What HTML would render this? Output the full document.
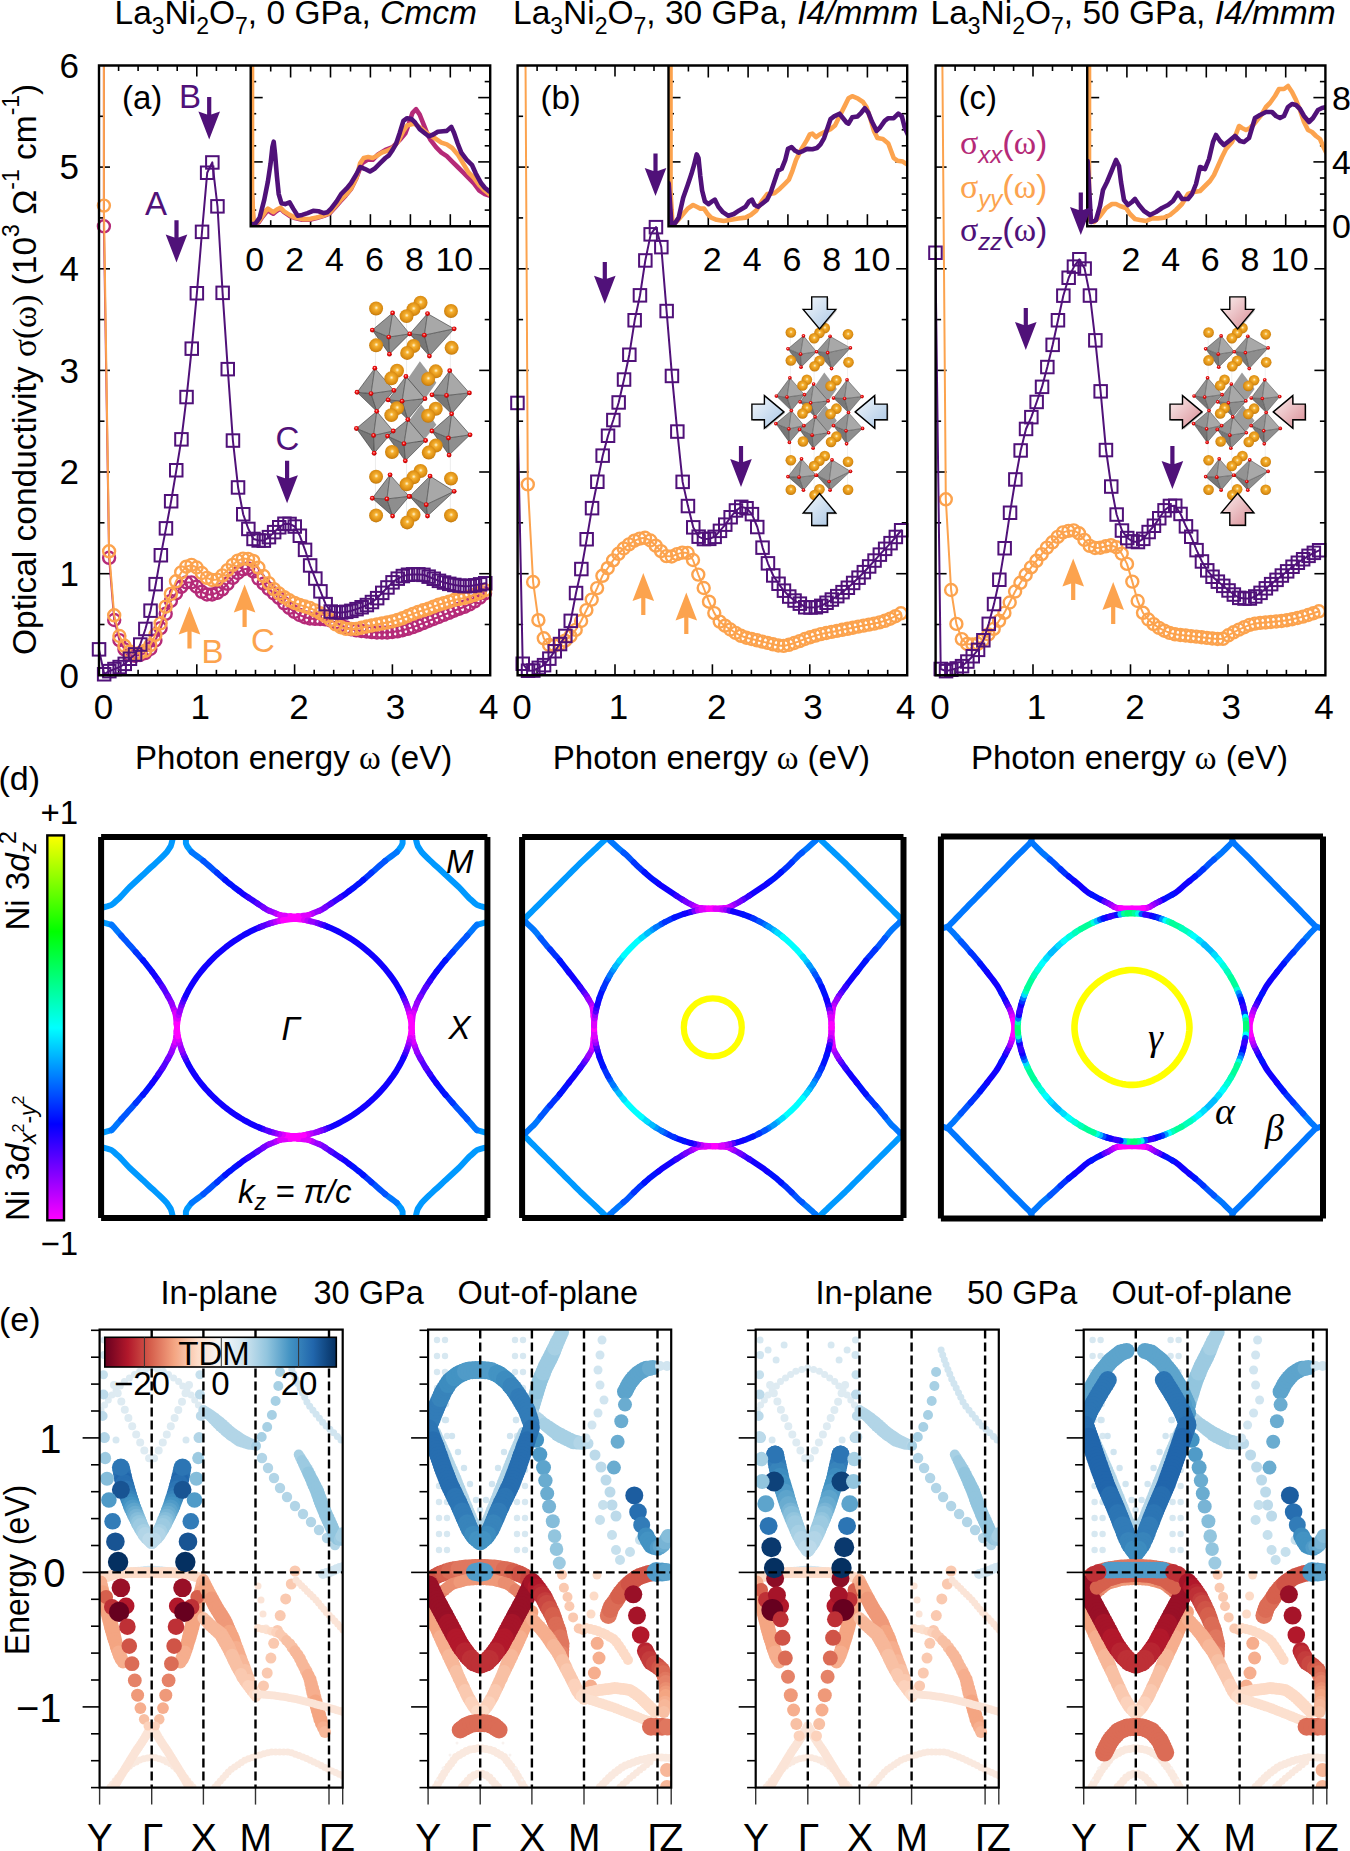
<!DOCTYPE html><html><head><meta charset="utf-8"><style>html,body{margin:0;padding:0;background:#fff;overflow:hidden}svg{display:block}</style></head><body><svg width="1350" height="1851" viewBox="0 0 1350 1851" font-family="Liberation Sans">
<rect width="100%" height="100%" fill="#fff"/>
<defs>
<clipPath id="clipa"><rect x="99.0" y="65.5" width="391.2" height="609.8"/></clipPath>
<clipPath id="iclipa"><rect x="250.7" y="65.5" width="239.5" height="160.7"/></clipPath>
<clipPath id="clipb"><rect x="517.6" y="65.5" width="389.6" height="609.8"/></clipPath>
<clipPath id="iclipb"><rect x="668.5" y="65.5" width="238.70000000000005" height="160.7"/></clipPath>
<clipPath id="clipc"><rect x="935.6" y="65.5" width="389.80000000000007" height="609.8"/></clipPath>
<clipPath id="iclipc"><rect x="1087.2" y="65.5" width="238.20000000000005" height="160.7"/></clipPath>
<radialGradient id="gSph" cx="0.5" cy="0.45" r="0.6" fx="0.52" fy="0.45"><stop offset="0" stop-color="#fff8d8"/><stop offset="0.25" stop-color="#f5b030"/><stop offset="0.75" stop-color="#d98a10"/><stop offset="1" stop-color="#a86a10"/></radialGradient>
<radialGradient id="gO" cx="0.45" cy="0.4" r="0.6"><stop offset="0" stop-color="#ffd0d0"/><stop offset="0.4" stop-color="#f01010"/><stop offset="1" stop-color="#b00000"/></radialGradient>
<linearGradient id="gFaceL" x1="0" y1="0" x2="1" y2="1"><stop offset="0" stop-color="#8c8c8c"/><stop offset="1" stop-color="#6a6a6a"/></linearGradient>
<linearGradient id="gFaceR" x1="0" y1="0" x2="1" y2="1"><stop offset="0" stop-color="#b4b4b4"/><stop offset="1" stop-color="#8a8a8a"/></linearGradient>
<linearGradient id="gArrB" x1="0" y1="0" x2="1" y2="1"><stop offset="0" stop-color="#f4f8fc"/><stop offset="1" stop-color="#a9c6e4"/></linearGradient>
<linearGradient id="gArrR" x1="0" y1="0" x2="1" y2="1"><stop offset="0" stop-color="#fbf0f0"/><stop offset="1" stop-color="#d98c94"/></linearGradient>
</defs>
<line x1="118.6" y1="675.3" x2="118.6" y2="669.8" stroke="#000" stroke-width="1.6" />
<line x1="118.6" y1="65.5" x2="118.6" y2="71.0" stroke="#000" stroke-width="1.6" />
<line x1="138.1" y1="675.3" x2="138.1" y2="669.8" stroke="#000" stroke-width="1.6" />
<line x1="138.1" y1="65.5" x2="138.1" y2="71.0" stroke="#000" stroke-width="1.6" />
<line x1="157.7" y1="675.3" x2="157.7" y2="669.8" stroke="#000" stroke-width="1.6" />
<line x1="157.7" y1="65.5" x2="157.7" y2="71.0" stroke="#000" stroke-width="1.6" />
<line x1="177.2" y1="675.3" x2="177.2" y2="669.8" stroke="#000" stroke-width="1.6" />
<line x1="177.2" y1="65.5" x2="177.2" y2="71.0" stroke="#000" stroke-width="1.6" />
<line x1="196.8" y1="675.3" x2="196.8" y2="664.3" stroke="#000" stroke-width="1.6" />
<line x1="196.8" y1="65.5" x2="196.8" y2="76.5" stroke="#000" stroke-width="1.6" />
<line x1="216.4" y1="675.3" x2="216.4" y2="669.8" stroke="#000" stroke-width="1.6" />
<line x1="216.4" y1="65.5" x2="216.4" y2="71.0" stroke="#000" stroke-width="1.6" />
<line x1="235.9" y1="675.3" x2="235.9" y2="669.8" stroke="#000" stroke-width="1.6" />
<line x1="235.9" y1="65.5" x2="235.9" y2="71.0" stroke="#000" stroke-width="1.6" />
<line x1="255.5" y1="675.3" x2="255.5" y2="669.8" stroke="#000" stroke-width="1.6" />
<line x1="275.0" y1="675.3" x2="275.0" y2="669.8" stroke="#000" stroke-width="1.6" />
<line x1="294.6" y1="675.3" x2="294.6" y2="664.3" stroke="#000" stroke-width="1.6" />
<line x1="314.2" y1="675.3" x2="314.2" y2="669.8" stroke="#000" stroke-width="1.6" />
<line x1="333.7" y1="675.3" x2="333.7" y2="669.8" stroke="#000" stroke-width="1.6" />
<line x1="353.3" y1="675.3" x2="353.3" y2="669.8" stroke="#000" stroke-width="1.6" />
<line x1="372.8" y1="675.3" x2="372.8" y2="669.8" stroke="#000" stroke-width="1.6" />
<line x1="392.4" y1="675.3" x2="392.4" y2="664.3" stroke="#000" stroke-width="1.6" />
<line x1="412.0" y1="675.3" x2="412.0" y2="669.8" stroke="#000" stroke-width="1.6" />
<line x1="431.5" y1="675.3" x2="431.5" y2="669.8" stroke="#000" stroke-width="1.6" />
<line x1="451.1" y1="675.3" x2="451.1" y2="669.8" stroke="#000" stroke-width="1.6" />
<line x1="470.6" y1="675.3" x2="470.6" y2="669.8" stroke="#000" stroke-width="1.6" />
<line x1="99.0" y1="624.5" x2="104.5" y2="624.5" stroke="#000" stroke-width="1.6" />
<line x1="490.2" y1="624.5" x2="484.7" y2="624.5" stroke="#000" stroke-width="1.6" />
<line x1="99.0" y1="573.7" x2="110.0" y2="573.7" stroke="#000" stroke-width="1.6" />
<line x1="490.2" y1="573.7" x2="479.2" y2="573.7" stroke="#000" stroke-width="1.6" />
<line x1="99.0" y1="522.8" x2="104.5" y2="522.8" stroke="#000" stroke-width="1.6" />
<line x1="490.2" y1="522.8" x2="484.7" y2="522.8" stroke="#000" stroke-width="1.6" />
<line x1="99.0" y1="472.0" x2="110.0" y2="472.0" stroke="#000" stroke-width="1.6" />
<line x1="490.2" y1="472.0" x2="479.2" y2="472.0" stroke="#000" stroke-width="1.6" />
<line x1="99.0" y1="421.2" x2="104.5" y2="421.2" stroke="#000" stroke-width="1.6" />
<line x1="490.2" y1="421.2" x2="484.7" y2="421.2" stroke="#000" stroke-width="1.6" />
<line x1="99.0" y1="370.4" x2="110.0" y2="370.4" stroke="#000" stroke-width="1.6" />
<line x1="490.2" y1="370.4" x2="479.2" y2="370.4" stroke="#000" stroke-width="1.6" />
<line x1="99.0" y1="319.6" x2="104.5" y2="319.6" stroke="#000" stroke-width="1.6" />
<line x1="490.2" y1="319.6" x2="484.7" y2="319.6" stroke="#000" stroke-width="1.6" />
<line x1="99.0" y1="268.8" x2="110.0" y2="268.8" stroke="#000" stroke-width="1.6" />
<line x1="490.2" y1="268.8" x2="479.2" y2="268.8" stroke="#000" stroke-width="1.6" />
<line x1="99.0" y1="217.9" x2="104.5" y2="217.9" stroke="#000" stroke-width="1.6" />
<line x1="99.0" y1="167.1" x2="110.0" y2="167.1" stroke="#000" stroke-width="1.6" />
<line x1="99.0" y1="116.3" x2="104.5" y2="116.3" stroke="#000" stroke-width="1.6" />
<text x="103.5" y="719.4" font-size="35" text-anchor="middle" fill="#000" >0</text>
<text x="200.3" y="719.4" font-size="35" text-anchor="middle" fill="#000" >1</text>
<text x="299.0" y="719.4" font-size="35" text-anchor="middle" fill="#000" >2</text>
<text x="395.6" y="719.4" font-size="35" text-anchor="middle" fill="#000" >3</text>
<text x="488.7" y="719.4" font-size="35" text-anchor="middle" fill="#000" >4</text>
<polyline points="103.9,40.0 103.9,226.3 109.1,557.8 114.2,620.0 119.4,640.1 124.5,649.4 129.7,655.0 134.8,655.8 140.0,655.0 145.1,653.1 150.3,649.0 155.4,640.5 160.6,628.1 165.7,613.8 170.9,600.9 176.0,593.4 181.2,586.8 186.3,582.4 191.5,582.4 196.6,586.7 201.8,591.8 206.9,594.5 212.1,594.5 217.2,592.8 222.4,589.3 227.5,583.8 232.7,577.9 237.8,573.0 243.0,569.4 248.1,568.4 253.3,571.3 258.4,578.6 263.6,583.7 268.7,588.8 273.9,593.5 279.0,597.9 284.2,603.3 289.3,607.9 294.5,611.9 299.6,615.0 304.8,617.2 309.9,618.5 315.1,618.9 320.2,619.0 325.4,619.3 330.5,620.5 335.7,622.5 340.8,625.2 346.0,627.5 351.1,629.2 356.3,630.3 361.4,631.0 366.6,631.5 371.7,632.1 376.9,632.5 382.0,632.5 387.2,632.5 392.3,632.0 397.5,631.3 402.6,630.2 407.8,628.8 412.9,627.1 418.1,625.2 423.2,623.1 428.4,621.0 433.5,619.0 438.7,617.0 443.8,614.9 449.0,612.8 454.1,610.7 459.3,608.7 464.4,606.8 469.6,604.4 474.7,601.3 479.9,597.6 485.0,593.4" fill="none" stroke="#b52a78" stroke-width="2.0" stroke-linejoin="round" stroke-linecap="round" clip-path="url(#clipa)"/>
<circle cx="103.9" cy="226.3" r="6.0" fill="none" stroke="#b52a78" stroke-width="2.4"/>
<circle cx="109.1" cy="557.8" r="6.0" fill="none" stroke="#b52a78" stroke-width="2.4"/>
<circle cx="114.2" cy="620.0" r="6.0" fill="none" stroke="#b52a78" stroke-width="2.4"/>
<circle cx="119.4" cy="640.1" r="6.0" fill="none" stroke="#b52a78" stroke-width="2.4"/>
<circle cx="124.5" cy="649.4" r="6.0" fill="none" stroke="#b52a78" stroke-width="2.4"/>
<circle cx="129.7" cy="655.0" r="6.0" fill="none" stroke="#b52a78" stroke-width="2.4"/>
<circle cx="134.8" cy="655.8" r="6.0" fill="none" stroke="#b52a78" stroke-width="2.4"/>
<circle cx="140.0" cy="655.0" r="6.0" fill="none" stroke="#b52a78" stroke-width="2.4"/>
<circle cx="145.1" cy="653.1" r="6.0" fill="none" stroke="#b52a78" stroke-width="2.4"/>
<circle cx="150.3" cy="649.0" r="6.0" fill="none" stroke="#b52a78" stroke-width="2.4"/>
<circle cx="155.4" cy="640.5" r="6.0" fill="none" stroke="#b52a78" stroke-width="2.4"/>
<circle cx="160.6" cy="628.1" r="6.0" fill="none" stroke="#b52a78" stroke-width="2.4"/>
<circle cx="165.7" cy="613.8" r="6.0" fill="none" stroke="#b52a78" stroke-width="2.4"/>
<circle cx="170.9" cy="600.9" r="6.0" fill="none" stroke="#b52a78" stroke-width="2.4"/>
<circle cx="176.0" cy="593.4" r="6.0" fill="none" stroke="#b52a78" stroke-width="2.4"/>
<circle cx="181.2" cy="586.8" r="6.0" fill="none" stroke="#b52a78" stroke-width="2.4"/>
<circle cx="186.3" cy="582.4" r="6.0" fill="none" stroke="#b52a78" stroke-width="2.4"/>
<circle cx="191.5" cy="582.4" r="6.0" fill="none" stroke="#b52a78" stroke-width="2.4"/>
<circle cx="196.6" cy="586.7" r="6.0" fill="none" stroke="#b52a78" stroke-width="2.4"/>
<circle cx="201.8" cy="591.8" r="6.0" fill="none" stroke="#b52a78" stroke-width="2.4"/>
<circle cx="206.9" cy="594.5" r="6.0" fill="none" stroke="#b52a78" stroke-width="2.4"/>
<circle cx="212.1" cy="594.5" r="6.0" fill="none" stroke="#b52a78" stroke-width="2.4"/>
<circle cx="217.2" cy="592.8" r="6.0" fill="none" stroke="#b52a78" stroke-width="2.4"/>
<circle cx="222.4" cy="589.3" r="6.0" fill="none" stroke="#b52a78" stroke-width="2.4"/>
<circle cx="227.5" cy="583.8" r="6.0" fill="none" stroke="#b52a78" stroke-width="2.4"/>
<circle cx="232.7" cy="577.9" r="6.0" fill="none" stroke="#b52a78" stroke-width="2.4"/>
<circle cx="237.8" cy="573.0" r="6.0" fill="none" stroke="#b52a78" stroke-width="2.4"/>
<circle cx="243.0" cy="569.4" r="6.0" fill="none" stroke="#b52a78" stroke-width="2.4"/>
<circle cx="248.1" cy="568.4" r="6.0" fill="none" stroke="#b52a78" stroke-width="2.4"/>
<circle cx="253.3" cy="571.3" r="6.0" fill="none" stroke="#b52a78" stroke-width="2.4"/>
<circle cx="258.4" cy="578.6" r="6.0" fill="none" stroke="#b52a78" stroke-width="2.4"/>
<circle cx="263.6" cy="583.7" r="6.0" fill="none" stroke="#b52a78" stroke-width="2.4"/>
<circle cx="268.7" cy="588.8" r="6.0" fill="none" stroke="#b52a78" stroke-width="2.4"/>
<circle cx="273.9" cy="593.5" r="6.0" fill="none" stroke="#b52a78" stroke-width="2.4"/>
<circle cx="279.0" cy="597.9" r="6.0" fill="none" stroke="#b52a78" stroke-width="2.4"/>
<circle cx="284.2" cy="603.3" r="6.0" fill="none" stroke="#b52a78" stroke-width="2.4"/>
<circle cx="289.3" cy="607.9" r="6.0" fill="none" stroke="#b52a78" stroke-width="2.4"/>
<circle cx="294.5" cy="611.9" r="6.0" fill="none" stroke="#b52a78" stroke-width="2.4"/>
<circle cx="299.6" cy="615.0" r="6.0" fill="none" stroke="#b52a78" stroke-width="2.4"/>
<circle cx="304.8" cy="617.2" r="6.0" fill="none" stroke="#b52a78" stroke-width="2.4"/>
<circle cx="309.9" cy="618.5" r="6.0" fill="none" stroke="#b52a78" stroke-width="2.4"/>
<circle cx="315.1" cy="618.9" r="6.0" fill="none" stroke="#b52a78" stroke-width="2.4"/>
<circle cx="320.2" cy="619.0" r="6.0" fill="none" stroke="#b52a78" stroke-width="2.4"/>
<circle cx="325.4" cy="619.3" r="6.0" fill="none" stroke="#b52a78" stroke-width="2.4"/>
<circle cx="330.5" cy="620.5" r="6.0" fill="none" stroke="#b52a78" stroke-width="2.4"/>
<circle cx="335.7" cy="622.5" r="6.0" fill="none" stroke="#b52a78" stroke-width="2.4"/>
<circle cx="340.8" cy="625.2" r="6.0" fill="none" stroke="#b52a78" stroke-width="2.4"/>
<circle cx="346.0" cy="627.5" r="6.0" fill="none" stroke="#b52a78" stroke-width="2.4"/>
<circle cx="351.1" cy="629.2" r="6.0" fill="none" stroke="#b52a78" stroke-width="2.4"/>
<circle cx="356.3" cy="630.3" r="6.0" fill="none" stroke="#b52a78" stroke-width="2.4"/>
<circle cx="361.4" cy="631.0" r="6.0" fill="none" stroke="#b52a78" stroke-width="2.4"/>
<circle cx="366.6" cy="631.5" r="6.0" fill="none" stroke="#b52a78" stroke-width="2.4"/>
<circle cx="371.7" cy="632.1" r="6.0" fill="none" stroke="#b52a78" stroke-width="2.4"/>
<circle cx="376.9" cy="632.5" r="6.0" fill="none" stroke="#b52a78" stroke-width="2.4"/>
<circle cx="382.0" cy="632.5" r="6.0" fill="none" stroke="#b52a78" stroke-width="2.4"/>
<circle cx="387.2" cy="632.5" r="6.0" fill="none" stroke="#b52a78" stroke-width="2.4"/>
<circle cx="392.3" cy="632.0" r="6.0" fill="none" stroke="#b52a78" stroke-width="2.4"/>
<circle cx="397.5" cy="631.3" r="6.0" fill="none" stroke="#b52a78" stroke-width="2.4"/>
<circle cx="402.6" cy="630.2" r="6.0" fill="none" stroke="#b52a78" stroke-width="2.4"/>
<circle cx="407.8" cy="628.8" r="6.0" fill="none" stroke="#b52a78" stroke-width="2.4"/>
<circle cx="412.9" cy="627.1" r="6.0" fill="none" stroke="#b52a78" stroke-width="2.4"/>
<circle cx="418.1" cy="625.2" r="6.0" fill="none" stroke="#b52a78" stroke-width="2.4"/>
<circle cx="423.2" cy="623.1" r="6.0" fill="none" stroke="#b52a78" stroke-width="2.4"/>
<circle cx="428.4" cy="621.0" r="6.0" fill="none" stroke="#b52a78" stroke-width="2.4"/>
<circle cx="433.5" cy="619.0" r="6.0" fill="none" stroke="#b52a78" stroke-width="2.4"/>
<circle cx="438.7" cy="617.0" r="6.0" fill="none" stroke="#b52a78" stroke-width="2.4"/>
<circle cx="443.8" cy="614.9" r="6.0" fill="none" stroke="#b52a78" stroke-width="2.4"/>
<circle cx="449.0" cy="612.8" r="6.0" fill="none" stroke="#b52a78" stroke-width="2.4"/>
<circle cx="454.1" cy="610.7" r="6.0" fill="none" stroke="#b52a78" stroke-width="2.4"/>
<circle cx="459.3" cy="608.7" r="6.0" fill="none" stroke="#b52a78" stroke-width="2.4"/>
<circle cx="464.4" cy="606.8" r="6.0" fill="none" stroke="#b52a78" stroke-width="2.4"/>
<circle cx="469.6" cy="604.4" r="6.0" fill="none" stroke="#b52a78" stroke-width="2.4"/>
<circle cx="474.7" cy="601.3" r="6.0" fill="none" stroke="#b52a78" stroke-width="2.4"/>
<circle cx="479.9" cy="597.6" r="6.0" fill="none" stroke="#b52a78" stroke-width="2.4"/>
<circle cx="485.0" cy="593.4" r="6.0" fill="none" stroke="#b52a78" stroke-width="2.4"/>
<polyline points="103.9,40.0 103.9,205.6 109.1,551.3 114.2,615.3 119.4,636.0 124.5,645.8 129.7,651.5 134.8,653.8 140.0,653.0 145.1,650.8 150.3,645.2 155.4,634.8 160.6,623.3 165.7,606.7 170.9,593.9 176.0,581.3 181.2,572.4 186.3,566.7 191.5,564.9 196.6,567.5 201.8,573.0 206.9,577.9 212.1,580.0 217.2,579.6 222.4,575.4 227.5,570.1 232.7,564.9 237.8,560.6 243.0,558.6 248.1,558.9 253.3,560.9 258.4,567.6 263.6,576.0 268.7,583.1 273.9,589.1 279.0,593.5 284.2,597.2 289.3,600.3 294.5,602.9 299.6,604.9 304.8,606.5 309.9,608.0 315.1,610.4 320.2,613.2 325.4,616.2 330.5,620.0 335.7,624.3 340.8,627.2 346.0,628.9 351.1,628.9 356.3,628.9 361.4,627.7 366.6,626.5 371.7,625.5 376.9,624.5 382.0,623.5 387.2,622.5 392.3,621.4 397.5,619.9 402.6,618.2 407.8,616.0 412.9,613.9 418.1,611.9 423.2,610.3 428.4,608.7 433.5,606.6 438.7,604.7 443.8,603.2 449.0,601.6 454.1,600.0 459.3,599.0 464.4,598.0 469.6,596.5 474.7,594.8 479.9,592.8 485.0,590.2" fill="none" stroke="#fca34e" stroke-width="2.0" stroke-linejoin="round" stroke-linecap="round" clip-path="url(#clipa)"/>
<circle cx="103.9" cy="205.6" r="6.0" fill="none" stroke="#fca34e" stroke-width="2.4"/>
<circle cx="109.1" cy="551.3" r="6.0" fill="none" stroke="#fca34e" stroke-width="2.4"/>
<circle cx="114.2" cy="615.3" r="6.0" fill="none" stroke="#fca34e" stroke-width="2.4"/>
<circle cx="119.4" cy="636.0" r="6.0" fill="none" stroke="#fca34e" stroke-width="2.4"/>
<circle cx="124.5" cy="645.8" r="6.0" fill="none" stroke="#fca34e" stroke-width="2.4"/>
<circle cx="129.7" cy="651.5" r="6.0" fill="none" stroke="#fca34e" stroke-width="2.4"/>
<circle cx="134.8" cy="653.8" r="6.0" fill="none" stroke="#fca34e" stroke-width="2.4"/>
<circle cx="140.0" cy="653.0" r="6.0" fill="none" stroke="#fca34e" stroke-width="2.4"/>
<circle cx="145.1" cy="650.8" r="6.0" fill="none" stroke="#fca34e" stroke-width="2.4"/>
<circle cx="150.3" cy="645.2" r="6.0" fill="none" stroke="#fca34e" stroke-width="2.4"/>
<circle cx="155.4" cy="634.8" r="6.0" fill="none" stroke="#fca34e" stroke-width="2.4"/>
<circle cx="160.6" cy="623.3" r="6.0" fill="none" stroke="#fca34e" stroke-width="2.4"/>
<circle cx="165.7" cy="606.7" r="6.0" fill="none" stroke="#fca34e" stroke-width="2.4"/>
<circle cx="170.9" cy="593.9" r="6.0" fill="none" stroke="#fca34e" stroke-width="2.4"/>
<circle cx="176.0" cy="581.3" r="6.0" fill="none" stroke="#fca34e" stroke-width="2.4"/>
<circle cx="181.2" cy="572.4" r="6.0" fill="none" stroke="#fca34e" stroke-width="2.4"/>
<circle cx="186.3" cy="566.7" r="6.0" fill="none" stroke="#fca34e" stroke-width="2.4"/>
<circle cx="191.5" cy="564.9" r="6.0" fill="none" stroke="#fca34e" stroke-width="2.4"/>
<circle cx="196.6" cy="567.5" r="6.0" fill="none" stroke="#fca34e" stroke-width="2.4"/>
<circle cx="201.8" cy="573.0" r="6.0" fill="none" stroke="#fca34e" stroke-width="2.4"/>
<circle cx="206.9" cy="577.9" r="6.0" fill="none" stroke="#fca34e" stroke-width="2.4"/>
<circle cx="212.1" cy="580.0" r="6.0" fill="none" stroke="#fca34e" stroke-width="2.4"/>
<circle cx="217.2" cy="579.6" r="6.0" fill="none" stroke="#fca34e" stroke-width="2.4"/>
<circle cx="222.4" cy="575.4" r="6.0" fill="none" stroke="#fca34e" stroke-width="2.4"/>
<circle cx="227.5" cy="570.1" r="6.0" fill="none" stroke="#fca34e" stroke-width="2.4"/>
<circle cx="232.7" cy="564.9" r="6.0" fill="none" stroke="#fca34e" stroke-width="2.4"/>
<circle cx="237.8" cy="560.6" r="6.0" fill="none" stroke="#fca34e" stroke-width="2.4"/>
<circle cx="243.0" cy="558.6" r="6.0" fill="none" stroke="#fca34e" stroke-width="2.4"/>
<circle cx="248.1" cy="558.9" r="6.0" fill="none" stroke="#fca34e" stroke-width="2.4"/>
<circle cx="253.3" cy="560.9" r="6.0" fill="none" stroke="#fca34e" stroke-width="2.4"/>
<circle cx="258.4" cy="567.6" r="6.0" fill="none" stroke="#fca34e" stroke-width="2.4"/>
<circle cx="263.6" cy="576.0" r="6.0" fill="none" stroke="#fca34e" stroke-width="2.4"/>
<circle cx="268.7" cy="583.1" r="6.0" fill="none" stroke="#fca34e" stroke-width="2.4"/>
<circle cx="273.9" cy="589.1" r="6.0" fill="none" stroke="#fca34e" stroke-width="2.4"/>
<circle cx="279.0" cy="593.5" r="6.0" fill="none" stroke="#fca34e" stroke-width="2.4"/>
<circle cx="284.2" cy="597.2" r="6.0" fill="none" stroke="#fca34e" stroke-width="2.4"/>
<circle cx="289.3" cy="600.3" r="6.0" fill="none" stroke="#fca34e" stroke-width="2.4"/>
<circle cx="294.5" cy="602.9" r="6.0" fill="none" stroke="#fca34e" stroke-width="2.4"/>
<circle cx="299.6" cy="604.9" r="6.0" fill="none" stroke="#fca34e" stroke-width="2.4"/>
<circle cx="304.8" cy="606.5" r="6.0" fill="none" stroke="#fca34e" stroke-width="2.4"/>
<circle cx="309.9" cy="608.0" r="6.0" fill="none" stroke="#fca34e" stroke-width="2.4"/>
<circle cx="315.1" cy="610.4" r="6.0" fill="none" stroke="#fca34e" stroke-width="2.4"/>
<circle cx="320.2" cy="613.2" r="6.0" fill="none" stroke="#fca34e" stroke-width="2.4"/>
<circle cx="325.4" cy="616.2" r="6.0" fill="none" stroke="#fca34e" stroke-width="2.4"/>
<circle cx="330.5" cy="620.0" r="6.0" fill="none" stroke="#fca34e" stroke-width="2.4"/>
<circle cx="335.7" cy="624.3" r="6.0" fill="none" stroke="#fca34e" stroke-width="2.4"/>
<circle cx="340.8" cy="627.2" r="6.0" fill="none" stroke="#fca34e" stroke-width="2.4"/>
<circle cx="346.0" cy="628.9" r="6.0" fill="none" stroke="#fca34e" stroke-width="2.4"/>
<circle cx="351.1" cy="628.9" r="6.0" fill="none" stroke="#fca34e" stroke-width="2.4"/>
<circle cx="356.3" cy="628.9" r="6.0" fill="none" stroke="#fca34e" stroke-width="2.4"/>
<circle cx="361.4" cy="627.7" r="6.0" fill="none" stroke="#fca34e" stroke-width="2.4"/>
<circle cx="366.6" cy="626.5" r="6.0" fill="none" stroke="#fca34e" stroke-width="2.4"/>
<circle cx="371.7" cy="625.5" r="6.0" fill="none" stroke="#fca34e" stroke-width="2.4"/>
<circle cx="376.9" cy="624.5" r="6.0" fill="none" stroke="#fca34e" stroke-width="2.4"/>
<circle cx="382.0" cy="623.5" r="6.0" fill="none" stroke="#fca34e" stroke-width="2.4"/>
<circle cx="387.2" cy="622.5" r="6.0" fill="none" stroke="#fca34e" stroke-width="2.4"/>
<circle cx="392.3" cy="621.4" r="6.0" fill="none" stroke="#fca34e" stroke-width="2.4"/>
<circle cx="397.5" cy="619.9" r="6.0" fill="none" stroke="#fca34e" stroke-width="2.4"/>
<circle cx="402.6" cy="618.2" r="6.0" fill="none" stroke="#fca34e" stroke-width="2.4"/>
<circle cx="407.8" cy="616.0" r="6.0" fill="none" stroke="#fca34e" stroke-width="2.4"/>
<circle cx="412.9" cy="613.9" r="6.0" fill="none" stroke="#fca34e" stroke-width="2.4"/>
<circle cx="418.1" cy="611.9" r="6.0" fill="none" stroke="#fca34e" stroke-width="2.4"/>
<circle cx="423.2" cy="610.3" r="6.0" fill="none" stroke="#fca34e" stroke-width="2.4"/>
<circle cx="428.4" cy="608.7" r="6.0" fill="none" stroke="#fca34e" stroke-width="2.4"/>
<circle cx="433.5" cy="606.6" r="6.0" fill="none" stroke="#fca34e" stroke-width="2.4"/>
<circle cx="438.7" cy="604.7" r="6.0" fill="none" stroke="#fca34e" stroke-width="2.4"/>
<circle cx="443.8" cy="603.2" r="6.0" fill="none" stroke="#fca34e" stroke-width="2.4"/>
<circle cx="449.0" cy="601.6" r="6.0" fill="none" stroke="#fca34e" stroke-width="2.4"/>
<circle cx="454.1" cy="600.0" r="6.0" fill="none" stroke="#fca34e" stroke-width="2.4"/>
<circle cx="459.3" cy="599.0" r="6.0" fill="none" stroke="#fca34e" stroke-width="2.4"/>
<circle cx="464.4" cy="598.0" r="6.0" fill="none" stroke="#fca34e" stroke-width="2.4"/>
<circle cx="469.6" cy="596.5" r="6.0" fill="none" stroke="#fca34e" stroke-width="2.4"/>
<circle cx="474.7" cy="594.8" r="6.0" fill="none" stroke="#fca34e" stroke-width="2.4"/>
<circle cx="479.9" cy="592.8" r="6.0" fill="none" stroke="#fca34e" stroke-width="2.4"/>
<circle cx="485.0" cy="590.2" r="6.0" fill="none" stroke="#fca34e" stroke-width="2.4"/>
<polyline points="99.0,649.4 104.2,674.2 109.3,671.1 114.5,669.1 119.6,667.0 124.8,663.9 129.9,658.8 135.1,654.4 140.2,644.5 145.4,629.0 150.5,610.7 155.7,584.2 160.8,555.3 166.0,528.4 171.1,501.3 176.3,470.3 181.4,439.4 186.6,397.1 191.7,348.6 196.9,293.2 202.0,231.9 207.2,172.8 212.3,162.4 217.5,206.4 222.6,292.9 227.8,369.2 232.9,440.5 238.1,487.5 243.2,514.3 248.4,529.0 253.5,539.0 258.7,540.4 263.8,540.6 269.0,537.1 274.1,532.1 279.3,527.2 284.4,523.7 289.6,523.9 294.7,526.5 299.9,535.8 305.0,549.8 310.2,565.5 315.3,578.6 320.5,591.3 325.6,604.2 330.8,611.6 335.9,612.4 341.1,612.4 346.2,611.9 351.4,610.8 356.5,609.1 361.7,607.3 366.8,605.0 372.0,602.1 377.1,598.2 382.3,592.8 387.4,587.5 392.6,582.4 397.7,578.6 402.9,576.1 408.0,574.8 413.2,574.4 418.3,574.4 423.5,574.8 428.6,576.7 433.8,578.8 438.9,580.9 444.1,582.5 449.2,583.8 454.4,584.9 459.5,585.7 464.7,586.2 469.8,586.0 475.0,585.3 480.1,584.3 485.3,583.3" fill="none" stroke="#501179" stroke-width="2.0" stroke-linejoin="round" stroke-linecap="round" clip-path="url(#clipa)"/>
<rect x="92.8" y="643.1" width="12.5" height="12.5" fill="none" stroke="#501179" stroke-width="2.0"/>
<rect x="97.9" y="668.0" width="12.5" height="12.5" fill="none" stroke="#501179" stroke-width="2.0"/>
<rect x="103.1" y="664.9" width="12.5" height="12.5" fill="none" stroke="#501179" stroke-width="2.0"/>
<rect x="108.2" y="662.8" width="12.5" height="12.5" fill="none" stroke="#501179" stroke-width="2.0"/>
<rect x="113.4" y="660.8" width="12.5" height="12.5" fill="none" stroke="#501179" stroke-width="2.0"/>
<rect x="118.5" y="657.6" width="12.5" height="12.5" fill="none" stroke="#501179" stroke-width="2.0"/>
<rect x="123.7" y="652.5" width="12.5" height="12.5" fill="none" stroke="#501179" stroke-width="2.0"/>
<rect x="128.8" y="648.2" width="12.5" height="12.5" fill="none" stroke="#501179" stroke-width="2.0"/>
<rect x="134.0" y="638.3" width="12.5" height="12.5" fill="none" stroke="#501179" stroke-width="2.0"/>
<rect x="139.1" y="622.7" width="12.5" height="12.5" fill="none" stroke="#501179" stroke-width="2.0"/>
<rect x="144.3" y="604.4" width="12.5" height="12.5" fill="none" stroke="#501179" stroke-width="2.0"/>
<rect x="149.4" y="577.9" width="12.5" height="12.5" fill="none" stroke="#501179" stroke-width="2.0"/>
<rect x="154.6" y="549.0" width="12.5" height="12.5" fill="none" stroke="#501179" stroke-width="2.0"/>
<rect x="159.7" y="522.1" width="12.5" height="12.5" fill="none" stroke="#501179" stroke-width="2.0"/>
<rect x="164.9" y="495.0" width="12.5" height="12.5" fill="none" stroke="#501179" stroke-width="2.0"/>
<rect x="170.0" y="464.0" width="12.5" height="12.5" fill="none" stroke="#501179" stroke-width="2.0"/>
<rect x="175.2" y="433.1" width="12.5" height="12.5" fill="none" stroke="#501179" stroke-width="2.0"/>
<rect x="180.3" y="390.8" width="12.5" height="12.5" fill="none" stroke="#501179" stroke-width="2.0"/>
<rect x="185.5" y="342.4" width="12.5" height="12.5" fill="none" stroke="#501179" stroke-width="2.0"/>
<rect x="190.6" y="287.0" width="12.5" height="12.5" fill="none" stroke="#501179" stroke-width="2.0"/>
<rect x="195.8" y="225.6" width="12.5" height="12.5" fill="none" stroke="#501179" stroke-width="2.0"/>
<rect x="200.9" y="166.5" width="12.5" height="12.5" fill="none" stroke="#501179" stroke-width="2.0"/>
<rect x="206.1" y="156.2" width="12.5" height="12.5" fill="none" stroke="#501179" stroke-width="2.0"/>
<rect x="211.2" y="200.1" width="12.5" height="12.5" fill="none" stroke="#501179" stroke-width="2.0"/>
<rect x="216.4" y="286.6" width="12.5" height="12.5" fill="none" stroke="#501179" stroke-width="2.0"/>
<rect x="221.5" y="362.9" width="12.5" height="12.5" fill="none" stroke="#501179" stroke-width="2.0"/>
<rect x="226.7" y="434.3" width="12.5" height="12.5" fill="none" stroke="#501179" stroke-width="2.0"/>
<rect x="231.8" y="481.2" width="12.5" height="12.5" fill="none" stroke="#501179" stroke-width="2.0"/>
<rect x="237.0" y="508.0" width="12.5" height="12.5" fill="none" stroke="#501179" stroke-width="2.0"/>
<rect x="242.1" y="522.7" width="12.5" height="12.5" fill="none" stroke="#501179" stroke-width="2.0"/>
<rect x="247.3" y="532.7" width="12.5" height="12.5" fill="none" stroke="#501179" stroke-width="2.0"/>
<rect x="252.4" y="534.2" width="12.5" height="12.5" fill="none" stroke="#501179" stroke-width="2.0"/>
<rect x="257.6" y="534.4" width="12.5" height="12.5" fill="none" stroke="#501179" stroke-width="2.0"/>
<rect x="262.7" y="530.9" width="12.5" height="12.5" fill="none" stroke="#501179" stroke-width="2.0"/>
<rect x="267.9" y="525.9" width="12.5" height="12.5" fill="none" stroke="#501179" stroke-width="2.0"/>
<rect x="273.0" y="521.0" width="12.5" height="12.5" fill="none" stroke="#501179" stroke-width="2.0"/>
<rect x="278.2" y="517.5" width="12.5" height="12.5" fill="none" stroke="#501179" stroke-width="2.0"/>
<rect x="283.3" y="517.7" width="12.5" height="12.5" fill="none" stroke="#501179" stroke-width="2.0"/>
<rect x="288.5" y="520.3" width="12.5" height="12.5" fill="none" stroke="#501179" stroke-width="2.0"/>
<rect x="293.6" y="529.5" width="12.5" height="12.5" fill="none" stroke="#501179" stroke-width="2.0"/>
<rect x="298.8" y="543.6" width="12.5" height="12.5" fill="none" stroke="#501179" stroke-width="2.0"/>
<rect x="303.9" y="559.2" width="12.5" height="12.5" fill="none" stroke="#501179" stroke-width="2.0"/>
<rect x="309.1" y="572.3" width="12.5" height="12.5" fill="none" stroke="#501179" stroke-width="2.0"/>
<rect x="314.2" y="585.1" width="12.5" height="12.5" fill="none" stroke="#501179" stroke-width="2.0"/>
<rect x="319.4" y="597.9" width="12.5" height="12.5" fill="none" stroke="#501179" stroke-width="2.0"/>
<rect x="324.5" y="605.3" width="12.5" height="12.5" fill="none" stroke="#501179" stroke-width="2.0"/>
<rect x="329.7" y="606.1" width="12.5" height="12.5" fill="none" stroke="#501179" stroke-width="2.0"/>
<rect x="334.8" y="606.2" width="12.5" height="12.5" fill="none" stroke="#501179" stroke-width="2.0"/>
<rect x="340.0" y="605.6" width="12.5" height="12.5" fill="none" stroke="#501179" stroke-width="2.0"/>
<rect x="345.1" y="604.6" width="12.5" height="12.5" fill="none" stroke="#501179" stroke-width="2.0"/>
<rect x="350.3" y="602.9" width="12.5" height="12.5" fill="none" stroke="#501179" stroke-width="2.0"/>
<rect x="355.4" y="601.0" width="12.5" height="12.5" fill="none" stroke="#501179" stroke-width="2.0"/>
<rect x="360.6" y="598.8" width="12.5" height="12.5" fill="none" stroke="#501179" stroke-width="2.0"/>
<rect x="365.7" y="595.8" width="12.5" height="12.5" fill="none" stroke="#501179" stroke-width="2.0"/>
<rect x="370.9" y="591.9" width="12.5" height="12.5" fill="none" stroke="#501179" stroke-width="2.0"/>
<rect x="376.0" y="586.6" width="12.5" height="12.5" fill="none" stroke="#501179" stroke-width="2.0"/>
<rect x="381.2" y="581.2" width="12.5" height="12.5" fill="none" stroke="#501179" stroke-width="2.0"/>
<rect x="386.3" y="576.1" width="12.5" height="12.5" fill="none" stroke="#501179" stroke-width="2.0"/>
<rect x="391.5" y="572.4" width="12.5" height="12.5" fill="none" stroke="#501179" stroke-width="2.0"/>
<rect x="396.6" y="569.8" width="12.5" height="12.5" fill="none" stroke="#501179" stroke-width="2.0"/>
<rect x="401.8" y="568.5" width="12.5" height="12.5" fill="none" stroke="#501179" stroke-width="2.0"/>
<rect x="406.9" y="568.1" width="12.5" height="12.5" fill="none" stroke="#501179" stroke-width="2.0"/>
<rect x="412.1" y="568.1" width="12.5" height="12.5" fill="none" stroke="#501179" stroke-width="2.0"/>
<rect x="417.2" y="568.6" width="12.5" height="12.5" fill="none" stroke="#501179" stroke-width="2.0"/>
<rect x="422.4" y="570.4" width="12.5" height="12.5" fill="none" stroke="#501179" stroke-width="2.0"/>
<rect x="427.5" y="572.5" width="12.5" height="12.5" fill="none" stroke="#501179" stroke-width="2.0"/>
<rect x="432.7" y="574.6" width="12.5" height="12.5" fill="none" stroke="#501179" stroke-width="2.0"/>
<rect x="437.8" y="576.3" width="12.5" height="12.5" fill="none" stroke="#501179" stroke-width="2.0"/>
<rect x="443.0" y="577.6" width="12.5" height="12.5" fill="none" stroke="#501179" stroke-width="2.0"/>
<rect x="448.1" y="578.7" width="12.5" height="12.5" fill="none" stroke="#501179" stroke-width="2.0"/>
<rect x="453.3" y="579.4" width="12.5" height="12.5" fill="none" stroke="#501179" stroke-width="2.0"/>
<rect x="458.4" y="579.9" width="12.5" height="12.5" fill="none" stroke="#501179" stroke-width="2.0"/>
<rect x="463.6" y="579.7" width="12.5" height="12.5" fill="none" stroke="#501179" stroke-width="2.0"/>
<rect x="468.7" y="579.1" width="12.5" height="12.5" fill="none" stroke="#501179" stroke-width="2.0"/>
<rect x="473.9" y="578.1" width="12.5" height="12.5" fill="none" stroke="#501179" stroke-width="2.0"/>
<rect x="479.0" y="577.0" width="12.5" height="12.5" fill="none" stroke="#501179" stroke-width="2.0"/>
<line x1="537.1" y1="675.3" x2="537.1" y2="669.8" stroke="#000" stroke-width="1.6" />
<line x1="537.1" y1="65.5" x2="537.1" y2="71.0" stroke="#000" stroke-width="1.6" />
<line x1="556.6" y1="675.3" x2="556.6" y2="669.8" stroke="#000" stroke-width="1.6" />
<line x1="556.6" y1="65.5" x2="556.6" y2="71.0" stroke="#000" stroke-width="1.6" />
<line x1="576.0" y1="675.3" x2="576.0" y2="669.8" stroke="#000" stroke-width="1.6" />
<line x1="576.0" y1="65.5" x2="576.0" y2="71.0" stroke="#000" stroke-width="1.6" />
<line x1="595.5" y1="675.3" x2="595.5" y2="669.8" stroke="#000" stroke-width="1.6" />
<line x1="595.5" y1="65.5" x2="595.5" y2="71.0" stroke="#000" stroke-width="1.6" />
<line x1="615.0" y1="675.3" x2="615.0" y2="664.3" stroke="#000" stroke-width="1.6" />
<line x1="615.0" y1="65.5" x2="615.0" y2="76.5" stroke="#000" stroke-width="1.6" />
<line x1="634.5" y1="675.3" x2="634.5" y2="669.8" stroke="#000" stroke-width="1.6" />
<line x1="634.5" y1="65.5" x2="634.5" y2="71.0" stroke="#000" stroke-width="1.6" />
<line x1="654.0" y1="675.3" x2="654.0" y2="669.8" stroke="#000" stroke-width="1.6" />
<line x1="654.0" y1="65.5" x2="654.0" y2="71.0" stroke="#000" stroke-width="1.6" />
<line x1="673.4" y1="675.3" x2="673.4" y2="669.8" stroke="#000" stroke-width="1.6" />
<line x1="692.9" y1="675.3" x2="692.9" y2="669.8" stroke="#000" stroke-width="1.6" />
<line x1="712.4" y1="675.3" x2="712.4" y2="664.3" stroke="#000" stroke-width="1.6" />
<line x1="731.9" y1="675.3" x2="731.9" y2="669.8" stroke="#000" stroke-width="1.6" />
<line x1="751.4" y1="675.3" x2="751.4" y2="669.8" stroke="#000" stroke-width="1.6" />
<line x1="770.8" y1="675.3" x2="770.8" y2="669.8" stroke="#000" stroke-width="1.6" />
<line x1="790.3" y1="675.3" x2="790.3" y2="669.8" stroke="#000" stroke-width="1.6" />
<line x1="809.8" y1="675.3" x2="809.8" y2="664.3" stroke="#000" stroke-width="1.6" />
<line x1="829.3" y1="675.3" x2="829.3" y2="669.8" stroke="#000" stroke-width="1.6" />
<line x1="848.8" y1="675.3" x2="848.8" y2="669.8" stroke="#000" stroke-width="1.6" />
<line x1="868.2" y1="675.3" x2="868.2" y2="669.8" stroke="#000" stroke-width="1.6" />
<line x1="887.7" y1="675.3" x2="887.7" y2="669.8" stroke="#000" stroke-width="1.6" />
<line x1="517.6" y1="624.5" x2="523.1" y2="624.5" stroke="#000" stroke-width="1.6" />
<line x1="907.2" y1="624.5" x2="901.7" y2="624.5" stroke="#000" stroke-width="1.6" />
<line x1="517.6" y1="573.7" x2="528.6" y2="573.7" stroke="#000" stroke-width="1.6" />
<line x1="907.2" y1="573.7" x2="896.2" y2="573.7" stroke="#000" stroke-width="1.6" />
<line x1="517.6" y1="522.8" x2="523.1" y2="522.8" stroke="#000" stroke-width="1.6" />
<line x1="907.2" y1="522.8" x2="901.7" y2="522.8" stroke="#000" stroke-width="1.6" />
<line x1="517.6" y1="472.0" x2="528.6" y2="472.0" stroke="#000" stroke-width="1.6" />
<line x1="907.2" y1="472.0" x2="896.2" y2="472.0" stroke="#000" stroke-width="1.6" />
<line x1="517.6" y1="421.2" x2="523.1" y2="421.2" stroke="#000" stroke-width="1.6" />
<line x1="907.2" y1="421.2" x2="901.7" y2="421.2" stroke="#000" stroke-width="1.6" />
<line x1="517.6" y1="370.4" x2="528.6" y2="370.4" stroke="#000" stroke-width="1.6" />
<line x1="907.2" y1="370.4" x2="896.2" y2="370.4" stroke="#000" stroke-width="1.6" />
<line x1="517.6" y1="319.6" x2="523.1" y2="319.6" stroke="#000" stroke-width="1.6" />
<line x1="907.2" y1="319.6" x2="901.7" y2="319.6" stroke="#000" stroke-width="1.6" />
<line x1="517.6" y1="268.8" x2="528.6" y2="268.8" stroke="#000" stroke-width="1.6" />
<line x1="907.2" y1="268.8" x2="896.2" y2="268.8" stroke="#000" stroke-width="1.6" />
<line x1="517.6" y1="217.9" x2="523.1" y2="217.9" stroke="#000" stroke-width="1.6" />
<line x1="517.6" y1="167.1" x2="528.6" y2="167.1" stroke="#000" stroke-width="1.6" />
<line x1="517.6" y1="116.3" x2="523.1" y2="116.3" stroke="#000" stroke-width="1.6" />
<text x="522.1" y="719.4" font-size="35" text-anchor="middle" fill="#000" >0</text>
<text x="618.5" y="719.4" font-size="35" text-anchor="middle" fill="#000" >1</text>
<text x="716.8" y="719.4" font-size="35" text-anchor="middle" fill="#000" >2</text>
<text x="813.0" y="719.4" font-size="35" text-anchor="middle" fill="#000" >3</text>
<text x="905.7" y="719.4" font-size="35" text-anchor="middle" fill="#000" >4</text>
<polyline points="525.4,40.0 527.8,484.4 533.1,582.0 538.4,620.2 543.8,638.3 549.1,645.0 554.4,645.6 559.8,644.1 565.1,640.7 570.4,636.2 575.7,629.9 581.1,621.0 586.4,610.1 591.7,599.6 597.1,588.1 602.4,575.8 607.7,568.2 613.1,560.4 618.4,553.8 623.7,548.5 629.0,544.4 634.4,540.7 639.7,538.6 645.0,537.8 650.4,540.5 655.7,545.7 661.0,551.1 666.4,556.1 671.7,556.5 677.0,554.1 682.3,552.6 687.7,553.0 693.0,560.0 698.3,574.6 703.7,588.0 709.0,601.7 714.3,613.1 719.7,621.6 725.0,625.7 730.3,629.5 735.6,632.9 741.0,635.8 746.3,637.7 751.6,639.0 757.0,640.3 762.3,641.6 767.6,642.9 773.0,644.3 778.3,645.5 783.6,645.9 788.9,644.8 794.3,643.0 799.6,641.1 804.9,639.0 810.3,637.2 815.6,635.6 820.9,634.1 826.3,633.0 831.6,631.9 836.9,630.9 842.2,629.8 847.6,628.8 852.9,627.7 858.2,626.6 863.6,625.6 868.9,624.6 874.2,623.6 879.6,622.4 884.9,620.8 890.2,618.7 895.5,616.2 900.9,613.3" fill="none" stroke="#fca34e" stroke-width="2.0" stroke-linejoin="round" stroke-linecap="round" clip-path="url(#clipb)"/>
<circle cx="527.8" cy="484.4" r="6.0" fill="none" stroke="#fca34e" stroke-width="2.4"/>
<circle cx="533.1" cy="582.0" r="6.0" fill="none" stroke="#fca34e" stroke-width="2.4"/>
<circle cx="538.4" cy="620.2" r="6.0" fill="none" stroke="#fca34e" stroke-width="2.4"/>
<circle cx="543.8" cy="638.3" r="6.0" fill="none" stroke="#fca34e" stroke-width="2.4"/>
<circle cx="549.1" cy="645.0" r="6.0" fill="none" stroke="#fca34e" stroke-width="2.4"/>
<circle cx="554.4" cy="645.6" r="6.0" fill="none" stroke="#fca34e" stroke-width="2.4"/>
<circle cx="559.8" cy="644.1" r="6.0" fill="none" stroke="#fca34e" stroke-width="2.4"/>
<circle cx="565.1" cy="640.7" r="6.0" fill="none" stroke="#fca34e" stroke-width="2.4"/>
<circle cx="570.4" cy="636.2" r="6.0" fill="none" stroke="#fca34e" stroke-width="2.4"/>
<circle cx="575.7" cy="629.9" r="6.0" fill="none" stroke="#fca34e" stroke-width="2.4"/>
<circle cx="581.1" cy="621.0" r="6.0" fill="none" stroke="#fca34e" stroke-width="2.4"/>
<circle cx="586.4" cy="610.1" r="6.0" fill="none" stroke="#fca34e" stroke-width="2.4"/>
<circle cx="591.7" cy="599.6" r="6.0" fill="none" stroke="#fca34e" stroke-width="2.4"/>
<circle cx="597.1" cy="588.1" r="6.0" fill="none" stroke="#fca34e" stroke-width="2.4"/>
<circle cx="602.4" cy="575.8" r="6.0" fill="none" stroke="#fca34e" stroke-width="2.4"/>
<circle cx="607.7" cy="568.2" r="6.0" fill="none" stroke="#fca34e" stroke-width="2.4"/>
<circle cx="613.1" cy="560.4" r="6.0" fill="none" stroke="#fca34e" stroke-width="2.4"/>
<circle cx="618.4" cy="553.8" r="6.0" fill="none" stroke="#fca34e" stroke-width="2.4"/>
<circle cx="623.7" cy="548.5" r="6.0" fill="none" stroke="#fca34e" stroke-width="2.4"/>
<circle cx="629.0" cy="544.4" r="6.0" fill="none" stroke="#fca34e" stroke-width="2.4"/>
<circle cx="634.4" cy="540.7" r="6.0" fill="none" stroke="#fca34e" stroke-width="2.4"/>
<circle cx="639.7" cy="538.6" r="6.0" fill="none" stroke="#fca34e" stroke-width="2.4"/>
<circle cx="645.0" cy="537.8" r="6.0" fill="none" stroke="#fca34e" stroke-width="2.4"/>
<circle cx="650.4" cy="540.5" r="6.0" fill="none" stroke="#fca34e" stroke-width="2.4"/>
<circle cx="655.7" cy="545.7" r="6.0" fill="none" stroke="#fca34e" stroke-width="2.4"/>
<circle cx="661.0" cy="551.1" r="6.0" fill="none" stroke="#fca34e" stroke-width="2.4"/>
<circle cx="666.4" cy="556.1" r="6.0" fill="none" stroke="#fca34e" stroke-width="2.4"/>
<circle cx="671.7" cy="556.5" r="6.0" fill="none" stroke="#fca34e" stroke-width="2.4"/>
<circle cx="677.0" cy="554.1" r="6.0" fill="none" stroke="#fca34e" stroke-width="2.4"/>
<circle cx="682.3" cy="552.6" r="6.0" fill="none" stroke="#fca34e" stroke-width="2.4"/>
<circle cx="687.7" cy="553.0" r="6.0" fill="none" stroke="#fca34e" stroke-width="2.4"/>
<circle cx="693.0" cy="560.0" r="6.0" fill="none" stroke="#fca34e" stroke-width="2.4"/>
<circle cx="698.3" cy="574.6" r="6.0" fill="none" stroke="#fca34e" stroke-width="2.4"/>
<circle cx="703.7" cy="588.0" r="6.0" fill="none" stroke="#fca34e" stroke-width="2.4"/>
<circle cx="709.0" cy="601.7" r="6.0" fill="none" stroke="#fca34e" stroke-width="2.4"/>
<circle cx="714.3" cy="613.1" r="6.0" fill="none" stroke="#fca34e" stroke-width="2.4"/>
<circle cx="719.7" cy="621.6" r="6.0" fill="none" stroke="#fca34e" stroke-width="2.4"/>
<circle cx="725.0" cy="625.7" r="6.0" fill="none" stroke="#fca34e" stroke-width="2.4"/>
<circle cx="730.3" cy="629.5" r="6.0" fill="none" stroke="#fca34e" stroke-width="2.4"/>
<circle cx="735.6" cy="632.9" r="6.0" fill="none" stroke="#fca34e" stroke-width="2.4"/>
<circle cx="741.0" cy="635.8" r="6.0" fill="none" stroke="#fca34e" stroke-width="2.4"/>
<circle cx="746.3" cy="637.7" r="6.0" fill="none" stroke="#fca34e" stroke-width="2.4"/>
<circle cx="751.6" cy="639.0" r="6.0" fill="none" stroke="#fca34e" stroke-width="2.4"/>
<circle cx="757.0" cy="640.3" r="6.0" fill="none" stroke="#fca34e" stroke-width="2.4"/>
<circle cx="762.3" cy="641.6" r="6.0" fill="none" stroke="#fca34e" stroke-width="2.4"/>
<circle cx="767.6" cy="642.9" r="6.0" fill="none" stroke="#fca34e" stroke-width="2.4"/>
<circle cx="773.0" cy="644.3" r="6.0" fill="none" stroke="#fca34e" stroke-width="2.4"/>
<circle cx="778.3" cy="645.5" r="6.0" fill="none" stroke="#fca34e" stroke-width="2.4"/>
<circle cx="783.6" cy="645.9" r="6.0" fill="none" stroke="#fca34e" stroke-width="2.4"/>
<circle cx="788.9" cy="644.8" r="6.0" fill="none" stroke="#fca34e" stroke-width="2.4"/>
<circle cx="794.3" cy="643.0" r="6.0" fill="none" stroke="#fca34e" stroke-width="2.4"/>
<circle cx="799.6" cy="641.1" r="6.0" fill="none" stroke="#fca34e" stroke-width="2.4"/>
<circle cx="804.9" cy="639.0" r="6.0" fill="none" stroke="#fca34e" stroke-width="2.4"/>
<circle cx="810.3" cy="637.2" r="6.0" fill="none" stroke="#fca34e" stroke-width="2.4"/>
<circle cx="815.6" cy="635.6" r="6.0" fill="none" stroke="#fca34e" stroke-width="2.4"/>
<circle cx="820.9" cy="634.1" r="6.0" fill="none" stroke="#fca34e" stroke-width="2.4"/>
<circle cx="826.3" cy="633.0" r="6.0" fill="none" stroke="#fca34e" stroke-width="2.4"/>
<circle cx="831.6" cy="631.9" r="6.0" fill="none" stroke="#fca34e" stroke-width="2.4"/>
<circle cx="836.9" cy="630.9" r="6.0" fill="none" stroke="#fca34e" stroke-width="2.4"/>
<circle cx="842.2" cy="629.8" r="6.0" fill="none" stroke="#fca34e" stroke-width="2.4"/>
<circle cx="847.6" cy="628.8" r="6.0" fill="none" stroke="#fca34e" stroke-width="2.4"/>
<circle cx="852.9" cy="627.7" r="6.0" fill="none" stroke="#fca34e" stroke-width="2.4"/>
<circle cx="858.2" cy="626.6" r="6.0" fill="none" stroke="#fca34e" stroke-width="2.4"/>
<circle cx="863.6" cy="625.6" r="6.0" fill="none" stroke="#fca34e" stroke-width="2.4"/>
<circle cx="868.9" cy="624.6" r="6.0" fill="none" stroke="#fca34e" stroke-width="2.4"/>
<circle cx="874.2" cy="623.6" r="6.0" fill="none" stroke="#fca34e" stroke-width="2.4"/>
<circle cx="879.6" cy="622.4" r="6.0" fill="none" stroke="#fca34e" stroke-width="2.4"/>
<circle cx="884.9" cy="620.8" r="6.0" fill="none" stroke="#fca34e" stroke-width="2.4"/>
<circle cx="890.2" cy="618.7" r="6.0" fill="none" stroke="#fca34e" stroke-width="2.4"/>
<circle cx="895.5" cy="616.2" r="6.0" fill="none" stroke="#fca34e" stroke-width="2.4"/>
<circle cx="900.9" cy="613.3" r="6.0" fill="none" stroke="#fca34e" stroke-width="2.4"/>
<polyline points="517.4,403.0 522.7,663.7 528.1,670.7 533.4,670.5 538.7,667.9 544.1,665.2 549.4,658.6 554.7,651.2 560.0,644.0 565.4,635.9 570.7,620.9 576.0,593.0 581.4,569.1 586.7,539.3 592.0,508.2 597.4,481.7 602.7,455.7 608.0,435.8 613.3,420.0 618.7,402.5 624.0,379.6 629.3,354.7 634.7,320.3 640.0,295.4 645.3,260.5 650.7,234.4 656.0,227.1 661.3,247.1 666.6,311.1 672.0,375.9 677.3,431.6 682.6,481.9 688.0,506.1 693.3,527.4 698.6,536.6 704.0,539.1 709.3,538.8 714.6,536.8 719.9,530.8 725.3,524.6 730.6,517.3 735.9,510.5 741.3,506.9 746.6,508.2 751.9,514.2 757.3,527.0 762.6,547.6 767.9,563.3 773.2,575.5 778.6,583.8 783.9,590.7 789.2,596.5 794.6,600.5 799.9,603.6 805.2,607.2 810.6,607.4 815.9,607.2 821.2,605.9 826.5,602.8 831.9,599.5 837.2,596.2 842.5,592.1 847.9,587.7 853.2,582.9 858.5,577.7 863.9,572.2 869.2,566.5 874.5,560.6 879.8,554.7 885.2,548.9 890.5,543.1 895.8,537.0 901.2,530.3" fill="none" stroke="#501179" stroke-width="2.0" stroke-linejoin="round" stroke-linecap="round" clip-path="url(#clipb)"/>
<rect x="511.2" y="396.7" width="12.5" height="12.5" fill="none" stroke="#501179" stroke-width="2.0"/>
<rect x="516.5" y="657.5" width="12.5" height="12.5" fill="none" stroke="#501179" stroke-width="2.0"/>
<rect x="521.8" y="664.5" width="12.5" height="12.5" fill="none" stroke="#501179" stroke-width="2.0"/>
<rect x="527.1" y="664.3" width="12.5" height="12.5" fill="none" stroke="#501179" stroke-width="2.0"/>
<rect x="532.5" y="661.6" width="12.5" height="12.5" fill="none" stroke="#501179" stroke-width="2.0"/>
<rect x="537.8" y="658.9" width="12.5" height="12.5" fill="none" stroke="#501179" stroke-width="2.0"/>
<rect x="543.1" y="652.4" width="12.5" height="12.5" fill="none" stroke="#501179" stroke-width="2.0"/>
<rect x="548.5" y="645.0" width="12.5" height="12.5" fill="none" stroke="#501179" stroke-width="2.0"/>
<rect x="553.8" y="637.8" width="12.5" height="12.5" fill="none" stroke="#501179" stroke-width="2.0"/>
<rect x="559.1" y="629.7" width="12.5" height="12.5" fill="none" stroke="#501179" stroke-width="2.0"/>
<rect x="564.5" y="614.6" width="12.5" height="12.5" fill="none" stroke="#501179" stroke-width="2.0"/>
<rect x="569.8" y="586.8" width="12.5" height="12.5" fill="none" stroke="#501179" stroke-width="2.0"/>
<rect x="575.1" y="562.8" width="12.5" height="12.5" fill="none" stroke="#501179" stroke-width="2.0"/>
<rect x="580.4" y="533.0" width="12.5" height="12.5" fill="none" stroke="#501179" stroke-width="2.0"/>
<rect x="585.8" y="501.9" width="12.5" height="12.5" fill="none" stroke="#501179" stroke-width="2.0"/>
<rect x="591.1" y="475.5" width="12.5" height="12.5" fill="none" stroke="#501179" stroke-width="2.0"/>
<rect x="596.4" y="449.4" width="12.5" height="12.5" fill="none" stroke="#501179" stroke-width="2.0"/>
<rect x="601.8" y="429.5" width="12.5" height="12.5" fill="none" stroke="#501179" stroke-width="2.0"/>
<rect x="607.1" y="413.8" width="12.5" height="12.5" fill="none" stroke="#501179" stroke-width="2.0"/>
<rect x="612.4" y="396.2" width="12.5" height="12.5" fill="none" stroke="#501179" stroke-width="2.0"/>
<rect x="617.8" y="373.3" width="12.5" height="12.5" fill="none" stroke="#501179" stroke-width="2.0"/>
<rect x="623.1" y="348.5" width="12.5" height="12.5" fill="none" stroke="#501179" stroke-width="2.0"/>
<rect x="628.4" y="314.0" width="12.5" height="12.5" fill="none" stroke="#501179" stroke-width="2.0"/>
<rect x="633.7" y="289.1" width="12.5" height="12.5" fill="none" stroke="#501179" stroke-width="2.0"/>
<rect x="639.1" y="254.2" width="12.5" height="12.5" fill="none" stroke="#501179" stroke-width="2.0"/>
<rect x="644.4" y="228.1" width="12.5" height="12.5" fill="none" stroke="#501179" stroke-width="2.0"/>
<rect x="649.7" y="220.9" width="12.5" height="12.5" fill="none" stroke="#501179" stroke-width="2.0"/>
<rect x="655.1" y="240.9" width="12.5" height="12.5" fill="none" stroke="#501179" stroke-width="2.0"/>
<rect x="660.4" y="304.8" width="12.5" height="12.5" fill="none" stroke="#501179" stroke-width="2.0"/>
<rect x="665.7" y="369.7" width="12.5" height="12.5" fill="none" stroke="#501179" stroke-width="2.0"/>
<rect x="671.1" y="425.3" width="12.5" height="12.5" fill="none" stroke="#501179" stroke-width="2.0"/>
<rect x="676.4" y="475.6" width="12.5" height="12.5" fill="none" stroke="#501179" stroke-width="2.0"/>
<rect x="681.7" y="499.8" width="12.5" height="12.5" fill="none" stroke="#501179" stroke-width="2.0"/>
<rect x="687.0" y="521.1" width="12.5" height="12.5" fill="none" stroke="#501179" stroke-width="2.0"/>
<rect x="692.4" y="530.4" width="12.5" height="12.5" fill="none" stroke="#501179" stroke-width="2.0"/>
<rect x="697.7" y="532.8" width="12.5" height="12.5" fill="none" stroke="#501179" stroke-width="2.0"/>
<rect x="703.0" y="532.6" width="12.5" height="12.5" fill="none" stroke="#501179" stroke-width="2.0"/>
<rect x="708.4" y="530.6" width="12.5" height="12.5" fill="none" stroke="#501179" stroke-width="2.0"/>
<rect x="713.7" y="524.6" width="12.5" height="12.5" fill="none" stroke="#501179" stroke-width="2.0"/>
<rect x="719.0" y="518.4" width="12.5" height="12.5" fill="none" stroke="#501179" stroke-width="2.0"/>
<rect x="724.4" y="511.0" width="12.5" height="12.5" fill="none" stroke="#501179" stroke-width="2.0"/>
<rect x="729.7" y="504.2" width="12.5" height="12.5" fill="none" stroke="#501179" stroke-width="2.0"/>
<rect x="735.0" y="500.6" width="12.5" height="12.5" fill="none" stroke="#501179" stroke-width="2.0"/>
<rect x="740.3" y="502.0" width="12.5" height="12.5" fill="none" stroke="#501179" stroke-width="2.0"/>
<rect x="745.7" y="507.9" width="12.5" height="12.5" fill="none" stroke="#501179" stroke-width="2.0"/>
<rect x="751.0" y="520.8" width="12.5" height="12.5" fill="none" stroke="#501179" stroke-width="2.0"/>
<rect x="756.3" y="541.4" width="12.5" height="12.5" fill="none" stroke="#501179" stroke-width="2.0"/>
<rect x="761.7" y="557.1" width="12.5" height="12.5" fill="none" stroke="#501179" stroke-width="2.0"/>
<rect x="767.0" y="569.2" width="12.5" height="12.5" fill="none" stroke="#501179" stroke-width="2.0"/>
<rect x="772.3" y="577.5" width="12.5" height="12.5" fill="none" stroke="#501179" stroke-width="2.0"/>
<rect x="777.7" y="584.4" width="12.5" height="12.5" fill="none" stroke="#501179" stroke-width="2.0"/>
<rect x="783.0" y="590.3" width="12.5" height="12.5" fill="none" stroke="#501179" stroke-width="2.0"/>
<rect x="788.3" y="594.3" width="12.5" height="12.5" fill="none" stroke="#501179" stroke-width="2.0"/>
<rect x="793.6" y="597.4" width="12.5" height="12.5" fill="none" stroke="#501179" stroke-width="2.0"/>
<rect x="799.0" y="601.0" width="12.5" height="12.5" fill="none" stroke="#501179" stroke-width="2.0"/>
<rect x="804.3" y="601.2" width="12.5" height="12.5" fill="none" stroke="#501179" stroke-width="2.0"/>
<rect x="809.6" y="601.0" width="12.5" height="12.5" fill="none" stroke="#501179" stroke-width="2.0"/>
<rect x="815.0" y="599.6" width="12.5" height="12.5" fill="none" stroke="#501179" stroke-width="2.0"/>
<rect x="820.3" y="596.5" width="12.5" height="12.5" fill="none" stroke="#501179" stroke-width="2.0"/>
<rect x="825.6" y="593.3" width="12.5" height="12.5" fill="none" stroke="#501179" stroke-width="2.0"/>
<rect x="831.0" y="589.9" width="12.5" height="12.5" fill="none" stroke="#501179" stroke-width="2.0"/>
<rect x="836.3" y="585.9" width="12.5" height="12.5" fill="none" stroke="#501179" stroke-width="2.0"/>
<rect x="841.6" y="581.5" width="12.5" height="12.5" fill="none" stroke="#501179" stroke-width="2.0"/>
<rect x="846.9" y="576.7" width="12.5" height="12.5" fill="none" stroke="#501179" stroke-width="2.0"/>
<rect x="852.3" y="571.4" width="12.5" height="12.5" fill="none" stroke="#501179" stroke-width="2.0"/>
<rect x="857.6" y="565.9" width="12.5" height="12.5" fill="none" stroke="#501179" stroke-width="2.0"/>
<rect x="862.9" y="560.2" width="12.5" height="12.5" fill="none" stroke="#501179" stroke-width="2.0"/>
<rect x="868.3" y="554.3" width="12.5" height="12.5" fill="none" stroke="#501179" stroke-width="2.0"/>
<rect x="873.6" y="548.4" width="12.5" height="12.5" fill="none" stroke="#501179" stroke-width="2.0"/>
<rect x="878.9" y="542.6" width="12.5" height="12.5" fill="none" stroke="#501179" stroke-width="2.0"/>
<rect x="884.3" y="536.9" width="12.5" height="12.5" fill="none" stroke="#501179" stroke-width="2.0"/>
<rect x="889.6" y="530.7" width="12.5" height="12.5" fill="none" stroke="#501179" stroke-width="2.0"/>
<rect x="894.9" y="524.0" width="12.5" height="12.5" fill="none" stroke="#501179" stroke-width="2.0"/>
<line x1="955.1" y1="675.3" x2="955.1" y2="669.8" stroke="#000" stroke-width="1.6" />
<line x1="955.1" y1="65.5" x2="955.1" y2="71.0" stroke="#000" stroke-width="1.6" />
<line x1="974.6" y1="675.3" x2="974.6" y2="669.8" stroke="#000" stroke-width="1.6" />
<line x1="974.6" y1="65.5" x2="974.6" y2="71.0" stroke="#000" stroke-width="1.6" />
<line x1="994.1" y1="675.3" x2="994.1" y2="669.8" stroke="#000" stroke-width="1.6" />
<line x1="994.1" y1="65.5" x2="994.1" y2="71.0" stroke="#000" stroke-width="1.6" />
<line x1="1013.6" y1="675.3" x2="1013.6" y2="669.8" stroke="#000" stroke-width="1.6" />
<line x1="1013.6" y1="65.5" x2="1013.6" y2="71.0" stroke="#000" stroke-width="1.6" />
<line x1="1033.0" y1="675.3" x2="1033.0" y2="664.3" stroke="#000" stroke-width="1.6" />
<line x1="1033.0" y1="65.5" x2="1033.0" y2="76.5" stroke="#000" stroke-width="1.6" />
<line x1="1052.5" y1="675.3" x2="1052.5" y2="669.8" stroke="#000" stroke-width="1.6" />
<line x1="1052.5" y1="65.5" x2="1052.5" y2="71.0" stroke="#000" stroke-width="1.6" />
<line x1="1072.0" y1="675.3" x2="1072.0" y2="669.8" stroke="#000" stroke-width="1.6" />
<line x1="1072.0" y1="65.5" x2="1072.0" y2="71.0" stroke="#000" stroke-width="1.6" />
<line x1="1091.5" y1="675.3" x2="1091.5" y2="669.8" stroke="#000" stroke-width="1.6" />
<line x1="1111.0" y1="675.3" x2="1111.0" y2="669.8" stroke="#000" stroke-width="1.6" />
<line x1="1130.5" y1="675.3" x2="1130.5" y2="664.3" stroke="#000" stroke-width="1.6" />
<line x1="1150.0" y1="675.3" x2="1150.0" y2="669.8" stroke="#000" stroke-width="1.6" />
<line x1="1169.5" y1="675.3" x2="1169.5" y2="669.8" stroke="#000" stroke-width="1.6" />
<line x1="1189.0" y1="675.3" x2="1189.0" y2="669.8" stroke="#000" stroke-width="1.6" />
<line x1="1208.5" y1="675.3" x2="1208.5" y2="669.8" stroke="#000" stroke-width="1.6" />
<line x1="1228.0" y1="675.3" x2="1228.0" y2="664.3" stroke="#000" stroke-width="1.6" />
<line x1="1247.4" y1="675.3" x2="1247.4" y2="669.8" stroke="#000" stroke-width="1.6" />
<line x1="1266.9" y1="675.3" x2="1266.9" y2="669.8" stroke="#000" stroke-width="1.6" />
<line x1="1286.4" y1="675.3" x2="1286.4" y2="669.8" stroke="#000" stroke-width="1.6" />
<line x1="1305.9" y1="675.3" x2="1305.9" y2="669.8" stroke="#000" stroke-width="1.6" />
<line x1="935.6" y1="624.5" x2="941.1" y2="624.5" stroke="#000" stroke-width="1.6" />
<line x1="1325.4" y1="624.5" x2="1319.9" y2="624.5" stroke="#000" stroke-width="1.6" />
<line x1="935.6" y1="573.7" x2="946.6" y2="573.7" stroke="#000" stroke-width="1.6" />
<line x1="1325.4" y1="573.7" x2="1314.4" y2="573.7" stroke="#000" stroke-width="1.6" />
<line x1="935.6" y1="522.8" x2="941.1" y2="522.8" stroke="#000" stroke-width="1.6" />
<line x1="1325.4" y1="522.8" x2="1319.9" y2="522.8" stroke="#000" stroke-width="1.6" />
<line x1="935.6" y1="472.0" x2="946.6" y2="472.0" stroke="#000" stroke-width="1.6" />
<line x1="1325.4" y1="472.0" x2="1314.4" y2="472.0" stroke="#000" stroke-width="1.6" />
<line x1="935.6" y1="421.2" x2="941.1" y2="421.2" stroke="#000" stroke-width="1.6" />
<line x1="1325.4" y1="421.2" x2="1319.9" y2="421.2" stroke="#000" stroke-width="1.6" />
<line x1="935.6" y1="370.4" x2="946.6" y2="370.4" stroke="#000" stroke-width="1.6" />
<line x1="1325.4" y1="370.4" x2="1314.4" y2="370.4" stroke="#000" stroke-width="1.6" />
<line x1="935.6" y1="319.6" x2="941.1" y2="319.6" stroke="#000" stroke-width="1.6" />
<line x1="1325.4" y1="319.6" x2="1319.9" y2="319.6" stroke="#000" stroke-width="1.6" />
<line x1="935.6" y1="268.8" x2="946.6" y2="268.8" stroke="#000" stroke-width="1.6" />
<line x1="1325.4" y1="268.8" x2="1314.4" y2="268.8" stroke="#000" stroke-width="1.6" />
<line x1="935.6" y1="217.9" x2="941.1" y2="217.9" stroke="#000" stroke-width="1.6" />
<line x1="935.6" y1="167.1" x2="946.6" y2="167.1" stroke="#000" stroke-width="1.6" />
<line x1="935.6" y1="116.3" x2="941.1" y2="116.3" stroke="#000" stroke-width="1.6" />
<text x="940.1" y="719.4" font-size="35" text-anchor="middle" fill="#000" >0</text>
<text x="1036.5" y="719.4" font-size="35" text-anchor="middle" fill="#000" >1</text>
<text x="1134.9" y="719.4" font-size="35" text-anchor="middle" fill="#000" >2</text>
<text x="1231.2" y="719.4" font-size="35" text-anchor="middle" fill="#000" >3</text>
<text x="1323.9" y="719.4" font-size="35" text-anchor="middle" fill="#000" >4</text>
<polyline points="942.2,40.0 945.8,499.3 951.1,590.0 956.4,623.9 961.8,639.1 967.1,643.9 972.4,644.4 977.8,643.8 983.1,640.0 988.4,634.4 993.7,628.9 999.1,620.8 1004.4,612.9 1009.7,602.5 1015.1,591.5 1020.4,582.8 1025.7,574.8 1031.1,567.4 1036.4,560.8 1041.7,554.1 1047.0,547.6 1052.4,542.3 1057.7,536.9 1063.0,532.4 1068.4,530.9 1073.7,530.4 1079.0,533.3 1084.4,539.9 1089.7,545.9 1095.0,548.0 1100.3,547.7 1105.7,546.3 1111.0,545.2 1116.3,547.2 1121.7,553.6 1127.0,563.9 1132.3,581.6 1137.7,601.0 1143.0,612.8 1148.3,619.5 1153.6,624.1 1159.0,627.9 1164.3,630.7 1169.6,632.9 1175.0,634.3 1180.3,635.0 1185.6,635.5 1191.0,636.1 1196.3,636.6 1201.6,637.2 1206.9,637.9 1212.3,638.5 1217.6,639.0 1222.9,638.8 1228.3,635.3 1233.6,632.3 1238.9,629.6 1244.3,627.2 1249.6,624.9 1254.9,623.6 1260.2,622.9 1265.6,622.5 1270.9,622.0 1276.2,621.5 1281.6,621.0 1286.9,620.2 1292.2,619.2 1297.6,618.0 1302.9,616.6 1308.2,615.0 1313.5,613.2 1318.9,611.3" fill="none" stroke="#fca34e" stroke-width="2.0" stroke-linejoin="round" stroke-linecap="round" clip-path="url(#clipc)"/>
<circle cx="945.8" cy="499.3" r="6.0" fill="none" stroke="#fca34e" stroke-width="2.4"/>
<circle cx="951.1" cy="590.0" r="6.0" fill="none" stroke="#fca34e" stroke-width="2.4"/>
<circle cx="956.4" cy="623.9" r="6.0" fill="none" stroke="#fca34e" stroke-width="2.4"/>
<circle cx="961.8" cy="639.1" r="6.0" fill="none" stroke="#fca34e" stroke-width="2.4"/>
<circle cx="967.1" cy="643.9" r="6.0" fill="none" stroke="#fca34e" stroke-width="2.4"/>
<circle cx="972.4" cy="644.4" r="6.0" fill="none" stroke="#fca34e" stroke-width="2.4"/>
<circle cx="977.8" cy="643.8" r="6.0" fill="none" stroke="#fca34e" stroke-width="2.4"/>
<circle cx="983.1" cy="640.0" r="6.0" fill="none" stroke="#fca34e" stroke-width="2.4"/>
<circle cx="988.4" cy="634.4" r="6.0" fill="none" stroke="#fca34e" stroke-width="2.4"/>
<circle cx="993.7" cy="628.9" r="6.0" fill="none" stroke="#fca34e" stroke-width="2.4"/>
<circle cx="999.1" cy="620.8" r="6.0" fill="none" stroke="#fca34e" stroke-width="2.4"/>
<circle cx="1004.4" cy="612.9" r="6.0" fill="none" stroke="#fca34e" stroke-width="2.4"/>
<circle cx="1009.7" cy="602.5" r="6.0" fill="none" stroke="#fca34e" stroke-width="2.4"/>
<circle cx="1015.1" cy="591.5" r="6.0" fill="none" stroke="#fca34e" stroke-width="2.4"/>
<circle cx="1020.4" cy="582.8" r="6.0" fill="none" stroke="#fca34e" stroke-width="2.4"/>
<circle cx="1025.7" cy="574.8" r="6.0" fill="none" stroke="#fca34e" stroke-width="2.4"/>
<circle cx="1031.1" cy="567.4" r="6.0" fill="none" stroke="#fca34e" stroke-width="2.4"/>
<circle cx="1036.4" cy="560.8" r="6.0" fill="none" stroke="#fca34e" stroke-width="2.4"/>
<circle cx="1041.7" cy="554.1" r="6.0" fill="none" stroke="#fca34e" stroke-width="2.4"/>
<circle cx="1047.0" cy="547.6" r="6.0" fill="none" stroke="#fca34e" stroke-width="2.4"/>
<circle cx="1052.4" cy="542.3" r="6.0" fill="none" stroke="#fca34e" stroke-width="2.4"/>
<circle cx="1057.7" cy="536.9" r="6.0" fill="none" stroke="#fca34e" stroke-width="2.4"/>
<circle cx="1063.0" cy="532.4" r="6.0" fill="none" stroke="#fca34e" stroke-width="2.4"/>
<circle cx="1068.4" cy="530.9" r="6.0" fill="none" stroke="#fca34e" stroke-width="2.4"/>
<circle cx="1073.7" cy="530.4" r="6.0" fill="none" stroke="#fca34e" stroke-width="2.4"/>
<circle cx="1079.0" cy="533.3" r="6.0" fill="none" stroke="#fca34e" stroke-width="2.4"/>
<circle cx="1084.4" cy="539.9" r="6.0" fill="none" stroke="#fca34e" stroke-width="2.4"/>
<circle cx="1089.7" cy="545.9" r="6.0" fill="none" stroke="#fca34e" stroke-width="2.4"/>
<circle cx="1095.0" cy="548.0" r="6.0" fill="none" stroke="#fca34e" stroke-width="2.4"/>
<circle cx="1100.3" cy="547.7" r="6.0" fill="none" stroke="#fca34e" stroke-width="2.4"/>
<circle cx="1105.7" cy="546.3" r="6.0" fill="none" stroke="#fca34e" stroke-width="2.4"/>
<circle cx="1111.0" cy="545.2" r="6.0" fill="none" stroke="#fca34e" stroke-width="2.4"/>
<circle cx="1116.3" cy="547.2" r="6.0" fill="none" stroke="#fca34e" stroke-width="2.4"/>
<circle cx="1121.7" cy="553.6" r="6.0" fill="none" stroke="#fca34e" stroke-width="2.4"/>
<circle cx="1127.0" cy="563.9" r="6.0" fill="none" stroke="#fca34e" stroke-width="2.4"/>
<circle cx="1132.3" cy="581.6" r="6.0" fill="none" stroke="#fca34e" stroke-width="2.4"/>
<circle cx="1137.7" cy="601.0" r="6.0" fill="none" stroke="#fca34e" stroke-width="2.4"/>
<circle cx="1143.0" cy="612.8" r="6.0" fill="none" stroke="#fca34e" stroke-width="2.4"/>
<circle cx="1148.3" cy="619.5" r="6.0" fill="none" stroke="#fca34e" stroke-width="2.4"/>
<circle cx="1153.6" cy="624.1" r="6.0" fill="none" stroke="#fca34e" stroke-width="2.4"/>
<circle cx="1159.0" cy="627.9" r="6.0" fill="none" stroke="#fca34e" stroke-width="2.4"/>
<circle cx="1164.3" cy="630.7" r="6.0" fill="none" stroke="#fca34e" stroke-width="2.4"/>
<circle cx="1169.6" cy="632.9" r="6.0" fill="none" stroke="#fca34e" stroke-width="2.4"/>
<circle cx="1175.0" cy="634.3" r="6.0" fill="none" stroke="#fca34e" stroke-width="2.4"/>
<circle cx="1180.3" cy="635.0" r="6.0" fill="none" stroke="#fca34e" stroke-width="2.4"/>
<circle cx="1185.6" cy="635.5" r="6.0" fill="none" stroke="#fca34e" stroke-width="2.4"/>
<circle cx="1191.0" cy="636.1" r="6.0" fill="none" stroke="#fca34e" stroke-width="2.4"/>
<circle cx="1196.3" cy="636.6" r="6.0" fill="none" stroke="#fca34e" stroke-width="2.4"/>
<circle cx="1201.6" cy="637.2" r="6.0" fill="none" stroke="#fca34e" stroke-width="2.4"/>
<circle cx="1206.9" cy="637.9" r="6.0" fill="none" stroke="#fca34e" stroke-width="2.4"/>
<circle cx="1212.3" cy="638.5" r="6.0" fill="none" stroke="#fca34e" stroke-width="2.4"/>
<circle cx="1217.6" cy="639.0" r="6.0" fill="none" stroke="#fca34e" stroke-width="2.4"/>
<circle cx="1222.9" cy="638.8" r="6.0" fill="none" stroke="#fca34e" stroke-width="2.4"/>
<circle cx="1228.3" cy="635.3" r="6.0" fill="none" stroke="#fca34e" stroke-width="2.4"/>
<circle cx="1233.6" cy="632.3" r="6.0" fill="none" stroke="#fca34e" stroke-width="2.4"/>
<circle cx="1238.9" cy="629.6" r="6.0" fill="none" stroke="#fca34e" stroke-width="2.4"/>
<circle cx="1244.3" cy="627.2" r="6.0" fill="none" stroke="#fca34e" stroke-width="2.4"/>
<circle cx="1249.6" cy="624.9" r="6.0" fill="none" stroke="#fca34e" stroke-width="2.4"/>
<circle cx="1254.9" cy="623.6" r="6.0" fill="none" stroke="#fca34e" stroke-width="2.4"/>
<circle cx="1260.2" cy="622.9" r="6.0" fill="none" stroke="#fca34e" stroke-width="2.4"/>
<circle cx="1265.6" cy="622.5" r="6.0" fill="none" stroke="#fca34e" stroke-width="2.4"/>
<circle cx="1270.9" cy="622.0" r="6.0" fill="none" stroke="#fca34e" stroke-width="2.4"/>
<circle cx="1276.2" cy="621.5" r="6.0" fill="none" stroke="#fca34e" stroke-width="2.4"/>
<circle cx="1281.6" cy="621.0" r="6.0" fill="none" stroke="#fca34e" stroke-width="2.4"/>
<circle cx="1286.9" cy="620.2" r="6.0" fill="none" stroke="#fca34e" stroke-width="2.4"/>
<circle cx="1292.2" cy="619.2" r="6.0" fill="none" stroke="#fca34e" stroke-width="2.4"/>
<circle cx="1297.6" cy="618.0" r="6.0" fill="none" stroke="#fca34e" stroke-width="2.4"/>
<circle cx="1302.9" cy="616.6" r="6.0" fill="none" stroke="#fca34e" stroke-width="2.4"/>
<circle cx="1308.2" cy="615.0" r="6.0" fill="none" stroke="#fca34e" stroke-width="2.4"/>
<circle cx="1313.5" cy="613.2" r="6.0" fill="none" stroke="#fca34e" stroke-width="2.4"/>
<circle cx="1318.9" cy="611.3" r="6.0" fill="none" stroke="#fca34e" stroke-width="2.4"/>
<polyline points="935.4,252.7 940.7,669.0 946.1,671.1 951.4,669.7 956.7,668.4 962.1,666.1 967.4,661.5 972.7,656.2 978.0,649.8 983.4,640.2 988.7,623.8 994.0,604.1 999.4,579.8 1004.7,548.2 1010.0,512.8 1015.4,479.5 1020.7,450.4 1026.0,429.0 1031.3,417.2 1036.7,402.0 1042.0,386.9 1047.3,367.1 1052.7,344.8 1058.0,320.3 1063.3,295.7 1068.7,277.8 1074.0,266.6 1079.3,259.3 1084.6,268.6 1090.0,295.5 1095.3,340.3 1100.6,391.4 1106.0,450.0 1111.3,486.6 1116.6,514.5 1122.0,530.5 1127.3,538.0 1132.6,541.4 1137.9,542.1 1143.3,538.9 1148.6,532.0 1153.9,525.8 1159.3,518.3 1164.6,510.3 1169.9,505.9 1175.3,505.8 1180.6,514.0 1185.9,526.3 1191.2,536.8 1196.6,550.1 1201.9,561.5 1207.2,570.3 1212.6,576.7 1217.9,581.6 1223.2,585.8 1228.6,590.4 1233.9,594.5 1239.2,597.8 1244.5,598.5 1249.9,598.5 1255.2,596.5 1260.5,592.9 1265.9,588.4 1271.2,584.1 1276.5,579.8 1281.9,575.6 1287.2,571.3 1292.5,566.7 1297.8,562.7 1303.2,559.2 1308.5,555.9 1313.8,552.8 1319.2,550.3" fill="none" stroke="#501179" stroke-width="2.0" stroke-linejoin="round" stroke-linecap="round" clip-path="url(#clipc)"/>
<rect x="929.2" y="246.5" width="12.5" height="12.5" fill="none" stroke="#501179" stroke-width="2.0"/>
<rect x="934.5" y="662.7" width="12.5" height="12.5" fill="none" stroke="#501179" stroke-width="2.0"/>
<rect x="939.8" y="664.9" width="12.5" height="12.5" fill="none" stroke="#501179" stroke-width="2.0"/>
<rect x="945.1" y="663.5" width="12.5" height="12.5" fill="none" stroke="#501179" stroke-width="2.0"/>
<rect x="950.5" y="662.2" width="12.5" height="12.5" fill="none" stroke="#501179" stroke-width="2.0"/>
<rect x="955.8" y="659.9" width="12.5" height="12.5" fill="none" stroke="#501179" stroke-width="2.0"/>
<rect x="961.1" y="655.3" width="12.5" height="12.5" fill="none" stroke="#501179" stroke-width="2.0"/>
<rect x="966.5" y="650.0" width="12.5" height="12.5" fill="none" stroke="#501179" stroke-width="2.0"/>
<rect x="971.8" y="643.6" width="12.5" height="12.5" fill="none" stroke="#501179" stroke-width="2.0"/>
<rect x="977.1" y="634.0" width="12.5" height="12.5" fill="none" stroke="#501179" stroke-width="2.0"/>
<rect x="982.5" y="617.6" width="12.5" height="12.5" fill="none" stroke="#501179" stroke-width="2.0"/>
<rect x="987.8" y="597.8" width="12.5" height="12.5" fill="none" stroke="#501179" stroke-width="2.0"/>
<rect x="993.1" y="573.5" width="12.5" height="12.5" fill="none" stroke="#501179" stroke-width="2.0"/>
<rect x="998.4" y="542.0" width="12.5" height="12.5" fill="none" stroke="#501179" stroke-width="2.0"/>
<rect x="1003.8" y="506.5" width="12.5" height="12.5" fill="none" stroke="#501179" stroke-width="2.0"/>
<rect x="1009.1" y="473.2" width="12.5" height="12.5" fill="none" stroke="#501179" stroke-width="2.0"/>
<rect x="1014.4" y="444.2" width="12.5" height="12.5" fill="none" stroke="#501179" stroke-width="2.0"/>
<rect x="1019.8" y="422.7" width="12.5" height="12.5" fill="none" stroke="#501179" stroke-width="2.0"/>
<rect x="1025.1" y="410.9" width="12.5" height="12.5" fill="none" stroke="#501179" stroke-width="2.0"/>
<rect x="1030.4" y="395.7" width="12.5" height="12.5" fill="none" stroke="#501179" stroke-width="2.0"/>
<rect x="1035.8" y="380.6" width="12.5" height="12.5" fill="none" stroke="#501179" stroke-width="2.0"/>
<rect x="1041.1" y="360.8" width="12.5" height="12.5" fill="none" stroke="#501179" stroke-width="2.0"/>
<rect x="1046.4" y="338.6" width="12.5" height="12.5" fill="none" stroke="#501179" stroke-width="2.0"/>
<rect x="1051.7" y="314.0" width="12.5" height="12.5" fill="none" stroke="#501179" stroke-width="2.0"/>
<rect x="1057.1" y="289.4" width="12.5" height="12.5" fill="none" stroke="#501179" stroke-width="2.0"/>
<rect x="1062.4" y="271.5" width="12.5" height="12.5" fill="none" stroke="#501179" stroke-width="2.0"/>
<rect x="1067.7" y="260.4" width="12.5" height="12.5" fill="none" stroke="#501179" stroke-width="2.0"/>
<rect x="1073.1" y="253.0" width="12.5" height="12.5" fill="none" stroke="#501179" stroke-width="2.0"/>
<rect x="1078.4" y="262.3" width="12.5" height="12.5" fill="none" stroke="#501179" stroke-width="2.0"/>
<rect x="1083.7" y="289.3" width="12.5" height="12.5" fill="none" stroke="#501179" stroke-width="2.0"/>
<rect x="1089.1" y="334.1" width="12.5" height="12.5" fill="none" stroke="#501179" stroke-width="2.0"/>
<rect x="1094.4" y="385.1" width="12.5" height="12.5" fill="none" stroke="#501179" stroke-width="2.0"/>
<rect x="1099.7" y="443.8" width="12.5" height="12.5" fill="none" stroke="#501179" stroke-width="2.0"/>
<rect x="1105.0" y="480.3" width="12.5" height="12.5" fill="none" stroke="#501179" stroke-width="2.0"/>
<rect x="1110.4" y="508.3" width="12.5" height="12.5" fill="none" stroke="#501179" stroke-width="2.0"/>
<rect x="1115.7" y="524.3" width="12.5" height="12.5" fill="none" stroke="#501179" stroke-width="2.0"/>
<rect x="1121.0" y="531.8" width="12.5" height="12.5" fill="none" stroke="#501179" stroke-width="2.0"/>
<rect x="1126.4" y="535.1" width="12.5" height="12.5" fill="none" stroke="#501179" stroke-width="2.0"/>
<rect x="1131.7" y="535.8" width="12.5" height="12.5" fill="none" stroke="#501179" stroke-width="2.0"/>
<rect x="1137.0" y="532.6" width="12.5" height="12.5" fill="none" stroke="#501179" stroke-width="2.0"/>
<rect x="1142.4" y="525.8" width="12.5" height="12.5" fill="none" stroke="#501179" stroke-width="2.0"/>
<rect x="1147.7" y="519.5" width="12.5" height="12.5" fill="none" stroke="#501179" stroke-width="2.0"/>
<rect x="1153.0" y="512.0" width="12.5" height="12.5" fill="none" stroke="#501179" stroke-width="2.0"/>
<rect x="1158.3" y="504.1" width="12.5" height="12.5" fill="none" stroke="#501179" stroke-width="2.0"/>
<rect x="1163.7" y="499.7" width="12.5" height="12.5" fill="none" stroke="#501179" stroke-width="2.0"/>
<rect x="1169.0" y="499.5" width="12.5" height="12.5" fill="none" stroke="#501179" stroke-width="2.0"/>
<rect x="1174.3" y="507.7" width="12.5" height="12.5" fill="none" stroke="#501179" stroke-width="2.0"/>
<rect x="1179.7" y="520.1" width="12.5" height="12.5" fill="none" stroke="#501179" stroke-width="2.0"/>
<rect x="1185.0" y="530.5" width="12.5" height="12.5" fill="none" stroke="#501179" stroke-width="2.0"/>
<rect x="1190.3" y="543.9" width="12.5" height="12.5" fill="none" stroke="#501179" stroke-width="2.0"/>
<rect x="1195.7" y="555.2" width="12.5" height="12.5" fill="none" stroke="#501179" stroke-width="2.0"/>
<rect x="1201.0" y="564.1" width="12.5" height="12.5" fill="none" stroke="#501179" stroke-width="2.0"/>
<rect x="1206.3" y="570.5" width="12.5" height="12.5" fill="none" stroke="#501179" stroke-width="2.0"/>
<rect x="1211.6" y="575.4" width="12.5" height="12.5" fill="none" stroke="#501179" stroke-width="2.0"/>
<rect x="1217.0" y="579.6" width="12.5" height="12.5" fill="none" stroke="#501179" stroke-width="2.0"/>
<rect x="1222.3" y="584.2" width="12.5" height="12.5" fill="none" stroke="#501179" stroke-width="2.0"/>
<rect x="1227.6" y="588.3" width="12.5" height="12.5" fill="none" stroke="#501179" stroke-width="2.0"/>
<rect x="1233.0" y="591.6" width="12.5" height="12.5" fill="none" stroke="#501179" stroke-width="2.0"/>
<rect x="1238.3" y="592.3" width="12.5" height="12.5" fill="none" stroke="#501179" stroke-width="2.0"/>
<rect x="1243.6" y="592.3" width="12.5" height="12.5" fill="none" stroke="#501179" stroke-width="2.0"/>
<rect x="1249.0" y="590.2" width="12.5" height="12.5" fill="none" stroke="#501179" stroke-width="2.0"/>
<rect x="1254.3" y="586.6" width="12.5" height="12.5" fill="none" stroke="#501179" stroke-width="2.0"/>
<rect x="1259.6" y="582.1" width="12.5" height="12.5" fill="none" stroke="#501179" stroke-width="2.0"/>
<rect x="1264.9" y="577.9" width="12.5" height="12.5" fill="none" stroke="#501179" stroke-width="2.0"/>
<rect x="1270.3" y="573.6" width="12.5" height="12.5" fill="none" stroke="#501179" stroke-width="2.0"/>
<rect x="1275.6" y="569.3" width="12.5" height="12.5" fill="none" stroke="#501179" stroke-width="2.0"/>
<rect x="1280.9" y="565.1" width="12.5" height="12.5" fill="none" stroke="#501179" stroke-width="2.0"/>
<rect x="1286.3" y="560.5" width="12.5" height="12.5" fill="none" stroke="#501179" stroke-width="2.0"/>
<rect x="1291.6" y="556.5" width="12.5" height="12.5" fill="none" stroke="#501179" stroke-width="2.0"/>
<rect x="1296.9" y="553.0" width="12.5" height="12.5" fill="none" stroke="#501179" stroke-width="2.0"/>
<rect x="1302.3" y="549.6" width="12.5" height="12.5" fill="none" stroke="#501179" stroke-width="2.0"/>
<rect x="1307.6" y="546.6" width="12.5" height="12.5" fill="none" stroke="#501179" stroke-width="2.0"/>
<rect x="1312.9" y="544.0" width="12.5" height="12.5" fill="none" stroke="#501179" stroke-width="2.0"/>
<rect x="250.7" y="65.5" width="239.5" height="160.7" fill="#fff"/>
<line x1="270.7" y1="226.2" x2="270.7" y2="220.2" stroke="#000" stroke-width="1.6" />
<line x1="270.7" y1="65.5" x2="270.7" y2="71.5" stroke="#000" stroke-width="1.6" />
<line x1="290.6" y1="226.2" x2="290.6" y2="214.2" stroke="#000" stroke-width="1.6" />
<line x1="290.6" y1="65.5" x2="290.6" y2="77.5" stroke="#000" stroke-width="1.6" />
<line x1="310.6" y1="226.2" x2="310.6" y2="220.2" stroke="#000" stroke-width="1.6" />
<line x1="310.6" y1="65.5" x2="310.6" y2="71.5" stroke="#000" stroke-width="1.6" />
<line x1="330.5" y1="226.2" x2="330.5" y2="214.2" stroke="#000" stroke-width="1.6" />
<line x1="330.5" y1="65.5" x2="330.5" y2="77.5" stroke="#000" stroke-width="1.6" />
<line x1="350.5" y1="226.2" x2="350.5" y2="220.2" stroke="#000" stroke-width="1.6" />
<line x1="350.5" y1="65.5" x2="350.5" y2="71.5" stroke="#000" stroke-width="1.6" />
<line x1="370.4" y1="226.2" x2="370.4" y2="214.2" stroke="#000" stroke-width="1.6" />
<line x1="370.4" y1="65.5" x2="370.4" y2="77.5" stroke="#000" stroke-width="1.6" />
<line x1="390.4" y1="226.2" x2="390.4" y2="220.2" stroke="#000" stroke-width="1.6" />
<line x1="390.4" y1="65.5" x2="390.4" y2="71.5" stroke="#000" stroke-width="1.6" />
<line x1="410.4" y1="226.2" x2="410.4" y2="214.2" stroke="#000" stroke-width="1.6" />
<line x1="410.4" y1="65.5" x2="410.4" y2="77.5" stroke="#000" stroke-width="1.6" />
<line x1="430.3" y1="226.2" x2="430.3" y2="220.2" stroke="#000" stroke-width="1.6" />
<line x1="430.3" y1="65.5" x2="430.3" y2="71.5" stroke="#000" stroke-width="1.6" />
<line x1="450.3" y1="226.2" x2="450.3" y2="214.2" stroke="#000" stroke-width="1.6" />
<line x1="450.3" y1="65.5" x2="450.3" y2="77.5" stroke="#000" stroke-width="1.6" />
<line x1="470.2" y1="226.2" x2="470.2" y2="220.2" stroke="#000" stroke-width="1.6" />
<line x1="470.2" y1="65.5" x2="470.2" y2="71.5" stroke="#000" stroke-width="1.6" />
<line x1="490.2" y1="210.1" x2="484.7" y2="210.1" stroke="#000" stroke-width="1.6" />
<line x1="250.7" y1="210.1" x2="256.2" y2="210.1" stroke="#000" stroke-width="1.6" />
<line x1="490.2" y1="194.1" x2="484.7" y2="194.1" stroke="#000" stroke-width="1.6" />
<line x1="250.7" y1="194.1" x2="256.2" y2="194.1" stroke="#000" stroke-width="1.6" />
<line x1="490.2" y1="178.0" x2="484.7" y2="178.0" stroke="#000" stroke-width="1.6" />
<line x1="250.7" y1="178.0" x2="256.2" y2="178.0" stroke="#000" stroke-width="1.6" />
<line x1="490.2" y1="161.9" x2="478.2" y2="161.9" stroke="#000" stroke-width="1.6" />
<line x1="250.7" y1="161.9" x2="262.7" y2="161.9" stroke="#000" stroke-width="1.6" />
<line x1="490.2" y1="145.8" x2="484.7" y2="145.8" stroke="#000" stroke-width="1.6" />
<line x1="250.7" y1="145.8" x2="256.2" y2="145.8" stroke="#000" stroke-width="1.6" />
<line x1="490.2" y1="129.8" x2="484.7" y2="129.8" stroke="#000" stroke-width="1.6" />
<line x1="250.7" y1="129.8" x2="256.2" y2="129.8" stroke="#000" stroke-width="1.6" />
<line x1="490.2" y1="113.7" x2="484.7" y2="113.7" stroke="#000" stroke-width="1.6" />
<line x1="250.7" y1="113.7" x2="256.2" y2="113.7" stroke="#000" stroke-width="1.6" />
<line x1="490.2" y1="97.6" x2="478.2" y2="97.6" stroke="#000" stroke-width="1.6" />
<line x1="250.7" y1="97.6" x2="262.7" y2="97.6" stroke="#000" stroke-width="1.6" />
<line x1="490.2" y1="81.6" x2="484.7" y2="81.6" stroke="#000" stroke-width="1.6" />
<line x1="250.7" y1="81.6" x2="256.2" y2="81.6" stroke="#000" stroke-width="1.6" />
<text x="254.7" y="271.0" font-size="34" text-anchor="middle" fill="#000" >0</text>
<text x="294.6" y="271.0" font-size="34" text-anchor="middle" fill="#000" >2</text>
<text x="334.5" y="271.0" font-size="34" text-anchor="middle" fill="#000" >4</text>
<text x="374.4" y="271.0" font-size="34" text-anchor="middle" fill="#000" >6</text>
<text x="414.4" y="271.0" font-size="34" text-anchor="middle" fill="#000" >8</text>
<text x="454.3" y="271.0" font-size="34" text-anchor="middle" fill="#000" >10</text>
<rect x="668.5" y="65.5" width="238.7" height="160.7" fill="#fff"/>
<line x1="688.4" y1="226.2" x2="688.4" y2="220.2" stroke="#000" stroke-width="1.6" />
<line x1="688.4" y1="65.5" x2="688.4" y2="71.5" stroke="#000" stroke-width="1.6" />
<line x1="708.3" y1="226.2" x2="708.3" y2="214.2" stroke="#000" stroke-width="1.6" />
<line x1="708.3" y1="65.5" x2="708.3" y2="77.5" stroke="#000" stroke-width="1.6" />
<line x1="728.2" y1="226.2" x2="728.2" y2="220.2" stroke="#000" stroke-width="1.6" />
<line x1="728.2" y1="65.5" x2="728.2" y2="71.5" stroke="#000" stroke-width="1.6" />
<line x1="748.1" y1="226.2" x2="748.1" y2="214.2" stroke="#000" stroke-width="1.6" />
<line x1="748.1" y1="65.5" x2="748.1" y2="77.5" stroke="#000" stroke-width="1.6" />
<line x1="768.0" y1="226.2" x2="768.0" y2="220.2" stroke="#000" stroke-width="1.6" />
<line x1="768.0" y1="65.5" x2="768.0" y2="71.5" stroke="#000" stroke-width="1.6" />
<line x1="787.9" y1="226.2" x2="787.9" y2="214.2" stroke="#000" stroke-width="1.6" />
<line x1="787.9" y1="65.5" x2="787.9" y2="77.5" stroke="#000" stroke-width="1.6" />
<line x1="807.7" y1="226.2" x2="807.7" y2="220.2" stroke="#000" stroke-width="1.6" />
<line x1="807.7" y1="65.5" x2="807.7" y2="71.5" stroke="#000" stroke-width="1.6" />
<line x1="827.6" y1="226.2" x2="827.6" y2="214.2" stroke="#000" stroke-width="1.6" />
<line x1="827.6" y1="65.5" x2="827.6" y2="77.5" stroke="#000" stroke-width="1.6" />
<line x1="847.5" y1="226.2" x2="847.5" y2="220.2" stroke="#000" stroke-width="1.6" />
<line x1="847.5" y1="65.5" x2="847.5" y2="71.5" stroke="#000" stroke-width="1.6" />
<line x1="867.4" y1="226.2" x2="867.4" y2="214.2" stroke="#000" stroke-width="1.6" />
<line x1="867.4" y1="65.5" x2="867.4" y2="77.5" stroke="#000" stroke-width="1.6" />
<line x1="887.3" y1="226.2" x2="887.3" y2="220.2" stroke="#000" stroke-width="1.6" />
<line x1="887.3" y1="65.5" x2="887.3" y2="71.5" stroke="#000" stroke-width="1.6" />
<line x1="907.2" y1="210.1" x2="901.7" y2="210.1" stroke="#000" stroke-width="1.6" />
<line x1="668.5" y1="210.1" x2="674.0" y2="210.1" stroke="#000" stroke-width="1.6" />
<line x1="907.2" y1="194.1" x2="901.7" y2="194.1" stroke="#000" stroke-width="1.6" />
<line x1="668.5" y1="194.1" x2="674.0" y2="194.1" stroke="#000" stroke-width="1.6" />
<line x1="907.2" y1="178.0" x2="901.7" y2="178.0" stroke="#000" stroke-width="1.6" />
<line x1="668.5" y1="178.0" x2="674.0" y2="178.0" stroke="#000" stroke-width="1.6" />
<line x1="907.2" y1="161.9" x2="895.2" y2="161.9" stroke="#000" stroke-width="1.6" />
<line x1="668.5" y1="161.9" x2="680.5" y2="161.9" stroke="#000" stroke-width="1.6" />
<line x1="907.2" y1="145.8" x2="901.7" y2="145.8" stroke="#000" stroke-width="1.6" />
<line x1="668.5" y1="145.8" x2="674.0" y2="145.8" stroke="#000" stroke-width="1.6" />
<line x1="907.2" y1="129.8" x2="901.7" y2="129.8" stroke="#000" stroke-width="1.6" />
<line x1="668.5" y1="129.8" x2="674.0" y2="129.8" stroke="#000" stroke-width="1.6" />
<line x1="907.2" y1="113.7" x2="901.7" y2="113.7" stroke="#000" stroke-width="1.6" />
<line x1="668.5" y1="113.7" x2="674.0" y2="113.7" stroke="#000" stroke-width="1.6" />
<line x1="907.2" y1="97.6" x2="895.2" y2="97.6" stroke="#000" stroke-width="1.6" />
<line x1="668.5" y1="97.6" x2="680.5" y2="97.6" stroke="#000" stroke-width="1.6" />
<line x1="907.2" y1="81.6" x2="901.7" y2="81.6" stroke="#000" stroke-width="1.6" />
<line x1="668.5" y1="81.6" x2="674.0" y2="81.6" stroke="#000" stroke-width="1.6" />
<text x="712.3" y="271.0" font-size="34" text-anchor="middle" fill="#000" >2</text>
<text x="752.1" y="271.0" font-size="34" text-anchor="middle" fill="#000" >4</text>
<text x="791.9" y="271.0" font-size="34" text-anchor="middle" fill="#000" >6</text>
<text x="831.6" y="271.0" font-size="34" text-anchor="middle" fill="#000" >8</text>
<text x="871.4" y="271.0" font-size="34" text-anchor="middle" fill="#000" >10</text>
<rect x="1087.2" y="65.5" width="238.2" height="160.7" fill="#fff"/>
<line x1="1107.0" y1="226.2" x2="1107.0" y2="220.2" stroke="#000" stroke-width="1.6" />
<line x1="1107.0" y1="65.5" x2="1107.0" y2="71.5" stroke="#000" stroke-width="1.6" />
<line x1="1126.9" y1="226.2" x2="1126.9" y2="214.2" stroke="#000" stroke-width="1.6" />
<line x1="1126.9" y1="65.5" x2="1126.9" y2="77.5" stroke="#000" stroke-width="1.6" />
<line x1="1146.8" y1="226.2" x2="1146.8" y2="220.2" stroke="#000" stroke-width="1.6" />
<line x1="1146.8" y1="65.5" x2="1146.8" y2="71.5" stroke="#000" stroke-width="1.6" />
<line x1="1166.6" y1="226.2" x2="1166.6" y2="214.2" stroke="#000" stroke-width="1.6" />
<line x1="1166.6" y1="65.5" x2="1166.6" y2="77.5" stroke="#000" stroke-width="1.6" />
<line x1="1186.5" y1="226.2" x2="1186.5" y2="220.2" stroke="#000" stroke-width="1.6" />
<line x1="1186.5" y1="65.5" x2="1186.5" y2="71.5" stroke="#000" stroke-width="1.6" />
<line x1="1206.3" y1="226.2" x2="1206.3" y2="214.2" stroke="#000" stroke-width="1.6" />
<line x1="1206.3" y1="65.5" x2="1206.3" y2="77.5" stroke="#000" stroke-width="1.6" />
<line x1="1226.2" y1="226.2" x2="1226.2" y2="220.2" stroke="#000" stroke-width="1.6" />
<line x1="1226.2" y1="65.5" x2="1226.2" y2="71.5" stroke="#000" stroke-width="1.6" />
<line x1="1246.0" y1="226.2" x2="1246.0" y2="214.2" stroke="#000" stroke-width="1.6" />
<line x1="1246.0" y1="65.5" x2="1246.0" y2="77.5" stroke="#000" stroke-width="1.6" />
<line x1="1265.9" y1="226.2" x2="1265.9" y2="220.2" stroke="#000" stroke-width="1.6" />
<line x1="1265.9" y1="65.5" x2="1265.9" y2="71.5" stroke="#000" stroke-width="1.6" />
<line x1="1285.7" y1="226.2" x2="1285.7" y2="214.2" stroke="#000" stroke-width="1.6" />
<line x1="1285.7" y1="65.5" x2="1285.7" y2="77.5" stroke="#000" stroke-width="1.6" />
<line x1="1305.6" y1="226.2" x2="1305.6" y2="220.2" stroke="#000" stroke-width="1.6" />
<line x1="1305.6" y1="65.5" x2="1305.6" y2="71.5" stroke="#000" stroke-width="1.6" />
<line x1="1325.4" y1="210.1" x2="1319.9" y2="210.1" stroke="#000" stroke-width="1.6" />
<line x1="1087.2" y1="210.1" x2="1092.7" y2="210.1" stroke="#000" stroke-width="1.6" />
<line x1="1325.4" y1="194.1" x2="1319.9" y2="194.1" stroke="#000" stroke-width="1.6" />
<line x1="1087.2" y1="194.1" x2="1092.7" y2="194.1" stroke="#000" stroke-width="1.6" />
<line x1="1325.4" y1="178.0" x2="1319.9" y2="178.0" stroke="#000" stroke-width="1.6" />
<line x1="1087.2" y1="178.0" x2="1092.7" y2="178.0" stroke="#000" stroke-width="1.6" />
<line x1="1325.4" y1="161.9" x2="1313.4" y2="161.9" stroke="#000" stroke-width="1.6" />
<line x1="1087.2" y1="161.9" x2="1099.2" y2="161.9" stroke="#000" stroke-width="1.6" />
<line x1="1325.4" y1="145.8" x2="1319.9" y2="145.8" stroke="#000" stroke-width="1.6" />
<line x1="1087.2" y1="145.8" x2="1092.7" y2="145.8" stroke="#000" stroke-width="1.6" />
<line x1="1325.4" y1="129.8" x2="1319.9" y2="129.8" stroke="#000" stroke-width="1.6" />
<line x1="1087.2" y1="129.8" x2="1092.7" y2="129.8" stroke="#000" stroke-width="1.6" />
<line x1="1325.4" y1="113.7" x2="1319.9" y2="113.7" stroke="#000" stroke-width="1.6" />
<line x1="1087.2" y1="113.7" x2="1092.7" y2="113.7" stroke="#000" stroke-width="1.6" />
<line x1="1325.4" y1="97.6" x2="1313.4" y2="97.6" stroke="#000" stroke-width="1.6" />
<line x1="1087.2" y1="97.6" x2="1099.2" y2="97.6" stroke="#000" stroke-width="1.6" />
<line x1="1325.4" y1="81.6" x2="1319.9" y2="81.6" stroke="#000" stroke-width="1.6" />
<line x1="1087.2" y1="81.6" x2="1092.7" y2="81.6" stroke="#000" stroke-width="1.6" />
<text x="1130.9" y="271.0" font-size="34" text-anchor="middle" fill="#000" >2</text>
<text x="1170.6" y="271.0" font-size="34" text-anchor="middle" fill="#000" >4</text>
<text x="1210.3" y="271.0" font-size="34" text-anchor="middle" fill="#000" >6</text>
<text x="1250.0" y="271.0" font-size="34" text-anchor="middle" fill="#000" >8</text>
<text x="1289.7" y="271.0" font-size="34" text-anchor="middle" fill="#000" >10</text>
<polyline points="251.6,55.0 251.6,190.5 253.1,219.4 255.2,224.0 258.8,222.1 262.5,216.7 266.1,212.2 267.9,210.4 270.6,212.2 273.3,213.7 276.9,210.8 280.5,208.6 284.1,212.2 289.6,215.8 295.0,218.0 302.2,219.8 309.5,219.8 316.7,218.0 323.9,215.8 329.3,213.7 334.8,207.7 340.2,201.4 345.6,195.6 351.0,189.1 356.4,177.9 361.9,163.4 367.3,159.8 372.7,159.8 378.1,154.4 385.4,149.9 392.6,147.1 399.8,139.9 405.2,133.6 408.9,123.6 412.5,112.8 416.1,109.2 419.7,114.6 423.3,123.6 426.9,132.7 430.5,139.9 436.0,147.1 441.4,152.6 446.8,156.2 452.2,161.6 457.7,167.0 463.1,172.4 468.5,177.9 473.9,183.3 479.3,190.5 484.8,194.1 489.3,195.6" fill="none" stroke="#b52a78" stroke-width="4.6" stroke-linejoin="round" stroke-linecap="round" clip-path="url(#iclipa)"/>
<polyline points="252.0,55.0 252.0,190.5 253.4,219.4 255.2,224.0 258.8,221.2 262.5,215.8 266.1,210.4 267.9,208.6 270.6,210.4 273.3,212.2 276.9,209.5 280.5,207.7 284.1,211.3 289.6,214.9 295.0,217.6 302.2,219.1 309.5,219.1 316.7,217.6 323.9,215.5 329.3,213.1 334.8,206.8 340.2,200.5 345.6,195.0 351.0,188.7 356.4,177.9 360.1,163.4 363.7,158.0 368.2,157.1 372.7,158.0 376.3,156.2 381.7,152.6 387.2,150.8 392.6,148.0 398.0,141.7 403.4,130.9 407.1,125.5 410.7,124.5 414.3,123.6 419.7,127.3 425.1,131.8 430.5,135.4 436.0,139.0 441.4,142.6 446.8,144.4 452.2,148.0 457.7,154.4 463.1,163.4 468.5,172.4 473.9,177.9 479.3,185.1 484.8,190.5 489.3,194.1" fill="none" stroke="#fca34e" stroke-width="4.6" stroke-linejoin="round" stroke-linecap="round" clip-path="url(#iclipa)"/>
<polyline points="250.7,224.0 255.2,224.0 259.7,217.6 264.3,199.6 267.9,181.5 270.6,163.4 272.4,147.1 273.7,141.7 275.1,154.4 276.9,176.1 278.7,194.1 281.4,203.2 285.1,204.1 289.6,202.3 293.2,208.6 297.7,215.8 302.2,214.9 307.6,213.1 313.1,210.8 318.5,211.3 323.9,213.1 327.5,212.2 331.1,208.6 336.6,201.4 341.1,194.1 346.5,188.7 351.0,183.3 356.4,174.3 360.1,167.0 364.6,168.8 370.0,171.5 374.5,168.8 379.9,163.4 385.4,158.0 389.0,155.3 392.6,149.9 396.2,143.5 399.8,132.7 403.4,120.9 407.1,118.2 411.6,119.1 415.2,122.7 419.7,129.1 424.2,132.7 428.7,136.3 433.3,134.5 437.8,131.8 443.2,131.2 446.8,130.9 451.3,126.9 454.0,132.7 457.7,143.5 461.3,152.6 466.7,159.8 472.1,165.2 475.7,173.3 481.2,183.3 484.8,187.8 489.3,191.4" fill="none" stroke="#501179" stroke-width="4.6" stroke-linejoin="round" stroke-linecap="round" clip-path="url(#iclipa)"/>
<polyline points="670.5,55.0 670.5,190.5 672.3,221.2 675.0,223.1 678.7,219.4 683.2,214.0 687.7,208.6 693.1,205.0 696.7,206.8 700.3,208.6 704.0,208.6 707.6,214.0 711.2,217.6 716.6,219.8 723.8,220.9 731.1,219.8 738.3,218.5 745.5,217.6 750.9,214.9 756.4,210.4 761.8,201.4 767.2,194.1 774.4,193.2 779.9,188.7 785.3,183.3 788.9,179.7 792.5,170.6 796.1,159.8 801.6,148.9 807.0,139.9 809.7,134.5 812.4,133.6 816.0,137.2 819.6,134.5 825.1,131.8 830.5,129.1 835.0,125.5 837.7,120.0 841.3,112.8 844.9,105.6 848.5,98.3 852.2,96.2 857.6,98.3 863.0,102.0 866.6,107.4 870.2,118.2 873.9,130.9 877.5,138.1 882.9,139.0 888.3,143.5 893.7,158.0 897.3,160.7 902.8,161.6 908.2,165.2" fill="none" stroke="#fca34e" stroke-width="4.6" stroke-linejoin="round" stroke-linecap="round" clip-path="url(#iclipb)"/>
<polyline points="668.7,183.3 671.4,224.0 675.0,223.1 678.7,217.6 683.2,197.7 687.7,185.1 691.3,174.3 694.0,165.2 696.7,154.4 698.5,158.0 700.3,176.1 702.1,190.5 704.9,201.4 708.5,204.1 712.1,201.4 714.8,199.6 718.4,206.8 722.9,212.2 728.4,215.8 733.8,214.0 739.2,210.4 745.5,206.8 749.1,201.4 751.9,199.6 754.6,205.0 758.2,206.8 762.7,203.2 767.2,199.6 770.8,192.3 774.4,181.5 778.1,170.6 781.7,168.8 785.3,159.8 788.0,148.9 791.6,147.1 795.2,150.8 798.8,152.6 803.4,150.8 807.0,148.9 812.4,149.3 816.9,148.0 820.5,144.4 824.1,138.1 827.8,127.3 830.5,119.1 834.1,116.4 839.5,113.7 843.1,118.2 846.7,122.7 848.5,123.6 852.2,117.3 857.6,116.4 861.2,112.8 864.8,108.3 868.4,112.8 872.0,121.8 876.6,130.9 880.2,127.3 884.7,120.9 888.3,118.2 893.7,118.2 898.3,113.7 901.9,116.4 904.6,127.3 908.2,135.4" fill="none" stroke="#501179" stroke-width="4.6" stroke-linejoin="round" stroke-linecap="round" clip-path="url(#iclipb)"/>
<polyline points="1089.0,40.0 1089.0,190.0 1090.0,220.0 1094.0,222.0 1100.0,216.0 1106.0,208.0 1112.0,204.0 1116.0,204.0 1120.0,206.0 1126.0,208.0 1130.0,214.0 1135.0,219.0 1140.0,220.0 1146.0,221.0 1152.0,218.4 1158.0,218.4 1164.0,217.6 1170.0,215.0 1176.0,210.0 1182.0,204.0 1188.0,194.0 1194.0,192.0 1200.0,191.0 1205.0,186.0 1210.0,181.0 1214.0,175.0 1218.0,166.0 1222.0,157.0 1226.0,149.0 1232.0,142.0 1236.0,134.0 1239.0,126.0 1242.0,128.0 1246.0,130.0 1250.0,128.0 1254.0,124.0 1258.0,119.0 1262.0,114.0 1266.0,107.0 1270.0,103.0 1275.0,96.0 1279.0,89.0 1284.0,89.0 1288.0,86.0 1292.0,92.0 1296.0,100.0 1300.0,110.0 1304.0,122.0 1308.0,130.0 1312.0,132.0 1316.0,136.0 1320.0,139.0 1323.0,146.0 1326.4,153.0" fill="none" stroke="#fca34e" stroke-width="4.6" stroke-linejoin="round" stroke-linecap="round" clip-path="url(#iclipc)"/>
<polyline points="1087.6,161.0 1091.0,222.0 1096.0,220.0 1100.0,206.0 1103.0,190.0 1107.0,182.0 1112.0,170.0 1116.0,160.0 1119.0,166.0 1121.0,182.0 1124.0,200.0 1128.0,205.0 1132.0,202.0 1135.0,199.0 1139.0,205.0 1144.0,211.0 1150.0,215.0 1156.0,212.0 1162.0,208.0 1168.0,205.0 1173.0,201.0 1178.0,193.0 1182.0,199.0 1188.0,199.0 1192.0,194.0 1196.0,184.0 1200.0,167.0 1205.0,169.0 1209.0,159.0 1213.0,142.0 1216.0,135.0 1220.0,141.0 1224.0,145.0 1229.0,141.0 1235.0,136.0 1240.0,141.0 1244.0,142.0 1249.0,138.0 1252.0,128.0 1255.0,118.0 1260.0,115.0 1266.0,112.0 1272.0,112.0 1276.0,116.0 1280.0,118.0 1284.0,116.0 1288.0,107.0 1292.0,104.0 1296.0,105.0 1300.0,109.0 1304.0,116.0 1309.0,122.0 1313.0,118.0 1318.0,110.0 1322.0,108.0 1326.4,107.0" fill="none" stroke="#501179" stroke-width="4.6" stroke-linejoin="round" stroke-linecap="round" clip-path="url(#iclipc)"/>
<path d="M99.0,65.5 H490.2 V675.3 H99.0 Z" fill="none" stroke="#000" stroke-width="2.4"/>
<path d="M250.7,65.5 V226.2 H490.2" fill="none" stroke="#000" stroke-width="2.4"/>
<path d="M517.6,65.5 H907.2 V675.3 H517.6 Z" fill="none" stroke="#000" stroke-width="2.4"/>
<path d="M668.5,65.5 V226.2 H907.2" fill="none" stroke="#000" stroke-width="2.4"/>
<path d="M935.6,65.5 H1325.4 V675.3 H935.6 Z" fill="none" stroke="#000" stroke-width="2.4"/>
<path d="M1087.2,65.5 V226.2 H1325.4" fill="none" stroke="#000" stroke-width="2.4"/>
<g transform="translate(411,414.5) scale(0.12695,0.12695) translate(-520,-980)">
<line x1="240" y1="150" x2="240" y2="1800" stroke="#ccc" stroke-width="3"/>
<line x1="485" y1="150" x2="485" y2="1800" stroke="#ccc" stroke-width="3"/>
<line x1="830" y1="150" x2="830" y2="1800" stroke="#ccc" stroke-width="3"/>
<polygon points="590,560 720,730 600,900 480,720" fill="#9c9c9c" stroke="none" stroke-width="0" opacity="1"/>
<polygon points="600,900 720,1060 590,1220 480,1060" fill="#9c9c9c" stroke="none" stroke-width="0" opacity="1"/>
<polygon points="375,180 510,345 345,370" fill="#a8a8a8" stroke="none" stroke-width="0" opacity="1"/>
<polygon points="510,345 350,505 345,370" fill="#8e8e8e" stroke="none" stroke-width="0" opacity="1"/>
<polygon points="350,505 215,315 345,370" fill="#777" stroke="none" stroke-width="0" opacity="1"/>
<polygon points="215,315 375,180 345,370" fill="#939393" stroke="none" stroke-width="0" opacity="1"/>
<path d="M345,370L375,180M345,370L510,345M345,370L350,505M345,370L215,315M375,180L510,345L350,505L215,315Z" fill="none" stroke="#111" stroke-width="5" opacity="0.75" stroke-linejoin="round"/>
<polygon points="650,185 860,305 625,355" fill="#a8a8a8" stroke="none" stroke-width="0" opacity="1"/>
<polygon points="860,305 665,520 625,355" fill="#8e8e8e" stroke="none" stroke-width="0" opacity="1"/>
<polygon points="665,520 510,345 625,355" fill="#777" stroke="none" stroke-width="0" opacity="1"/>
<polygon points="510,345 650,185 625,355" fill="#939393" stroke="none" stroke-width="0" opacity="1"/>
<path d="M625,355L650,185M625,355L860,305M625,355L665,520M625,355L510,345M650,185L860,305L665,520L510,345Z" fill="none" stroke="#111" stroke-width="5" opacity="0.75" stroke-linejoin="round"/>
<polygon points="235,615 385,790 205,815" fill="#a8a8a8" stroke="none" stroke-width="0" opacity="1"/>
<polygon points="385,790 250,955 205,815" fill="#8e8e8e" stroke="none" stroke-width="0" opacity="1"/>
<polygon points="250,955 95,805 205,815" fill="#777" stroke="none" stroke-width="0" opacity="1"/>
<polygon points="95,805 235,615 205,815" fill="#939393" stroke="none" stroke-width="0" opacity="1"/>
<path d="M205,815L235,615M205,815L385,790M205,815L250,955M205,815L95,805M235,615L385,790L250,955L95,805Z" fill="none" stroke="#111" stroke-width="5" opacity="0.75" stroke-linejoin="round"/>
<polygon points="480,680 630,855 450,875" fill="#a8a8a8" stroke="none" stroke-width="0" opacity="1"/>
<polygon points="630,855 495,1020 450,875" fill="#8e8e8e" stroke="none" stroke-width="0" opacity="1"/>
<polygon points="495,1020 340,865 450,875" fill="#777" stroke="none" stroke-width="0" opacity="1"/>
<polygon points="340,865 480,680 450,875" fill="#939393" stroke="none" stroke-width="0" opacity="1"/>
<path d="M450,875L480,680M450,875L630,855M450,875L495,1020M450,875L340,865M480,680L630,855L495,1020L340,865Z" fill="none" stroke="#111" stroke-width="5" opacity="0.75" stroke-linejoin="round"/>
<polygon points="825,635 980,810 800,830" fill="#a8a8a8" stroke="none" stroke-width="0" opacity="1"/>
<polygon points="980,810 840,975 800,830" fill="#8e8e8e" stroke="none" stroke-width="0" opacity="1"/>
<polygon points="840,975 685,825 800,830" fill="#777" stroke="none" stroke-width="0" opacity="1"/>
<polygon points="685,825 825,635 800,830" fill="#939393" stroke="none" stroke-width="0" opacity="1"/>
<path d="M800,830L825,635M800,830L980,810M800,830L840,975M800,830L685,825M825,635L980,810L840,975L685,825Z" fill="none" stroke="#111" stroke-width="5" opacity="0.75" stroke-linejoin="round"/>
<polygon points="250,955 380,1110 225,1145" fill="#a8a8a8" stroke="none" stroke-width="0" opacity="1"/>
<polygon points="380,1110 230,1285 225,1145" fill="#8e8e8e" stroke="none" stroke-width="0" opacity="1"/>
<polygon points="230,1285 90,1090 225,1145" fill="#777" stroke="none" stroke-width="0" opacity="1"/>
<polygon points="90,1090 250,955 225,1145" fill="#939393" stroke="none" stroke-width="0" opacity="1"/>
<path d="M225,1145L250,955M225,1145L380,1110M225,1145L230,1285M225,1145L90,1090M250,955L380,1110L230,1285L90,1090Z" fill="none" stroke="#111" stroke-width="5" opacity="0.75" stroke-linejoin="round"/>
<polygon points="495,1020 635,1185 465,1210" fill="#a8a8a8" stroke="none" stroke-width="0" opacity="1"/>
<polygon points="635,1185 475,1345 465,1210" fill="#8e8e8e" stroke="none" stroke-width="0" opacity="1"/>
<polygon points="475,1345 335,1150 465,1210" fill="#777" stroke="none" stroke-width="0" opacity="1"/>
<polygon points="335,1150 495,1020 465,1210" fill="#939393" stroke="none" stroke-width="0" opacity="1"/>
<path d="M465,1210L495,1020M465,1210L635,1185M465,1210L475,1345M465,1210L335,1150M495,1020L635,1185L475,1345L335,1150Z" fill="none" stroke="#111" stroke-width="5" opacity="0.75" stroke-linejoin="round"/>
<polygon points="840,975 985,1140 815,1165" fill="#a8a8a8" stroke="none" stroke-width="0" opacity="1"/>
<polygon points="985,1140 820,1300 815,1165" fill="#8e8e8e" stroke="none" stroke-width="0" opacity="1"/>
<polygon points="820,1300 685,1110 815,1165" fill="#777" stroke="none" stroke-width="0" opacity="1"/>
<polygon points="685,1110 840,975 815,1165" fill="#939393" stroke="none" stroke-width="0" opacity="1"/>
<path d="M815,1165L840,975M815,1165L985,1140M815,1165L820,1300M815,1165L685,1110M840,975L985,1140L820,1300L685,1110Z" fill="none" stroke="#111" stroke-width="5" opacity="0.75" stroke-linejoin="round"/>
<polygon points="355,1455 505,1625 330,1645" fill="#a8a8a8" stroke="none" stroke-width="0" opacity="1"/>
<polygon points="505,1625 375,1780 330,1645" fill="#8e8e8e" stroke="none" stroke-width="0" opacity="1"/>
<polygon points="375,1780 215,1640 330,1645" fill="#777" stroke="none" stroke-width="0" opacity="1"/>
<polygon points="215,1640 355,1455 330,1645" fill="#939393" stroke="none" stroke-width="0" opacity="1"/>
<path d="M330,1645L355,1455M330,1645L505,1625M330,1645L375,1780M330,1645L215,1640M355,1455L505,1625L375,1780L215,1640Z" fill="none" stroke="#111" stroke-width="5" opacity="0.75" stroke-linejoin="round"/>
<polygon points="670,1465 860,1585 640,1690" fill="#a8a8a8" stroke="none" stroke-width="0" opacity="1"/>
<polygon points="860,1585 650,1780 640,1690" fill="#8e8e8e" stroke="none" stroke-width="0" opacity="1"/>
<polygon points="650,1780 510,1625 640,1690" fill="#777" stroke="none" stroke-width="0" opacity="1"/>
<polygon points="510,1625 670,1465 640,1690" fill="#939393" stroke="none" stroke-width="0" opacity="1"/>
<path d="M640,1690L670,1465M640,1690L860,1585M640,1690L650,1780M640,1690L510,1625M670,1465L860,1585L650,1780L510,1625Z" fill="none" stroke="#111" stroke-width="5" opacity="0.75" stroke-linejoin="round"/>
<circle cx="245" cy="145" r="55" fill="url(#gSph)"/>
<circle cx="835" cy="165" r="55" fill="url(#gSph)"/>
<circle cx="245" cy="435" r="55" fill="url(#gSph)"/>
<circle cx="840" cy="455" r="55" fill="url(#gSph)"/>
<circle cx="595" cy="100" r="55" fill="url(#gSph)"/>
<circle cx="540" cy="150" r="55" fill="url(#gSph)"/>
<circle cx="485" cy="205" r="55" fill="url(#gSph)"/>
<circle cx="540" cy="440" r="55" fill="url(#gSph)"/>
<circle cx="490" cy="495" r="55" fill="url(#gSph)"/>
<circle cx="410" cy="635" r="55" fill="url(#gSph)"/>
<circle cx="365" cy="695" r="55" fill="url(#gSph)"/>
<circle cx="715" cy="640" r="55" fill="url(#gSph)"/>
<circle cx="655" cy="700" r="55" fill="url(#gSph)"/>
<circle cx="410" cy="930" r="55" fill="url(#gSph)"/>
<circle cx="365" cy="985" r="55" fill="url(#gSph)"/>
<circle cx="715" cy="935" r="55" fill="url(#gSph)"/>
<circle cx="655" cy="990" r="55" fill="url(#gSph)"/>
<circle cx="715" cy="1225" r="55" fill="url(#gSph)"/>
<circle cx="370" cy="1275" r="55" fill="url(#gSph)"/>
<circle cx="660" cy="1280" r="55" fill="url(#gSph)"/>
<circle cx="245" cy="1470" r="55" fill="url(#gSph)"/>
<circle cx="835" cy="1485" r="55" fill="url(#gSph)"/>
<circle cx="245" cy="1775" r="55" fill="url(#gSph)"/>
<circle cx="835" cy="1775" r="55" fill="url(#gSph)"/>
<circle cx="595" cy="1425" r="55" fill="url(#gSph)"/>
<circle cx="540" cy="1475" r="55" fill="url(#gSph)"/>
<circle cx="485" cy="1530" r="55" fill="url(#gSph)"/>
<circle cx="540" cy="1770" r="55" fill="url(#gSph)"/>
<circle cx="490" cy="1830" r="55" fill="url(#gSph)"/>
<circle cx="510" cy="345" r="19" fill="url(#gO)"/>
<circle cx="980" cy="810" r="19" fill="url(#gO)"/>
<circle cx="860" cy="305" r="19" fill="url(#gO)"/>
<circle cx="685" cy="825" r="19" fill="url(#gO)"/>
<circle cx="230" cy="1285" r="19" fill="url(#gO)"/>
<circle cx="665" cy="520" r="19" fill="url(#gO)"/>
<circle cx="670" cy="1465" r="19" fill="url(#gO)"/>
<circle cx="475" cy="1345" r="19" fill="url(#gO)"/>
<circle cx="250" cy="955" r="19" fill="url(#gO)"/>
<circle cx="800" cy="830" r="19" fill="url(#gO)"/>
<circle cx="380" cy="1110" r="19" fill="url(#gO)"/>
<circle cx="225" cy="1145" r="19" fill="url(#gO)"/>
<circle cx="350" cy="505" r="19" fill="url(#gO)"/>
<circle cx="235" cy="615" r="19" fill="url(#gO)"/>
<circle cx="630" cy="855" r="19" fill="url(#gO)"/>
<circle cx="375" cy="180" r="19" fill="url(#gO)"/>
<circle cx="510" cy="1625" r="19" fill="url(#gO)"/>
<circle cx="625" cy="355" r="19" fill="url(#gO)"/>
<circle cx="335" cy="1150" r="19" fill="url(#gO)"/>
<circle cx="815" cy="1165" r="19" fill="url(#gO)"/>
<circle cx="450" cy="875" r="19" fill="url(#gO)"/>
<circle cx="495" cy="1020" r="19" fill="url(#gO)"/>
<circle cx="215" cy="1640" r="19" fill="url(#gO)"/>
<circle cx="860" cy="1585" r="19" fill="url(#gO)"/>
<circle cx="985" cy="1140" r="19" fill="url(#gO)"/>
<circle cx="90" cy="1090" r="19" fill="url(#gO)"/>
<circle cx="330" cy="1645" r="19" fill="url(#gO)"/>
<circle cx="205" cy="815" r="19" fill="url(#gO)"/>
<circle cx="355" cy="1455" r="19" fill="url(#gO)"/>
<circle cx="840" cy="975" r="19" fill="url(#gO)"/>
<circle cx="505" cy="1625" r="19" fill="url(#gO)"/>
<circle cx="825" cy="635" r="19" fill="url(#gO)"/>
<circle cx="685" cy="1110" r="19" fill="url(#gO)"/>
<circle cx="95" cy="805" r="19" fill="url(#gO)"/>
<circle cx="650" cy="185" r="19" fill="url(#gO)"/>
<circle cx="465" cy="1210" r="19" fill="url(#gO)"/>
<circle cx="345" cy="370" r="19" fill="url(#gO)"/>
<circle cx="340" cy="865" r="19" fill="url(#gO)"/>
<circle cx="215" cy="315" r="19" fill="url(#gO)"/>
<circle cx="480" cy="680" r="19" fill="url(#gO)"/>
<circle cx="385" cy="790" r="19" fill="url(#gO)"/>
<circle cx="635" cy="1185" r="19" fill="url(#gO)"/>
<circle cx="375" cy="1780" r="19" fill="url(#gO)"/>
<circle cx="650" cy="1780" r="19" fill="url(#gO)"/>
<circle cx="640" cy="1690" r="19" fill="url(#gO)"/>
<circle cx="820" cy="1300" r="19" fill="url(#gO)"/>
</g>
<g transform="translate(817.5,413) scale(0.09686,0.09648) translate(-520,-980)">
<line x1="240" y1="150" x2="240" y2="1800" stroke="#ccc" stroke-width="3"/>
<line x1="485" y1="150" x2="485" y2="1800" stroke="#ccc" stroke-width="3"/>
<line x1="830" y1="150" x2="830" y2="1800" stroke="#ccc" stroke-width="3"/>
<polygon points="590,560 720,730 600,900 480,720" fill="#9c9c9c" stroke="none" stroke-width="0" opacity="1"/>
<polygon points="600,900 720,1060 590,1220 480,1060" fill="#9c9c9c" stroke="none" stroke-width="0" opacity="1"/>
<polygon points="375,180 510,345 345,370" fill="#a8a8a8" stroke="none" stroke-width="0" opacity="1"/>
<polygon points="510,345 350,505 345,370" fill="#8e8e8e" stroke="none" stroke-width="0" opacity="1"/>
<polygon points="350,505 215,315 345,370" fill="#777" stroke="none" stroke-width="0" opacity="1"/>
<polygon points="215,315 375,180 345,370" fill="#939393" stroke="none" stroke-width="0" opacity="1"/>
<path d="M345,370L375,180M345,370L510,345M345,370L350,505M345,370L215,315M375,180L510,345L350,505L215,315Z" fill="none" stroke="#111" stroke-width="5" opacity="0.75" stroke-linejoin="round"/>
<polygon points="650,185 860,305 625,355" fill="#a8a8a8" stroke="none" stroke-width="0" opacity="1"/>
<polygon points="860,305 665,520 625,355" fill="#8e8e8e" stroke="none" stroke-width="0" opacity="1"/>
<polygon points="665,520 510,345 625,355" fill="#777" stroke="none" stroke-width="0" opacity="1"/>
<polygon points="510,345 650,185 625,355" fill="#939393" stroke="none" stroke-width="0" opacity="1"/>
<path d="M625,355L650,185M625,355L860,305M625,355L665,520M625,355L510,345M650,185L860,305L665,520L510,345Z" fill="none" stroke="#111" stroke-width="5" opacity="0.75" stroke-linejoin="round"/>
<polygon points="235,615 385,790 205,815" fill="#a8a8a8" stroke="none" stroke-width="0" opacity="1"/>
<polygon points="385,790 250,955 205,815" fill="#8e8e8e" stroke="none" stroke-width="0" opacity="1"/>
<polygon points="250,955 95,805 205,815" fill="#777" stroke="none" stroke-width="0" opacity="1"/>
<polygon points="95,805 235,615 205,815" fill="#939393" stroke="none" stroke-width="0" opacity="1"/>
<path d="M205,815L235,615M205,815L385,790M205,815L250,955M205,815L95,805M235,615L385,790L250,955L95,805Z" fill="none" stroke="#111" stroke-width="5" opacity="0.75" stroke-linejoin="round"/>
<polygon points="480,680 630,855 450,875" fill="#a8a8a8" stroke="none" stroke-width="0" opacity="1"/>
<polygon points="630,855 495,1020 450,875" fill="#8e8e8e" stroke="none" stroke-width="0" opacity="1"/>
<polygon points="495,1020 340,865 450,875" fill="#777" stroke="none" stroke-width="0" opacity="1"/>
<polygon points="340,865 480,680 450,875" fill="#939393" stroke="none" stroke-width="0" opacity="1"/>
<path d="M450,875L480,680M450,875L630,855M450,875L495,1020M450,875L340,865M480,680L630,855L495,1020L340,865Z" fill="none" stroke="#111" stroke-width="5" opacity="0.75" stroke-linejoin="round"/>
<polygon points="825,635 980,810 800,830" fill="#a8a8a8" stroke="none" stroke-width="0" opacity="1"/>
<polygon points="980,810 840,975 800,830" fill="#8e8e8e" stroke="none" stroke-width="0" opacity="1"/>
<polygon points="840,975 685,825 800,830" fill="#777" stroke="none" stroke-width="0" opacity="1"/>
<polygon points="685,825 825,635 800,830" fill="#939393" stroke="none" stroke-width="0" opacity="1"/>
<path d="M800,830L825,635M800,830L980,810M800,830L840,975M800,830L685,825M825,635L980,810L840,975L685,825Z" fill="none" stroke="#111" stroke-width="5" opacity="0.75" stroke-linejoin="round"/>
<polygon points="250,955 380,1110 225,1145" fill="#a8a8a8" stroke="none" stroke-width="0" opacity="1"/>
<polygon points="380,1110 230,1285 225,1145" fill="#8e8e8e" stroke="none" stroke-width="0" opacity="1"/>
<polygon points="230,1285 90,1090 225,1145" fill="#777" stroke="none" stroke-width="0" opacity="1"/>
<polygon points="90,1090 250,955 225,1145" fill="#939393" stroke="none" stroke-width="0" opacity="1"/>
<path d="M225,1145L250,955M225,1145L380,1110M225,1145L230,1285M225,1145L90,1090M250,955L380,1110L230,1285L90,1090Z" fill="none" stroke="#111" stroke-width="5" opacity="0.75" stroke-linejoin="round"/>
<polygon points="495,1020 635,1185 465,1210" fill="#a8a8a8" stroke="none" stroke-width="0" opacity="1"/>
<polygon points="635,1185 475,1345 465,1210" fill="#8e8e8e" stroke="none" stroke-width="0" opacity="1"/>
<polygon points="475,1345 335,1150 465,1210" fill="#777" stroke="none" stroke-width="0" opacity="1"/>
<polygon points="335,1150 495,1020 465,1210" fill="#939393" stroke="none" stroke-width="0" opacity="1"/>
<path d="M465,1210L495,1020M465,1210L635,1185M465,1210L475,1345M465,1210L335,1150M495,1020L635,1185L475,1345L335,1150Z" fill="none" stroke="#111" stroke-width="5" opacity="0.75" stroke-linejoin="round"/>
<polygon points="840,975 985,1140 815,1165" fill="#a8a8a8" stroke="none" stroke-width="0" opacity="1"/>
<polygon points="985,1140 820,1300 815,1165" fill="#8e8e8e" stroke="none" stroke-width="0" opacity="1"/>
<polygon points="820,1300 685,1110 815,1165" fill="#777" stroke="none" stroke-width="0" opacity="1"/>
<polygon points="685,1110 840,975 815,1165" fill="#939393" stroke="none" stroke-width="0" opacity="1"/>
<path d="M815,1165L840,975M815,1165L985,1140M815,1165L820,1300M815,1165L685,1110M840,975L985,1140L820,1300L685,1110Z" fill="none" stroke="#111" stroke-width="5" opacity="0.75" stroke-linejoin="round"/>
<polygon points="355,1455 505,1625 330,1645" fill="#a8a8a8" stroke="none" stroke-width="0" opacity="1"/>
<polygon points="505,1625 375,1780 330,1645" fill="#8e8e8e" stroke="none" stroke-width="0" opacity="1"/>
<polygon points="375,1780 215,1640 330,1645" fill="#777" stroke="none" stroke-width="0" opacity="1"/>
<polygon points="215,1640 355,1455 330,1645" fill="#939393" stroke="none" stroke-width="0" opacity="1"/>
<path d="M330,1645L355,1455M330,1645L505,1625M330,1645L375,1780M330,1645L215,1640M355,1455L505,1625L375,1780L215,1640Z" fill="none" stroke="#111" stroke-width="5" opacity="0.75" stroke-linejoin="round"/>
<polygon points="670,1465 860,1585 640,1690" fill="#a8a8a8" stroke="none" stroke-width="0" opacity="1"/>
<polygon points="860,1585 650,1780 640,1690" fill="#8e8e8e" stroke="none" stroke-width="0" opacity="1"/>
<polygon points="650,1780 510,1625 640,1690" fill="#777" stroke="none" stroke-width="0" opacity="1"/>
<polygon points="510,1625 670,1465 640,1690" fill="#939393" stroke="none" stroke-width="0" opacity="1"/>
<path d="M640,1690L670,1465M640,1690L860,1585M640,1690L650,1780M640,1690L510,1625M670,1465L860,1585L650,1780L510,1625Z" fill="none" stroke="#111" stroke-width="5" opacity="0.75" stroke-linejoin="round"/>
<circle cx="245" cy="145" r="55" fill="url(#gSph)"/>
<circle cx="835" cy="165" r="55" fill="url(#gSph)"/>
<circle cx="245" cy="435" r="55" fill="url(#gSph)"/>
<circle cx="840" cy="455" r="55" fill="url(#gSph)"/>
<circle cx="595" cy="100" r="55" fill="url(#gSph)"/>
<circle cx="540" cy="150" r="55" fill="url(#gSph)"/>
<circle cx="485" cy="205" r="55" fill="url(#gSph)"/>
<circle cx="540" cy="440" r="55" fill="url(#gSph)"/>
<circle cx="490" cy="495" r="55" fill="url(#gSph)"/>
<circle cx="410" cy="635" r="55" fill="url(#gSph)"/>
<circle cx="365" cy="695" r="55" fill="url(#gSph)"/>
<circle cx="715" cy="640" r="55" fill="url(#gSph)"/>
<circle cx="655" cy="700" r="55" fill="url(#gSph)"/>
<circle cx="410" cy="930" r="55" fill="url(#gSph)"/>
<circle cx="365" cy="985" r="55" fill="url(#gSph)"/>
<circle cx="715" cy="935" r="55" fill="url(#gSph)"/>
<circle cx="655" cy="990" r="55" fill="url(#gSph)"/>
<circle cx="715" cy="1225" r="55" fill="url(#gSph)"/>
<circle cx="370" cy="1275" r="55" fill="url(#gSph)"/>
<circle cx="660" cy="1280" r="55" fill="url(#gSph)"/>
<circle cx="245" cy="1470" r="55" fill="url(#gSph)"/>
<circle cx="835" cy="1485" r="55" fill="url(#gSph)"/>
<circle cx="245" cy="1775" r="55" fill="url(#gSph)"/>
<circle cx="835" cy="1775" r="55" fill="url(#gSph)"/>
<circle cx="595" cy="1425" r="55" fill="url(#gSph)"/>
<circle cx="540" cy="1475" r="55" fill="url(#gSph)"/>
<circle cx="485" cy="1530" r="55" fill="url(#gSph)"/>
<circle cx="540" cy="1770" r="55" fill="url(#gSph)"/>
<circle cx="490" cy="1830" r="55" fill="url(#gSph)"/>
<circle cx="510" cy="345" r="19" fill="url(#gO)"/>
<circle cx="980" cy="810" r="19" fill="url(#gO)"/>
<circle cx="860" cy="305" r="19" fill="url(#gO)"/>
<circle cx="685" cy="825" r="19" fill="url(#gO)"/>
<circle cx="230" cy="1285" r="19" fill="url(#gO)"/>
<circle cx="665" cy="520" r="19" fill="url(#gO)"/>
<circle cx="670" cy="1465" r="19" fill="url(#gO)"/>
<circle cx="475" cy="1345" r="19" fill="url(#gO)"/>
<circle cx="250" cy="955" r="19" fill="url(#gO)"/>
<circle cx="800" cy="830" r="19" fill="url(#gO)"/>
<circle cx="380" cy="1110" r="19" fill="url(#gO)"/>
<circle cx="225" cy="1145" r="19" fill="url(#gO)"/>
<circle cx="350" cy="505" r="19" fill="url(#gO)"/>
<circle cx="235" cy="615" r="19" fill="url(#gO)"/>
<circle cx="630" cy="855" r="19" fill="url(#gO)"/>
<circle cx="375" cy="180" r="19" fill="url(#gO)"/>
<circle cx="510" cy="1625" r="19" fill="url(#gO)"/>
<circle cx="625" cy="355" r="19" fill="url(#gO)"/>
<circle cx="335" cy="1150" r="19" fill="url(#gO)"/>
<circle cx="815" cy="1165" r="19" fill="url(#gO)"/>
<circle cx="450" cy="875" r="19" fill="url(#gO)"/>
<circle cx="495" cy="1020" r="19" fill="url(#gO)"/>
<circle cx="215" cy="1640" r="19" fill="url(#gO)"/>
<circle cx="860" cy="1585" r="19" fill="url(#gO)"/>
<circle cx="985" cy="1140" r="19" fill="url(#gO)"/>
<circle cx="90" cy="1090" r="19" fill="url(#gO)"/>
<circle cx="330" cy="1645" r="19" fill="url(#gO)"/>
<circle cx="205" cy="815" r="19" fill="url(#gO)"/>
<circle cx="355" cy="1455" r="19" fill="url(#gO)"/>
<circle cx="840" cy="975" r="19" fill="url(#gO)"/>
<circle cx="505" cy="1625" r="19" fill="url(#gO)"/>
<circle cx="825" cy="635" r="19" fill="url(#gO)"/>
<circle cx="685" cy="1110" r="19" fill="url(#gO)"/>
<circle cx="95" cy="805" r="19" fill="url(#gO)"/>
<circle cx="650" cy="185" r="19" fill="url(#gO)"/>
<circle cx="465" cy="1210" r="19" fill="url(#gO)"/>
<circle cx="345" cy="370" r="19" fill="url(#gO)"/>
<circle cx="340" cy="865" r="19" fill="url(#gO)"/>
<circle cx="215" cy="315" r="19" fill="url(#gO)"/>
<circle cx="480" cy="680" r="19" fill="url(#gO)"/>
<circle cx="385" cy="790" r="19" fill="url(#gO)"/>
<circle cx="635" cy="1185" r="19" fill="url(#gO)"/>
<circle cx="375" cy="1780" r="19" fill="url(#gO)"/>
<circle cx="650" cy="1780" r="19" fill="url(#gO)"/>
<circle cx="640" cy="1690" r="19" fill="url(#gO)"/>
<circle cx="820" cy="1300" r="19" fill="url(#gO)"/>
</g>
<g transform="translate(1235.2,413) scale(0.09686,0.09648) translate(-520,-980)">
<line x1="240" y1="150" x2="240" y2="1800" stroke="#ccc" stroke-width="3"/>
<line x1="485" y1="150" x2="485" y2="1800" stroke="#ccc" stroke-width="3"/>
<line x1="830" y1="150" x2="830" y2="1800" stroke="#ccc" stroke-width="3"/>
<polygon points="590,560 720,730 600,900 480,720" fill="#9c9c9c" stroke="none" stroke-width="0" opacity="1"/>
<polygon points="600,900 720,1060 590,1220 480,1060" fill="#9c9c9c" stroke="none" stroke-width="0" opacity="1"/>
<polygon points="375,180 510,345 345,370" fill="#a8a8a8" stroke="none" stroke-width="0" opacity="1"/>
<polygon points="510,345 350,505 345,370" fill="#8e8e8e" stroke="none" stroke-width="0" opacity="1"/>
<polygon points="350,505 215,315 345,370" fill="#777" stroke="none" stroke-width="0" opacity="1"/>
<polygon points="215,315 375,180 345,370" fill="#939393" stroke="none" stroke-width="0" opacity="1"/>
<path d="M345,370L375,180M345,370L510,345M345,370L350,505M345,370L215,315M375,180L510,345L350,505L215,315Z" fill="none" stroke="#111" stroke-width="5" opacity="0.75" stroke-linejoin="round"/>
<polygon points="650,185 860,305 625,355" fill="#a8a8a8" stroke="none" stroke-width="0" opacity="1"/>
<polygon points="860,305 665,520 625,355" fill="#8e8e8e" stroke="none" stroke-width="0" opacity="1"/>
<polygon points="665,520 510,345 625,355" fill="#777" stroke="none" stroke-width="0" opacity="1"/>
<polygon points="510,345 650,185 625,355" fill="#939393" stroke="none" stroke-width="0" opacity="1"/>
<path d="M625,355L650,185M625,355L860,305M625,355L665,520M625,355L510,345M650,185L860,305L665,520L510,345Z" fill="none" stroke="#111" stroke-width="5" opacity="0.75" stroke-linejoin="round"/>
<polygon points="235,615 385,790 205,815" fill="#a8a8a8" stroke="none" stroke-width="0" opacity="1"/>
<polygon points="385,790 250,955 205,815" fill="#8e8e8e" stroke="none" stroke-width="0" opacity="1"/>
<polygon points="250,955 95,805 205,815" fill="#777" stroke="none" stroke-width="0" opacity="1"/>
<polygon points="95,805 235,615 205,815" fill="#939393" stroke="none" stroke-width="0" opacity="1"/>
<path d="M205,815L235,615M205,815L385,790M205,815L250,955M205,815L95,805M235,615L385,790L250,955L95,805Z" fill="none" stroke="#111" stroke-width="5" opacity="0.75" stroke-linejoin="round"/>
<polygon points="480,680 630,855 450,875" fill="#a8a8a8" stroke="none" stroke-width="0" opacity="1"/>
<polygon points="630,855 495,1020 450,875" fill="#8e8e8e" stroke="none" stroke-width="0" opacity="1"/>
<polygon points="495,1020 340,865 450,875" fill="#777" stroke="none" stroke-width="0" opacity="1"/>
<polygon points="340,865 480,680 450,875" fill="#939393" stroke="none" stroke-width="0" opacity="1"/>
<path d="M450,875L480,680M450,875L630,855M450,875L495,1020M450,875L340,865M480,680L630,855L495,1020L340,865Z" fill="none" stroke="#111" stroke-width="5" opacity="0.75" stroke-linejoin="round"/>
<polygon points="825,635 980,810 800,830" fill="#a8a8a8" stroke="none" stroke-width="0" opacity="1"/>
<polygon points="980,810 840,975 800,830" fill="#8e8e8e" stroke="none" stroke-width="0" opacity="1"/>
<polygon points="840,975 685,825 800,830" fill="#777" stroke="none" stroke-width="0" opacity="1"/>
<polygon points="685,825 825,635 800,830" fill="#939393" stroke="none" stroke-width="0" opacity="1"/>
<path d="M800,830L825,635M800,830L980,810M800,830L840,975M800,830L685,825M825,635L980,810L840,975L685,825Z" fill="none" stroke="#111" stroke-width="5" opacity="0.75" stroke-linejoin="round"/>
<polygon points="250,955 380,1110 225,1145" fill="#a8a8a8" stroke="none" stroke-width="0" opacity="1"/>
<polygon points="380,1110 230,1285 225,1145" fill="#8e8e8e" stroke="none" stroke-width="0" opacity="1"/>
<polygon points="230,1285 90,1090 225,1145" fill="#777" stroke="none" stroke-width="0" opacity="1"/>
<polygon points="90,1090 250,955 225,1145" fill="#939393" stroke="none" stroke-width="0" opacity="1"/>
<path d="M225,1145L250,955M225,1145L380,1110M225,1145L230,1285M225,1145L90,1090M250,955L380,1110L230,1285L90,1090Z" fill="none" stroke="#111" stroke-width="5" opacity="0.75" stroke-linejoin="round"/>
<polygon points="495,1020 635,1185 465,1210" fill="#a8a8a8" stroke="none" stroke-width="0" opacity="1"/>
<polygon points="635,1185 475,1345 465,1210" fill="#8e8e8e" stroke="none" stroke-width="0" opacity="1"/>
<polygon points="475,1345 335,1150 465,1210" fill="#777" stroke="none" stroke-width="0" opacity="1"/>
<polygon points="335,1150 495,1020 465,1210" fill="#939393" stroke="none" stroke-width="0" opacity="1"/>
<path d="M465,1210L495,1020M465,1210L635,1185M465,1210L475,1345M465,1210L335,1150M495,1020L635,1185L475,1345L335,1150Z" fill="none" stroke="#111" stroke-width="5" opacity="0.75" stroke-linejoin="round"/>
<polygon points="840,975 985,1140 815,1165" fill="#a8a8a8" stroke="none" stroke-width="0" opacity="1"/>
<polygon points="985,1140 820,1300 815,1165" fill="#8e8e8e" stroke="none" stroke-width="0" opacity="1"/>
<polygon points="820,1300 685,1110 815,1165" fill="#777" stroke="none" stroke-width="0" opacity="1"/>
<polygon points="685,1110 840,975 815,1165" fill="#939393" stroke="none" stroke-width="0" opacity="1"/>
<path d="M815,1165L840,975M815,1165L985,1140M815,1165L820,1300M815,1165L685,1110M840,975L985,1140L820,1300L685,1110Z" fill="none" stroke="#111" stroke-width="5" opacity="0.75" stroke-linejoin="round"/>
<polygon points="355,1455 505,1625 330,1645" fill="#a8a8a8" stroke="none" stroke-width="0" opacity="1"/>
<polygon points="505,1625 375,1780 330,1645" fill="#8e8e8e" stroke="none" stroke-width="0" opacity="1"/>
<polygon points="375,1780 215,1640 330,1645" fill="#777" stroke="none" stroke-width="0" opacity="1"/>
<polygon points="215,1640 355,1455 330,1645" fill="#939393" stroke="none" stroke-width="0" opacity="1"/>
<path d="M330,1645L355,1455M330,1645L505,1625M330,1645L375,1780M330,1645L215,1640M355,1455L505,1625L375,1780L215,1640Z" fill="none" stroke="#111" stroke-width="5" opacity="0.75" stroke-linejoin="round"/>
<polygon points="670,1465 860,1585 640,1690" fill="#a8a8a8" stroke="none" stroke-width="0" opacity="1"/>
<polygon points="860,1585 650,1780 640,1690" fill="#8e8e8e" stroke="none" stroke-width="0" opacity="1"/>
<polygon points="650,1780 510,1625 640,1690" fill="#777" stroke="none" stroke-width="0" opacity="1"/>
<polygon points="510,1625 670,1465 640,1690" fill="#939393" stroke="none" stroke-width="0" opacity="1"/>
<path d="M640,1690L670,1465M640,1690L860,1585M640,1690L650,1780M640,1690L510,1625M670,1465L860,1585L650,1780L510,1625Z" fill="none" stroke="#111" stroke-width="5" opacity="0.75" stroke-linejoin="round"/>
<circle cx="245" cy="145" r="55" fill="url(#gSph)"/>
<circle cx="835" cy="165" r="55" fill="url(#gSph)"/>
<circle cx="245" cy="435" r="55" fill="url(#gSph)"/>
<circle cx="840" cy="455" r="55" fill="url(#gSph)"/>
<circle cx="595" cy="100" r="55" fill="url(#gSph)"/>
<circle cx="540" cy="150" r="55" fill="url(#gSph)"/>
<circle cx="485" cy="205" r="55" fill="url(#gSph)"/>
<circle cx="540" cy="440" r="55" fill="url(#gSph)"/>
<circle cx="490" cy="495" r="55" fill="url(#gSph)"/>
<circle cx="410" cy="635" r="55" fill="url(#gSph)"/>
<circle cx="365" cy="695" r="55" fill="url(#gSph)"/>
<circle cx="715" cy="640" r="55" fill="url(#gSph)"/>
<circle cx="655" cy="700" r="55" fill="url(#gSph)"/>
<circle cx="410" cy="930" r="55" fill="url(#gSph)"/>
<circle cx="365" cy="985" r="55" fill="url(#gSph)"/>
<circle cx="715" cy="935" r="55" fill="url(#gSph)"/>
<circle cx="655" cy="990" r="55" fill="url(#gSph)"/>
<circle cx="715" cy="1225" r="55" fill="url(#gSph)"/>
<circle cx="370" cy="1275" r="55" fill="url(#gSph)"/>
<circle cx="660" cy="1280" r="55" fill="url(#gSph)"/>
<circle cx="245" cy="1470" r="55" fill="url(#gSph)"/>
<circle cx="835" cy="1485" r="55" fill="url(#gSph)"/>
<circle cx="245" cy="1775" r="55" fill="url(#gSph)"/>
<circle cx="835" cy="1775" r="55" fill="url(#gSph)"/>
<circle cx="595" cy="1425" r="55" fill="url(#gSph)"/>
<circle cx="540" cy="1475" r="55" fill="url(#gSph)"/>
<circle cx="485" cy="1530" r="55" fill="url(#gSph)"/>
<circle cx="540" cy="1770" r="55" fill="url(#gSph)"/>
<circle cx="490" cy="1830" r="55" fill="url(#gSph)"/>
<circle cx="510" cy="345" r="19" fill="url(#gO)"/>
<circle cx="980" cy="810" r="19" fill="url(#gO)"/>
<circle cx="860" cy="305" r="19" fill="url(#gO)"/>
<circle cx="685" cy="825" r="19" fill="url(#gO)"/>
<circle cx="230" cy="1285" r="19" fill="url(#gO)"/>
<circle cx="665" cy="520" r="19" fill="url(#gO)"/>
<circle cx="670" cy="1465" r="19" fill="url(#gO)"/>
<circle cx="475" cy="1345" r="19" fill="url(#gO)"/>
<circle cx="250" cy="955" r="19" fill="url(#gO)"/>
<circle cx="800" cy="830" r="19" fill="url(#gO)"/>
<circle cx="380" cy="1110" r="19" fill="url(#gO)"/>
<circle cx="225" cy="1145" r="19" fill="url(#gO)"/>
<circle cx="350" cy="505" r="19" fill="url(#gO)"/>
<circle cx="235" cy="615" r="19" fill="url(#gO)"/>
<circle cx="630" cy="855" r="19" fill="url(#gO)"/>
<circle cx="375" cy="180" r="19" fill="url(#gO)"/>
<circle cx="510" cy="1625" r="19" fill="url(#gO)"/>
<circle cx="625" cy="355" r="19" fill="url(#gO)"/>
<circle cx="335" cy="1150" r="19" fill="url(#gO)"/>
<circle cx="815" cy="1165" r="19" fill="url(#gO)"/>
<circle cx="450" cy="875" r="19" fill="url(#gO)"/>
<circle cx="495" cy="1020" r="19" fill="url(#gO)"/>
<circle cx="215" cy="1640" r="19" fill="url(#gO)"/>
<circle cx="860" cy="1585" r="19" fill="url(#gO)"/>
<circle cx="985" cy="1140" r="19" fill="url(#gO)"/>
<circle cx="90" cy="1090" r="19" fill="url(#gO)"/>
<circle cx="330" cy="1645" r="19" fill="url(#gO)"/>
<circle cx="205" cy="815" r="19" fill="url(#gO)"/>
<circle cx="355" cy="1455" r="19" fill="url(#gO)"/>
<circle cx="840" cy="975" r="19" fill="url(#gO)"/>
<circle cx="505" cy="1625" r="19" fill="url(#gO)"/>
<circle cx="825" cy="635" r="19" fill="url(#gO)"/>
<circle cx="685" cy="1110" r="19" fill="url(#gO)"/>
<circle cx="95" cy="805" r="19" fill="url(#gO)"/>
<circle cx="650" cy="185" r="19" fill="url(#gO)"/>
<circle cx="465" cy="1210" r="19" fill="url(#gO)"/>
<circle cx="345" cy="370" r="19" fill="url(#gO)"/>
<circle cx="340" cy="865" r="19" fill="url(#gO)"/>
<circle cx="215" cy="315" r="19" fill="url(#gO)"/>
<circle cx="480" cy="680" r="19" fill="url(#gO)"/>
<circle cx="385" cy="790" r="19" fill="url(#gO)"/>
<circle cx="635" cy="1185" r="19" fill="url(#gO)"/>
<circle cx="375" cy="1780" r="19" fill="url(#gO)"/>
<circle cx="650" cy="1780" r="19" fill="url(#gO)"/>
<circle cx="640" cy="1690" r="19" fill="url(#gO)"/>
<circle cx="820" cy="1300" r="19" fill="url(#gO)"/>
</g>
<polygon points="820.7,330.1 837.0,310.6 828.5,310.6 828.5,298.1 812.9,298.1 812.9,310.6 804.4,310.6" fill="#000" opacity="0.25"/>
<polygon points="819.5,328.9 835.8,309.4 827.3,309.4 827.3,296.9 811.7,296.9 811.7,309.4 803.2,309.4" fill="url(#gArrB)" stroke="#000" stroke-width="1.4" stroke-linejoin="miter"/>
<polygon points="820.7,494.7 837.0,514.2 828.5,514.2 828.5,526.7 812.9,526.7 812.9,514.2 804.4,514.2" fill="#000" opacity="0.25"/>
<polygon points="819.5,493.5 835.8,513.0 827.3,513.0 827.3,525.5 811.7,525.5 811.7,513.0 803.2,513.0" fill="url(#gArrB)" stroke="#000" stroke-width="1.4" stroke-linejoin="miter"/>
<polygon points="785.1,413.1 765.6,396.8 765.6,405.3 753.1,405.3 753.1,420.9 765.6,420.9 765.6,429.4" fill="#000" opacity="0.25"/>
<polygon points="783.9,411.9 764.4,395.6 764.4,404.1 751.9,404.1 751.9,419.7 764.4,419.7 764.4,428.2" fill="url(#gArrB)" stroke="#000" stroke-width="1.4" stroke-linejoin="miter"/>
<polygon points="856.4,413.1 875.9,396.8 875.9,405.3 888.4,405.3 888.4,420.9 875.9,420.9 875.9,429.4" fill="#000" opacity="0.25"/>
<polygon points="855.2,411.9 874.7,395.6 874.7,404.1 887.2,404.1 887.2,419.7 874.7,419.7 874.7,428.2" fill="url(#gArrB)" stroke="#000" stroke-width="1.4" stroke-linejoin="miter"/>
<polygon points="1238.8,330.1 1255.1,310.6 1246.6,310.6 1246.6,298.1 1231.0,298.1 1231.0,310.6 1222.5,310.6" fill="#000" opacity="0.25"/>
<polygon points="1237.6,328.9 1253.9,309.4 1245.4,309.4 1245.4,296.9 1229.8,296.9 1229.8,309.4 1221.3,309.4" fill="url(#gArrR)" stroke="#000" stroke-width="1.4" stroke-linejoin="miter"/>
<polygon points="1238.8,494.5 1255.1,514.0 1246.6,514.0 1246.6,526.5 1231.0,526.5 1231.0,514.0 1222.5,514.0" fill="#000" opacity="0.25"/>
<polygon points="1237.6,493.3 1253.9,512.8 1245.4,512.8 1245.4,525.3 1229.8,525.3 1229.8,512.8 1221.3,512.8" fill="url(#gArrR)" stroke="#000" stroke-width="1.4" stroke-linejoin="miter"/>
<polygon points="1203.2,413.1 1183.7,396.8 1183.7,405.3 1171.2,405.3 1171.2,420.9 1183.7,420.9 1183.7,429.4" fill="#000" opacity="0.25"/>
<polygon points="1202.0,411.9 1182.5,395.6 1182.5,404.1 1170.0,404.1 1170.0,419.7 1182.5,419.7 1182.5,428.2" fill="url(#gArrR)" stroke="#000" stroke-width="1.4" stroke-linejoin="miter"/>
<polygon points="1274.5,413.1 1294.0,396.8 1294.0,405.3 1306.5,405.3 1306.5,420.9 1294.0,420.9 1294.0,429.4" fill="#000" opacity="0.25"/>
<polygon points="1273.3,411.9 1292.8,395.6 1292.8,404.1 1305.3,404.1 1305.3,419.7 1292.8,419.7 1292.8,428.2" fill="url(#gArrR)" stroke="#000" stroke-width="1.4" stroke-linejoin="miter"/>
<text x="114.5" y="24.2" font-size="33.5">La<tspan font-size="23" dy="9.6">3</tspan><tspan dy="-9.6">Ni</tspan><tspan font-size="23" dy="9.6">2</tspan><tspan dy="-9.6">O</tspan><tspan font-size="23" dy="9.6">7</tspan><tspan dy="-9.6">, 0 GPa, </tspan><tspan font-style="italic">Cmcm</tspan></text>
<text x="513" y="24.2" font-size="33.5">La<tspan font-size="23" dy="9.6">3</tspan><tspan dy="-9.6">Ni</tspan><tspan font-size="23" dy="9.6">2</tspan><tspan dy="-9.6">O</tspan><tspan font-size="23" dy="9.6">7</tspan><tspan dy="-9.6">, 30 GPa, </tspan><tspan font-style="italic">I4/mmm</tspan></text>
<text x="930.5" y="24.2" font-size="33.5">La<tspan font-size="23" dy="9.6">3</tspan><tspan dy="-9.6">Ni</tspan><tspan font-size="23" dy="9.6">2</tspan><tspan dy="-9.6">O</tspan><tspan font-size="23" dy="9.6">7</tspan><tspan dy="-9.6">, 50 GPa, </tspan><tspan font-style="italic">I4/mmm</tspan></text>
<text x="293.6" y="768.7" font-size="33" text-anchor="middle">Photon energy <tspan font-family="Liberation Serif">ω</tspan> (eV)</text>
<text x="711.4" y="768.7" font-size="33" text-anchor="middle">Photon energy <tspan font-family="Liberation Serif">ω</tspan> (eV)</text>
<text x="1129.5" y="768.7" font-size="33" text-anchor="middle">Photon energy <tspan font-family="Liberation Serif">ω</tspan> (eV)</text>
<text x="79.0" y="687.6" font-size="35" text-anchor="end" fill="#000" >0</text>
<text x="79.0" y="586.0" font-size="35" text-anchor="end" fill="#000" >1</text>
<text x="79.0" y="484.3" font-size="35" text-anchor="end" fill="#000" >2</text>
<text x="79.0" y="382.7" font-size="35" text-anchor="end" fill="#000" >3</text>
<text x="79.0" y="281.1" font-size="35" text-anchor="end" fill="#000" >4</text>
<text x="79.0" y="179.4" font-size="35" text-anchor="end" fill="#000" >5</text>
<text x="79.0" y="77.8" font-size="35" text-anchor="end" fill="#000" >6</text>
<text transform="translate(35.6,655) rotate(-90)" font-size="33.5">Optical conductivity <tspan font-family="Liberation Serif">σ(ω)</tspan> (10<tspan font-size="23" dy="-17">3</tspan><tspan dy="17"> Ω</tspan><tspan font-size="23" dy="-17">-1</tspan><tspan dy="17"> cm</tspan><tspan font-size="23" dy="-17">-1</tspan><tspan dy="17">)</tspan></text>
<text x="122.0" y="108.6" font-size="33" text-anchor="start" fill="#000" >(a)</text>
<text x="540.5" y="108.6" font-size="33" text-anchor="start" fill="#000" >(b)</text>
<text x="958.5" y="108.6" font-size="33" text-anchor="start" fill="#000" >(c)</text>
<path d="M207.1,97.0 V114.6 L198.4,111.6 L209.2,139.6 L220.0,111.6 L211.3,114.6 V97.0 Z" fill="#501179"/>
<path d="M174.4,220.2 V237.4 L165.7,234.4 L176.5,262.4 L187.3,234.4 L178.6,237.4 V220.2 Z" fill="#501179"/>
<path d="M285.0,460.7 V478.3 L276.3,475.3 L287.1,503.3 L297.9,475.3 L289.2,478.3 V460.7 Z" fill="#501179"/>
<path d="M187.4,648.4 V631.4 L178.7,634.4 L189.5,606.4 L200.3,634.4 L191.6,631.4 V648.4 Z" fill="#fca34e"/>
<path d="M242.5,627.1 V609.4 L233.8,612.4 L244.6,584.4 L255.4,612.4 L246.7,609.4 V627.1 Z" fill="#fca34e"/>
<text x="179.0" y="107.8" font-size="33" text-anchor="start" fill="#501179" >B</text>
<text x="145.0" y="215.0" font-size="33" text-anchor="start" fill="#501179" >A</text>
<text x="275.5" y="450.0" font-size="33" text-anchor="start" fill="#501179" >C</text>
<text x="201.5" y="662.7" font-size="33" text-anchor="start" fill="#fca34e" >B</text>
<text x="251.0" y="652.0" font-size="33" text-anchor="start" fill="#fca34e" >C</text>
<path d="M653.4,153.5 V170.9 L644.7,167.9 L655.5,195.9 L666.3,167.9 L657.6,170.9 V153.5 Z" fill="#501179"/>
<path d="M602.7,262.0 V278.7 L594.0,275.7 L604.8,303.7 L615.6,275.7 L606.9,278.7 V262.0 Z" fill="#501179"/>
<path d="M738.9,446.0 V462.0 L730.2,459.0 L741.0,487.0 L751.8,459.0 L743.1,462.0 V446.0 Z" fill="#501179"/>
<path d="M641.2,615.0 V598.0 L632.5,601.0 L643.3,573.0 L654.1,601.0 L645.4,598.0 V615.0 Z" fill="#fca34e"/>
<path d="M684.2,634.0 V617.6 L675.5,620.6 L686.3,592.6 L697.1,620.6 L688.4,617.6 V634.0 Z" fill="#fca34e"/>
<path d="M1078.7,192.6 V210.0 L1070.0,207.0 L1080.8,235.0 L1091.6,207.0 L1082.9,210.0 V192.6 Z" fill="#501179"/>
<path d="M1023.7,308.0 V325.0 L1015.0,322.0 L1025.8,350.0 L1036.6,322.0 L1027.9,325.0 V308.0 Z" fill="#501179"/>
<path d="M1170.3,446.0 V464.0 L1161.6,461.0 L1172.4,489.0 L1183.2,461.0 L1174.5,464.0 V446.0 Z" fill="#501179"/>
<path d="M1071.1,600.0 V583.5 L1062.4,586.5 L1073.2,558.5 L1084.0,586.5 L1075.3,583.5 V600.0 Z" fill="#fca34e"/>
<path d="M1111.1,624.0 V607.0 L1102.4,610.0 L1113.2,582.0 L1124.0,610.0 L1115.3,607.0 V624.0 Z" fill="#fca34e"/>
<text x="960" y="154.3" font-size="34" fill="#b52a78"><tspan font-family="Liberation Serif">σ</tspan><tspan font-size="24" dy="9" font-style="italic">xx</tspan><tspan dy="-9">(</tspan><tspan font-family="Liberation Serif">ω</tspan>)</text>
<text x="960" y="197.5" font-size="34" fill="#fca34e"><tspan font-family="Liberation Serif">σ</tspan><tspan font-size="24" dy="9" font-style="italic">yy</tspan><tspan dy="-9">(</tspan><tspan font-family="Liberation Serif">ω</tspan>)</text>
<text x="960" y="240.70000000000002" font-size="34" fill="#501179"><tspan font-family="Liberation Serif">σ</tspan><tspan font-size="24" dy="9" font-style="italic">zz</tspan><tspan dy="-9">(</tspan><tspan font-family="Liberation Serif">ω</tspan>)</text>
<text x="1332.0" y="238.4" font-size="34" text-anchor="start" fill="#000" >0</text>
<text x="1332.0" y="174.1" font-size="34" text-anchor="start" fill="#000" >4</text>
<text x="1332.0" y="109.8" font-size="34" text-anchor="start" fill="#000" >8</text>
<defs><clipPath id="dclip1"><rect x="101.1" y="837.1" width="386.3" height="380.8"/></clipPath><clipPath id="dclip2"><rect x="522.1" y="837" width="381.4" height="380.9"/></clipPath><clipPath id="dclip3"><rect x="940.9" y="836.5" width="382.1" height="381.9"/></clipPath></defs>
<g clip-path="url(#dclip1)">
<g fill="none" stroke-width="6.0" stroke-linecap="round" stroke-linejoin="round">
<polyline points="104.4,907.1 107.9,906.1 111.4,905.0 114.2,902.8 116.9,900.3 119.6,897.9 122.1,895.2 124.6,892.5 127.1,889.8 129.5,887.2 132.2,884.7 134.9,882.2 137.6,879.7 140.3,877.2 143.0,874.8 145.6,872.3 148.3,869.8 151.0,867.3 153.7,864.9 156.4,862.4 159.1,859.9 161.7,857.3 164.2,854.8 166.8,852.2 168.8,849.1 170.8,846.0 171.8,842.6 172.6,839.0" stroke="#0099ff"/>
<polyline points="104.4,1147.9 107.9,1148.9 111.4,1150.0 114.2,1152.2 116.9,1154.7 119.6,1157.1 122.1,1159.8 124.6,1162.5 127.1,1165.2 129.5,1167.8 132.2,1170.3 134.9,1172.8 137.6,1175.3 140.3,1177.8 143.0,1180.2 145.6,1182.7 148.3,1185.2 151.0,1187.7 153.7,1190.1 156.4,1192.6 159.1,1195.1 161.7,1197.7 164.2,1200.2 166.8,1202.8 168.8,1205.9 170.8,1209.0 171.8,1212.4 172.6,1216.0" stroke="#0099ff"/>
<polyline points="484.1,907.1 480.6,906.1 477.1,905.0 474.3,902.8 471.6,900.3 468.9,897.9 466.4,895.2 463.9,892.5 461.4,889.8 459.0,887.2 456.3,884.7 453.6,882.2 450.9,879.7 448.2,877.2 445.5,874.8 442.9,872.3 440.2,869.8 437.5,867.3 434.8,864.9 432.1,862.4 429.4,859.9 426.8,857.3 424.3,854.8 421.7,852.2 419.7,849.1 417.7,846.0 416.7,842.6 415.9,839.0" stroke="#0099ff"/>
<polyline points="484.1,1147.9 480.6,1148.9 477.1,1150.0 474.3,1152.2 471.6,1154.7 468.9,1157.1 466.4,1159.8 463.9,1162.5 461.4,1165.2 459.0,1167.8 456.3,1170.3 453.6,1172.8 450.9,1175.3 448.2,1177.8 445.5,1180.2 442.9,1182.7 440.2,1185.2 437.5,1187.7 434.8,1190.1 432.1,1192.6 429.4,1195.1 426.8,1197.7 424.3,1200.2 421.7,1202.8 419.7,1205.9 417.7,1209.0 416.7,1212.4 415.9,1216.0" stroke="#0099ff"/>
</g>
<g fill="none" stroke-width="6.0" stroke-linecap="round" stroke-linejoin="round">
<polyline points="185.9,836.0 185.9,839.6 185.9,843.3 187.2,846.4 189.4,849.3 191.7,852.1" stroke="#0099ff"/>
<polyline points="191.7,852.1 194.6,854.3 197.5,856.5 200.4,858.7 203.3,860.9" stroke="#0077ff"/>
<polyline points="203.3,860.9 206.0,863.2 208.8,865.6 211.5,868.0 214.2,870.4 217.0,872.8" stroke="#0055ff"/>
<polyline points="217.0,872.8 219.7,875.2 222.4,877.6 225.2,879.9" stroke="#0033ff"/>
<polyline points="225.2,879.9 227.9,882.3 230.8,884.5 233.6,886.8 236.5,889.0 239.4,891.2" stroke="#0011ff"/>
<polyline points="239.4,891.2 242.3,893.4 245.3,895.4 248.3,897.4" stroke="#1100ff"/>
<polyline points="248.3,897.4 251.4,899.4 254.4,901.4 257.4,903.4" stroke="#3300ff"/>
<polyline points="257.4,903.4 260.4,905.4 263.4,907.5" stroke="#5500ff"/>
<polyline points="263.4,907.5 266.5,909.5 269.7,911.0" stroke="#7700ff"/>
<polyline points="269.7,911.0 273.1,912.3 276.5,913.7" stroke="#9900ff"/>
<polyline points="276.5,913.7 279.9,915.0" stroke="#bb00ff"/>
<polyline points="279.9,915.0 283.4,915.6 287.0,916.0 290.6,916.3" stroke="#dd00ff"/>
<polyline points="290.6,916.3 294.2,916.7" stroke="#ff00ff"/>
<polyline points="185.9,1219.0 185.9,1215.4 185.9,1211.7 187.2,1208.6 189.4,1205.7 191.7,1202.9" stroke="#0099ff"/>
<polyline points="191.7,1202.9 194.6,1200.7 197.5,1198.5 200.4,1196.3 203.3,1194.1" stroke="#0077ff"/>
<polyline points="203.3,1194.1 206.0,1191.8 208.8,1189.4 211.5,1187.0 214.2,1184.6 217.0,1182.2" stroke="#0055ff"/>
<polyline points="217.0,1182.2 219.7,1179.8 222.4,1177.4 225.2,1175.1" stroke="#0033ff"/>
<polyline points="225.2,1175.1 227.9,1172.7 230.8,1170.5 233.6,1168.2 236.5,1166.0 239.4,1163.8" stroke="#0011ff"/>
<polyline points="239.4,1163.8 242.3,1161.6 245.3,1159.6 248.3,1157.6" stroke="#1100ff"/>
<polyline points="248.3,1157.6 251.4,1155.6 254.4,1153.6 257.4,1151.6" stroke="#3300ff"/>
<polyline points="257.4,1151.6 260.4,1149.6 263.4,1147.5" stroke="#5500ff"/>
<polyline points="263.4,1147.5 266.5,1145.5 269.7,1144.0" stroke="#7700ff"/>
<polyline points="269.7,1144.0 273.1,1142.7 276.5,1141.3" stroke="#9900ff"/>
<polyline points="276.5,1141.3 279.9,1140.0" stroke="#bb00ff"/>
<polyline points="279.9,1140.0 283.4,1139.4 287.0,1139.0 290.6,1138.7" stroke="#dd00ff"/>
<polyline points="290.6,1138.7 294.2,1138.3" stroke="#ff00ff"/>
<polyline points="402.6,836.0 402.6,839.6 402.6,843.3 401.3,846.4 399.1,849.3 396.8,852.1" stroke="#0099ff"/>
<polyline points="396.8,852.1 393.9,854.3 391.0,856.5 388.1,858.7 385.2,860.9" stroke="#0077ff"/>
<polyline points="385.2,860.9 382.5,863.2 379.7,865.6 377.0,868.0 374.3,870.4 371.5,872.8" stroke="#0055ff"/>
<polyline points="371.5,872.8 368.8,875.2 366.1,877.6 363.3,879.9" stroke="#0033ff"/>
<polyline points="363.3,879.9 360.6,882.3 357.7,884.5 354.9,886.8 352.0,889.0 349.1,891.2" stroke="#0011ff"/>
<polyline points="349.1,891.2 346.2,893.4 343.2,895.4 340.2,897.4" stroke="#1100ff"/>
<polyline points="340.2,897.4 337.1,899.4 334.1,901.4 331.1,903.4" stroke="#3300ff"/>
<polyline points="331.1,903.4 328.1,905.4 325.1,907.5" stroke="#5500ff"/>
<polyline points="325.1,907.5 322.0,909.5 318.8,911.0" stroke="#7700ff"/>
<polyline points="318.8,911.0 315.4,912.3 312.0,913.7" stroke="#9900ff"/>
<polyline points="312.0,913.7 308.6,915.0" stroke="#bb00ff"/>
<polyline points="308.6,915.0 305.1,915.6 301.5,916.0 297.9,916.3" stroke="#dd00ff"/>
<polyline points="297.9,916.3 294.2,916.7" stroke="#ff00ff"/>
<polyline points="402.6,1219.0 402.6,1215.4 402.6,1211.7 401.3,1208.6 399.1,1205.7 396.8,1202.9" stroke="#0099ff"/>
<polyline points="396.8,1202.9 393.9,1200.7 391.0,1198.5 388.1,1196.3 385.2,1194.1" stroke="#0077ff"/>
<polyline points="385.2,1194.1 382.5,1191.8 379.7,1189.4 377.0,1187.0 374.3,1184.6 371.5,1182.2" stroke="#0055ff"/>
<polyline points="371.5,1182.2 368.8,1179.8 366.1,1177.4 363.3,1175.1" stroke="#0033ff"/>
<polyline points="363.3,1175.1 360.6,1172.7 357.7,1170.5 354.9,1168.2 352.0,1166.0 349.1,1163.8" stroke="#0011ff"/>
<polyline points="349.1,1163.8 346.2,1161.6 343.2,1159.6 340.2,1157.6" stroke="#1100ff"/>
<polyline points="340.2,1157.6 337.1,1155.6 334.1,1153.6 331.1,1151.6" stroke="#3300ff"/>
<polyline points="331.1,1151.6 328.1,1149.6 325.1,1147.5" stroke="#5500ff"/>
<polyline points="325.1,1147.5 322.0,1145.5 318.8,1144.0" stroke="#7700ff"/>
<polyline points="318.8,1144.0 315.4,1142.7 312.0,1141.3" stroke="#9900ff"/>
<polyline points="312.0,1141.3 308.6,1140.0" stroke="#bb00ff"/>
<polyline points="308.6,1140.0 305.1,1139.4 301.5,1139.0 297.9,1138.7" stroke="#dd00ff"/>
<polyline points="297.9,1138.7 294.2,1138.3" stroke="#ff00ff"/>
</g>
<g fill="none" stroke-width="6.0" stroke-linecap="round" stroke-linejoin="round">
<polyline points="101.0,921.9 104.5,922.9 108.0,923.8 111.6,924.8" stroke="#0099ff"/>
<polyline points="111.6,924.8 114.1,927.4 116.5,930.2 118.9,932.9 121.3,935.7" stroke="#0077ff"/>
<polyline points="121.3,935.7 123.7,938.4 126.1,941.1 128.6,943.9 131.0,946.6 133.4,949.3 135.8,952.1" stroke="#0055ff"/>
<polyline points="135.8,952.1 138.2,954.8 140.6,957.6 143.0,960.3" stroke="#0033ff"/>
<polyline points="143.0,960.3 145.4,963.1 147.6,966.0 149.9,968.9 152.1,971.8" stroke="#0011ff"/>
<polyline points="152.1,971.8 154.3,974.7 156.4,977.7 158.4,980.7" stroke="#1100ff"/>
<polyline points="158.4,980.7 160.5,983.8 162.5,986.8" stroke="#3300ff"/>
<polyline points="162.5,986.8 164.4,989.9 166.2,993.1 168.0,996.3" stroke="#5500ff"/>
<polyline points="168.0,996.3 169.8,999.5 171.4,1002.8" stroke="#7700ff"/>
<polyline points="171.4,1002.8 172.7,1006.2 174.0,1009.6" stroke="#9900ff"/>
<polyline points="174.0,1009.6 175.3,1013.0" stroke="#bb00ff"/>
<polyline points="175.3,1013.0 175.9,1016.6 176.3,1020.2 176.6,1023.9" stroke="#dd00ff"/>
<polyline points="176.6,1023.9 177.0,1027.5" stroke="#ff00ff"/>
<polyline points="101.0,1133.1 104.5,1132.1 108.0,1131.2 111.6,1130.2" stroke="#0099ff"/>
<polyline points="111.6,1130.2 114.1,1127.6 116.5,1124.8 118.9,1122.1 121.3,1119.3" stroke="#0077ff"/>
<polyline points="121.3,1119.3 123.7,1116.6 126.1,1113.9 128.6,1111.1 131.0,1108.4 133.4,1105.7 135.8,1102.9" stroke="#0055ff"/>
<polyline points="135.8,1102.9 138.2,1100.2 140.6,1097.4 143.0,1094.7" stroke="#0033ff"/>
<polyline points="143.0,1094.7 145.4,1091.9 147.6,1089.0 149.9,1086.1 152.1,1083.2" stroke="#0011ff"/>
<polyline points="152.1,1083.2 154.3,1080.3 156.4,1077.3 158.4,1074.3" stroke="#1100ff"/>
<polyline points="158.4,1074.3 160.5,1071.2 162.5,1068.2" stroke="#3300ff"/>
<polyline points="162.5,1068.2 164.4,1065.1 166.2,1061.9 168.0,1058.7" stroke="#5500ff"/>
<polyline points="168.0,1058.7 169.8,1055.5 171.4,1052.2" stroke="#7700ff"/>
<polyline points="171.4,1052.2 172.7,1048.8 174.0,1045.4" stroke="#9900ff"/>
<polyline points="174.0,1045.4 175.3,1042.0" stroke="#bb00ff"/>
<polyline points="175.3,1042.0 175.9,1038.4 176.3,1034.8 176.6,1031.1" stroke="#dd00ff"/>
<polyline points="176.6,1031.1 177.0,1027.5" stroke="#ff00ff"/>
<polyline points="487.5,921.9 484.0,922.9 480.5,923.8 476.9,924.8" stroke="#0099ff"/>
<polyline points="476.9,924.8 474.4,927.4 472.0,930.2 469.6,932.9 467.2,935.7" stroke="#0077ff"/>
<polyline points="467.2,935.7 464.8,938.4 462.4,941.1 459.9,943.9 457.5,946.6 455.1,949.3 452.7,952.1" stroke="#0055ff"/>
<polyline points="452.7,952.1 450.3,954.8 447.9,957.6 445.5,960.3" stroke="#0033ff"/>
<polyline points="445.5,960.3 443.1,963.1 440.9,966.0 438.6,968.9 436.4,971.8" stroke="#0011ff"/>
<polyline points="436.4,971.8 434.2,974.7 432.1,977.7 430.1,980.7" stroke="#1100ff"/>
<polyline points="430.1,980.7 428.0,983.8 426.0,986.8" stroke="#3300ff"/>
<polyline points="426.0,986.8 424.1,989.9 422.3,993.1 420.5,996.3" stroke="#5500ff"/>
<polyline points="420.5,996.3 418.7,999.5 417.1,1002.8" stroke="#7700ff"/>
<polyline points="417.1,1002.8 415.8,1006.2 414.5,1009.6" stroke="#9900ff"/>
<polyline points="414.5,1009.6 413.2,1013.0" stroke="#bb00ff"/>
<polyline points="413.2,1013.0 412.6,1016.6 412.2,1020.2 411.9,1023.9" stroke="#dd00ff"/>
<polyline points="411.9,1023.9 411.5,1027.5" stroke="#ff00ff"/>
<polyline points="487.5,1133.1 484.0,1132.1 480.5,1131.2 476.9,1130.2" stroke="#0099ff"/>
<polyline points="476.9,1130.2 474.4,1127.6 472.0,1124.8 469.6,1122.1 467.2,1119.3" stroke="#0077ff"/>
<polyline points="467.2,1119.3 464.8,1116.6 462.4,1113.9 459.9,1111.1 457.5,1108.4 455.1,1105.7 452.7,1102.9" stroke="#0055ff"/>
<polyline points="452.7,1102.9 450.3,1100.2 447.9,1097.4 445.5,1094.7" stroke="#0033ff"/>
<polyline points="445.5,1094.7 443.1,1091.9 440.9,1089.0 438.6,1086.1 436.4,1083.2" stroke="#0011ff"/>
<polyline points="436.4,1083.2 434.2,1080.3 432.1,1077.3 430.1,1074.3" stroke="#1100ff"/>
<polyline points="430.1,1074.3 428.0,1071.2 426.0,1068.2" stroke="#3300ff"/>
<polyline points="426.0,1068.2 424.1,1065.1 422.3,1061.9 420.5,1058.7" stroke="#5500ff"/>
<polyline points="420.5,1058.7 418.7,1055.5 417.1,1052.2" stroke="#7700ff"/>
<polyline points="417.1,1052.2 415.8,1048.8 414.5,1045.4" stroke="#9900ff"/>
<polyline points="414.5,1045.4 413.2,1042.0" stroke="#bb00ff"/>
<polyline points="413.2,1042.0 412.6,1038.4 412.2,1034.8 411.9,1031.1" stroke="#dd00ff"/>
<polyline points="411.9,1031.1 411.5,1027.5" stroke="#ff00ff"/>
</g>
<g fill="none" stroke-width="6.0" stroke-linecap="round" stroke-linejoin="round">
<polyline points="411.6,1027.5 411.3,1031.0 410.9,1034.5 410.2,1038.0" stroke="#ff00ff"/>
<polyline points="410.2,1038.0 409.4,1041.4" stroke="#dd00ff"/>
<polyline points="409.4,1041.4 408.5,1044.8" stroke="#bb00ff"/>
<polyline points="408.5,1044.8 407.4,1048.2" stroke="#9900ff"/>
<polyline points="407.4,1048.2 406.2,1051.5" stroke="#7700ff"/>
<polyline points="406.2,1051.5 404.8,1054.7" stroke="#5500ff"/>
<polyline points="404.8,1054.7 403.4,1057.9" stroke="#3300ff"/>
<polyline points="403.4,1057.9 401.9,1061.1 400.2,1064.2 398.5,1067.3 396.7,1070.3 394.8,1073.3 392.8,1076.2 390.7,1079.1 388.6,1081.9 386.4,1084.6 384.2,1087.3 381.8,1090.0 379.4,1092.6 377.0,1095.1 374.5,1097.6 371.9,1100.0 369.3,1102.4 366.6,1104.7 363.9,1106.9 361.1,1109.1 358.3,1111.2 355.4,1113.2 352.5,1115.2 349.5,1117.1 346.5,1118.9 343.4,1120.7 340.3,1122.3 337.2,1124.0 334.0,1125.5 330.8,1126.9 327.6,1128.3" stroke="#1100ff"/>
<polyline points="327.6,1128.3 324.3,1129.6" stroke="#3300ff"/>
<polyline points="324.3,1129.6 321.0,1130.7" stroke="#5500ff"/>
<polyline points="321.0,1130.7 317.6,1131.8" stroke="#7700ff"/>
<polyline points="317.6,1131.8 314.2,1132.8 310.8,1133.7" stroke="#9900ff"/>
<polyline points="310.8,1133.7 307.4,1134.5" stroke="#bb00ff"/>
<polyline points="307.4,1134.5 303.9,1135.1" stroke="#dd00ff"/>
<polyline points="303.9,1135.1 300.4,1135.6 296.9,1135.9 293.4,1136.0 289.9,1135.8 286.4,1135.3 282.9,1134.8" stroke="#ff00ff"/>
<polyline points="282.9,1134.8 279.4,1134.1" stroke="#dd00ff"/>
<polyline points="279.4,1134.1 276.0,1133.3" stroke="#bb00ff"/>
<polyline points="276.0,1133.3 272.6,1132.3" stroke="#9900ff"/>
<polyline points="272.6,1132.3 269.2,1131.3" stroke="#7700ff"/>
<polyline points="269.2,1131.3 265.9,1130.2 262.6,1128.9" stroke="#5500ff"/>
<polyline points="262.6,1128.9 259.3,1127.6" stroke="#3300ff"/>
<polyline points="259.3,1127.6 256.1,1126.2 252.9,1124.7 249.7,1123.2 246.6,1121.5 243.5,1119.8 240.5,1118.0 237.5,1116.1 234.6,1114.2 231.7,1112.2 228.8,1110.1 226.0,1108.0 223.3,1105.8 220.6,1103.5 217.9,1101.2 215.3,1098.8 212.8,1096.4 210.3,1093.9 207.9,1091.3 205.5,1088.7 203.2,1086.0 201.0,1083.3 198.8,1080.5 196.7,1077.7 194.7,1074.8 192.8,1071.8 190.9,1068.8 189.1,1065.8 187.5,1062.7 185.9,1059.5" stroke="#1100ff"/>
<polyline points="185.9,1059.5 184.4,1056.3" stroke="#3300ff"/>
<polyline points="184.4,1056.3 183.0,1053.1" stroke="#5500ff"/>
<polyline points="183.0,1053.1 181.7,1049.8" stroke="#7700ff"/>
<polyline points="181.7,1049.8 180.6,1046.5 179.5,1043.1" stroke="#9900ff"/>
<polyline points="179.5,1043.1 178.6,1039.7" stroke="#bb00ff"/>
<polyline points="178.6,1039.7 177.9,1036.2" stroke="#dd00ff"/>
<polyline points="177.9,1036.2 177.4,1032.8 177.0,1029.3 177.0,1025.7 177.4,1022.2 177.9,1018.8" stroke="#ff00ff"/>
<polyline points="177.9,1018.8 178.6,1015.3" stroke="#dd00ff"/>
<polyline points="178.6,1015.3 179.5,1011.9" stroke="#bb00ff"/>
<polyline points="179.5,1011.9 180.6,1008.5 181.7,1005.2" stroke="#9900ff"/>
<polyline points="181.7,1005.2 183.0,1001.9" stroke="#7700ff"/>
<polyline points="183.0,1001.9 184.4,998.7" stroke="#5500ff"/>
<polyline points="184.4,998.7 185.9,995.5" stroke="#3300ff"/>
<polyline points="185.9,995.5 187.5,992.3 189.1,989.2 190.9,986.2 192.8,983.2 194.7,980.2 196.7,977.3 198.8,974.5 201.0,971.7 203.2,969.0 205.5,966.3 207.9,963.7 210.3,961.1 212.8,958.6 215.3,956.2 217.9,953.8 220.6,951.5 223.3,949.2 226.0,947.0 228.8,944.9 231.7,942.8 234.6,940.8 237.5,938.9 240.5,937.0 243.5,935.2 246.6,933.5 249.7,931.8 252.9,930.3 256.1,928.8 259.3,927.4" stroke="#1100ff"/>
<polyline points="259.3,927.4 262.6,926.1" stroke="#3300ff"/>
<polyline points="262.6,926.1 265.9,924.8 269.2,923.7" stroke="#5500ff"/>
<polyline points="269.2,923.7 272.6,922.7" stroke="#7700ff"/>
<polyline points="272.6,922.7 276.0,921.7" stroke="#9900ff"/>
<polyline points="276.0,921.7 279.4,920.9" stroke="#bb00ff"/>
<polyline points="279.4,920.9 282.9,920.2" stroke="#dd00ff"/>
<polyline points="282.9,920.2 286.4,919.7 289.9,919.2 293.4,919.0 296.9,919.1 300.4,919.4 303.9,919.9" stroke="#ff00ff"/>
<polyline points="303.9,919.9 307.4,920.5" stroke="#dd00ff"/>
<polyline points="307.4,920.5 310.8,921.3" stroke="#bb00ff"/>
<polyline points="310.8,921.3 314.2,922.2 317.6,923.2" stroke="#9900ff"/>
<polyline points="317.6,923.2 321.0,924.3" stroke="#7700ff"/>
<polyline points="321.0,924.3 324.3,925.4" stroke="#5500ff"/>
<polyline points="324.3,925.4 327.6,926.7" stroke="#3300ff"/>
<polyline points="327.6,926.7 330.8,928.1 334.0,929.5 337.2,931.0 340.3,932.7 343.4,934.3 346.5,936.1 349.5,937.9 352.5,939.8 355.4,941.8 358.3,943.8 361.1,945.9 363.9,948.1 366.6,950.3 369.3,952.6 371.9,955.0 374.5,957.4 377.0,959.9 379.4,962.4 381.8,965.0 384.2,967.7 386.4,970.4 388.6,973.1 390.7,975.9 392.8,978.8 394.8,981.7 396.7,984.7 398.5,987.7 400.2,990.8 401.9,993.9 403.4,997.1" stroke="#1100ff"/>
<polyline points="403.4,997.1 404.8,1000.3" stroke="#3300ff"/>
<polyline points="404.8,1000.3 406.2,1003.5" stroke="#5500ff"/>
<polyline points="406.2,1003.5 407.4,1006.8" stroke="#7700ff"/>
<polyline points="407.4,1006.8 408.5,1010.2" stroke="#9900ff"/>
<polyline points="408.5,1010.2 409.4,1013.6" stroke="#bb00ff"/>
<polyline points="409.4,1013.6 410.2,1017.0" stroke="#dd00ff"/>
<polyline points="410.2,1017.0 410.9,1020.5 411.3,1024.0 411.6,1027.5" stroke="#ff00ff"/>
</g>
</g>
<g clip-path="url(#dclip2)">
<g fill="none" stroke-width="6.0" stroke-linecap="round" stroke-linejoin="round">
<polyline points="523.0,920.5 525.6,917.9 528.2,915.2 530.8,912.6 533.4,910.0 536.0,907.4 538.6,904.8 541.3,902.1 543.9,899.5 546.5,896.9 549.1,894.3 551.7,891.7 554.3,889.1 557.0,886.4 559.6,883.8 562.2,881.2 564.8,878.6 567.4,876.0 570.0,873.4 572.7,870.7 575.3,868.1 577.9,865.5 580.5,862.9 583.2,860.4 585.9,857.8 588.6,855.3 591.3,852.8 594.0,850.2 596.7,847.7 599.3,845.1 602.0,842.6 604.7,840.0 607.4,837.5" stroke="#0099ff"/>
<polyline points="523.0,1134.4 525.6,1137.0 528.2,1139.7 530.8,1142.3 533.4,1144.9 536.0,1147.5 538.6,1150.1 541.3,1152.8 543.9,1155.4 546.5,1158.0 549.1,1160.6 551.7,1163.2 554.3,1165.8 557.0,1168.5 559.6,1171.1 562.2,1173.7 564.8,1176.3 567.4,1178.9 570.0,1181.5 572.7,1184.2 575.3,1186.8 577.9,1189.4 580.5,1192.0 583.2,1194.5 585.9,1197.1 588.6,1199.6 591.3,1202.1 594.0,1204.7 596.7,1207.2 599.3,1209.8 602.0,1212.3 604.7,1214.9 607.4,1217.4" stroke="#0099ff"/>
<polyline points="902.6,920.5 900.0,917.9 897.4,915.2 894.8,912.6 892.2,910.0 889.6,907.4 887.0,904.8 884.3,902.1 881.7,899.5 879.1,896.9 876.5,894.3 873.9,891.7 871.3,889.1 868.6,886.4 866.0,883.8 863.4,881.2 860.8,878.6 858.2,876.0 855.6,873.4 852.9,870.7 850.3,868.1 847.7,865.5 845.1,862.9 842.4,860.4 839.7,857.8 837.0,855.3 834.3,852.8 831.6,850.2 828.9,847.7 826.3,845.1 823.6,842.6 820.9,840.0 818.2,837.5" stroke="#0099ff"/>
<polyline points="902.6,1134.4 900.0,1137.0 897.4,1139.7 894.8,1142.3 892.2,1144.9 889.6,1147.5 887.0,1150.1 884.3,1152.8 881.7,1155.4 879.1,1158.0 876.5,1160.6 873.9,1163.2 871.3,1165.8 868.6,1168.5 866.0,1171.1 863.4,1173.7 860.8,1176.3 858.2,1178.9 855.6,1181.5 852.9,1184.2 850.3,1186.8 847.7,1189.4 845.1,1192.0 842.4,1194.5 839.7,1197.1 837.0,1199.6 834.3,1202.1 831.6,1204.7 828.9,1207.2 826.3,1209.8 823.6,1212.3 820.9,1214.9 818.2,1217.4" stroke="#0099ff"/>
</g>
<g fill="none" stroke-width="6.0" stroke-linecap="round" stroke-linejoin="round">
<polyline points="607.4,838.2 610.1,840.6" stroke="#0099ff"/>
<polyline points="610.1,840.6 612.7,843.1 615.4,845.5 618.1,847.9 620.8,850.2 623.5,852.6" stroke="#0077ff"/>
<polyline points="623.5,852.6 626.3,854.9 628.8,857.4 631.4,860.0 633.9,862.5" stroke="#0055ff"/>
<polyline points="633.9,862.5 636.5,865.1 639.1,867.6 641.8,870.0 644.5,872.3" stroke="#0033ff"/>
<polyline points="644.5,872.3 647.2,874.7 649.9,877.1 652.8,879.3 655.7,881.5 658.5,883.6" stroke="#0011ff"/>
<polyline points="658.5,883.6 661.4,885.8 664.4,887.8 667.4,889.8 670.4,891.8 673.4,893.8 676.4,895.8" stroke="#1100ff"/>
<polyline points="676.4,895.8 679.4,897.7 682.5,899.6" stroke="#3300ff"/>
<polyline points="682.5,899.6 685.6,901.5" stroke="#5500ff"/>
<polyline points="685.6,901.5 688.7,903.3 691.9,904.9" stroke="#7700ff"/>
<polyline points="691.9,904.9 695.1,906.6" stroke="#9900ff"/>
<polyline points="695.1,906.6 698.4,907.9" stroke="#bb00ff"/>
<polyline points="698.4,907.9 702.0,908.1 705.6,908.4" stroke="#dd00ff"/>
<polyline points="705.6,908.4 709.2,908.6 712.8,908.6" stroke="#ff00ff"/>
<polyline points="607.4,1216.7 610.1,1214.3" stroke="#0099ff"/>
<polyline points="610.1,1214.3 612.7,1211.8 615.4,1209.4 618.1,1207.0 620.8,1204.7 623.5,1202.3" stroke="#0077ff"/>
<polyline points="623.5,1202.3 626.3,1200.0 628.8,1197.5 631.4,1194.9 633.9,1192.4" stroke="#0055ff"/>
<polyline points="633.9,1192.4 636.5,1189.8 639.1,1187.3 641.8,1184.9 644.5,1182.6" stroke="#0033ff"/>
<polyline points="644.5,1182.6 647.2,1180.2 649.9,1177.8 652.8,1175.6 655.7,1173.4 658.5,1171.3" stroke="#0011ff"/>
<polyline points="658.5,1171.3 661.4,1169.1 664.4,1167.1 667.4,1165.1 670.4,1163.1 673.4,1161.1 676.4,1159.1" stroke="#1100ff"/>
<polyline points="676.4,1159.1 679.4,1157.2 682.5,1155.3" stroke="#3300ff"/>
<polyline points="682.5,1155.3 685.6,1153.4" stroke="#5500ff"/>
<polyline points="685.6,1153.4 688.7,1151.6 691.9,1150.0" stroke="#7700ff"/>
<polyline points="691.9,1150.0 695.1,1148.3" stroke="#9900ff"/>
<polyline points="695.1,1148.3 698.4,1147.0" stroke="#bb00ff"/>
<polyline points="698.4,1147.0 702.0,1146.8 705.6,1146.5" stroke="#dd00ff"/>
<polyline points="705.6,1146.5 709.2,1146.3 712.8,1146.3" stroke="#ff00ff"/>
<polyline points="818.2,838.2 815.5,840.6" stroke="#0099ff"/>
<polyline points="815.5,840.6 812.9,843.1 810.2,845.5 807.5,847.9 804.8,850.2 802.1,852.6" stroke="#0077ff"/>
<polyline points="802.1,852.6 799.3,854.9 796.8,857.4 794.2,860.0 791.7,862.5" stroke="#0055ff"/>
<polyline points="791.7,862.5 789.1,865.1 786.5,867.6 783.8,870.0 781.1,872.3" stroke="#0033ff"/>
<polyline points="781.1,872.3 778.4,874.7 775.7,877.1 772.8,879.3 769.9,881.5 767.1,883.6" stroke="#0011ff"/>
<polyline points="767.1,883.6 764.2,885.8 761.2,887.8 758.2,889.8 755.2,891.8 752.2,893.8 749.2,895.8" stroke="#1100ff"/>
<polyline points="749.2,895.8 746.2,897.7 743.1,899.6" stroke="#3300ff"/>
<polyline points="743.1,899.6 740.0,901.5" stroke="#5500ff"/>
<polyline points="740.0,901.5 736.9,903.3 733.7,904.9" stroke="#7700ff"/>
<polyline points="733.7,904.9 730.5,906.6" stroke="#9900ff"/>
<polyline points="730.5,906.6 727.2,907.9" stroke="#bb00ff"/>
<polyline points="727.2,907.9 723.6,908.1 720.0,908.4" stroke="#dd00ff"/>
<polyline points="720.0,908.4 716.4,908.6 712.8,908.6" stroke="#ff00ff"/>
<polyline points="818.2,1216.7 815.5,1214.3" stroke="#0099ff"/>
<polyline points="815.5,1214.3 812.9,1211.8 810.2,1209.4 807.5,1207.0 804.8,1204.7 802.1,1202.3" stroke="#0077ff"/>
<polyline points="802.1,1202.3 799.3,1200.0 796.8,1197.5 794.2,1194.9 791.7,1192.4" stroke="#0055ff"/>
<polyline points="791.7,1192.4 789.1,1189.8 786.5,1187.3 783.8,1184.9 781.1,1182.6" stroke="#0033ff"/>
<polyline points="781.1,1182.6 778.4,1180.2 775.7,1177.8 772.8,1175.6 769.9,1173.4 767.1,1171.3" stroke="#0011ff"/>
<polyline points="767.1,1171.3 764.2,1169.1 761.2,1167.1 758.2,1165.1 755.2,1163.1 752.2,1161.1 749.2,1159.1" stroke="#1100ff"/>
<polyline points="749.2,1159.1 746.2,1157.2 743.1,1155.3" stroke="#3300ff"/>
<polyline points="743.1,1155.3 740.0,1153.4" stroke="#5500ff"/>
<polyline points="740.0,1153.4 736.9,1151.6 733.7,1150.0" stroke="#7700ff"/>
<polyline points="733.7,1150.0 730.5,1148.3" stroke="#9900ff"/>
<polyline points="730.5,1148.3 727.2,1147.0" stroke="#bb00ff"/>
<polyline points="727.2,1147.0 723.6,1146.8 720.0,1146.5" stroke="#dd00ff"/>
<polyline points="720.0,1146.5 716.4,1146.3 712.8,1146.3" stroke="#ff00ff"/>
</g>
<g fill="none" stroke-width="6.0" stroke-linecap="round" stroke-linejoin="round">
<polyline points="523.0,919.5 525.7,922.1" stroke="#0099ff"/>
<polyline points="525.7,922.1 528.3,924.6 531.0,927.2 533.7,929.7 536.1,932.4 538.4,935.3 540.7,938.2" stroke="#0077ff"/>
<polyline points="540.7,938.2 543.1,941.1 545.4,943.9 547.7,946.8 550.2,949.5" stroke="#0055ff"/>
<polyline points="550.2,949.5 552.6,952.3 555.0,955.1 557.5,957.8 559.8,960.7" stroke="#0033ff"/>
<polyline points="559.8,960.7 562.1,963.6 564.4,966.5 566.6,969.4 568.9,972.3" stroke="#0011ff"/>
<polyline points="568.9,972.3 571.2,975.2 573.5,978.1 575.7,981.0 578.0,983.9 580.2,986.9" stroke="#1100ff"/>
<polyline points="580.2,986.9 582.4,989.9 584.5,992.9" stroke="#3300ff"/>
<polyline points="584.5,992.9 586.6,995.9" stroke="#5500ff"/>
<polyline points="586.6,995.9 588.5,999.1" stroke="#7700ff"/>
<polyline points="588.5,999.1 590.3,1002.3 592.1,1005.5" stroke="#9900ff"/>
<polyline points="592.1,1005.5 592.9,1009.1" stroke="#bb00ff"/>
<polyline points="592.9,1009.1 593.2,1012.7 593.6,1016.4" stroke="#dd00ff"/>
<polyline points="593.6,1016.4 594.0,1020.1 594.1,1023.8 594.1,1027.5" stroke="#ff00ff"/>
<polyline points="523.0,1135.4 525.7,1132.8" stroke="#0099ff"/>
<polyline points="525.7,1132.8 528.3,1130.3 531.0,1127.7 533.7,1125.2 536.1,1122.5 538.4,1119.6 540.7,1116.7" stroke="#0077ff"/>
<polyline points="540.7,1116.7 543.1,1113.8 545.4,1111.0 547.7,1108.1 550.2,1105.4" stroke="#0055ff"/>
<polyline points="550.2,1105.4 552.6,1102.6 555.0,1099.8 557.5,1097.1 559.8,1094.2" stroke="#0033ff"/>
<polyline points="559.8,1094.2 562.1,1091.3 564.4,1088.4 566.6,1085.5 568.9,1082.6" stroke="#0011ff"/>
<polyline points="568.9,1082.6 571.2,1079.7 573.5,1076.8 575.7,1073.9 578.0,1071.0 580.2,1068.0" stroke="#1100ff"/>
<polyline points="580.2,1068.0 582.4,1065.0 584.5,1062.0" stroke="#3300ff"/>
<polyline points="584.5,1062.0 586.6,1059.0" stroke="#5500ff"/>
<polyline points="586.6,1059.0 588.5,1055.8" stroke="#7700ff"/>
<polyline points="588.5,1055.8 590.3,1052.6 592.1,1049.4" stroke="#9900ff"/>
<polyline points="592.1,1049.4 592.9,1045.8" stroke="#bb00ff"/>
<polyline points="592.9,1045.8 593.2,1042.2 593.6,1038.5" stroke="#dd00ff"/>
<polyline points="593.6,1038.5 594.0,1034.8 594.1,1031.1 594.1,1027.5" stroke="#ff00ff"/>
<polyline points="902.6,919.5 899.9,922.1" stroke="#0099ff"/>
<polyline points="899.9,922.1 897.3,924.6 894.6,927.2 891.9,929.7 889.5,932.4 887.2,935.3 884.9,938.2" stroke="#0077ff"/>
<polyline points="884.9,938.2 882.5,941.1 880.2,943.9 877.9,946.8 875.4,949.5" stroke="#0055ff"/>
<polyline points="875.4,949.5 873.0,952.3 870.6,955.1 868.1,957.8 865.8,960.7" stroke="#0033ff"/>
<polyline points="865.8,960.7 863.5,963.6 861.2,966.5 859.0,969.4 856.7,972.3" stroke="#0011ff"/>
<polyline points="856.7,972.3 854.4,975.2 852.1,978.1 849.9,981.0 847.6,983.9 845.4,986.9" stroke="#1100ff"/>
<polyline points="845.4,986.9 843.2,989.9 841.1,992.9" stroke="#3300ff"/>
<polyline points="841.1,992.9 839.0,995.9" stroke="#5500ff"/>
<polyline points="839.0,995.9 837.1,999.1" stroke="#7700ff"/>
<polyline points="837.1,999.1 835.3,1002.3 833.5,1005.5" stroke="#9900ff"/>
<polyline points="833.5,1005.5 832.7,1009.1" stroke="#bb00ff"/>
<polyline points="832.7,1009.1 832.4,1012.7 832.0,1016.4" stroke="#dd00ff"/>
<polyline points="832.0,1016.4 831.6,1020.1 831.5,1023.8 831.5,1027.5" stroke="#ff00ff"/>
<polyline points="902.6,1135.4 899.9,1132.8" stroke="#0099ff"/>
<polyline points="899.9,1132.8 897.3,1130.3 894.6,1127.7 891.9,1125.2 889.5,1122.5 887.2,1119.6 884.9,1116.7" stroke="#0077ff"/>
<polyline points="884.9,1116.7 882.5,1113.8 880.2,1111.0 877.9,1108.1 875.4,1105.4" stroke="#0055ff"/>
<polyline points="875.4,1105.4 873.0,1102.6 870.6,1099.8 868.1,1097.1 865.8,1094.2" stroke="#0033ff"/>
<polyline points="865.8,1094.2 863.5,1091.3 861.2,1088.4 859.0,1085.5 856.7,1082.6" stroke="#0011ff"/>
<polyline points="856.7,1082.6 854.4,1079.7 852.1,1076.8 849.9,1073.9 847.6,1071.0 845.4,1068.0" stroke="#1100ff"/>
<polyline points="845.4,1068.0 843.2,1065.0 841.1,1062.0" stroke="#3300ff"/>
<polyline points="841.1,1062.0 839.0,1059.0" stroke="#5500ff"/>
<polyline points="839.0,1059.0 837.1,1055.8" stroke="#7700ff"/>
<polyline points="837.1,1055.8 835.3,1052.6 833.5,1049.4" stroke="#9900ff"/>
<polyline points="833.5,1049.4 832.7,1045.8" stroke="#bb00ff"/>
<polyline points="832.7,1045.8 832.4,1042.2 832.0,1038.5" stroke="#dd00ff"/>
<polyline points="832.0,1038.5 831.6,1034.8 831.5,1031.1 831.5,1027.5" stroke="#ff00ff"/>
</g>
<g fill="none" stroke-width="6.0" stroke-linecap="round" stroke-linejoin="round">
<polyline points="831.6,1027.5 831.5,1031.0" stroke="#ff00ff"/>
<polyline points="831.5,1031.0 831.2,1034.5 830.7,1038.0" stroke="#dd00ff"/>
<polyline points="830.7,1038.0 830.2,1041.5" stroke="#bb00ff"/>
<polyline points="830.2,1041.5 829.5,1045.0" stroke="#7700ff"/>
<polyline points="829.5,1045.0 828.7,1048.4" stroke="#3300ff"/>
<polyline points="828.7,1048.4 827.7,1051.8 826.7,1055.2" stroke="#1100ff"/>
<polyline points="826.7,1055.2 825.6,1058.5 824.3,1061.8 823.0,1065.1 821.6,1068.3" stroke="#0011ff"/>
<polyline points="821.6,1068.3 820.1,1071.5 818.5,1074.7" stroke="#0033ff"/>
<polyline points="818.5,1074.7 816.8,1077.8 815.0,1080.8" stroke="#0055ff"/>
<polyline points="815.0,1080.8 813.2,1083.9" stroke="#0077ff"/>
<polyline points="813.2,1083.9 811.3,1086.8 809.3,1089.7" stroke="#0099ff"/>
<polyline points="809.3,1089.7 807.2,1092.6" stroke="#00bbff"/>
<polyline points="807.2,1092.6 805.0,1095.4 802.8,1098.2" stroke="#00ddff"/>
<polyline points="802.8,1098.2 800.5,1100.8 798.2,1103.5 795.8,1106.1 793.3,1108.6 790.8,1111.0 788.2,1113.4 785.5,1115.8 782.8,1118.0" stroke="#00ffff"/>
<polyline points="782.8,1118.0 780.1,1120.2 777.2,1122.4" stroke="#00ddff"/>
<polyline points="777.2,1122.4 774.4,1124.4" stroke="#00bbff"/>
<polyline points="774.4,1124.4 771.4,1126.4 768.5,1128.3" stroke="#0099ff"/>
<polyline points="768.5,1128.3 765.4,1130.1" stroke="#0077ff"/>
<polyline points="765.4,1130.1 762.4,1131.9 759.2,1133.5" stroke="#0055ff"/>
<polyline points="759.2,1133.5 756.1,1135.1 752.9,1136.6" stroke="#0033ff"/>
<polyline points="752.9,1136.6 749.6,1138.0 746.4,1139.3 743.0,1140.5" stroke="#0011ff"/>
<polyline points="743.0,1140.5 739.7,1141.6 736.3,1142.6 732.9,1143.5" stroke="#1100ff"/>
<polyline points="732.9,1143.5 729.4,1144.3" stroke="#5500ff"/>
<polyline points="729.4,1144.3 726.0,1145.0" stroke="#9900ff"/>
<polyline points="726.0,1145.0 722.5,1145.5" stroke="#bb00ff"/>
<polyline points="722.5,1145.5 719.0,1145.9 715.4,1146.2" stroke="#dd00ff"/>
<polyline points="715.4,1146.2 711.9,1146.2 708.4,1146.1" stroke="#ff00ff"/>
<polyline points="708.4,1146.1 704.9,1145.7 701.4,1145.3" stroke="#dd00ff"/>
<polyline points="701.4,1145.3 697.9,1144.7" stroke="#bb00ff"/>
<polyline points="697.9,1144.7 694.4,1143.9" stroke="#7700ff"/>
<polyline points="694.4,1143.9 691.0,1143.1" stroke="#3300ff"/>
<polyline points="691.0,1143.1 687.6,1142.1 684.2,1141.1" stroke="#1100ff"/>
<polyline points="684.2,1141.1 680.9,1139.9 677.6,1138.7 674.3,1137.3" stroke="#0011ff"/>
<polyline points="674.3,1137.3 671.1,1135.9 667.9,1134.3 664.8,1132.7" stroke="#0033ff"/>
<polyline points="664.8,1132.7 661.7,1131.0" stroke="#0055ff"/>
<polyline points="661.7,1131.0 658.7,1129.2 655.7,1127.4" stroke="#0077ff"/>
<polyline points="655.7,1127.4 652.7,1125.4" stroke="#0099ff"/>
<polyline points="652.7,1125.4 649.8,1123.4 647.0,1121.3" stroke="#00bbff"/>
<polyline points="647.0,1121.3 644.2,1119.1 641.4,1116.9" stroke="#00ddff"/>
<polyline points="641.4,1116.9 638.7,1114.6 636.1,1112.3 633.5,1109.8 631.0,1107.3 628.6,1104.8 626.2,1102.2 623.9,1099.5" stroke="#00ffff"/>
<polyline points="623.9,1099.5 621.7,1096.8 619.5,1094.0" stroke="#00ddff"/>
<polyline points="619.5,1094.0 617.4,1091.2 615.3,1088.3" stroke="#00bbff"/>
<polyline points="615.3,1088.3 613.4,1085.3" stroke="#0099ff"/>
<polyline points="613.4,1085.3 611.5,1082.4 609.7,1079.3" stroke="#0077ff"/>
<polyline points="609.7,1079.3 608.0,1076.2" stroke="#0055ff"/>
<polyline points="608.0,1076.2 606.3,1073.1 604.8,1069.9 603.3,1066.7" stroke="#0033ff"/>
<polyline points="603.3,1066.7 601.9,1063.5 600.6,1060.2 599.4,1056.9" stroke="#0011ff"/>
<polyline points="599.4,1056.9 598.4,1053.5 597.4,1050.1" stroke="#1100ff"/>
<polyline points="597.4,1050.1 596.5,1046.7" stroke="#3300ff"/>
<polyline points="596.5,1046.7 595.8,1043.2" stroke="#5500ff"/>
<polyline points="595.8,1043.2 595.1,1039.7" stroke="#9900ff"/>
<polyline points="595.1,1039.7 594.6,1036.3" stroke="#bb00ff"/>
<polyline points="594.6,1036.3 594.2,1032.7 594.0,1029.2" stroke="#dd00ff"/>
<polyline points="594.0,1029.2 594.0,1025.7" stroke="#ff00ff"/>
<polyline points="594.0,1025.7 594.2,1022.2 594.6,1018.6" stroke="#dd00ff"/>
<polyline points="594.6,1018.6 595.1,1015.2" stroke="#bb00ff"/>
<polyline points="595.1,1015.2 595.8,1011.7" stroke="#9900ff"/>
<polyline points="595.8,1011.7 596.5,1008.2" stroke="#5500ff"/>
<polyline points="596.5,1008.2 597.4,1004.8" stroke="#3300ff"/>
<polyline points="597.4,1004.8 598.4,1001.4 599.4,998.0" stroke="#1100ff"/>
<polyline points="599.4,998.0 600.6,994.7 601.9,991.4 603.3,988.2" stroke="#0011ff"/>
<polyline points="603.3,988.2 604.8,985.0 606.3,981.8 608.0,978.7" stroke="#0033ff"/>
<polyline points="608.0,978.7 609.7,975.6" stroke="#0055ff"/>
<polyline points="609.7,975.6 611.5,972.5 613.4,969.6" stroke="#0077ff"/>
<polyline points="613.4,969.6 615.3,966.6" stroke="#0099ff"/>
<polyline points="615.3,966.6 617.4,963.7 619.5,960.9" stroke="#00bbff"/>
<polyline points="619.5,960.9 621.7,958.1 623.9,955.4" stroke="#00ddff"/>
<polyline points="623.9,955.4 626.2,952.7 628.6,950.1 631.0,947.6 633.5,945.1 636.1,942.6 638.7,940.3 641.4,938.0" stroke="#00ffff"/>
<polyline points="641.4,938.0 644.2,935.8 647.0,933.6" stroke="#00ddff"/>
<polyline points="647.0,933.6 649.8,931.5 652.7,929.5" stroke="#00bbff"/>
<polyline points="652.7,929.5 655.7,927.5" stroke="#0099ff"/>
<polyline points="655.7,927.5 658.7,925.7 661.7,923.9" stroke="#0077ff"/>
<polyline points="661.7,923.9 664.8,922.2" stroke="#0055ff"/>
<polyline points="664.8,922.2 667.9,920.6 671.1,919.0 674.3,917.6" stroke="#0033ff"/>
<polyline points="674.3,917.6 677.6,916.2 680.9,915.0 684.2,913.8" stroke="#0011ff"/>
<polyline points="684.2,913.8 687.6,912.8 691.0,911.8" stroke="#1100ff"/>
<polyline points="691.0,911.8 694.4,911.0" stroke="#3300ff"/>
<polyline points="694.4,911.0 697.9,910.2" stroke="#7700ff"/>
<polyline points="697.9,910.2 701.4,909.6" stroke="#bb00ff"/>
<polyline points="701.4,909.6 704.9,909.2 708.4,908.8" stroke="#dd00ff"/>
<polyline points="708.4,908.8 711.9,908.7 715.4,908.7" stroke="#ff00ff"/>
<polyline points="715.4,908.7 719.0,909.0 722.5,909.4" stroke="#dd00ff"/>
<polyline points="722.5,909.4 726.0,909.9" stroke="#bb00ff"/>
<polyline points="726.0,909.9 729.4,910.6" stroke="#9900ff"/>
<polyline points="729.4,910.6 732.9,911.4" stroke="#5500ff"/>
<polyline points="732.9,911.4 736.3,912.3 739.7,913.3 743.0,914.4" stroke="#1100ff"/>
<polyline points="743.0,914.4 746.4,915.6 749.6,916.9 752.9,918.3" stroke="#0011ff"/>
<polyline points="752.9,918.3 756.1,919.8 759.2,921.4" stroke="#0033ff"/>
<polyline points="759.2,921.4 762.4,923.0 765.4,924.8" stroke="#0055ff"/>
<polyline points="765.4,924.8 768.5,926.6" stroke="#0077ff"/>
<polyline points="768.5,926.6 771.4,928.5 774.4,930.5" stroke="#0099ff"/>
<polyline points="774.4,930.5 777.2,932.5" stroke="#00bbff"/>
<polyline points="777.2,932.5 780.1,934.7 782.8,936.9" stroke="#00ddff"/>
<polyline points="782.8,936.9 785.5,939.1 788.2,941.5 790.8,943.9 793.3,946.3 795.8,948.8 798.2,951.4 800.5,954.1 802.8,956.7" stroke="#00ffff"/>
<polyline points="802.8,956.7 805.0,959.5 807.2,962.3" stroke="#00ddff"/>
<polyline points="807.2,962.3 809.3,965.2" stroke="#00bbff"/>
<polyline points="809.3,965.2 811.3,968.1 813.2,971.0" stroke="#0099ff"/>
<polyline points="813.2,971.0 815.0,974.1" stroke="#0077ff"/>
<polyline points="815.0,974.1 816.8,977.1 818.5,980.2" stroke="#0055ff"/>
<polyline points="818.5,980.2 820.1,983.4 821.6,986.6" stroke="#0033ff"/>
<polyline points="821.6,986.6 823.0,989.8 824.3,993.1 825.6,996.4 826.7,999.7" stroke="#0011ff"/>
<polyline points="826.7,999.7 827.7,1003.1 828.7,1006.5" stroke="#1100ff"/>
<polyline points="828.7,1006.5 829.5,1009.9" stroke="#3300ff"/>
<polyline points="829.5,1009.9 830.2,1013.4" stroke="#7700ff"/>
<polyline points="830.2,1013.4 830.7,1016.9" stroke="#bb00ff"/>
<polyline points="830.7,1016.9 831.2,1020.4 831.5,1023.9" stroke="#dd00ff"/>
<polyline points="831.5,1023.9 831.6,1027.5" stroke="#ff00ff"/>
</g>
<circle cx="712.8" cy="1027.45" r="29" fill="none" stroke="#ffff00" stroke-width="6.2"/>
</g>
<g clip-path="url(#dclip3)">
<g fill="none" stroke-width="6.0" stroke-linecap="round" stroke-linejoin="round">
<polyline points="942.0,928.5 945.4,927.4 948.7,926.0 951.2,923.4 953.8,920.8 956.3,918.2 958.8,915.6 961.3,913.0 963.8,910.4 966.3,907.8 968.8,905.2 971.3,902.7 973.9,900.1 976.4,897.5 978.9,894.9 981.4,892.3 984.0,889.8 986.5,887.2 989.0,884.6 991.6,882.0 994.1,879.4 996.6,876.8 999.1,874.3 1001.7,871.7 1004.2,869.1 1006.7,866.5 1009.2,863.9 1011.7,861.3 1014.3,858.7 1016.8,856.2 1019.4,853.7 1022.0,851.1 1024.5,848.6 1027.1,846.0 1029.7,843.5 1031.5,840.6 1032.0,837.0" stroke="#0077ff"/>
<polyline points="942.0,1126.4 945.4,1127.5 948.7,1128.9 951.2,1131.5 953.8,1134.1 956.3,1136.7 958.8,1139.3 961.3,1141.9 963.8,1144.5 966.3,1147.1 968.8,1149.7 971.3,1152.2 973.9,1154.8 976.4,1157.4 978.9,1160.0 981.4,1162.6 984.0,1165.1 986.5,1167.7 989.0,1170.3 991.6,1172.9 994.1,1175.5 996.6,1178.1 999.1,1180.6 1001.7,1183.2 1004.2,1185.8 1006.7,1188.4 1009.2,1191.0 1011.7,1193.6 1014.3,1196.2 1016.8,1198.7 1019.4,1201.2 1022.0,1203.8 1024.5,1206.3 1027.1,1208.9 1029.7,1211.4 1031.5,1214.3 1032.0,1217.9" stroke="#0077ff"/>
<polyline points="1321.9,928.5 1318.5,927.4 1315.2,926.0 1312.7,923.4 1310.1,920.8 1307.6,918.2 1305.1,915.6 1302.6,913.0 1300.1,910.4 1297.6,907.8 1295.1,905.2 1292.6,902.7 1290.0,900.1 1287.5,897.5 1285.0,894.9 1282.5,892.3 1279.9,889.8 1277.4,887.2 1274.9,884.6 1272.3,882.0 1269.8,879.4 1267.3,876.8 1264.8,874.3 1262.2,871.7 1259.7,869.1 1257.2,866.5 1254.7,863.9 1252.2,861.3 1249.6,858.7 1247.1,856.2 1244.5,853.7 1241.9,851.1 1239.4,848.6 1236.8,846.0 1234.2,843.5 1232.4,840.6 1231.9,837.0" stroke="#0077ff"/>
<polyline points="1321.9,1126.4 1318.5,1127.5 1315.2,1128.9 1312.7,1131.5 1310.1,1134.1 1307.6,1136.7 1305.1,1139.3 1302.6,1141.9 1300.1,1144.5 1297.6,1147.1 1295.1,1149.7 1292.6,1152.2 1290.0,1154.8 1287.5,1157.4 1285.0,1160.0 1282.5,1162.6 1279.9,1165.1 1277.4,1167.7 1274.9,1170.3 1272.3,1172.9 1269.8,1175.5 1267.3,1178.1 1264.8,1180.6 1262.2,1183.2 1259.7,1185.8 1257.2,1188.4 1254.7,1191.0 1252.2,1193.6 1249.6,1196.2 1247.1,1198.7 1244.5,1201.2 1241.9,1203.8 1239.4,1206.3 1236.8,1208.9 1234.2,1211.4 1232.4,1214.3 1231.9,1217.9" stroke="#0077ff"/>
</g>
<g fill="none" stroke-width="6.0" stroke-linecap="round" stroke-linejoin="round">
<polyline points="1031.3,841.9 1033.9,844.5 1036.5,847.1 1039.0,849.6 1041.6,852.2 1044.4,854.6 1047.1,857.0 1049.9,859.4" stroke="#0077ff"/>
<polyline points="1049.9,859.4 1052.6,861.8 1055.3,864.3 1057.9,866.8 1060.6,869.3" stroke="#0055ff"/>
<polyline points="1060.6,869.3 1063.3,871.8 1066.0,874.2 1068.8,876.5" stroke="#0033ff"/>
<polyline points="1068.8,876.5 1071.6,878.8 1074.5,881.1" stroke="#0011ff"/>
<polyline points="1074.5,881.1 1077.3,883.4 1080.1,885.8 1082.8,888.2 1085.6,890.6 1088.5,892.8 1091.6,894.6" stroke="#1100ff"/>
<polyline points="1091.6,894.6 1094.8,896.4 1098.0,898.2 1101.2,899.8" stroke="#0011ff"/>
<polyline points="1101.2,899.8 1104.5,901.5" stroke="#1100ff"/>
<polyline points="1104.5,901.5 1107.8,903.1" stroke="#5500ff"/>
<polyline points="1107.8,903.1 1110.9,904.9" stroke="#7700ff"/>
<polyline points="1110.9,904.9 1114.0,906.8" stroke="#9900ff"/>
<polyline points="1114.0,906.8 1117.4,908.0" stroke="#bb00ff"/>
<polyline points="1117.4,908.0 1121.0,908.3" stroke="#dd00ff"/>
<polyline points="1121.0,908.3 1124.7,908.5 1128.3,908.6 1132.0,908.6" stroke="#ff00ff"/>
<polyline points="1031.3,1213.0 1033.9,1210.4 1036.5,1207.8 1039.0,1205.3 1041.6,1202.7 1044.4,1200.3 1047.1,1197.9 1049.9,1195.5" stroke="#0077ff"/>
<polyline points="1049.9,1195.5 1052.6,1193.1 1055.3,1190.6 1057.9,1188.1 1060.6,1185.6" stroke="#0055ff"/>
<polyline points="1060.6,1185.6 1063.3,1183.1 1066.0,1180.7 1068.8,1178.4" stroke="#0033ff"/>
<polyline points="1068.8,1178.4 1071.6,1176.1 1074.5,1173.8" stroke="#0011ff"/>
<polyline points="1074.5,1173.8 1077.3,1171.5 1080.1,1169.1 1082.8,1166.7 1085.6,1164.3 1088.5,1162.1 1091.6,1160.3" stroke="#1100ff"/>
<polyline points="1091.6,1160.3 1094.8,1158.5 1098.0,1156.7 1101.2,1155.1" stroke="#0011ff"/>
<polyline points="1101.2,1155.1 1104.5,1153.4" stroke="#1100ff"/>
<polyline points="1104.5,1153.4 1107.8,1151.8" stroke="#5500ff"/>
<polyline points="1107.8,1151.8 1110.9,1150.0" stroke="#7700ff"/>
<polyline points="1110.9,1150.0 1114.0,1148.1" stroke="#9900ff"/>
<polyline points="1114.0,1148.1 1117.4,1146.9" stroke="#bb00ff"/>
<polyline points="1117.4,1146.9 1121.0,1146.6" stroke="#dd00ff"/>
<polyline points="1121.0,1146.6 1124.7,1146.4 1128.3,1146.3 1132.0,1146.3" stroke="#ff00ff"/>
<polyline points="1232.6,841.9 1230.0,844.5 1227.4,847.1 1224.9,849.6 1222.3,852.2 1219.5,854.6 1216.8,857.0 1214.0,859.4" stroke="#0077ff"/>
<polyline points="1214.0,859.4 1211.3,861.8 1208.6,864.3 1206.0,866.8 1203.3,869.3" stroke="#0055ff"/>
<polyline points="1203.3,869.3 1200.6,871.8 1197.9,874.2 1195.1,876.5" stroke="#0033ff"/>
<polyline points="1195.1,876.5 1192.3,878.8 1189.4,881.1" stroke="#0011ff"/>
<polyline points="1189.4,881.1 1186.6,883.4 1183.8,885.8 1181.1,888.2 1178.3,890.6 1175.4,892.8 1172.3,894.6" stroke="#1100ff"/>
<polyline points="1172.3,894.6 1169.1,896.4 1165.9,898.2 1162.7,899.8" stroke="#0011ff"/>
<polyline points="1162.7,899.8 1159.4,901.5" stroke="#1100ff"/>
<polyline points="1159.4,901.5 1156.1,903.1" stroke="#5500ff"/>
<polyline points="1156.1,903.1 1153.0,904.9" stroke="#7700ff"/>
<polyline points="1153.0,904.9 1149.9,906.8" stroke="#9900ff"/>
<polyline points="1149.9,906.8 1146.5,908.0" stroke="#bb00ff"/>
<polyline points="1146.5,908.0 1142.9,908.3" stroke="#dd00ff"/>
<polyline points="1142.9,908.3 1139.2,908.5 1135.6,908.6 1132.0,908.6" stroke="#ff00ff"/>
<polyline points="1232.6,1213.0 1230.0,1210.4 1227.4,1207.8 1224.9,1205.3 1222.3,1202.7 1219.5,1200.3 1216.8,1197.9 1214.0,1195.5" stroke="#0077ff"/>
<polyline points="1214.0,1195.5 1211.3,1193.1 1208.6,1190.6 1206.0,1188.1 1203.3,1185.6" stroke="#0055ff"/>
<polyline points="1203.3,1185.6 1200.6,1183.1 1197.9,1180.7 1195.1,1178.4" stroke="#0033ff"/>
<polyline points="1195.1,1178.4 1192.3,1176.1 1189.4,1173.8" stroke="#0011ff"/>
<polyline points="1189.4,1173.8 1186.6,1171.5 1183.8,1169.1 1181.1,1166.7 1178.3,1164.3 1175.4,1162.1 1172.3,1160.3" stroke="#1100ff"/>
<polyline points="1172.3,1160.3 1169.1,1158.5 1165.9,1156.7 1162.7,1155.1" stroke="#0011ff"/>
<polyline points="1162.7,1155.1 1159.4,1153.4" stroke="#1100ff"/>
<polyline points="1159.4,1153.4 1156.1,1151.8" stroke="#5500ff"/>
<polyline points="1156.1,1151.8 1153.0,1150.0" stroke="#7700ff"/>
<polyline points="1153.0,1150.0 1149.9,1148.1" stroke="#9900ff"/>
<polyline points="1149.9,1148.1 1146.5,1146.9" stroke="#bb00ff"/>
<polyline points="1146.5,1146.9 1142.9,1146.6" stroke="#dd00ff"/>
<polyline points="1142.9,1146.6 1139.2,1146.4 1135.6,1146.3 1132.0,1146.3" stroke="#ff00ff"/>
</g>
<g fill="none" stroke-width="6.0" stroke-linecap="round" stroke-linejoin="round">
<polyline points="948.4,927.9 951.0,930.5 953.6,933.1 956.0,935.9 958.5,938.6 960.9,941.4" stroke="#0077ff"/>
<polyline points="960.9,941.4 963.4,944.1 965.8,946.8 968.2,949.6 970.7,952.4" stroke="#0055ff"/>
<polyline points="970.7,952.4 973.1,955.1 975.5,957.9 977.9,960.7 980.2,963.6" stroke="#0033ff"/>
<polyline points="980.2,963.6 982.5,966.4 984.8,969.3 987.1,972.2" stroke="#0011ff"/>
<polyline points="987.1,972.2 989.3,975.1 991.6,978.0 993.8,980.9 996.0,983.9 998.0,986.9 999.8,990.1 1001.6,993.4" stroke="#1100ff"/>
<polyline points="1001.6,993.4 1003.4,996.6 1005.1,999.8" stroke="#0011ff"/>
<polyline points="1005.1,999.8 1006.7,1003.1" stroke="#1100ff"/>
<polyline points="1006.7,1003.1 1008.4,1006.4" stroke="#3300ff"/>
<polyline points="1008.4,1006.4 1010.0,1009.7" stroke="#5500ff"/>
<polyline points="1010.0,1009.7 1011.3,1013.1" stroke="#9900ff"/>
<polyline points="1011.3,1013.1 1012.3,1016.6" stroke="#bb00ff"/>
<polyline points="1012.3,1016.6 1013.3,1020.2" stroke="#dd00ff"/>
<polyline points="1013.3,1020.2 1013.9,1023.8 1014.3,1027.5" stroke="#ff00ff"/>
<polyline points="948.4,1127.0 951.0,1124.4 953.6,1121.8 956.0,1119.0 958.5,1116.3 960.9,1113.5" stroke="#0077ff"/>
<polyline points="960.9,1113.5 963.4,1110.8 965.8,1108.1 968.2,1105.3 970.7,1102.5" stroke="#0055ff"/>
<polyline points="970.7,1102.5 973.1,1099.8 975.5,1097.0 977.9,1094.2 980.2,1091.3" stroke="#0033ff"/>
<polyline points="980.2,1091.3 982.5,1088.5 984.8,1085.6 987.1,1082.7" stroke="#0011ff"/>
<polyline points="987.1,1082.7 989.3,1079.8 991.6,1076.9 993.8,1074.0 996.0,1071.0 998.0,1068.0 999.8,1064.8 1001.6,1061.5" stroke="#1100ff"/>
<polyline points="1001.6,1061.5 1003.4,1058.3 1005.1,1055.1" stroke="#0011ff"/>
<polyline points="1005.1,1055.1 1006.7,1051.8" stroke="#1100ff"/>
<polyline points="1006.7,1051.8 1008.4,1048.5" stroke="#3300ff"/>
<polyline points="1008.4,1048.5 1010.0,1045.2" stroke="#5500ff"/>
<polyline points="1010.0,1045.2 1011.3,1041.8" stroke="#9900ff"/>
<polyline points="1011.3,1041.8 1012.3,1038.3" stroke="#bb00ff"/>
<polyline points="1012.3,1038.3 1013.3,1034.7" stroke="#dd00ff"/>
<polyline points="1013.3,1034.7 1013.9,1031.1 1014.3,1027.5" stroke="#ff00ff"/>
<polyline points="1315.5,927.9 1312.9,930.5 1310.3,933.1 1307.9,935.9 1305.4,938.6 1303.0,941.4" stroke="#0077ff"/>
<polyline points="1303.0,941.4 1300.5,944.1 1298.1,946.8 1295.7,949.6 1293.2,952.4" stroke="#0055ff"/>
<polyline points="1293.2,952.4 1290.8,955.1 1288.4,957.9 1286.0,960.7 1283.7,963.6" stroke="#0033ff"/>
<polyline points="1283.7,963.6 1281.4,966.4 1279.1,969.3 1276.8,972.2" stroke="#0011ff"/>
<polyline points="1276.8,972.2 1274.6,975.1 1272.3,978.0 1270.1,980.9 1267.9,983.9 1265.9,986.9 1264.1,990.1 1262.3,993.4" stroke="#1100ff"/>
<polyline points="1262.3,993.4 1260.5,996.6 1258.8,999.8" stroke="#0011ff"/>
<polyline points="1258.8,999.8 1257.2,1003.1" stroke="#1100ff"/>
<polyline points="1257.2,1003.1 1255.5,1006.4" stroke="#3300ff"/>
<polyline points="1255.5,1006.4 1253.9,1009.7" stroke="#5500ff"/>
<polyline points="1253.9,1009.7 1252.6,1013.1" stroke="#9900ff"/>
<polyline points="1252.6,1013.1 1251.6,1016.6" stroke="#bb00ff"/>
<polyline points="1251.6,1016.6 1250.6,1020.2" stroke="#dd00ff"/>
<polyline points="1250.6,1020.2 1250.0,1023.8 1249.6,1027.5" stroke="#ff00ff"/>
<polyline points="1315.5,1127.0 1312.9,1124.4 1310.3,1121.8 1307.9,1119.0 1305.4,1116.3 1303.0,1113.5" stroke="#0077ff"/>
<polyline points="1303.0,1113.5 1300.5,1110.8 1298.1,1108.1 1295.7,1105.3 1293.2,1102.5" stroke="#0055ff"/>
<polyline points="1293.2,1102.5 1290.8,1099.8 1288.4,1097.0 1286.0,1094.2 1283.7,1091.3" stroke="#0033ff"/>
<polyline points="1283.7,1091.3 1281.4,1088.5 1279.1,1085.6 1276.8,1082.7" stroke="#0011ff"/>
<polyline points="1276.8,1082.7 1274.6,1079.8 1272.3,1076.9 1270.1,1074.0 1267.9,1071.0 1265.9,1068.0 1264.1,1064.8 1262.3,1061.5" stroke="#1100ff"/>
<polyline points="1262.3,1061.5 1260.5,1058.3 1258.8,1055.1" stroke="#0011ff"/>
<polyline points="1258.8,1055.1 1257.2,1051.8" stroke="#1100ff"/>
<polyline points="1257.2,1051.8 1255.5,1048.5" stroke="#3300ff"/>
<polyline points="1255.5,1048.5 1253.9,1045.2" stroke="#5500ff"/>
<polyline points="1253.9,1045.2 1252.6,1041.8" stroke="#9900ff"/>
<polyline points="1252.6,1041.8 1251.6,1038.3" stroke="#bb00ff"/>
<polyline points="1251.6,1038.3 1250.6,1034.7" stroke="#dd00ff"/>
<polyline points="1250.6,1034.7 1250.0,1031.1 1249.6,1027.5" stroke="#ff00ff"/>
</g>
<g fill="none" stroke-width="6.2" stroke-linecap="round" stroke-linejoin="round">
<polyline points="1246.2,1027.5 1246.1,1031.0" stroke="#00ff77"/>
<polyline points="1246.1,1031.0 1245.8,1034.5" stroke="#00ff99"/>
<polyline points="1245.8,1034.5 1245.3,1038.0" stroke="#00ffff"/>
<polyline points="1245.3,1038.0 1244.7,1041.5" stroke="#0033ff"/>
<polyline points="1244.7,1041.5 1244.0,1044.9 1243.2,1048.4" stroke="#3300ff"/>
<polyline points="1243.2,1048.4 1242.2,1051.8" stroke="#1100ff"/>
<polyline points="1242.2,1051.8 1241.2,1055.2" stroke="#0011ff"/>
<polyline points="1241.2,1055.2 1240.0,1058.5" stroke="#0055ff"/>
<polyline points="1240.0,1058.5 1238.7,1061.8" stroke="#0099ff"/>
<polyline points="1238.7,1061.8 1237.3,1065.0" stroke="#00ffdd"/>
<polyline points="1237.3,1065.0 1235.9,1068.3 1234.3,1071.4 1232.7,1074.6 1230.9,1077.6" stroke="#00ff99"/>
<polyline points="1230.9,1077.6 1229.1,1080.7 1227.2,1083.6" stroke="#00ffbb"/>
<polyline points="1227.2,1083.6 1225.2,1086.6 1223.2,1089.4" stroke="#00ffdd"/>
<polyline points="1223.2,1089.4 1221.1,1092.3 1218.9,1095.0" stroke="#00ffff"/>
<polyline points="1218.9,1095.0 1216.6,1097.7 1214.3,1100.4" stroke="#00ddff"/>
<polyline points="1214.3,1100.4 1211.8,1103.0 1209.4,1105.5 1206.8,1108.0 1204.2,1110.3" stroke="#00bbff"/>
<polyline points="1204.2,1110.3 1201.6,1112.7 1198.8,1114.9" stroke="#00ddff"/>
<polyline points="1198.8,1114.9 1196.1,1117.1 1193.2,1119.2" stroke="#00ffff"/>
<polyline points="1193.2,1119.2 1190.3,1121.3" stroke="#00ffdd"/>
<polyline points="1190.3,1121.3 1187.4,1123.2 1184.4,1125.1 1181.4,1126.9" stroke="#00ffbb"/>
<polyline points="1181.4,1126.9 1178.3,1128.6 1175.1,1130.2 1172.0,1131.8" stroke="#00ff99"/>
<polyline points="1172.0,1131.8 1168.7,1133.2" stroke="#00ffbb"/>
<polyline points="1168.7,1133.2 1165.5,1134.5" stroke="#00ffff"/>
<polyline points="1165.5,1134.5 1162.2,1135.8" stroke="#0099ff"/>
<polyline points="1162.2,1135.8 1158.8,1136.9" stroke="#0033ff"/>
<polyline points="1158.8,1136.9 1155.4,1138.0" stroke="#0011ff"/>
<polyline points="1155.4,1138.0 1152.0,1138.9" stroke="#1100ff"/>
<polyline points="1152.0,1138.9 1148.6,1139.7 1145.1,1140.4" stroke="#3300ff"/>
<polyline points="1145.1,1140.4 1141.6,1140.9" stroke="#0055ff"/>
<polyline points="1141.6,1140.9 1138.1,1141.4" stroke="#00ffdd"/>
<polyline points="1138.1,1141.4 1134.6,1141.6" stroke="#00ff99"/>
<polyline points="1134.6,1141.6 1131.1,1141.7 1127.5,1141.5" stroke="#00ff77"/>
<polyline points="1127.5,1141.5 1124.0,1141.2" stroke="#00ff99"/>
<polyline points="1124.0,1141.2 1120.5,1140.7" stroke="#00bbff"/>
<polyline points="1120.5,1140.7 1117.0,1140.1" stroke="#0011ff"/>
<polyline points="1117.0,1140.1 1113.6,1139.3 1110.2,1138.4" stroke="#3300ff"/>
<polyline points="1110.2,1138.4 1106.8,1137.5" stroke="#1100ff"/>
<polyline points="1106.8,1137.5 1103.4,1136.4" stroke="#0011ff"/>
<polyline points="1103.4,1136.4 1100.1,1135.2" stroke="#0055ff"/>
<polyline points="1100.1,1135.2 1096.8,1133.9" stroke="#00bbff"/>
<polyline points="1096.8,1133.9 1093.6,1132.5" stroke="#00ffdd"/>
<polyline points="1093.6,1132.5 1090.3,1131.0 1087.2,1129.4 1084.1,1127.7 1081.0,1126.0" stroke="#00ff99"/>
<polyline points="1081.0,1126.0 1078.0,1124.2 1075.0,1122.2" stroke="#00ffbb"/>
<polyline points="1075.0,1122.2 1072.1,1120.2 1069.2,1118.2" stroke="#00ffdd"/>
<polyline points="1069.2,1118.2 1066.4,1116.0 1063.7,1113.8" stroke="#00ffff"/>
<polyline points="1063.7,1113.8 1061.0,1111.5 1058.4,1109.2" stroke="#00ddff"/>
<polyline points="1058.4,1109.2 1055.8,1106.7 1053.3,1104.2 1050.8,1101.7" stroke="#00bbff"/>
<polyline points="1050.8,1101.7 1048.5,1099.1 1046.2,1096.4" stroke="#00ddff"/>
<polyline points="1046.2,1096.4 1043.9,1093.7 1041.8,1090.9" stroke="#00ffff"/>
<polyline points="1041.8,1090.9 1039.7,1088.0 1037.7,1085.1" stroke="#00ffdd"/>
<polyline points="1037.7,1085.1 1035.7,1082.2 1033.9,1079.2" stroke="#00ffbb"/>
<polyline points="1033.9,1079.2 1032.1,1076.1 1030.4,1073.0 1028.8,1069.8 1027.3,1066.7" stroke="#00ff99"/>
<polyline points="1027.3,1066.7 1025.9,1063.4" stroke="#00ffbb"/>
<polyline points="1025.9,1063.4 1024.5,1060.1" stroke="#00ddff"/>
<polyline points="1024.5,1060.1 1023.3,1056.8" stroke="#0077ff"/>
<polyline points="1023.3,1056.8 1022.2,1053.5" stroke="#0033ff"/>
<polyline points="1022.2,1053.5 1021.2,1050.1" stroke="#1100ff"/>
<polyline points="1021.2,1050.1 1020.3,1046.7 1019.5,1043.2" stroke="#3300ff"/>
<polyline points="1019.5,1043.2 1018.9,1039.8" stroke="#1100ff"/>
<polyline points="1018.9,1039.8 1018.3,1036.3" stroke="#0077ff"/>
<polyline points="1018.3,1036.3 1018.0,1032.7" stroke="#00ffbb"/>
<polyline points="1018.0,1032.7 1017.7,1029.2 1017.7,1025.7 1018.0,1022.2" stroke="#00ff77"/>
<polyline points="1018.0,1022.2 1018.3,1018.6" stroke="#00ffbb"/>
<polyline points="1018.3,1018.6 1018.9,1015.1" stroke="#0077ff"/>
<polyline points="1018.9,1015.1 1019.5,1011.7" stroke="#1100ff"/>
<polyline points="1019.5,1011.7 1020.3,1008.2 1021.2,1004.8" stroke="#3300ff"/>
<polyline points="1021.2,1004.8 1022.2,1001.4" stroke="#1100ff"/>
<polyline points="1022.2,1001.4 1023.3,998.1" stroke="#0033ff"/>
<polyline points="1023.3,998.1 1024.5,994.8" stroke="#0077ff"/>
<polyline points="1024.5,994.8 1025.9,991.5" stroke="#00ddff"/>
<polyline points="1025.9,991.5 1027.3,988.2" stroke="#00ffbb"/>
<polyline points="1027.3,988.2 1028.8,985.1 1030.4,981.9 1032.1,978.8 1033.9,975.7" stroke="#00ff99"/>
<polyline points="1033.9,975.7 1035.7,972.7 1037.7,969.8" stroke="#00ffbb"/>
<polyline points="1037.7,969.8 1039.7,966.9 1041.8,964.0" stroke="#00ffdd"/>
<polyline points="1041.8,964.0 1043.9,961.2 1046.2,958.5" stroke="#00ffff"/>
<polyline points="1046.2,958.5 1048.5,955.8 1050.8,953.2" stroke="#00ddff"/>
<polyline points="1050.8,953.2 1053.3,950.7 1055.8,948.2 1058.4,945.7" stroke="#00bbff"/>
<polyline points="1058.4,945.7 1061.0,943.4 1063.7,941.1" stroke="#00ddff"/>
<polyline points="1063.7,941.1 1066.4,938.9 1069.2,936.7" stroke="#00ffff"/>
<polyline points="1069.2,936.7 1072.1,934.7 1075.0,932.7" stroke="#00ffdd"/>
<polyline points="1075.0,932.7 1078.0,930.7 1081.0,928.9" stroke="#00ffbb"/>
<polyline points="1081.0,928.9 1084.1,927.2 1087.2,925.5 1090.3,923.9 1093.6,922.4" stroke="#00ff99"/>
<polyline points="1093.6,922.4 1096.8,921.0" stroke="#00ffdd"/>
<polyline points="1096.8,921.0 1100.1,919.7" stroke="#00bbff"/>
<polyline points="1100.1,919.7 1103.4,918.5" stroke="#0055ff"/>
<polyline points="1103.4,918.5 1106.8,917.4" stroke="#0011ff"/>
<polyline points="1106.8,917.4 1110.2,916.5" stroke="#1100ff"/>
<polyline points="1110.2,916.5 1113.6,915.6 1117.0,914.8" stroke="#3300ff"/>
<polyline points="1117.0,914.8 1120.5,914.2" stroke="#0011ff"/>
<polyline points="1120.5,914.2 1124.0,913.7" stroke="#00bbff"/>
<polyline points="1124.0,913.7 1127.5,913.4" stroke="#00ff99"/>
<polyline points="1127.5,913.4 1131.1,913.2 1134.6,913.3" stroke="#00ff77"/>
<polyline points="1134.6,913.3 1138.1,913.5" stroke="#00ff99"/>
<polyline points="1138.1,913.5 1141.6,914.0" stroke="#00ffdd"/>
<polyline points="1141.6,914.0 1145.1,914.5" stroke="#0055ff"/>
<polyline points="1145.1,914.5 1148.6,915.2 1152.0,916.0" stroke="#3300ff"/>
<polyline points="1152.0,916.0 1155.4,916.9" stroke="#1100ff"/>
<polyline points="1155.4,916.9 1158.8,918.0" stroke="#0011ff"/>
<polyline points="1158.8,918.0 1162.2,919.1" stroke="#0033ff"/>
<polyline points="1162.2,919.1 1165.5,920.4" stroke="#0099ff"/>
<polyline points="1165.5,920.4 1168.7,921.7" stroke="#00ffff"/>
<polyline points="1168.7,921.7 1172.0,923.1" stroke="#00ffbb"/>
<polyline points="1172.0,923.1 1175.1,924.7 1178.3,926.3 1181.4,928.0" stroke="#00ff99"/>
<polyline points="1181.4,928.0 1184.4,929.8 1187.4,931.7 1190.3,933.6" stroke="#00ffbb"/>
<polyline points="1190.3,933.6 1193.2,935.7" stroke="#00ffdd"/>
<polyline points="1193.2,935.7 1196.1,937.8 1198.8,940.0" stroke="#00ffff"/>
<polyline points="1198.8,940.0 1201.6,942.2 1204.2,944.6" stroke="#00ddff"/>
<polyline points="1204.2,944.6 1206.8,946.9 1209.4,949.4 1211.8,951.9 1214.3,954.5" stroke="#00bbff"/>
<polyline points="1214.3,954.5 1216.6,957.2 1218.9,959.9" stroke="#00ddff"/>
<polyline points="1218.9,959.9 1221.1,962.6 1223.2,965.5" stroke="#00ffff"/>
<polyline points="1223.2,965.5 1225.2,968.3 1227.2,971.3" stroke="#00ffdd"/>
<polyline points="1227.2,971.3 1229.1,974.2 1230.9,977.3" stroke="#00ffbb"/>
<polyline points="1230.9,977.3 1232.7,980.3 1234.3,983.5 1235.9,986.6 1237.3,989.9" stroke="#00ff99"/>
<polyline points="1237.3,989.9 1238.7,993.1" stroke="#00ffdd"/>
<polyline points="1238.7,993.1 1240.0,996.4" stroke="#0099ff"/>
<polyline points="1240.0,996.4 1241.2,999.7" stroke="#0055ff"/>
<polyline points="1241.2,999.7 1242.2,1003.1" stroke="#0011ff"/>
<polyline points="1242.2,1003.1 1243.2,1006.5" stroke="#1100ff"/>
<polyline points="1243.2,1006.5 1244.0,1010.0 1244.7,1013.4" stroke="#3300ff"/>
<polyline points="1244.7,1013.4 1245.3,1016.9" stroke="#0033ff"/>
<polyline points="1245.3,1016.9 1245.8,1020.4" stroke="#00ffff"/>
<polyline points="1245.8,1020.4 1246.1,1023.9" stroke="#00ff99"/>
<polyline points="1246.1,1023.9 1246.2,1027.5" stroke="#00ff77"/>
</g>
<g fill="none" stroke-width="6.6" stroke-linecap="round" stroke-linejoin="round">
<polyline points="1189.5,1027.5 1189.3,1031.0 1188.9,1034.5 1188.2,1038.0 1187.4,1041.4 1186.3,1044.8 1185.0,1048.1 1183.5,1051.3 1181.8,1054.4 1180.0,1057.4 1177.9,1060.3 1175.7,1063.1 1173.4,1065.8 1170.9,1068.3 1168.3,1070.7 1165.5,1072.9 1162.7,1075.0 1159.7,1076.9 1156.6,1078.6 1153.4,1080.1 1150.1,1081.5 1146.8,1082.6 1143.3,1083.5 1139.9,1084.2 1136.4,1084.7 1132.8,1084.9 1129.3,1084.9 1125.8,1084.5 1122.3,1083.9 1118.8,1083.1 1115.5,1082.1 1112.1,1080.8 1108.9,1079.4 1105.8,1077.7 1102.7,1075.9 1099.8,1074.0 1097.0,1071.8 1094.3,1069.5 1091.7,1067.1 1089.3,1064.5 1087.0,1061.7 1084.9,1058.9 1083.0,1055.9 1081.2,1052.9 1079.6,1049.7 1078.3,1046.4 1077.1,1043.1 1076.1,1039.7 1075.3,1036.2 1074.8,1032.7 1074.5,1029.2 1074.5,1025.7 1074.8,1022.2 1075.3,1018.7 1076.1,1015.2 1077.1,1011.8 1078.3,1008.5 1079.6,1005.2 1081.2,1002.0 1083.0,999.0 1084.9,996.0 1087.0,993.2 1089.3,990.4 1091.7,987.8 1094.3,985.4 1097.0,983.1 1099.8,980.9 1102.7,979.0 1105.8,977.2 1108.9,975.5 1112.1,974.1 1115.5,972.8 1118.8,971.8 1122.3,971.0 1125.8,970.4 1129.3,970.0 1132.8,970.0 1136.4,970.2 1139.9,970.7 1143.3,971.4 1146.8,972.3 1150.1,973.4 1153.4,974.8 1156.6,976.3 1159.7,978.0 1162.7,979.9 1165.5,982.0 1168.3,984.2 1170.9,986.6 1173.4,989.1 1175.7,991.8 1177.9,994.6 1180.0,997.5 1181.8,1000.5 1183.5,1003.6 1185.0,1006.8 1186.3,1010.1 1187.4,1013.5 1188.2,1016.9 1188.9,1020.4 1189.3,1023.9 1189.5,1027.5" stroke="#ffff00"/>
</g>
</g>
<path d="M101.1,837.1 H487.4 M487.4,837.1 V1217.9 M487.4,1217.9 H101.1 M101.1,1217.9 V837.1" stroke="#000" stroke-width="6" fill="none" stroke-linecap="butt"/>
<path d="M522.1,837.0 H903.5 M903.5,837.0 V1217.9 M903.5,1217.9 H522.1 M522.1,1217.9 V837.0" stroke="#000" stroke-width="6" fill="none" stroke-linecap="butt"/>
<path d="M940.9,836.5 H1323.0 M1323.0,836.5 V1218.4 M1323.0,1218.4 H940.9 M940.9,1218.4 V836.5" stroke="#000" stroke-width="6" fill="none" stroke-linecap="butt"/>
<defs><linearGradient id="gFS" x1="0" y1="0" x2="0" y2="1"><stop offset="0" stop-color="#ffff00"/><stop offset="0.25" stop-color="#00ff00"/><stop offset="0.5" stop-color="#00ffff"/><stop offset="0.75" stop-color="#0000ff"/><stop offset="1" stop-color="#ff00ff"/></linearGradient></defs>
<rect x="47.3" y="835.4" width="16.7" height="384.9" fill="url(#gFS)" stroke="#000" stroke-width="2.4"/>
<text x="40.5" y="824.0" font-size="33" text-anchor="start" fill="#000" >+1</text>
<text x="40.5" y="1255.0" font-size="33" text-anchor="start" fill="#000" >−1</text>
<text transform="translate(29,930.5) rotate(-90)" font-size="33">Ni 3<tspan font-style="italic">d</tspan><tspan font-size="23" font-style="italic" dy="7">z</tspan><tspan font-size="23" dy="-20" dx="-2">2</tspan></text>
<text transform="translate(29,1221) rotate(-90)" font-size="33">Ni 3<tspan font-style="italic">d</tspan><tspan font-size="23" font-style="italic" dy="7">x</tspan><tspan font-size="16" dy="-12">2</tspan><tspan font-size="23" dy="12">-</tspan><tspan font-size="23" font-style="italic">y</tspan><tspan font-size="16" dy="-12">2</tspan></text>
<text x="-1.5" y="790.0" font-size="34" text-anchor="start" fill="#000" >(d)</text>
<text x="446" y="873.3" font-size="33" font-style="italic">M</text>
<text x="281.5" y="1040.4" font-size="33" font-style="italic">Γ</text>
<text x="448.5" y="1038.6" font-size="33" font-style="italic">X</text>
<text x="238" y="1203.3" font-size="33" font-style="italic">k<tspan font-size="23" dy="7">z</tspan><tspan dy="-7"> = π/c</tspan></text>
<text x="1148" y="1050" font-size="38" font-style="italic" font-family="Liberation Serif">γ</text>
<text x="1215" y="1124" font-size="38" font-style="italic" font-family="Liberation Serif">α</text>
<text x="1265" y="1141" font-size="38" font-style="italic" font-family="Liberation Serif">β</text>
<defs>
<clipPath id="eclip0"><rect x="99.6" y="1329.6" width="243.1" height="458.0"/></clipPath>
<clipPath id="eclip1"><rect x="428.1" y="1329.6" width="243.1" height="458.0"/></clipPath>
<clipPath id="eclip2"><rect x="755.7" y="1329.6" width="243.1" height="458.0"/></clipPath>
<clipPath id="eclip3"><rect x="1083.7" y="1329.6" width="243.1" height="458.0"/></clipPath>
</defs>
<g clip-path="url(#eclip0)">
<g fill="#deebf2">
<circle cx="101" cy="1410" r="3.5"/>
<circle cx="104.6" cy="1405" r="3.5"/>
<circle cx="108.3" cy="1400.1" r="3.5"/>
<circle cx="111.9" cy="1395.1" r="3.5"/>
<circle cx="116.1" cy="1390.6" r="3.5"/>
<circle cx="120.3" cy="1386.1" r="3.5"/>
<circle cx="124.4" cy="1381.6" r="3.5"/>
<circle cx="129.4" cy="1378" r="3.5"/>
<circle cx="134.5" cy="1374.6" r="3.5"/>
<circle cx="139.7" cy="1371.2" r="3.5"/>
<circle cx="145.6" cy="1369.6" r="3.5"/>
<circle cx="151.5" cy="1368" r="3.5"/>
<circle cx="157.5" cy="1369.5" r="3.5"/>
<circle cx="163.3" cy="1371.2" r="3.5"/>
<circle cx="168.5" cy="1374.6" r="3.5"/>
<circle cx="173.6" cy="1378" r="3.5"/>
<circle cx="178.6" cy="1381.6" r="3.5"/>
<circle cx="182.7" cy="1386.1" r="3.5"/>
<circle cx="186.9" cy="1390.6" r="3.5"/>
<circle cx="191.1" cy="1395.1" r="3.5"/>
<circle cx="194.7" cy="1400.1" r="3.5"/>
<circle cx="198.4" cy="1405" r="3.5"/>
<circle cx="202" cy="1410" r="3.5"/>
</g>
<g fill="#deebf2">
<circle cx="114" cy="1385" r="4"/>
<circle cx="117.7" cy="1393.3" r="4"/>
<circle cx="121.3" cy="1401.5" r="4"/>
<circle cx="124.8" cy="1409.8" r="4"/>
<circle cx="128.4" cy="1418.1" r="4"/>
<circle cx="132.2" cy="1426.3" r="4"/>
<circle cx="136.2" cy="1434.4" r="4"/>
<circle cx="140.2" cy="1442.5" r="4"/>
<circle cx="144.3" cy="1450.6" r="4"/>
<circle cx="149.1" cy="1458.2" r="4"/>
<circle cx="154" cy="1458.3" r="4"/>
<circle cx="158.7" cy="1450.6" r="4"/>
<circle cx="162.8" cy="1442.5" r="4"/>
<circle cx="166.8" cy="1434.4" r="4"/>
<circle cx="170.8" cy="1426.3" r="4"/>
<circle cx="174.6" cy="1418.1" r="4"/>
<circle cx="178.3" cy="1409.9" r="4"/>
<circle cx="182" cy="1401.7" r="4"/>
<circle cx="185.5" cy="1393.3" r="4"/>
<circle cx="189" cy="1385" r="4"/>
</g>
<g fill="#a7d0e4">
<circle cx="105.3" cy="1457.3" r="5.5"/>
</g>
<g fill="#b2d5e7">
<circle cx="104.4" cy="1437.6" r="5.5"/>
</g>
<g fill="#bcdaea">
<circle cx="102.6" cy="1416" r="5"/>
<circle cx="103.5" cy="1394.5" r="5"/>
</g>
<g fill="#c6e0ed">
<circle cx="103.5" cy="1374.8" r="4.5"/>
</g>
<g fill="#d1e5f0">
<circle cx="104" cy="1355" r="4"/>
</g>
<g fill="#d7e8f1">
<circle cx="104" cy="1340" r="3.5"/>
</g>
<g fill="#a7d0e4">
<circle cx="198.1" cy="1457.3" r="5.5"/>
</g>
<g fill="#b2d5e7">
<circle cx="199" cy="1437.6" r="5.5"/>
</g>
<g fill="#bcdaea">
<circle cx="200.8" cy="1416" r="5"/>
<circle cx="199.9" cy="1394.5" r="5"/>
</g>
<g fill="#c6e0ed">
<circle cx="199.9" cy="1374.8" r="4.5"/>
</g>
<g fill="#d1e5f0">
<circle cx="199.4" cy="1355" r="4"/>
</g>
<g fill="#d7e8f1">
<circle cx="199.4" cy="1340" r="3.5"/>
</g>
<g fill="#d7e8f1">
<circle cx="112" cy="1350" r="3.5"/>
<circle cx="120" cy="1360" r="3.5"/>
<circle cx="128" cy="1345" r="3.5"/>
<circle cx="175" cy="1345" r="3.5"/>
<circle cx="183" cy="1360" r="3.5"/>
<circle cx="191" cy="1350" r="3.5"/>
<circle cx="116" cy="1440" r="3.5"/>
<circle cx="186" cy="1440" r="3.5"/>
<circle cx="125" cy="1470" r="3.5"/>
<circle cx="178" cy="1470" r="3.5"/>
</g>
<g fill="#bcdaea">
<circle cx="203.4" cy="1410" r="5"/>
<circle cx="206.1" cy="1412" r="5.4"/>
</g>
<g fill="#b2d5e7">
<circle cx="208.7" cy="1414.1" r="5.8"/>
<circle cx="211.3" cy="1416.2" r="6.1"/>
<circle cx="213.8" cy="1418.4" r="6.4"/>
<circle cx="216.3" cy="1420.7" r="6.6"/>
<circle cx="218.8" cy="1422.9" r="6.9"/>
<circle cx="221.3" cy="1425.2" r="7"/>
<circle cx="223.8" cy="1427.4" r="7"/>
<circle cx="226.3" cy="1429.7" r="7"/>
<circle cx="228.8" cy="1431.9" r="7"/>
<circle cx="231.4" cy="1434" r="7"/>
<circle cx="234.2" cy="1435.9" r="7"/>
<circle cx="236.9" cy="1437.8" r="7"/>
<circle cx="239.7" cy="1439.8" r="7"/>
<circle cx="242.7" cy="1441.1" r="6.7"/>
<circle cx="245.8" cy="1442.3" r="6.4"/>
<circle cx="249" cy="1443.6" r="6.1"/>
<circle cx="252.2" cy="1444.4" r="5.6"/>
</g>
<g fill="#bcdaea">
<circle cx="255.5" cy="1445" r="5"/>
</g>
<g fill="#a7d0e4">
<circle cx="280" cy="1372" r="5"/>
<circle cx="278.3" cy="1386" r="5"/>
<circle cx="275.6" cy="1401" r="5"/>
<circle cx="271.9" cy="1415" r="5"/>
<circle cx="267.2" cy="1427" r="5"/>
<circle cx="261.7" cy="1437" r="5"/>
<circle cx="256" cy="1446" r="5"/>
</g>
<g fill="#b2d5e7">
<circle cx="262" cy="1458" r="5.2"/>
<circle cx="268" cy="1468" r="5.2"/>
<circle cx="274" cy="1478" r="5.2"/>
<circle cx="280" cy="1488" r="5.2"/>
<circle cx="287" cy="1497" r="5.2"/>
<circle cx="295" cy="1506" r="5.2"/>
<circle cx="303" cy="1514" r="5.2"/>
<circle cx="311" cy="1522" r="5.2"/>
<circle cx="319" cy="1530" r="5.2"/>
<circle cx="327" cy="1538" r="5.2"/>
<circle cx="335" cy="1545" r="5.2"/>
</g>
<g fill="#d1e5f0">
<circle cx="285" cy="1350" r="3.5"/>
<circle cx="286.6" cy="1354.9" r="3.5"/>
<circle cx="288.2" cy="1359.7" r="3.5"/>
<circle cx="289.9" cy="1364.6" r="3.5"/>
<circle cx="291.8" cy="1369.4" r="3.5"/>
<circle cx="293.7" cy="1374.1" r="3.5"/>
<circle cx="295.6" cy="1378.9" r="3.5"/>
<circle cx="297.8" cy="1383.5" r="3.5"/>
<circle cx="300.1" cy="1388.1" r="3.5"/>
<circle cx="302.4" cy="1392.7" r="3.5"/>
<circle cx="304.7" cy="1397.3" r="3.5"/>
<circle cx="306.9" cy="1401.9" r="3.5"/>
<circle cx="309.7" cy="1406.2" r="3.5"/>
<circle cx="312.9" cy="1410.2" r="3.5"/>
<circle cx="316.1" cy="1414.2" r="3.5"/>
<circle cx="319.4" cy="1418.2" r="3.5"/>
<circle cx="322.6" cy="1422.2" r="3.5"/>
<circle cx="326.1" cy="1425.9" r="3.5"/>
<circle cx="329.9" cy="1429.3" r="3.5"/>
<circle cx="333.7" cy="1432.7" r="3.5"/>
<circle cx="337.4" cy="1436.4" r="3.5"/>
<circle cx="341" cy="1440" r="3.5"/>
</g>
<g fill="#a7d0e4">
<circle cx="298.7" cy="1454.6" r="5"/>
<circle cx="300.4" cy="1457.6" r="5.3"/>
</g>
<g fill="#9ccae1">
<circle cx="302" cy="1460.6" r="5.5"/>
<circle cx="303.7" cy="1463.6" r="5.8"/>
<circle cx="305.3" cy="1466.7" r="6"/>
<circle cx="306.9" cy="1469.7" r="6.2"/>
</g>
<g fill="#92c5de">
<circle cx="308.4" cy="1472.8" r="6.3"/>
<circle cx="309.9" cy="1475.9" r="6.4"/>
<circle cx="311.4" cy="1479" r="6.5"/>
<circle cx="312.9" cy="1482.1" r="6.7"/>
<circle cx="314.3" cy="1485.2" r="6.8"/>
<circle cx="315.8" cy="1488.3" r="6.9"/>
<circle cx="317.2" cy="1491.5" r="7"/>
<circle cx="318.3" cy="1494.7" r="7"/>
<circle cx="319.5" cy="1498" r="7"/>
<circle cx="320.6" cy="1501.2" r="7"/>
<circle cx="321.8" cy="1504.4" r="7"/>
<circle cx="323.1" cy="1507.6" r="7"/>
<circle cx="324.4" cy="1510.8" r="7"/>
<circle cx="325.7" cy="1514" r="7"/>
<circle cx="327.1" cy="1517.1" r="7"/>
<circle cx="328.5" cy="1520.3" r="7"/>
<circle cx="329.9" cy="1523.4" r="7"/>
<circle cx="331.3" cy="1526.5" r="7"/>
<circle cx="332.7" cy="1529.7" r="7"/>
<circle cx="334.1" cy="1532.8" r="7"/>
<circle cx="335.5" cy="1536" r="7"/>
<circle cx="337.8" cy="1538.4" r="6.8"/>
</g>
<g fill="#9ccae1">
<circle cx="340.3" cy="1539.3" r="6.5"/>
</g>
<g fill="#a7d0e4">
<circle cx="341.6" cy="1536.2" r="6.2"/>
<circle cx="343" cy="1533" r="6"/>
</g>
<g fill="#d1e5f0">
<circle cx="132" cy="1572" r="4.5"/>
<circle cx="135.2" cy="1571.6" r="4.5"/>
<circle cx="138.5" cy="1571.2" r="4.5"/>
<circle cx="141.7" cy="1570.9" r="4.5"/>
<circle cx="145" cy="1570.6" r="4.5"/>
<circle cx="148.2" cy="1570.3" r="4.5"/>
<circle cx="151.5" cy="1570" r="4.5"/>
<circle cx="154.8" cy="1570.3" r="4.5"/>
<circle cx="158" cy="1570.6" r="4.5"/>
<circle cx="161.3" cy="1570.8" r="4.5"/>
<circle cx="164.5" cy="1571.2" r="4.5"/>
<circle cx="167.8" cy="1571.6" r="4.5"/>
<circle cx="171" cy="1572" r="4.5"/>
</g>
<g fill="#d1e5f0">
<circle cx="323" cy="1574" r="5"/>
<circle cx="326.4" cy="1573" r="5"/>
<circle cx="329.8" cy="1572.1" r="5"/>
<circle cx="333.1" cy="1570.7" r="5"/>
<circle cx="336.3" cy="1569.3" r="5"/>
<circle cx="339.6" cy="1568.1" r="5"/>
<circle cx="343" cy="1567" r="5"/>
</g>
<g fill="#fae9df">
<circle cx="110" cy="1787" r="3.5"/>
<circle cx="112.6" cy="1783.9" r="3.5"/>
<circle cx="115.2" cy="1780.8" r="3.5"/>
<circle cx="117.8" cy="1777.6" r="3.5"/>
<circle cx="120.5" cy="1774.6" r="3.5"/>
<circle cx="123.5" cy="1771.8" r="3.5"/>
<circle cx="126.4" cy="1769.1" r="3.5"/>
<circle cx="129.4" cy="1766.3" r="3.5"/>
<circle cx="132.5" cy="1763.7" r="3.5"/>
<circle cx="136.2" cy="1761.9" r="3.5"/>
<circle cx="139.8" cy="1760.1" r="3.5"/>
<circle cx="143.6" cy="1758.7" r="3.5"/>
<circle cx="147.5" cy="1757.9" r="3.5"/>
<circle cx="151.5" cy="1757" r="3.5"/>
<circle cx="155.5" cy="1757.8" r="3.5"/>
<circle cx="159.4" cy="1758.7" r="3.5"/>
<circle cx="163.2" cy="1760.1" r="3.5"/>
<circle cx="166.8" cy="1761.9" r="3.5"/>
<circle cx="170.5" cy="1763.7" r="3.5"/>
<circle cx="173.6" cy="1766.3" r="3.5"/>
<circle cx="176.6" cy="1769.1" r="3.5"/>
<circle cx="179.5" cy="1771.8" r="3.5"/>
<circle cx="182.5" cy="1774.6" r="3.5"/>
<circle cx="185.2" cy="1777.6" r="3.5"/>
<circle cx="187.8" cy="1780.8" r="3.5"/>
<circle cx="190.4" cy="1783.9" r="3.5"/>
<circle cx="193" cy="1787" r="3.5"/>
</g>
<g fill="#fbe4d7">
<circle cx="151.7" cy="1726" r="4.5"/>
<circle cx="153.3" cy="1728.7" r="4.5"/>
<circle cx="154.9" cy="1731.3" r="4.5"/>
<circle cx="156.5" cy="1734" r="4.5"/>
<circle cx="158" cy="1736.7" r="4.5"/>
<circle cx="159.6" cy="1739.4" r="4.5"/>
<circle cx="161.3" cy="1742" r="4.5"/>
<circle cx="163" cy="1744.6" r="4.5"/>
<circle cx="164.8" cy="1747.2" r="4.5"/>
<circle cx="166.5" cy="1749.7" r="4.5"/>
<circle cx="168.2" cy="1752.3" r="4.5"/>
<circle cx="169.8" cy="1755" r="4.5"/>
<circle cx="171.5" cy="1757.6" r="4.5"/>
<circle cx="173.1" cy="1760.3" r="4.5"/>
<circle cx="174.7" cy="1762.9" r="4.5"/>
<circle cx="176.4" cy="1765.6" r="4.5"/>
<circle cx="178" cy="1768.2" r="4.5"/>
<circle cx="179.6" cy="1770.9" r="4.5"/>
<circle cx="181.2" cy="1773.5" r="4.5"/>
<circle cx="182.9" cy="1776.2" r="4.5"/>
<circle cx="184.5" cy="1778.8" r="4.5"/>
<circle cx="186" cy="1781.6" r="4.5"/>
<circle cx="187.5" cy="1784.3" r="4.5"/>
<circle cx="189" cy="1787" r="4.5"/>
</g>
<g fill="#fbe4d7">
<circle cx="151.7" cy="1726" r="4.5"/>
<circle cx="150.1" cy="1728.7" r="4.5"/>
<circle cx="148.5" cy="1731.3" r="4.5"/>
<circle cx="146.9" cy="1734" r="4.5"/>
<circle cx="145.4" cy="1736.7" r="4.5"/>
<circle cx="143.8" cy="1739.4" r="4.5"/>
<circle cx="142.1" cy="1742" r="4.5"/>
<circle cx="140.4" cy="1744.6" r="4.5"/>
<circle cx="138.6" cy="1747.2" r="4.5"/>
<circle cx="136.9" cy="1749.7" r="4.5"/>
<circle cx="135.2" cy="1752.3" r="4.5"/>
<circle cx="133.6" cy="1755" r="4.5"/>
<circle cx="131.9" cy="1757.6" r="4.5"/>
<circle cx="130.3" cy="1760.3" r="4.5"/>
<circle cx="128.7" cy="1762.9" r="4.5"/>
<circle cx="127" cy="1765.6" r="4.5"/>
<circle cx="125.4" cy="1768.2" r="4.5"/>
<circle cx="123.8" cy="1770.9" r="4.5"/>
<circle cx="122.2" cy="1773.5" r="4.5"/>
<circle cx="120.5" cy="1776.2" r="4.5"/>
<circle cx="118.9" cy="1778.8" r="4.5"/>
<circle cx="117.4" cy="1781.6" r="4.5"/>
<circle cx="115.9" cy="1784.3" r="4.5"/>
<circle cx="114.4" cy="1787" r="4.5"/>
</g>
<g fill="#fddbc7">
<circle cx="101" cy="1578.5" r="5.5"/>
<circle cx="104.3" cy="1577.5" r="5.5"/>
<circle cx="107.5" cy="1576.4" r="5.5"/>
<circle cx="110.8" cy="1575.4" r="5.5"/>
<circle cx="114" cy="1574.3" r="5.5"/>
<circle cx="117.4" cy="1573.8" r="5.5"/>
<circle cx="120.8" cy="1573.4" r="5.5"/>
<circle cx="124.2" cy="1573.1" r="5.5"/>
<circle cx="127.6" cy="1572.7" r="5.5"/>
<circle cx="131" cy="1572.5" r="5.5"/>
<circle cx="134.4" cy="1572.5" r="5.5"/>
<circle cx="137.8" cy="1572.5" r="5.5"/>
<circle cx="141.2" cy="1572.5" r="5.5"/>
<circle cx="144.7" cy="1572.5" r="5.5"/>
<circle cx="148.1" cy="1572.5" r="5.5"/>
<circle cx="151.5" cy="1572.5" r="5.5"/>
<circle cx="154.9" cy="1572.5" r="5.5"/>
<circle cx="158.3" cy="1572.5" r="5.5"/>
<circle cx="161.8" cy="1572.5" r="5.5"/>
<circle cx="165.2" cy="1572.5" r="5.5"/>
<circle cx="168.6" cy="1572.5" r="5.5"/>
<circle cx="172" cy="1572.5" r="5.5"/>
<circle cx="175.4" cy="1572.7" r="5.5"/>
<circle cx="178.8" cy="1573.1" r="5.5"/>
<circle cx="182.2" cy="1573.4" r="5.5"/>
<circle cx="185.6" cy="1573.8" r="5.5"/>
<circle cx="189" cy="1574.3" r="5.5"/>
<circle cx="192.2" cy="1575.4" r="5.5"/>
<circle cx="195.5" cy="1576.4" r="5.5"/>
<circle cx="198.7" cy="1577.5" r="5.5"/>
<circle cx="202" cy="1578.5" r="5.5"/>
</g>
<g fill="#f6ae8e">
<circle cx="100.6" cy="1582" r="6.5"/>
<circle cx="101.4" cy="1585.4" r="6.6"/>
<circle cx="102.1" cy="1588.8" r="6.7"/>
</g>
<g fill="#f4a582">
<circle cx="102.9" cy="1592.1" r="6.8"/>
<circle cx="103.7" cy="1595.5" r="7"/>
<circle cx="104.5" cy="1598.9" r="7.1"/>
<circle cx="105.3" cy="1602.3" r="7.2"/>
<circle cx="106.2" cy="1605.6" r="7.3"/>
<circle cx="107" cy="1609" r="7.4"/>
<circle cx="107.8" cy="1612.4" r="7.5"/>
<circle cx="108.7" cy="1615.7" r="7.5"/>
<circle cx="109.5" cy="1619.1" r="7.5"/>
<circle cx="110.4" cy="1622.5" r="7.5"/>
<circle cx="111.2" cy="1625.8" r="7.5"/>
<circle cx="112.1" cy="1629.2" r="7.5"/>
<circle cx="112.9" cy="1632.5" r="7.4"/>
<circle cx="113.8" cy="1635.9" r="7.3"/>
<circle cx="114.7" cy="1639.2" r="7.2"/>
<circle cx="115.6" cy="1642.6" r="7"/>
<circle cx="116.6" cy="1645.9" r="7"/>
<circle cx="117.7" cy="1649.2" r="7"/>
</g>
<g fill="#f6ae8e">
<circle cx="118.8" cy="1652.5" r="7"/>
<circle cx="119.9" cy="1655.8" r="7"/>
<circle cx="121.4" cy="1658.9" r="6.8"/>
<circle cx="123" cy="1662" r="6.5"/>
</g>
<g fill="#f6ae8e">
<circle cx="202.8" cy="1582" r="6.5"/>
<circle cx="202" cy="1585.4" r="6.6"/>
<circle cx="201.3" cy="1588.8" r="6.7"/>
</g>
<g fill="#f4a582">
<circle cx="200.5" cy="1592.1" r="6.8"/>
<circle cx="199.7" cy="1595.5" r="7"/>
<circle cx="198.9" cy="1598.9" r="7.1"/>
<circle cx="198.1" cy="1602.3" r="7.2"/>
<circle cx="197.2" cy="1605.6" r="7.3"/>
<circle cx="196.4" cy="1609" r="7.4"/>
<circle cx="195.6" cy="1612.4" r="7.5"/>
<circle cx="194.7" cy="1615.7" r="7.5"/>
<circle cx="193.9" cy="1619.1" r="7.5"/>
<circle cx="193" cy="1622.5" r="7.5"/>
<circle cx="192.2" cy="1625.8" r="7.5"/>
<circle cx="191.3" cy="1629.2" r="7.5"/>
<circle cx="190.5" cy="1632.5" r="7.4"/>
<circle cx="189.6" cy="1635.9" r="7.3"/>
<circle cx="188.7" cy="1639.2" r="7.2"/>
<circle cx="187.8" cy="1642.6" r="7"/>
<circle cx="186.8" cy="1645.9" r="7"/>
<circle cx="185.7" cy="1649.2" r="7"/>
</g>
<g fill="#f6ae8e">
<circle cx="184.6" cy="1652.5" r="7"/>
<circle cx="183.5" cy="1655.8" r="7"/>
<circle cx="182" cy="1658.9" r="6.8"/>
<circle cx="180.4" cy="1662" r="6.5"/>
</g>
<g fill="#d6604d">
<circle cx="106.1" cy="1597" r="7"/>
</g>
<g fill="#be3036">
<circle cx="112" cy="1607" r="8"/>
</g>
<g fill="#b2182b">
<circle cx="126" cy="1606" r="8.5"/>
</g>
<g fill="#991027">
<circle cx="120.9" cy="1587.8" r="9.3"/>
</g>
<g fill="#67001f">
<circle cx="119.1" cy="1611.9" r="10.2"/>
</g>
<g fill="#be3036">
<circle cx="127.4" cy="1626.7" r="8.3"/>
</g>
<g fill="#d05447">
<circle cx="129.3" cy="1646.1" r="7.8"/>
</g>
<g fill="#db6c56">
<circle cx="132" cy="1663.7" r="7.4"/>
</g>
<g fill="#e58268">
<circle cx="134.8" cy="1680.4" r="6.9"/>
</g>
<g fill="#ef9979">
<circle cx="137.6" cy="1695.2" r="6.5"/>
</g>
<g fill="#f6ae8e">
<circle cx="140.4" cy="1708.1" r="5.9"/>
</g>
<g fill="#f8c0a4">
<circle cx="144.1" cy="1719.3" r="5.2"/>
</g>
<g fill="#fcd2bc">
<circle cx="148" cy="1726" r="4.5"/>
</g>
<g fill="#d6604d">
<circle cx="197.3" cy="1597" r="7"/>
</g>
<g fill="#be3036">
<circle cx="191.4" cy="1607" r="8"/>
</g>
<g fill="#b2182b">
<circle cx="177.4" cy="1606" r="8.5"/>
</g>
<g fill="#991027">
<circle cx="182.5" cy="1587.8" r="9.3"/>
</g>
<g fill="#67001f">
<circle cx="184.3" cy="1611.9" r="10.2"/>
</g>
<g fill="#be3036">
<circle cx="176" cy="1626.7" r="8.3"/>
</g>
<g fill="#d05447">
<circle cx="174.1" cy="1646.1" r="7.8"/>
</g>
<g fill="#db6c56">
<circle cx="171.4" cy="1663.7" r="7.4"/>
</g>
<g fill="#e58268">
<circle cx="168.6" cy="1680.4" r="6.9"/>
</g>
<g fill="#ef9979">
<circle cx="165.8" cy="1695.2" r="6.5"/>
</g>
<g fill="#f6ae8e">
<circle cx="163" cy="1708.1" r="5.9"/>
</g>
<g fill="#f8c0a4">
<circle cx="159.3" cy="1719.3" r="5.2"/>
</g>
<g fill="#fcd2bc">
<circle cx="155.4" cy="1726" r="4.5"/>
</g>
<g fill="#f7b799">
<circle cx="203.4" cy="1580" r="6"/>
</g>
<g fill="#f6ae8e">
<circle cx="204.5" cy="1583.3" r="6.4"/>
</g>
<g fill="#f4a582">
<circle cx="205.7" cy="1586.5" r="6.8"/>
<circle cx="207" cy="1589.7" r="7.1"/>
<circle cx="208.6" cy="1592.8" r="7.1"/>
<circle cx="210.1" cy="1595.8" r="7.2"/>
</g>
<g fill="#ef9979">
<circle cx="211.7" cy="1598.9" r="7.3"/>
<circle cx="213.2" cy="1602" r="7.4"/>
<circle cx="214.8" cy="1605.1" r="7.5"/>
<circle cx="216.5" cy="1608.1" r="7.5"/>
<circle cx="218.3" cy="1611" r="7.5"/>
<circle cx="220.1" cy="1613.9" r="7.5"/>
<circle cx="222" cy="1616.9" r="7.5"/>
<circle cx="223.8" cy="1619.8" r="7.5"/>
<circle cx="225.4" cy="1622.9" r="7.5"/>
<circle cx="226.8" cy="1626" r="7.5"/>
<circle cx="228.2" cy="1629.2" r="7.5"/>
</g>
<g fill="#f4a582">
<circle cx="229.6" cy="1632.3" r="7.5"/>
<circle cx="231" cy="1635.5" r="7.5"/>
<circle cx="232.3" cy="1638.6" r="7.5"/>
<circle cx="233.6" cy="1641.8" r="7.4"/>
<circle cx="234.9" cy="1645.1" r="7.3"/>
</g>
<g fill="#f6ae8e">
<circle cx="236.2" cy="1648.3" r="7.2"/>
<circle cx="237.5" cy="1651.5" r="7.1"/>
<circle cx="238.7" cy="1654.7" r="7"/>
<circle cx="240" cy="1657.9" r="7"/>
</g>
<g fill="#f7b799">
<circle cx="241.3" cy="1661.1" r="6.9"/>
<circle cx="242.6" cy="1664.3" r="6.8"/>
<circle cx="243.9" cy="1667.5" r="6.7"/>
</g>
<g fill="#f8c0a4">
<circle cx="245.2" cy="1670.7" r="6.6"/>
<circle cx="246.5" cy="1673.9" r="6.5"/>
<circle cx="247.7" cy="1677.1" r="6.4"/>
</g>
<g fill="#fac9b0">
<circle cx="248.9" cy="1680.3" r="6.3"/>
<circle cx="250.1" cy="1683.5" r="6.2"/>
</g>
<g fill="#fcd2bc">
<circle cx="251.4" cy="1686.8" r="6.1"/>
<circle cx="252.6" cy="1690" r="5.9"/>
</g>
<g fill="#fddbc7">
<circle cx="254.3" cy="1693" r="5.5"/>
</g>
<g fill="#fce0cf">
<circle cx="256" cy="1696" r="5"/>
</g>
<g fill="#f8c0a4">
<circle cx="203.4" cy="1618" r="6"/>
<circle cx="205.8" cy="1620.5" r="6.2"/>
</g>
<g fill="#f7b799">
<circle cx="208.1" cy="1623" r="6.4"/>
<circle cx="210.5" cy="1625.4" r="6.5"/>
<circle cx="213.2" cy="1627.6" r="6.6"/>
<circle cx="215.8" cy="1629.8" r="6.8"/>
<circle cx="218.5" cy="1632" r="6.9"/>
<circle cx="221" cy="1634.2" r="7"/>
<circle cx="222.7" cy="1637.2" r="7"/>
<circle cx="224.4" cy="1640.2" r="7"/>
<circle cx="226.1" cy="1643.2" r="7"/>
<circle cx="227.8" cy="1646.2" r="7"/>
<circle cx="229.3" cy="1649.3" r="6.9"/>
<circle cx="230.7" cy="1652.4" r="6.8"/>
</g>
<g fill="#f8c0a4">
<circle cx="232.1" cy="1655.5" r="6.7"/>
<circle cx="233.5" cy="1658.7" r="6.7"/>
<circle cx="234.9" cy="1661.8" r="6.6"/>
<circle cx="236.3" cy="1664.9" r="6.5"/>
<circle cx="237.8" cy="1668" r="6.4"/>
<circle cx="239.4" cy="1671.1" r="6.3"/>
</g>
<g fill="#fac9b0">
<circle cx="240.9" cy="1674.1" r="6.1"/>
<circle cx="242.4" cy="1677.2" r="6"/>
<circle cx="244.2" cy="1680.1" r="5.9"/>
<circle cx="246.1" cy="1683" r="5.8"/>
</g>
<g fill="#fcd2bc">
<circle cx="248" cy="1685.8" r="5.7"/>
<circle cx="250" cy="1688.7" r="5.5"/>
<circle cx="252" cy="1691.5" r="5.4"/>
</g>
<g fill="#fddbc7">
<circle cx="254" cy="1694.2" r="5.2"/>
<circle cx="256" cy="1697" r="5"/>
</g>
<g fill="#fac9b0">
<circle cx="295" cy="1571" r="5.5"/>
<circle cx="291.3" cy="1584" r="5.5"/>
<circle cx="285.7" cy="1598.9" r="5.5"/>
<circle cx="280.2" cy="1615.6" r="5.5"/>
<circle cx="277.4" cy="1630.4" r="5.5"/>
<circle cx="273.7" cy="1643.3" r="5.5"/>
<circle cx="270.9" cy="1658.1" r="5.5"/>
<circle cx="267.2" cy="1673" r="5.5"/>
<circle cx="263.5" cy="1685.9" r="5.5"/>
</g>
<g fill="#fbe4d7">
<circle cx="258" cy="1586" r="3.5"/>
<circle cx="261" cy="1600" r="3.5"/>
<circle cx="263" cy="1614" r="3.5"/>
<circle cx="266" cy="1628" r="3.5"/>
</g>
<g fill="#fce0cf">
<circle cx="258" cy="1628" r="4"/>
<circle cx="262.4" cy="1629.1" r="4"/>
<circle cx="266.9" cy="1630.2" r="4.1"/>
</g>
<g fill="#fddbc7">
<circle cx="271.3" cy="1631.3" r="4.3"/>
</g>
<g fill="#fcd2bc">
<circle cx="275.7" cy="1632.6" r="4.6"/>
</g>
<g fill="#fac9b0">
<circle cx="280.1" cy="1634" r="5"/>
<circle cx="283.3" cy="1637.1" r="5.2"/>
</g>
<g fill="#f8c0a4">
<circle cx="286.5" cy="1640.4" r="5.3"/>
<circle cx="289.7" cy="1643.7" r="5.5"/>
<circle cx="292.3" cy="1647.4" r="5.7"/>
</g>
<g fill="#f7b799">
<circle cx="295" cy="1651.1" r="5.8"/>
<circle cx="297.7" cy="1654.8" r="5.9"/>
<circle cx="300" cy="1658.8" r="6"/>
<circle cx="302" cy="1662.9" r="6"/>
<circle cx="304.1" cy="1666.9" r="6"/>
<circle cx="306.1" cy="1671" r="6.2"/>
</g>
<g fill="#f6ae8e">
<circle cx="308.1" cy="1675.1" r="6.3"/>
<circle cx="310" cy="1679.3" r="6.5"/>
<circle cx="311.1" cy="1683.7" r="6.7"/>
<circle cx="312.2" cy="1688.2" r="6.8"/>
<circle cx="313.3" cy="1692.6" r="7"/>
<circle cx="314.4" cy="1697" r="7"/>
</g>
<g fill="#f4a582">
<circle cx="315.5" cy="1701.5" r="7"/>
<circle cx="316.7" cy="1705.9" r="7"/>
<circle cx="317.8" cy="1710.3" r="7"/>
<circle cx="319.1" cy="1714.7" r="7"/>
<circle cx="320.3" cy="1719.1" r="7"/>
<circle cx="321.8" cy="1723.4" r="6.8"/>
</g>
<g fill="#f6ae8e">
<circle cx="323.4" cy="1727.7" r="6.4"/>
</g>
<g fill="#f7b799">
<circle cx="325" cy="1732" r="6"/>
</g>
<g fill="#fbe4d7">
<circle cx="256" cy="1694" r="4"/>
<circle cx="259.1" cy="1694.2" r="4"/>
<circle cx="262.1" cy="1694.4" r="4"/>
<circle cx="265.2" cy="1694.7" r="4"/>
<circle cx="268.3" cy="1694.9" r="4"/>
<circle cx="271.3" cy="1695.2" r="4"/>
<circle cx="274.4" cy="1695.6" r="4"/>
<circle cx="277.4" cy="1696" r="4"/>
<circle cx="280.5" cy="1696.4" r="4"/>
<circle cx="283.5" cy="1696.8" r="4"/>
<circle cx="286.5" cy="1697.3" r="4"/>
<circle cx="289.5" cy="1697.9" r="4"/>
<circle cx="292.6" cy="1698.5" r="4"/>
<circle cx="295.6" cy="1699.1" r="4"/>
<circle cx="298.6" cy="1699.7" r="4"/>
<circle cx="301.6" cy="1700.4" r="4"/>
<circle cx="304.5" cy="1701.2" r="4"/>
<circle cx="307.5" cy="1702" r="4"/>
<circle cx="310.5" cy="1702.8" r="4"/>
<circle cx="313.5" cy="1703.6" r="4"/>
<circle cx="316.4" cy="1704.4" r="4"/>
<circle cx="319.4" cy="1705.2" r="4"/>
<circle cx="322.4" cy="1706" r="4"/>
<circle cx="325.3" cy="1706.8" r="4"/>
<circle cx="328.3" cy="1707.5" r="4"/>
<circle cx="331.3" cy="1708.4" r="4"/>
<circle cx="334.2" cy="1709.3" r="4"/>
<circle cx="337.1" cy="1710.2" r="4"/>
<circle cx="340.1" cy="1711.1" r="4"/>
<circle cx="343" cy="1712" r="4"/>
</g>
<g fill="#fbe4d7">
<circle cx="296" cy="1580" r="3.5"/>
<circle cx="298.9" cy="1582.9" r="3.5"/>
<circle cx="301.7" cy="1585.7" r="3.5"/>
<circle cx="304.6" cy="1588.6" r="3.5"/>
<circle cx="307.4" cy="1591.4" r="3.5"/>
<circle cx="310.3" cy="1594.3" r="3.5"/>
<circle cx="313.1" cy="1597.1" r="3.5"/>
<circle cx="316" cy="1600" r="3.5"/>
<circle cx="318.6" cy="1603.1" r="3.5"/>
<circle cx="321.2" cy="1606.2" r="3.5"/>
<circle cx="323.8" cy="1609.3" r="3.5"/>
<circle cx="326.4" cy="1612.4" r="3.5"/>
<circle cx="329.2" cy="1615.2" r="3.5"/>
<circle cx="332.1" cy="1618.1" r="3.5"/>
<circle cx="334.9" cy="1620.9" r="3.5"/>
<circle cx="337.7" cy="1623.9" r="3.5"/>
<circle cx="340.3" cy="1627" r="3.5"/>
<circle cx="343" cy="1630" r="3.5"/>
</g>
<g fill="#fae9df">
<circle cx="215" cy="1787" r="3.5"/>
<circle cx="217.7" cy="1784" r="3.5"/>
<circle cx="220.3" cy="1781" r="3.5"/>
<circle cx="223" cy="1777.9" r="3.5"/>
<circle cx="225.7" cy="1774.9" r="3.5"/>
<circle cx="228.3" cy="1771.9" r="3.5"/>
<circle cx="231.3" cy="1769.2" r="3.5"/>
<circle cx="234.6" cy="1766.9" r="3.5"/>
<circle cx="238" cy="1764.7" r="3.5"/>
<circle cx="241.3" cy="1762.4" r="3.5"/>
<circle cx="244.7" cy="1760.2" r="3.5"/>
<circle cx="248.4" cy="1758.7" r="3.5"/>
<circle cx="252.2" cy="1757.4" r="3.5"/>
<circle cx="256" cy="1756" r="3.5"/>
<circle cx="259.9" cy="1754.9" r="3.5"/>
<circle cx="263.8" cy="1753.8" r="3.5"/>
<circle cx="267.7" cy="1752.7" r="3.5"/>
<circle cx="271.6" cy="1752" r="3.5"/>
<circle cx="275.6" cy="1752" r="3.5"/>
<circle cx="279.7" cy="1752" r="3.5"/>
<circle cx="283.7" cy="1752" r="3.5"/>
<circle cx="287.7" cy="1752" r="3.5"/>
<circle cx="291.6" cy="1752.7" r="3.5"/>
<circle cx="295.4" cy="1754.2" r="3.5"/>
<circle cx="299.1" cy="1755.6" r="3.5"/>
<circle cx="302.9" cy="1757.1" r="3.5"/>
<circle cx="306.6" cy="1758.6" r="3.5"/>
<circle cx="310.3" cy="1760.2" r="3.5"/>
<circle cx="313.9" cy="1762" r="3.5"/>
<circle cx="317.6" cy="1763.8" r="3.5"/>
<circle cx="321.2" cy="1765.6" r="3.5"/>
<circle cx="324.8" cy="1767.4" r="3.5"/>
<circle cx="328.4" cy="1769.2" r="3.5"/>
<circle cx="332" cy="1770.9" r="3.5"/>
<circle cx="335.7" cy="1772.6" r="3.5"/>
<circle cx="339.3" cy="1774.3" r="3.5"/>
<circle cx="343" cy="1776" r="3.5"/>
</g>
<g fill="#3884bb">
<circle cx="120.9" cy="1467.6" r="9"/>
</g>
<g fill="#327cb8">
<circle cx="121.6" cy="1470.8" r="9.1"/>
</g>
<g fill="#2c75b4">
<circle cx="122.2" cy="1474" r="9.1"/>
</g>
<g fill="#276eb0">
<circle cx="122.9" cy="1477.2" r="9.2"/>
</g>
<g fill="#2166ac">
<circle cx="123.6" cy="1480.4" r="9.2"/>
</g>
<g fill="#276eb0">
<circle cx="124.5" cy="1483.5" r="9.2"/>
<circle cx="125.4" cy="1486.6" r="9.2"/>
</g>
<g fill="#2c75b4">
<circle cx="126.3" cy="1489.7" r="9.2"/>
<circle cx="127.3" cy="1492.9" r="9.2"/>
</g>
<g fill="#327cb8">
<circle cx="128.3" cy="1495.9" r="9.1"/>
</g>
<g fill="#3884bb">
<circle cx="129.3" cy="1499" r="9"/>
</g>
<g fill="#3d8cbf">
<circle cx="130.4" cy="1502.1" r="8.9"/>
</g>
<g fill="#4393c3">
<circle cx="131.5" cy="1505.2" r="8.8"/>
</g>
<g fill="#509bc8">
<circle cx="132.7" cy="1508.2" r="8.7"/>
</g>
<g fill="#5da4cc">
<circle cx="134" cy="1511.2" r="8.6"/>
</g>
<g fill="#6aacd0">
<circle cx="135.3" cy="1514.2" r="8.5"/>
</g>
<g fill="#78b4d5">
<circle cx="136.5" cy="1517.2" r="8.4"/>
</g>
<g fill="#85bdda">
<circle cx="137.9" cy="1520.2" r="8.3"/>
</g>
<g fill="#92c5de">
<circle cx="139.2" cy="1523.1" r="8.2"/>
</g>
<g fill="#9ccae1">
<circle cx="140.6" cy="1526.1" r="8"/>
<circle cx="142.1" cy="1529" r="7.9"/>
</g>
<g fill="#a7d0e4">
<circle cx="143.7" cy="1531.8" r="7.7"/>
</g>
<g fill="#b2d5e7">
<circle cx="145.3" cy="1534.7" r="7.6"/>
<circle cx="147.2" cy="1537.3" r="7.4"/>
</g>
<g fill="#bcdaea">
<circle cx="149.5" cy="1539.6" r="7.2"/>
<circle cx="151.7" cy="1542" r="7"/>
</g>
<g fill="#3884bb">
<circle cx="182.5" cy="1467.6" r="9"/>
</g>
<g fill="#327cb8">
<circle cx="181.8" cy="1470.8" r="9.1"/>
</g>
<g fill="#2c75b4">
<circle cx="181.2" cy="1474" r="9.1"/>
</g>
<g fill="#276eb0">
<circle cx="180.5" cy="1477.2" r="9.2"/>
</g>
<g fill="#2166ac">
<circle cx="179.8" cy="1480.4" r="9.2"/>
</g>
<g fill="#276eb0">
<circle cx="178.9" cy="1483.5" r="9.2"/>
<circle cx="178" cy="1486.6" r="9.2"/>
</g>
<g fill="#2c75b4">
<circle cx="177.1" cy="1489.7" r="9.2"/>
<circle cx="176.1" cy="1492.9" r="9.2"/>
</g>
<g fill="#327cb8">
<circle cx="175.1" cy="1495.9" r="9.1"/>
</g>
<g fill="#3884bb">
<circle cx="174.1" cy="1499" r="9"/>
</g>
<g fill="#3d8cbf">
<circle cx="173" cy="1502.1" r="8.9"/>
</g>
<g fill="#4393c3">
<circle cx="171.9" cy="1505.2" r="8.8"/>
</g>
<g fill="#509bc8">
<circle cx="170.7" cy="1508.2" r="8.7"/>
</g>
<g fill="#5da4cc">
<circle cx="169.4" cy="1511.2" r="8.6"/>
</g>
<g fill="#6aacd0">
<circle cx="168.1" cy="1514.2" r="8.5"/>
</g>
<g fill="#78b4d5">
<circle cx="166.9" cy="1517.2" r="8.4"/>
</g>
<g fill="#85bdda">
<circle cx="165.5" cy="1520.2" r="8.3"/>
</g>
<g fill="#92c5de">
<circle cx="164.2" cy="1523.1" r="8.2"/>
</g>
<g fill="#9ccae1">
<circle cx="162.8" cy="1526.1" r="8"/>
<circle cx="161.3" cy="1529" r="7.9"/>
</g>
<g fill="#a7d0e4">
<circle cx="159.7" cy="1531.8" r="7.7"/>
</g>
<g fill="#b2d5e7">
<circle cx="158.1" cy="1534.7" r="7.6"/>
<circle cx="156.2" cy="1537.3" r="7.4"/>
</g>
<g fill="#bcdaea">
<circle cx="153.9" cy="1539.6" r="7.2"/>
<circle cx="151.7" cy="1542" r="7"/>
</g>
<g fill="#2c75b4">
<circle cx="120.9" cy="1467.6" r="8.5"/>
</g>
<g fill="#185493">
<circle cx="120.9" cy="1489.8" r="9"/>
</g>
<g fill="#2c75b4">
<circle cx="182.5" cy="1467.6" r="8.5"/>
</g>
<g fill="#185493">
<circle cx="182.5" cy="1489.8" r="9"/>
</g>
<g fill="#9ccae1">
<circle cx="105.2" cy="1458.3" r="5.9"/>
</g>
<g fill="#85bdda">
<circle cx="107" cy="1478.7" r="7"/>
</g>
<g fill="#509bc8">
<circle cx="108.9" cy="1500" r="7.8"/>
</g>
<g fill="#327cb8">
<circle cx="112.6" cy="1521.3" r="8.3"/>
</g>
<g fill="#185493">
<circle cx="115.4" cy="1541.7" r="9.3"/>
</g>
<g fill="#053061">
<circle cx="118.1" cy="1562" r="10.2"/>
</g>
<g fill="#9ccae1">
<circle cx="198.2" cy="1458.3" r="5.9"/>
</g>
<g fill="#85bdda">
<circle cx="196.4" cy="1478.7" r="7"/>
</g>
<g fill="#509bc8">
<circle cx="194.5" cy="1500" r="7.8"/>
</g>
<g fill="#327cb8">
<circle cx="190.8" cy="1521.3" r="8.3"/>
</g>
<g fill="#185493">
<circle cx="188" cy="1541.7" r="9.3"/>
</g>
<g fill="#053061">
<circle cx="185.3" cy="1562" r="10.2"/>
</g>
</g>
<g clip-path="url(#eclip1)">
<g fill="#d7e8f1">
<circle cx="437" cy="1340" r="3.2"/>
<circle cx="437" cy="1356" r="3.2"/>
<circle cx="437" cy="1372" r="3.2"/>
<circle cx="437" cy="1388" r="3.2"/>
<circle cx="438" cy="1404" r="3.2"/>
<circle cx="438" cy="1420" r="3.2"/>
<circle cx="439" cy="1436" r="3.2"/>
<circle cx="439" cy="1452" r="3.2"/>
<circle cx="439" cy="1470" r="3.2"/>
<circle cx="439" cy="1486" r="3.2"/>
<circle cx="439" cy="1502" r="3.2"/>
<circle cx="439" cy="1518" r="3.2"/>
<circle cx="439" cy="1534" r="3.2"/>
<circle cx="439" cy="1550" r="3.2"/>
</g>
<g fill="#d7e8f1">
<circle cx="445" cy="1340" r="3.2"/>
<circle cx="445" cy="1356" r="3.2"/>
<circle cx="445" cy="1372" r="3.2"/>
<circle cx="445" cy="1388" r="3.2"/>
<circle cx="446" cy="1404" r="3.2"/>
<circle cx="446" cy="1420" r="3.2"/>
<circle cx="447" cy="1436" r="3.2"/>
<circle cx="447" cy="1452" r="3.2"/>
<circle cx="447" cy="1470" r="3.2"/>
<circle cx="447" cy="1486" r="3.2"/>
<circle cx="447" cy="1502" r="3.2"/>
<circle cx="447" cy="1518" r="3.2"/>
<circle cx="447" cy="1534" r="3.2"/>
<circle cx="447" cy="1550" r="3.2"/>
</g>
<g fill="#d7e8f1">
<circle cx="515" cy="1340" r="3.2"/>
<circle cx="515" cy="1356" r="3.2"/>
<circle cx="515" cy="1372" r="3.2"/>
<circle cx="515" cy="1388" r="3.2"/>
<circle cx="516" cy="1404" r="3.2"/>
<circle cx="516" cy="1420" r="3.2"/>
<circle cx="517" cy="1436" r="3.2"/>
<circle cx="517" cy="1452" r="3.2"/>
<circle cx="517" cy="1470" r="3.2"/>
<circle cx="517" cy="1486" r="3.2"/>
<circle cx="517" cy="1502" r="3.2"/>
<circle cx="517" cy="1518" r="3.2"/>
<circle cx="517" cy="1534" r="3.2"/>
<circle cx="517" cy="1550" r="3.2"/>
</g>
<g fill="#d7e8f1">
<circle cx="523" cy="1340" r="3.2"/>
<circle cx="523" cy="1356" r="3.2"/>
<circle cx="523" cy="1372" r="3.2"/>
<circle cx="523" cy="1388" r="3.2"/>
<circle cx="524" cy="1404" r="3.2"/>
<circle cx="524" cy="1420" r="3.2"/>
<circle cx="525" cy="1436" r="3.2"/>
<circle cx="525" cy="1452" r="3.2"/>
<circle cx="525" cy="1470" r="3.2"/>
<circle cx="525" cy="1486" r="3.2"/>
<circle cx="525" cy="1502" r="3.2"/>
<circle cx="525" cy="1518" r="3.2"/>
<circle cx="525" cy="1534" r="3.2"/>
<circle cx="525" cy="1550" r="3.2"/>
</g>
<g fill="#d1e5f0">
<circle cx="445" cy="1420" r="3.2"/>
<circle cx="452" cy="1436" r="3.2"/>
<circle cx="458" cy="1452" r="3.2"/>
<circle cx="464" cy="1468" r="3.2"/>
<circle cx="470" cy="1484" r="3.2"/>
<circle cx="476" cy="1500" r="3.2"/>
<circle cx="480" cy="1510" r="3.2"/>
<circle cx="486" cy="1500" r="3.2"/>
<circle cx="492" cy="1484" r="3.2"/>
<circle cx="498" cy="1468" r="3.2"/>
<circle cx="504" cy="1452" r="3.2"/>
<circle cx="510" cy="1436" r="3.2"/>
<circle cx="516" cy="1420" r="3.2"/>
</g>
<g fill="#9ccae1">
<circle cx="532.4" cy="1408.3" r="7"/>
<circle cx="533.3" cy="1405" r="7.1"/>
<circle cx="534.2" cy="1401.7" r="7.2"/>
<circle cx="535" cy="1398.4" r="7.4"/>
<circle cx="535.9" cy="1395.1" r="7.5"/>
</g>
<g fill="#92c5de">
<circle cx="536.8" cy="1391.8" r="7.6"/>
<circle cx="537.7" cy="1388.6" r="7.7"/>
<circle cx="538.6" cy="1385.3" r="7.8"/>
<circle cx="539.4" cy="1382" r="8"/>
<circle cx="540.6" cy="1378.8" r="8"/>
<circle cx="541.9" cy="1375.6" r="8"/>
</g>
<g fill="#9ccae1">
<circle cx="543.2" cy="1372.5" r="8"/>
<circle cx="544.5" cy="1369.3" r="8"/>
<circle cx="545.9" cy="1366.2" r="8"/>
<circle cx="547.5" cy="1363.2" r="8"/>
<circle cx="549" cy="1360.2" r="8"/>
<circle cx="550.6" cy="1357.1" r="8"/>
<circle cx="552" cy="1354" r="7.9"/>
<circle cx="553.4" cy="1350.9" r="7.8"/>
</g>
<g fill="#a7d0e4">
<circle cx="554.8" cy="1347.8" r="7.6"/>
<circle cx="556.1" cy="1344.7" r="7.5"/>
<circle cx="557.6" cy="1341.6" r="7.4"/>
<circle cx="559.1" cy="1338.6" r="7.2"/>
<circle cx="560.5" cy="1335.5" r="7.1"/>
<circle cx="562" cy="1332.4" r="7"/>
</g>
<g fill="#bcdaea">
<circle cx="534.3" cy="1413.9" r="5"/>
<circle cx="536.7" cy="1416.3" r="5.3"/>
</g>
<g fill="#b2d5e7">
<circle cx="539.2" cy="1418.8" r="5.7"/>
<circle cx="541.6" cy="1421.2" r="6"/>
</g>
<g fill="#a7d0e4">
<circle cx="544.1" cy="1423.7" r="6.3"/>
<circle cx="546.7" cy="1425.9" r="6.6"/>
<circle cx="549.5" cy="1427.9" r="6.8"/>
<circle cx="552.3" cy="1430" r="7"/>
<circle cx="555.1" cy="1432" r="7.2"/>
<circle cx="557.9" cy="1434" r="7.5"/>
<circle cx="560.9" cy="1435.6" r="7.5"/>
<circle cx="564" cy="1437.2" r="7.5"/>
<circle cx="567.1" cy="1438.7" r="7.5"/>
<circle cx="570.2" cy="1440.2" r="7.5"/>
<circle cx="573.3" cy="1441.7" r="7.5"/>
<circle cx="576.7" cy="1442.3" r="7.2"/>
</g>
<g fill="#b2d5e7">
<circle cx="580.1" cy="1442.9" r="6.8"/>
<circle cx="583.5" cy="1443.5" r="6.5"/>
</g>
<g fill="#bcdaea">
<circle cx="588" cy="1443.5" r="5.5"/>
<circle cx="595" cy="1455" r="5.5"/>
<circle cx="601" cy="1467" r="5.5"/>
<circle cx="606" cy="1480" r="5.5"/>
<circle cx="610" cy="1492" r="5.5"/>
<circle cx="612" cy="1505" r="5.5"/>
<circle cx="616" cy="1516" r="5.5"/>
</g>
<g fill="#d1e5f0">
<circle cx="586" cy="1438" r="4.5"/>
<circle cx="592" cy="1425" r="4.5"/>
<circle cx="598" cy="1413" r="4.5"/>
<circle cx="604" cy="1400" r="4.5"/>
<circle cx="600" cy="1385" r="4.5"/>
<circle cx="598" cy="1370" r="4.5"/>
<circle cx="600" cy="1355" r="4.5"/>
<circle cx="602" cy="1340" r="4.5"/>
</g>
<g fill="#c6e0ed">
<circle cx="603" cy="1505" r="5"/>
<circle cx="600" cy="1520" r="5"/>
<circle cx="612" cy="1535" r="5"/>
<circle cx="616" cy="1550" r="5"/>
<circle cx="620" cy="1560" r="5"/>
<circle cx="630" cy="1552" r="5"/>
<circle cx="640" cy="1540" r="5"/>
</g>
<g fill="#5da4cc">
<circle cx="625" cy="1391.7" r="8"/>
<circle cx="626.5" cy="1388.8" r="8"/>
<circle cx="628" cy="1385.9" r="8"/>
<circle cx="629.5" cy="1383.1" r="8"/>
<circle cx="631.4" cy="1380.5" r="8"/>
<circle cx="633.5" cy="1378" r="8"/>
<circle cx="635.6" cy="1375.6" r="8"/>
<circle cx="638" cy="1373.4" r="8"/>
<circle cx="640.7" cy="1371.7" r="8"/>
<circle cx="643.5" cy="1370" r="8"/>
<circle cx="646.4" cy="1368.7" r="7.9"/>
</g>
<g fill="#6aacd0">
<circle cx="649.6" cy="1368.2" r="7.7"/>
<circle cx="652.8" cy="1367.6" r="7.5"/>
</g>
<g fill="#6aacd0">
<circle cx="625" cy="1404.6" r="7"/>
<circle cx="621.3" cy="1421.3" r="7"/>
<circle cx="617.6" cy="1441.7" r="7"/>
<circle cx="613.9" cy="1467.6" r="7"/>
</g>
<g fill="#d1e5f0">
<circle cx="660" cy="1366" r="5"/>
<circle cx="667" cy="1366" r="5"/>
</g>
<g fill="#4393c3">
<circle cx="536.1" cy="1439.8" r="8"/>
</g>
<g fill="#509bc8">
<circle cx="539.8" cy="1454.6" r="7.5"/>
</g>
<g fill="#5da4cc">
<circle cx="543.5" cy="1467.6" r="7.5"/>
</g>
<g fill="#6aacd0">
<circle cx="545.4" cy="1480.6" r="7.2"/>
<circle cx="547.2" cy="1493.5" r="7"/>
</g>
<g fill="#78b4d5">
<circle cx="549.1" cy="1506.5" r="7"/>
</g>
<g fill="#85bdda">
<circle cx="552.8" cy="1521.3" r="7"/>
</g>
<g fill="#92c5de">
<circle cx="554.6" cy="1536.1" r="6.8"/>
<circle cx="556.5" cy="1549.1" r="6.8"/>
</g>
<g fill="#9ccae1">
<circle cx="559.3" cy="1563" r="6.5"/>
</g>
<g fill="#1c5da0">
<circle cx="634.3" cy="1495.4" r="9"/>
</g>
<g fill="#276eb0">
<circle cx="638" cy="1512" r="8.8"/>
</g>
<g fill="#327cb8">
<circle cx="641.7" cy="1525" r="8.5"/>
</g>
<g fill="#3d8cbf">
<circle cx="646" cy="1536" r="8.5"/>
</g>
<g fill="#4393c3">
<circle cx="648" cy="1540" r="8.5"/>
<circle cx="649.8" cy="1542.7" r="8.5"/>
<circle cx="651.7" cy="1545.5" r="8.5"/>
<circle cx="654.6" cy="1546.8" r="8.3"/>
</g>
<g fill="#509bc8">
<circle cx="657.7" cy="1547.8" r="8"/>
</g>
<g fill="#5da4cc">
<circle cx="660.5" cy="1546.5" r="7.8"/>
</g>
<g fill="#6aacd0">
<circle cx="663.2" cy="1544.6" r="7.6"/>
</g>
<g fill="#78b4d5">
<circle cx="665" cy="1541.9" r="7.4"/>
<circle cx="666.5" cy="1539" r="7.2"/>
</g>
<g fill="#85bdda">
<circle cx="668" cy="1536" r="7"/>
</g>
<g fill="#327cb8">
<circle cx="428.5" cy="1428" r="8.5"/>
<circle cx="429.6" cy="1425" r="8.6"/>
<circle cx="430.8" cy="1422" r="8.7"/>
<circle cx="431.9" cy="1419" r="8.7"/>
<circle cx="433" cy="1416" r="8.8"/>
<circle cx="434.1" cy="1413" r="8.9"/>
<circle cx="435.3" cy="1409.9" r="9"/>
<circle cx="436.5" cy="1407" r="9"/>
<circle cx="437.8" cy="1404" r="9"/>
<circle cx="439.1" cy="1401.1" r="9"/>
</g>
<g fill="#3884bb">
<circle cx="440.4" cy="1398.1" r="9"/>
<circle cx="441.7" cy="1395.2" r="9"/>
<circle cx="442.9" cy="1392.3" r="9"/>
<circle cx="444.5" cy="1389.5" r="9"/>
<circle cx="446.3" cy="1386.8" r="9"/>
</g>
<g fill="#3d8cbf">
<circle cx="448" cy="1384.1" r="9"/>
<circle cx="449.8" cy="1381.4" r="9"/>
<circle cx="452.2" cy="1379.3" r="9"/>
</g>
<g fill="#4393c3">
<circle cx="454.7" cy="1377.3" r="9"/>
<circle cx="457.2" cy="1375.3" r="9"/>
<circle cx="460" cy="1373.8" r="9"/>
<circle cx="463" cy="1372.6" r="9"/>
</g>
<g fill="#509bc8">
<circle cx="466" cy="1371.3" r="9"/>
<circle cx="469" cy="1370.4" r="9"/>
<circle cx="472.2" cy="1370.2" r="9"/>
<circle cx="475.4" cy="1370.1" r="9"/>
<circle cx="478.7" cy="1369.9" r="9"/>
<circle cx="481.9" cy="1369.9" r="9"/>
<circle cx="485.1" cy="1370.2" r="9"/>
<circle cx="488.3" cy="1370.4" r="9"/>
<circle cx="491.4" cy="1371.1" r="9"/>
<circle cx="494.3" cy="1372.4" r="9"/>
</g>
<g fill="#4393c3">
<circle cx="497.2" cy="1373.7" r="9"/>
<circle cx="500" cy="1375.3" r="9"/>
<circle cx="502.5" cy="1377.3" r="9"/>
</g>
<g fill="#3d8cbf">
<circle cx="505" cy="1379.4" r="9"/>
<circle cx="507.4" cy="1381.5" r="9"/>
<circle cx="509.4" cy="1383.9" r="9"/>
</g>
<g fill="#3884bb">
<circle cx="511.5" cy="1386.4" r="9"/>
<circle cx="513.6" cy="1388.9" r="9"/>
<circle cx="515.4" cy="1391.5" r="9"/>
<circle cx="517.2" cy="1394.2" r="9"/>
</g>
<g fill="#327cb8">
<circle cx="518.9" cy="1396.9" r="9"/>
<circle cx="520.7" cy="1399.6" r="9"/>
<circle cx="522.3" cy="1402.4" r="9"/>
<circle cx="523.9" cy="1405.2" r="9"/>
<circle cx="525.5" cy="1408" r="9"/>
<circle cx="527" cy="1410.8" r="9"/>
<circle cx="528" cy="1413.8" r="8.9"/>
<circle cx="529" cy="1416.9" r="8.7"/>
<circle cx="530" cy="1419.9" r="8.6"/>
<circle cx="531" cy="1423" r="8.5"/>
</g>
<g fill="#b2d5e7">
<circle cx="436" cy="1432" r="5"/>
<circle cx="437.4" cy="1435.1" r="5"/>
<circle cx="438.8" cy="1438.2" r="5"/>
<circle cx="440.2" cy="1441.3" r="5"/>
<circle cx="441.6" cy="1444.4" r="5"/>
<circle cx="443" cy="1447.6" r="5"/>
<circle cx="444.4" cy="1450.7" r="5"/>
<circle cx="445.8" cy="1453.8" r="5"/>
<circle cx="447.1" cy="1456.9" r="5"/>
<circle cx="448.5" cy="1460.1" r="5"/>
<circle cx="449.9" cy="1463.2" r="5"/>
<circle cx="451.2" cy="1466.3" r="5"/>
<circle cx="452.6" cy="1469.4" r="5"/>
<circle cx="453.9" cy="1472.6" r="5"/>
<circle cx="455.3" cy="1475.7" r="5"/>
<circle cx="456.6" cy="1478.9" r="5"/>
<circle cx="457.8" cy="1482" r="5"/>
<circle cx="459.1" cy="1485.2" r="5"/>
<circle cx="460.4" cy="1488.4" r="5"/>
<circle cx="461.6" cy="1491.6" r="5"/>
<circle cx="462.9" cy="1494.7" r="5"/>
<circle cx="464.2" cy="1497.9" r="5"/>
<circle cx="465.4" cy="1501.1" r="5"/>
<circle cx="466.7" cy="1504.2" r="5"/>
<circle cx="468" cy="1507.4" r="5"/>
<circle cx="469.2" cy="1510.6" r="5"/>
<circle cx="470.5" cy="1513.7" r="5"/>
<circle cx="471.8" cy="1516.9" r="5"/>
<circle cx="473" cy="1520.1" r="5"/>
<circle cx="475" cy="1522.9" r="5"/>
<circle cx="476.9" cy="1525.7" r="5"/>
<circle cx="478.8" cy="1528.5" r="5"/>
<circle cx="480.8" cy="1528.7" r="5"/>
<circle cx="482.7" cy="1525.9" r="5"/>
<circle cx="484.7" cy="1523.1" r="5"/>
<circle cx="486.7" cy="1520.4" r="5"/>
<circle cx="488.1" cy="1517.3" r="5"/>
<circle cx="489.4" cy="1514.1" r="5"/>
<circle cx="490.6" cy="1510.9" r="5"/>
<circle cx="491.9" cy="1507.7" r="5"/>
<circle cx="493.2" cy="1504.6" r="5"/>
<circle cx="494.4" cy="1501.4" r="5"/>
<circle cx="495.7" cy="1498.2" r="5"/>
<circle cx="497" cy="1495.1" r="5"/>
<circle cx="498.2" cy="1491.9" r="5"/>
<circle cx="499.5" cy="1488.7" r="5"/>
<circle cx="500.8" cy="1485.6" r="5"/>
<circle cx="502" cy="1482.4" r="5"/>
<circle cx="503.3" cy="1479.2" r="5"/>
<circle cx="504.6" cy="1476.1" r="5"/>
<circle cx="505.8" cy="1472.9" r="5"/>
<circle cx="507.1" cy="1469.7" r="5"/>
<circle cx="508.3" cy="1466.5" r="5"/>
<circle cx="509.6" cy="1463.4" r="5"/>
<circle cx="510.8" cy="1460.2" r="5"/>
<circle cx="512" cy="1457" r="5"/>
<circle cx="513.3" cy="1453.8" r="5"/>
<circle cx="514.6" cy="1450.7" r="5"/>
<circle cx="516" cy="1447.6" r="5"/>
<circle cx="517.4" cy="1444.4" r="5"/>
<circle cx="518.8" cy="1441.3" r="5"/>
<circle cx="520.2" cy="1438.2" r="5"/>
<circle cx="521.6" cy="1435.1" r="5"/>
<circle cx="523" cy="1432" r="5"/>
</g>
<g fill="#2c75b4">
<circle cx="429" cy="1428" r="8.5"/>
<circle cx="430.1" cy="1431" r="8.6"/>
<circle cx="431.1" cy="1434.1" r="8.7"/>
<circle cx="432.2" cy="1437.1" r="8.7"/>
</g>
<g fill="#276eb0">
<circle cx="433.2" cy="1440.1" r="8.8"/>
<circle cx="434.3" cy="1443.2" r="8.9"/>
<circle cx="435.4" cy="1446.2" r="9"/>
<circle cx="436.4" cy="1449.2" r="9"/>
<circle cx="437.5" cy="1452.3" r="9"/>
<circle cx="438.6" cy="1455.3" r="9.1"/>
<circle cx="439.6" cy="1458.3" r="9.1"/>
<circle cx="440.7" cy="1461.4" r="9.1"/>
<circle cx="441.8" cy="1464.4" r="9.2"/>
<circle cx="442.8" cy="1467.4" r="9.2"/>
<circle cx="443.9" cy="1470.5" r="9.2"/>
<circle cx="445.1" cy="1473.5" r="9.2"/>
<circle cx="446.3" cy="1476.4" r="9.2"/>
<circle cx="447.4" cy="1479.4" r="9.2"/>
<circle cx="448.6" cy="1482.4" r="9.2"/>
<circle cx="449.8" cy="1485.4" r="9.2"/>
<circle cx="451.2" cy="1488.3" r="9.2"/>
<circle cx="452.6" cy="1491.2" r="9.2"/>
<circle cx="454" cy="1494.1" r="9.2"/>
</g>
<g fill="#2c75b4">
<circle cx="455.4" cy="1497" r="9.2"/>
<circle cx="456.8" cy="1499.9" r="9.2"/>
<circle cx="458.3" cy="1502.7" r="9.2"/>
<circle cx="459.5" cy="1505.7" r="9.2"/>
<circle cx="460.8" cy="1508.6" r="9.2"/>
</g>
<g fill="#327cb8">
<circle cx="462.1" cy="1511.6" r="9.2"/>
<circle cx="463.4" cy="1514.5" r="9.2"/>
<circle cx="464.6" cy="1517.5" r="9.2"/>
<circle cx="465.9" cy="1520.5" r="9.1"/>
</g>
<g fill="#3884bb">
<circle cx="467.2" cy="1523.4" r="9.1"/>
<circle cx="468.4" cy="1526.4" r="9"/>
<circle cx="469.8" cy="1529.3" r="9"/>
<circle cx="471.5" cy="1532" r="9"/>
</g>
<g fill="#3d8cbf">
<circle cx="473.2" cy="1534.7" r="9"/>
<circle cx="475.2" cy="1537.2" r="8.9"/>
</g>
<g fill="#4393c3">
<circle cx="477.5" cy="1539.4" r="8.7"/>
<circle cx="479.8" cy="1541.7" r="8.5"/>
</g>
<g fill="#2c75b4">
<circle cx="531.4" cy="1428" r="8.5"/>
<circle cx="530.3" cy="1431" r="8.6"/>
<circle cx="529.3" cy="1434.1" r="8.7"/>
<circle cx="528.2" cy="1437.1" r="8.7"/>
</g>
<g fill="#276eb0">
<circle cx="527.2" cy="1440.1" r="8.8"/>
<circle cx="526.1" cy="1443.2" r="8.9"/>
<circle cx="525" cy="1446.2" r="9"/>
<circle cx="524" cy="1449.2" r="9"/>
<circle cx="522.9" cy="1452.3" r="9"/>
<circle cx="521.8" cy="1455.3" r="9.1"/>
<circle cx="520.8" cy="1458.3" r="9.1"/>
<circle cx="519.7" cy="1461.4" r="9.1"/>
<circle cx="518.6" cy="1464.4" r="9.2"/>
<circle cx="517.6" cy="1467.4" r="9.2"/>
<circle cx="516.5" cy="1470.5" r="9.2"/>
<circle cx="515.3" cy="1473.5" r="9.2"/>
<circle cx="514.1" cy="1476.4" r="9.2"/>
<circle cx="513" cy="1479.4" r="9.2"/>
<circle cx="511.8" cy="1482.4" r="9.2"/>
<circle cx="510.6" cy="1485.4" r="9.2"/>
<circle cx="509.2" cy="1488.3" r="9.2"/>
<circle cx="507.8" cy="1491.2" r="9.2"/>
<circle cx="506.4" cy="1494.1" r="9.2"/>
</g>
<g fill="#2c75b4">
<circle cx="505" cy="1497" r="9.2"/>
<circle cx="503.6" cy="1499.9" r="9.2"/>
<circle cx="502.1" cy="1502.7" r="9.2"/>
<circle cx="500.9" cy="1505.7" r="9.2"/>
<circle cx="499.6" cy="1508.6" r="9.2"/>
</g>
<g fill="#327cb8">
<circle cx="498.3" cy="1511.6" r="9.2"/>
<circle cx="497" cy="1514.5" r="9.2"/>
<circle cx="495.8" cy="1517.5" r="9.2"/>
<circle cx="494.5" cy="1520.5" r="9.1"/>
</g>
<g fill="#3884bb">
<circle cx="493.2" cy="1523.4" r="9.1"/>
<circle cx="492" cy="1526.4" r="9"/>
<circle cx="490.6" cy="1529.3" r="9"/>
<circle cx="488.9" cy="1532" r="9"/>
</g>
<g fill="#3d8cbf">
<circle cx="487.2" cy="1534.7" r="9"/>
<circle cx="485.2" cy="1537.2" r="8.9"/>
</g>
<g fill="#4393c3">
<circle cx="482.9" cy="1539.4" r="8.7"/>
<circle cx="480.6" cy="1541.7" r="8.5"/>
</g>
<g fill="#fae9df">
<circle cx="436" cy="1787" r="4"/>
<circle cx="438" cy="1783.5" r="4"/>
<circle cx="440.1" cy="1780.1" r="4"/>
<circle cx="442.1" cy="1776.6" r="4"/>
<circle cx="444.1" cy="1773.2" r="4"/>
<circle cx="446.2" cy="1769.7" r="4"/>
<circle cx="448.7" cy="1766.6" r="4"/>
<circle cx="451.1" cy="1763.4" r="4"/>
<circle cx="453.5" cy="1760.2" r="4"/>
<circle cx="456" cy="1757" r="4"/>
<circle cx="459.4" cy="1755" r="4"/>
<circle cx="462.9" cy="1753" r="4"/>
<circle cx="466.4" cy="1750.9" r="4"/>
<circle cx="470.1" cy="1749.6" r="4"/>
<circle cx="474.1" cy="1749" r="4"/>
<circle cx="478" cy="1748.3" r="4"/>
<circle cx="482" cy="1748.4" r="4"/>
<circle cx="485.9" cy="1749" r="4"/>
<circle cx="489.9" cy="1749.7" r="4"/>
<circle cx="493.6" cy="1750.9" r="4"/>
<circle cx="497.1" cy="1753" r="4"/>
<circle cx="500.6" cy="1755" r="4"/>
<circle cx="504" cy="1757" r="4"/>
<circle cx="506.5" cy="1760.2" r="4"/>
<circle cx="508.9" cy="1763.4" r="4"/>
<circle cx="511.3" cy="1766.6" r="4"/>
<circle cx="513.8" cy="1769.7" r="4"/>
<circle cx="515.9" cy="1773.2" r="4"/>
<circle cx="517.9" cy="1776.6" r="4"/>
<circle cx="519.9" cy="1780.1" r="4"/>
<circle cx="522" cy="1783.5" r="4"/>
<circle cx="524" cy="1787" r="4"/>
</g>
<g fill="#fae9df">
<circle cx="462" cy="1787" r="4"/>
<circle cx="464.9" cy="1783.9" r="4"/>
<circle cx="467.7" cy="1780.7" r="4"/>
<circle cx="470.6" cy="1777.6" r="4"/>
<circle cx="474" cy="1775.2" r="4"/>
<circle cx="478" cy="1773.7" r="4"/>
<circle cx="482" cy="1773.8" r="4"/>
<circle cx="486" cy="1775.3" r="4"/>
<circle cx="489.4" cy="1777.6" r="4"/>
<circle cx="492.3" cy="1780.7" r="4"/>
<circle cx="495.1" cy="1783.9" r="4"/>
<circle cx="498" cy="1787" r="4"/>
</g>
<g fill="#f8f2ef">
<circle cx="437" cy="1780" r="1.5"/>
<circle cx="443" cy="1768" r="1.5"/>
<circle cx="450" cy="1755" r="1.5"/>
<circle cx="457" cy="1743" r="1.5"/>
<circle cx="462" cy="1735" r="1.5"/>
</g>
<g fill="#f8f2ef">
<circle cx="498" cy="1735" r="1.5"/>
<circle cx="503" cy="1743" r="1.5"/>
<circle cx="510" cy="1755" r="1.5"/>
<circle cx="516" cy="1768" r="1.5"/>
<circle cx="522" cy="1780" r="1.5"/>
</g>
<g fill="#f4a582">
<circle cx="429" cy="1611.9" r="7"/>
<circle cx="430.5" cy="1615" r="7"/>
<circle cx="431.9" cy="1618.2" r="7"/>
<circle cx="433.4" cy="1621.3" r="7"/>
<circle cx="434.8" cy="1624.5" r="7"/>
<circle cx="436.3" cy="1627.6" r="7"/>
<circle cx="437.7" cy="1630.8" r="7"/>
<circle cx="439.1" cy="1633.9" r="7"/>
</g>
<g fill="#f6ae8e">
<circle cx="440.5" cy="1637.1" r="7"/>
<circle cx="441.9" cy="1640.2" r="7"/>
<circle cx="443.3" cy="1643.4" r="7"/>
<circle cx="444.7" cy="1646.5" r="7"/>
<circle cx="446.2" cy="1649.7" r="7"/>
<circle cx="447.7" cy="1652.8" r="7"/>
</g>
<g fill="#f7b799">
<circle cx="449.1" cy="1655.9" r="7"/>
<circle cx="450.6" cy="1659.1" r="7"/>
<circle cx="452.1" cy="1662.2" r="7"/>
<circle cx="453.5" cy="1665.4" r="6.9"/>
<circle cx="454.9" cy="1668.5" r="6.8"/>
</g>
<g fill="#f8c0a4">
<circle cx="456.3" cy="1671.7" r="6.7"/>
<circle cx="457.7" cy="1674.8" r="6.6"/>
<circle cx="459.1" cy="1678" r="6.6"/>
<circle cx="460.5" cy="1681.1" r="6.5"/>
<circle cx="462" cy="1684.3" r="6.5"/>
<circle cx="463.5" cy="1687.4" r="6.5"/>
</g>
<g fill="#fac9b0">
<circle cx="465" cy="1690.5" r="6.5"/>
<circle cx="466.4" cy="1693.7" r="6.5"/>
<circle cx="467.9" cy="1696.8" r="6.5"/>
<circle cx="469.7" cy="1699.8" r="6.5"/>
</g>
<g fill="#fcd2bc">
<circle cx="471.4" cy="1702.7" r="6.5"/>
<circle cx="473.2" cy="1705.7" r="6.5"/>
<circle cx="475.3" cy="1708.5" r="6.4"/>
</g>
<g fill="#fddbc7">
<circle cx="477.5" cy="1711.1" r="6.2"/>
<circle cx="479.8" cy="1713.7" r="6"/>
</g>
<g fill="#f4a582">
<circle cx="531.4" cy="1611.9" r="7"/>
<circle cx="529.9" cy="1615" r="7"/>
<circle cx="528.5" cy="1618.2" r="7"/>
<circle cx="527" cy="1621.3" r="7"/>
<circle cx="525.6" cy="1624.5" r="7"/>
<circle cx="524.1" cy="1627.6" r="7"/>
<circle cx="522.7" cy="1630.8" r="7"/>
<circle cx="521.3" cy="1633.9" r="7"/>
</g>
<g fill="#f6ae8e">
<circle cx="519.9" cy="1637.1" r="7"/>
<circle cx="518.5" cy="1640.2" r="7"/>
<circle cx="517.1" cy="1643.4" r="7"/>
<circle cx="515.7" cy="1646.5" r="7"/>
<circle cx="514.2" cy="1649.7" r="7"/>
<circle cx="512.7" cy="1652.8" r="7"/>
</g>
<g fill="#f7b799">
<circle cx="511.3" cy="1655.9" r="7"/>
<circle cx="509.8" cy="1659.1" r="7"/>
<circle cx="508.3" cy="1662.2" r="7"/>
<circle cx="506.9" cy="1665.4" r="6.9"/>
<circle cx="505.5" cy="1668.5" r="6.8"/>
</g>
<g fill="#f8c0a4">
<circle cx="504.1" cy="1671.7" r="6.7"/>
<circle cx="502.7" cy="1674.8" r="6.6"/>
<circle cx="501.3" cy="1678" r="6.6"/>
<circle cx="499.9" cy="1681.1" r="6.5"/>
<circle cx="498.4" cy="1684.3" r="6.5"/>
<circle cx="496.9" cy="1687.4" r="6.5"/>
</g>
<g fill="#fac9b0">
<circle cx="495.4" cy="1690.5" r="6.5"/>
<circle cx="494" cy="1693.7" r="6.5"/>
<circle cx="492.5" cy="1696.8" r="6.5"/>
<circle cx="490.7" cy="1699.8" r="6.5"/>
</g>
<g fill="#fcd2bc">
<circle cx="489" cy="1702.7" r="6.5"/>
<circle cx="487.2" cy="1705.7" r="6.5"/>
<circle cx="485.1" cy="1708.5" r="6.4"/>
</g>
<g fill="#fddbc7">
<circle cx="482.9" cy="1711.1" r="6.2"/>
<circle cx="480.6" cy="1713.7" r="6"/>
</g>
<g fill="#db6c56">
<circle cx="460.2" cy="1730" r="8.5"/>
<circle cx="462.9" cy="1728.1" r="8.7"/>
<circle cx="465.6" cy="1726.3" r="9"/>
<circle cx="468.6" cy="1724.9" r="9"/>
<circle cx="471.6" cy="1723.7" r="9"/>
<circle cx="474.8" cy="1723.3" r="9"/>
<circle cx="478.1" cy="1723.1" r="9"/>
<circle cx="481.4" cy="1723.1" r="9"/>
<circle cx="484.6" cy="1723.3" r="9"/>
<circle cx="487.9" cy="1723.5" r="9"/>
<circle cx="490.9" cy="1724.7" r="9"/>
<circle cx="493.9" cy="1726" r="9"/>
<circle cx="496.5" cy="1728" r="8.8"/>
<circle cx="499.1" cy="1730" r="8.5"/>
</g>
<g fill="#ca4842">
<circle cx="429" cy="1580" r="8"/>
<circle cx="431.8" cy="1578.5" r="8.1"/>
</g>
<g fill="#d05447">
<circle cx="434.7" cy="1576.9" r="8.3"/>
<circle cx="437.5" cy="1575.4" r="8.4"/>
<circle cx="440.4" cy="1573.9" r="8.5"/>
</g>
<g fill="#d6604d">
<circle cx="443.4" cy="1572.9" r="8.5"/>
<circle cx="446.5" cy="1571.8" r="8.5"/>
</g>
<g fill="#db6c56">
<circle cx="449.6" cy="1570.8" r="8.5"/>
<circle cx="452.7" cy="1569.9" r="8.5"/>
<circle cx="455.9" cy="1569.4" r="8.5"/>
</g>
<g fill="#e0775f">
<circle cx="459.1" cy="1569" r="8.5"/>
<circle cx="462.3" cy="1568.5" r="8.5"/>
<circle cx="465.5" cy="1568.1" r="8.5"/>
<circle cx="468.7" cy="1567.9" r="8.5"/>
<circle cx="471.9" cy="1567.7" r="8.5"/>
<circle cx="475.2" cy="1567.6" r="8.5"/>
<circle cx="478.4" cy="1567.5" r="8.5"/>
<circle cx="481.6" cy="1567.5" r="8.5"/>
<circle cx="484.8" cy="1567.6" r="8.5"/>
<circle cx="488.1" cy="1567.7" r="8.5"/>
<circle cx="491.3" cy="1567.9" r="8.5"/>
<circle cx="494.5" cy="1568.1" r="8.5"/>
<circle cx="497.7" cy="1568.5" r="8.5"/>
<circle cx="500.9" cy="1569" r="8.5"/>
</g>
<g fill="#db6c56">
<circle cx="504.1" cy="1569.4" r="8.5"/>
<circle cx="507.3" cy="1569.9" r="8.5"/>
<circle cx="510.4" cy="1570.8" r="8.5"/>
</g>
<g fill="#d6604d">
<circle cx="513.5" cy="1571.8" r="8.5"/>
<circle cx="516.6" cy="1572.9" r="8.5"/>
</g>
<g fill="#d05447">
<circle cx="519.6" cy="1573.9" r="8.5"/>
<circle cx="522.5" cy="1575.4" r="8.4"/>
<circle cx="525.3" cy="1576.9" r="8.3"/>
</g>
<g fill="#ca4842">
<circle cx="528.2" cy="1578.5" r="8.1"/>
<circle cx="531" cy="1580" r="8"/>
</g>
<g fill="#e58268">
<circle cx="441.7" cy="1592" r="6"/>
<circle cx="444.4" cy="1589.9" r="6"/>
</g>
<g fill="#ea8e70">
<circle cx="447.2" cy="1587.8" r="6"/>
<circle cx="449.9" cy="1585.6" r="6"/>
<circle cx="452.8" cy="1583.8" r="6"/>
<circle cx="456.1" cy="1582.8" r="6"/>
</g>
<g fill="#ef9979">
<circle cx="459.4" cy="1581.9" r="6"/>
<circle cx="462.7" cy="1580.9" r="6"/>
<circle cx="466.1" cy="1580" r="6"/>
<circle cx="469.5" cy="1579.7" r="6"/>
<circle cx="473" cy="1579.5" r="6"/>
<circle cx="476.4" cy="1579.2" r="6"/>
<circle cx="479.9" cy="1579" r="6"/>
<circle cx="483.3" cy="1579.2" r="6"/>
<circle cx="486.8" cy="1579.5" r="6"/>
<circle cx="490.2" cy="1579.7" r="6"/>
<circle cx="493.7" cy="1580" r="6"/>
<circle cx="497" cy="1580.9" r="6"/>
<circle cx="500.4" cy="1581.8" r="6"/>
</g>
<g fill="#ea8e70">
<circle cx="503.7" cy="1582.8" r="6"/>
<circle cx="507" cy="1583.7" r="6"/>
<circle cx="509.9" cy="1585.5" r="6"/>
<circle cx="512.6" cy="1587.7" r="6"/>
</g>
<g fill="#e58268">
<circle cx="515.3" cy="1589.8" r="6"/>
<circle cx="518" cy="1592" r="6"/>
</g>
<g fill="#991027">
<circle cx="429" cy="1585" r="9.5"/>
<circle cx="430.4" cy="1588" r="9.5"/>
<circle cx="431.8" cy="1591" r="9.5"/>
<circle cx="433.2" cy="1594" r="9.5"/>
<circle cx="434.6" cy="1597" r="9.5"/>
<circle cx="436" cy="1600" r="9.5"/>
<circle cx="437.5" cy="1602.9" r="9.5"/>
<circle cx="439.1" cy="1605.8" r="9.5"/>
<circle cx="440.6" cy="1608.7" r="9.5"/>
<circle cx="442.2" cy="1611.6" r="9.5"/>
<circle cx="443.8" cy="1614.5" r="9.5"/>
<circle cx="445.3" cy="1617.4" r="9.5"/>
<circle cx="446.9" cy="1620.4" r="9.5"/>
</g>
<g fill="#a61429">
<circle cx="448.4" cy="1623.3" r="9.5"/>
<circle cx="450" cy="1626.2" r="9.5"/>
<circle cx="451.5" cy="1629.1" r="9.5"/>
<circle cx="453.1" cy="1632" r="9.5"/>
<circle cx="454.6" cy="1634.9" r="9.5"/>
</g>
<g fill="#b2182b">
<circle cx="456.2" cy="1637.8" r="9.5"/>
<circle cx="457.7" cy="1640.8" r="9.5"/>
<circle cx="459.3" cy="1643.7" r="9.5"/>
<circle cx="461.1" cy="1646.5" r="9.5"/>
<circle cx="463" cy="1649.1" r="9.5"/>
</g>
<g fill="#b82431">
<circle cx="464.9" cy="1651.8" r="9.5"/>
<circle cx="466.9" cy="1654.5" r="9.5"/>
<circle cx="469" cy="1657" r="9.5"/>
</g>
<g fill="#be3036">
<circle cx="471.3" cy="1659.3" r="9.5"/>
<circle cx="473.7" cy="1661.7" r="9.5"/>
<circle cx="476.7" cy="1662.9" r="9.5"/>
<circle cx="479.8" cy="1664" r="9.5"/>
</g>
<g fill="#991027">
<circle cx="531.4" cy="1585" r="9.5"/>
<circle cx="530" cy="1588" r="9.5"/>
<circle cx="528.6" cy="1591" r="9.5"/>
<circle cx="527.2" cy="1594" r="9.5"/>
<circle cx="525.8" cy="1597" r="9.5"/>
<circle cx="524.4" cy="1600" r="9.5"/>
<circle cx="522.9" cy="1602.9" r="9.5"/>
<circle cx="521.3" cy="1605.8" r="9.5"/>
<circle cx="519.8" cy="1608.7" r="9.5"/>
<circle cx="518.2" cy="1611.6" r="9.5"/>
<circle cx="516.6" cy="1614.5" r="9.5"/>
<circle cx="515.1" cy="1617.4" r="9.5"/>
<circle cx="513.5" cy="1620.4" r="9.5"/>
</g>
<g fill="#a61429">
<circle cx="512" cy="1623.3" r="9.5"/>
<circle cx="510.4" cy="1626.2" r="9.5"/>
<circle cx="508.9" cy="1629.1" r="9.5"/>
<circle cx="507.3" cy="1632" r="9.5"/>
<circle cx="505.8" cy="1634.9" r="9.5"/>
</g>
<g fill="#b2182b">
<circle cx="504.2" cy="1637.8" r="9.5"/>
<circle cx="502.7" cy="1640.8" r="9.5"/>
<circle cx="501.1" cy="1643.7" r="9.5"/>
<circle cx="499.3" cy="1646.5" r="9.5"/>
<circle cx="497.4" cy="1649.1" r="9.5"/>
</g>
<g fill="#b82431">
<circle cx="495.5" cy="1651.8" r="9.5"/>
<circle cx="493.5" cy="1654.5" r="9.5"/>
<circle cx="491.4" cy="1657" r="9.5"/>
</g>
<g fill="#be3036">
<circle cx="489.1" cy="1659.3" r="9.5"/>
<circle cx="486.7" cy="1661.7" r="9.5"/>
<circle cx="483.7" cy="1662.9" r="9.5"/>
<circle cx="480.6" cy="1664" r="9.5"/>
</g>
<g fill="#509bc8">
<circle cx="479.8" cy="1572" r="10"/>
<circle cx="475" cy="1572" r="9"/>
<circle cx="484.6" cy="1572" r="9"/>
</g>
<g fill="#a61429">
<circle cx="532.4" cy="1582.2" r="9"/>
<circle cx="534.5" cy="1584.7" r="9"/>
</g>
<g fill="#b2182b">
<circle cx="536.5" cy="1587.2" r="9"/>
<circle cx="538.6" cy="1589.8" r="9"/>
</g>
<g fill="#b82431">
<circle cx="540.4" cy="1592.5" r="9"/>
</g>
<g fill="#be3036">
<circle cx="542.2" cy="1595.2" r="9"/>
<circle cx="544" cy="1597.9" r="9"/>
</g>
<g fill="#c43c3c">
<circle cx="545.4" cy="1600.9" r="9"/>
</g>
<g fill="#ca4842">
<circle cx="546.9" cy="1603.8" r="9"/>
<circle cx="548.3" cy="1606.7" r="9"/>
</g>
<g fill="#d05447">
<circle cx="549.8" cy="1609.6" r="8.8"/>
<circle cx="551.3" cy="1612.5" r="8.7"/>
</g>
<g fill="#d6604d">
<circle cx="552.7" cy="1615.4" r="8.5"/>
<circle cx="553.9" cy="1618.5" r="8.4"/>
<circle cx="555" cy="1621.5" r="8.3"/>
</g>
<g fill="#db6c56">
<circle cx="556.1" cy="1624.6" r="8.2"/>
<circle cx="557.3" cy="1627.7" r="8.1"/>
<circle cx="558.4" cy="1630.7" r="8"/>
<circle cx="559.3" cy="1633.9" r="7.9"/>
</g>
<g fill="#e0775f">
<circle cx="560.2" cy="1637" r="7.7"/>
<circle cx="561.1" cy="1640.1" r="7.6"/>
<circle cx="562" cy="1643.3" r="7.5"/>
<circle cx="562" cy="1646.5" r="7.4"/>
<circle cx="562" cy="1649.8" r="7.3"/>
</g>
<g fill="#e58268">
<circle cx="562" cy="1653" r="7.1"/>
<circle cx="562" cy="1656.3" r="7"/>
</g>
<g fill="#f6ae8e">
<circle cx="532.4" cy="1619.3" r="6.5"/>
<circle cx="534.7" cy="1621.9" r="6.6"/>
<circle cx="536.9" cy="1624.4" r="6.7"/>
<circle cx="539.2" cy="1627" r="6.8"/>
<circle cx="541.5" cy="1629.5" r="6.8"/>
<circle cx="543.7" cy="1632.1" r="6.9"/>
<circle cx="545.9" cy="1634.7" r="7"/>
<circle cx="547.9" cy="1637.5" r="7"/>
<circle cx="549.8" cy="1640.3" r="7"/>
<circle cx="551.7" cy="1643.2" r="7"/>
</g>
<g fill="#f7b799">
<circle cx="553.7" cy="1646" r="7"/>
<circle cx="555.6" cy="1648.8" r="7"/>
<circle cx="557.6" cy="1651.6" r="7"/>
<circle cx="559.3" cy="1654.5" r="7"/>
<circle cx="560.8" cy="1657.6" r="6.9"/>
</g>
<g fill="#f8c0a4">
<circle cx="562.3" cy="1660.7" r="6.8"/>
<circle cx="563.9" cy="1663.7" r="6.7"/>
<circle cx="565.4" cy="1666.8" r="6.7"/>
</g>
<g fill="#fac9b0">
<circle cx="566.9" cy="1669.8" r="6.6"/>
<circle cx="568.4" cy="1672.9" r="6.5"/>
<circle cx="570" cy="1675.9" r="6.5"/>
<circle cx="571.5" cy="1679" r="6.5"/>
<circle cx="573" cy="1682.1" r="6.5"/>
</g>
<g fill="#fcd2bc">
<circle cx="574.6" cy="1685.1" r="6.5"/>
<circle cx="576.1" cy="1688.2" r="6.5"/>
<circle cx="577.7" cy="1691.2" r="6.5"/>
<circle cx="579.5" cy="1694.1" r="6.4"/>
</g>
<g fill="#fddbc7">
<circle cx="581.9" cy="1696.5" r="6.2"/>
<circle cx="584.3" cy="1698.9" r="6"/>
</g>
<g fill="#fac9b0">
<circle cx="562" cy="1574.8" r="5"/>
<circle cx="563.9" cy="1587.8" r="5"/>
<circle cx="567.5" cy="1597" r="5"/>
<circle cx="569.4" cy="1606.3" r="5"/>
<circle cx="573.1" cy="1617.4" r="5"/>
<circle cx="578.7" cy="1628.5" r="5"/>
<circle cx="583" cy="1630" r="5"/>
</g>
<g fill="#fddbc7">
<circle cx="597" cy="1575" r="4.5"/>
<circle cx="594" cy="1596" r="4.5"/>
<circle cx="591" cy="1614" r="4.5"/>
</g>
<g fill="#f6ae8e">
<circle cx="597.2" cy="1643.3" r="6.5"/>
<circle cx="599" cy="1658" r="6.5"/>
<circle cx="594.4" cy="1673" r="6.5"/>
<circle cx="590.7" cy="1686" r="6.5"/>
</g>
<g fill="#fddbc7">
<circle cx="586" cy="1628" r="5"/>
<circle cx="590.2" cy="1628.9" r="5"/>
<circle cx="594.3" cy="1629.9" r="5"/>
<circle cx="598.3" cy="1631.3" r="5"/>
<circle cx="602.3" cy="1632.9" r="5"/>
<circle cx="606.2" cy="1634.7" r="5"/>
<circle cx="609.8" cy="1636.9" r="5"/>
<circle cx="613.5" cy="1639.1" r="5"/>
<circle cx="616.4" cy="1642.1" r="5"/>
<circle cx="618.9" cy="1645.6" r="5"/>
<circle cx="621.3" cy="1649.1" r="5"/>
<circle cx="623.6" cy="1652.7" r="5"/>
<circle cx="625.8" cy="1656.3" r="5"/>
<circle cx="628" cy="1660" r="5"/>
</g>
<g fill="#fddbc7">
<circle cx="584.3" cy="1693.3" r="6"/>
<circle cx="587.3" cy="1692.7" r="6"/>
<circle cx="590.3" cy="1692" r="6"/>
<circle cx="593.3" cy="1691.4" r="6"/>
<circle cx="596.3" cy="1690.8" r="6"/>
<circle cx="599.3" cy="1690.1" r="6"/>
<circle cx="602.3" cy="1689.7" r="6"/>
<circle cx="605.4" cy="1689.3" r="6"/>
<circle cx="608.4" cy="1688.9" r="6"/>
<circle cx="611.5" cy="1688.5" r="6"/>
<circle cx="614.5" cy="1688.1" r="6"/>
<circle cx="617.5" cy="1688.3" r="6"/>
<circle cx="620.6" cy="1688.7" r="6"/>
<circle cx="623.6" cy="1689.1" r="6"/>
<circle cx="626.7" cy="1689.6" r="6"/>
<circle cx="629.7" cy="1690" r="6"/>
<circle cx="632.3" cy="1691.6" r="6"/>
<circle cx="634.8" cy="1693.3" r="6"/>
<circle cx="637.3" cy="1695.1" r="6"/>
<circle cx="639.8" cy="1696.9" r="6"/>
<circle cx="642" cy="1699" r="6"/>
<circle cx="644.2" cy="1701.2" r="6"/>
<circle cx="646.3" cy="1703.3" r="6"/>
<circle cx="648.5" cy="1705.5" r="6"/>
<circle cx="650.7" cy="1707.7" r="6"/>
<circle cx="652.8" cy="1709.8" r="6"/>
<circle cx="655" cy="1712" r="6"/>
</g>
<g fill="#fce0cf">
<circle cx="584.3" cy="1698" r="5"/>
<circle cx="587.2" cy="1698.9" r="5"/>
<circle cx="590.2" cy="1699.9" r="5"/>
<circle cx="593.1" cy="1700.8" r="5"/>
<circle cx="596" cy="1701.7" r="5"/>
<circle cx="599" cy="1702.7" r="5"/>
<circle cx="601.9" cy="1703.6" r="5"/>
<circle cx="604.8" cy="1704.6" r="5"/>
<circle cx="607.8" cy="1705.6" r="5"/>
<circle cx="610.7" cy="1706.6" r="5"/>
<circle cx="613.6" cy="1707.5" r="5"/>
<circle cx="616.5" cy="1708.6" r="5"/>
<circle cx="619.4" cy="1709.7" r="5"/>
<circle cx="622.2" cy="1710.9" r="5"/>
<circle cx="625.1" cy="1712" r="5"/>
<circle cx="627.9" cy="1713.2" r="5"/>
<circle cx="630.8" cy="1714.3" r="5"/>
<circle cx="633.7" cy="1715.5" r="5"/>
<circle cx="636.5" cy="1716.6" r="5"/>
<circle cx="639.4" cy="1717.8" r="5"/>
<circle cx="642.2" cy="1718.9" r="5"/>
<circle cx="645.1" cy="1720" r="5"/>
<circle cx="648.1" cy="1720.8" r="5"/>
<circle cx="651.1" cy="1721.6" r="5"/>
<circle cx="654" cy="1722.4" r="5"/>
<circle cx="657" cy="1723.2" r="5"/>
<circle cx="660" cy="1724" r="5"/>
</g>
<g fill="#e0775f">
<circle cx="608.3" cy="1615.6" r="8.5"/>
<circle cx="609.3" cy="1612.5" r="8.5"/>
</g>
<g fill="#db6c56">
<circle cx="610.2" cy="1609.5" r="8.5"/>
<circle cx="611.4" cy="1606.5" r="8.5"/>
<circle cx="613.3" cy="1603.9" r="8.5"/>
<circle cx="615.2" cy="1601.4" r="8.5"/>
<circle cx="617" cy="1598.7" r="8.5"/>
</g>
<g fill="#d6604d">
<circle cx="618.7" cy="1596" r="8.5"/>
<circle cx="620.5" cy="1593.3" r="8.5"/>
<circle cx="622.6" cy="1590.8" r="8.5"/>
<circle cx="624.6" cy="1588.3" r="8.5"/>
<circle cx="626.8" cy="1586" r="8.5"/>
</g>
<g fill="#d05447">
<circle cx="629.1" cy="1583.8" r="8.5"/>
<circle cx="631.6" cy="1581.8" r="8.5"/>
<circle cx="634.2" cy="1579.9" r="8.5"/>
<circle cx="636.9" cy="1578.1" r="8.5"/>
<circle cx="639.7" cy="1576.6" r="8.5"/>
<circle cx="642.7" cy="1575.4" r="8.5"/>
<circle cx="645.7" cy="1574.4" r="8.5"/>
<circle cx="648.8" cy="1573.6" r="8.5"/>
<circle cx="652" cy="1573" r="8.5"/>
</g>
<g fill="#509bc8">
<circle cx="656.5" cy="1572" r="10"/>
<circle cx="662" cy="1572" r="9.5"/>
</g>
<g fill="#5da4cc">
<circle cx="666" cy="1572" r="9"/>
</g>
<g fill="#991027">
<circle cx="633.3" cy="1594.3" r="9"/>
</g>
<g fill="#a61429">
<circle cx="637" cy="1615.6" r="9"/>
</g>
<g fill="#b2182b">
<circle cx="640.7" cy="1635" r="8.8"/>
</g>
<g fill="#b82431">
<circle cx="645.4" cy="1650.7" r="8.5"/>
</g>
<g fill="#be3036">
<circle cx="646.8" cy="1653.7" r="8.5"/>
<circle cx="648.3" cy="1656.6" r="8.5"/>
</g>
<g fill="#c43c3c">
<circle cx="649.7" cy="1659.6" r="8.5"/>
<circle cx="651.5" cy="1662.2" r="8.5"/>
</g>
<g fill="#ca4842">
<circle cx="654.3" cy="1664" r="8.5"/>
<circle cx="657" cy="1665.8" r="8.4"/>
</g>
<g fill="#d05447">
<circle cx="659.5" cy="1667.9" r="8.2"/>
</g>
<g fill="#d6604d">
<circle cx="662" cy="1670" r="8"/>
</g>
<g fill="#db6c56">
<circle cx="663.2" cy="1673.1" r="7.8"/>
<circle cx="664.3" cy="1676.2" r="7.7"/>
</g>
<g fill="#e0775f">
<circle cx="665.4" cy="1679.3" r="7.5"/>
</g>
<g fill="#e58268">
<circle cx="665.8" cy="1682.5" r="7.4"/>
<circle cx="665.8" cy="1685.8" r="7.3"/>
</g>
<g fill="#ea8e70">
<circle cx="665.9" cy="1689.1" r="7.1"/>
</g>
<g fill="#ef9979">
<circle cx="666" cy="1692.4" r="7"/>
</g>
<g fill="#f4a582">
<circle cx="665.7" cy="1695.7" r="6.8"/>
<circle cx="665.4" cy="1698.9" r="6.7"/>
</g>
<g fill="#f6ae8e">
<circle cx="665.1" cy="1702.2" r="6.5"/>
</g>
<g fill="#f7b799">
<circle cx="664.7" cy="1705.5" r="6.4"/>
<circle cx="664.3" cy="1708.7" r="6.2"/>
</g>
<g fill="#f8c0a4">
<circle cx="663.9" cy="1712" r="6"/>
</g>
<g fill="#db6c56">
<circle cx="651" cy="1726.7" r="9"/>
<circle cx="656.5" cy="1726.7" r="9"/>
<circle cx="662" cy="1726.7" r="9"/>
</g>
<g fill="#e0775f">
<circle cx="667" cy="1727" r="8.5"/>
</g>
<g fill="#fae9df">
<circle cx="600" cy="1787" r="4"/>
<circle cx="603" cy="1784" r="4"/>
<circle cx="605.9" cy="1781.1" r="4"/>
<circle cx="608.9" cy="1778.1" r="4"/>
<circle cx="611.8" cy="1775.2" r="4"/>
<circle cx="615.1" cy="1772.6" r="4"/>
<circle cx="618.5" cy="1770.1" r="4"/>
<circle cx="621.8" cy="1767.6" r="4"/>
<circle cx="625.4" cy="1765.5" r="4"/>
<circle cx="629.3" cy="1764" r="4"/>
<circle cx="633.2" cy="1762.6" r="4"/>
<circle cx="637.1" cy="1761.1" r="4"/>
<circle cx="641.1" cy="1759.8" r="4"/>
<circle cx="645.2" cy="1759" r="4"/>
<circle cx="649.3" cy="1758.1" r="4"/>
<circle cx="653.4" cy="1757.3" r="4"/>
<circle cx="657.5" cy="1757.2" r="4"/>
<circle cx="661.7" cy="1757.4" r="4"/>
<circle cx="665.8" cy="1757.7" r="4"/>
<circle cx="670" cy="1758" r="4"/>
</g>
<g fill="#fae9df">
<circle cx="620" cy="1787" r="3.5"/>
<circle cx="623.2" cy="1784.1" r="3.5"/>
<circle cx="626.5" cy="1781.2" r="3.5"/>
<circle cx="629.7" cy="1778.3" r="3.5"/>
<circle cx="633.1" cy="1775.6" r="3.5"/>
<circle cx="636.4" cy="1772.8" r="3.5"/>
<circle cx="639.8" cy="1770.1" r="3.5"/>
<circle cx="643.2" cy="1767.4" r="3.5"/>
<circle cx="646.6" cy="1764.7" r="3.5"/>
<circle cx="650" cy="1762" r="3.5"/>
</g>
<g fill="#f7b799">
<circle cx="667" cy="1770" r="7"/>
<circle cx="667" cy="1787" r="7"/>
</g>
</g>
<g clip-path="url(#eclip2)">
<g fill="#deebf2">
<circle cx="757.1" cy="1410" r="3.5"/>
<circle cx="760.7" cy="1405" r="3.5"/>
<circle cx="764.4" cy="1400.1" r="3.5"/>
<circle cx="768" cy="1395.1" r="3.5"/>
<circle cx="772.2" cy="1390.6" r="3.5"/>
<circle cx="776.4" cy="1386.1" r="3.5"/>
<circle cx="780.5" cy="1381.6" r="3.5"/>
<circle cx="785.5" cy="1378" r="3.5"/>
<circle cx="790.6" cy="1374.6" r="3.5"/>
<circle cx="795.8" cy="1371.2" r="3.5"/>
<circle cx="801.7" cy="1369.6" r="3.5"/>
<circle cx="807.6" cy="1368" r="3.5"/>
<circle cx="813.6" cy="1369.5" r="3.5"/>
<circle cx="819.4" cy="1371.2" r="3.5"/>
<circle cx="824.6" cy="1374.6" r="3.5"/>
<circle cx="829.7" cy="1378" r="3.5"/>
<circle cx="834.7" cy="1381.6" r="3.5"/>
<circle cx="838.8" cy="1386.1" r="3.5"/>
<circle cx="843" cy="1390.6" r="3.5"/>
<circle cx="847.2" cy="1395.1" r="3.5"/>
<circle cx="850.8" cy="1400.1" r="3.5"/>
<circle cx="854.5" cy="1405" r="3.5"/>
<circle cx="858.1" cy="1410" r="3.5"/>
</g>
<g fill="#deebf2">
<circle cx="770.1" cy="1385" r="4"/>
<circle cx="773.8" cy="1393.3" r="4"/>
<circle cx="777.4" cy="1401.5" r="4"/>
<circle cx="780.9" cy="1409.8" r="4"/>
<circle cx="784.5" cy="1418.1" r="4"/>
<circle cx="788.3" cy="1426.3" r="4"/>
<circle cx="792.3" cy="1434.4" r="4"/>
<circle cx="796.3" cy="1442.5" r="4"/>
<circle cx="800.4" cy="1450.6" r="4"/>
<circle cx="805.2" cy="1458.2" r="4"/>
<circle cx="810.1" cy="1458.3" r="4"/>
<circle cx="814.8" cy="1450.6" r="4"/>
<circle cx="818.9" cy="1442.5" r="4"/>
<circle cx="822.9" cy="1434.4" r="4"/>
<circle cx="826.9" cy="1426.3" r="4"/>
<circle cx="830.7" cy="1418.1" r="4"/>
<circle cx="834.4" cy="1409.9" r="4"/>
<circle cx="838.1" cy="1401.7" r="4"/>
<circle cx="841.6" cy="1393.3" r="4"/>
<circle cx="845.1" cy="1385" r="4"/>
</g>
<g fill="#a7d0e4">
<circle cx="761.4" cy="1457.3" r="5.5"/>
</g>
<g fill="#b2d5e7">
<circle cx="760.5" cy="1437.6" r="5.5"/>
</g>
<g fill="#bcdaea">
<circle cx="758.7" cy="1416" r="5"/>
<circle cx="759.6" cy="1394.5" r="5"/>
</g>
<g fill="#c6e0ed">
<circle cx="759.6" cy="1374.8" r="4.5"/>
</g>
<g fill="#d1e5f0">
<circle cx="760.1" cy="1355" r="4"/>
</g>
<g fill="#d7e8f1">
<circle cx="760.1" cy="1340" r="3.5"/>
</g>
<g fill="#a7d0e4">
<circle cx="854.2" cy="1457.3" r="5.5"/>
</g>
<g fill="#b2d5e7">
<circle cx="855.1" cy="1437.6" r="5.5"/>
</g>
<g fill="#bcdaea">
<circle cx="856.9" cy="1416" r="5"/>
<circle cx="856" cy="1394.5" r="5"/>
</g>
<g fill="#c6e0ed">
<circle cx="856" cy="1374.8" r="4.5"/>
</g>
<g fill="#d1e5f0">
<circle cx="855.5" cy="1355" r="4"/>
</g>
<g fill="#d7e8f1">
<circle cx="855.5" cy="1340" r="3.5"/>
</g>
<g fill="#d7e8f1">
<circle cx="768.1" cy="1350" r="3.5"/>
<circle cx="776.1" cy="1360" r="3.5"/>
<circle cx="784.1" cy="1345" r="3.5"/>
<circle cx="831.1" cy="1345" r="3.5"/>
<circle cx="839.1" cy="1360" r="3.5"/>
<circle cx="847.1" cy="1350" r="3.5"/>
<circle cx="772.1" cy="1440" r="3.5"/>
<circle cx="842.1" cy="1440" r="3.5"/>
<circle cx="781.1" cy="1470" r="3.5"/>
<circle cx="834.1" cy="1470" r="3.5"/>
</g>
<g fill="#bcdaea">
<circle cx="859.5" cy="1410" r="5"/>
<circle cx="862.2" cy="1412" r="5.4"/>
</g>
<g fill="#b2d5e7">
<circle cx="864.8" cy="1414.1" r="5.8"/>
<circle cx="867.4" cy="1416.2" r="6.1"/>
<circle cx="869.9" cy="1418.4" r="6.4"/>
<circle cx="872.4" cy="1420.7" r="6.6"/>
<circle cx="874.9" cy="1422.9" r="6.9"/>
<circle cx="877.4" cy="1425.2" r="7"/>
<circle cx="879.9" cy="1427.4" r="7"/>
<circle cx="882.4" cy="1429.7" r="7"/>
<circle cx="884.9" cy="1431.9" r="7"/>
<circle cx="887.5" cy="1434" r="7"/>
<circle cx="890.3" cy="1435.9" r="7"/>
<circle cx="893" cy="1437.8" r="7"/>
<circle cx="895.8" cy="1439.8" r="7"/>
<circle cx="898.8" cy="1441.1" r="6.7"/>
<circle cx="901.9" cy="1442.3" r="6.4"/>
<circle cx="905.1" cy="1443.6" r="6.1"/>
<circle cx="908.3" cy="1444.4" r="5.6"/>
</g>
<g fill="#bcdaea">
<circle cx="911.6" cy="1445" r="5"/>
</g>
<g fill="#a7d0e4">
<circle cx="936.1" cy="1372" r="5"/>
<circle cx="934.4" cy="1386" r="5"/>
<circle cx="931.7" cy="1401" r="5"/>
<circle cx="928" cy="1415" r="5"/>
<circle cx="923.3" cy="1427" r="5"/>
<circle cx="917.8" cy="1437" r="5"/>
<circle cx="912.1" cy="1446" r="5"/>
</g>
<g fill="#b2d5e7">
<circle cx="918.1" cy="1458" r="5.2"/>
<circle cx="924.1" cy="1468" r="5.2"/>
<circle cx="930.1" cy="1478" r="5.2"/>
<circle cx="936.1" cy="1488" r="5.2"/>
<circle cx="943.1" cy="1497" r="5.2"/>
<circle cx="951.1" cy="1506" r="5.2"/>
<circle cx="959.1" cy="1514" r="5.2"/>
<circle cx="967.1" cy="1522" r="5.2"/>
<circle cx="975.1" cy="1530" r="5.2"/>
<circle cx="983.1" cy="1538" r="5.2"/>
<circle cx="991.1" cy="1545" r="5.2"/>
</g>
<g fill="#d1e5f0">
<circle cx="941.1" cy="1350" r="3.5"/>
<circle cx="942.7" cy="1354.9" r="3.5"/>
<circle cx="944.3" cy="1359.7" r="3.5"/>
<circle cx="946" cy="1364.6" r="3.5"/>
<circle cx="947.9" cy="1369.4" r="3.5"/>
<circle cx="949.8" cy="1374.1" r="3.5"/>
<circle cx="951.7" cy="1378.9" r="3.5"/>
<circle cx="953.9" cy="1383.5" r="3.5"/>
<circle cx="956.2" cy="1388.1" r="3.5"/>
<circle cx="958.5" cy="1392.7" r="3.5"/>
<circle cx="960.8" cy="1397.3" r="3.5"/>
<circle cx="963" cy="1401.9" r="3.5"/>
<circle cx="965.8" cy="1406.2" r="3.5"/>
<circle cx="969" cy="1410.2" r="3.5"/>
<circle cx="972.2" cy="1414.2" r="3.5"/>
<circle cx="975.5" cy="1418.2" r="3.5"/>
<circle cx="978.7" cy="1422.2" r="3.5"/>
<circle cx="982.2" cy="1425.9" r="3.5"/>
<circle cx="986" cy="1429.3" r="3.5"/>
<circle cx="989.8" cy="1432.7" r="3.5"/>
<circle cx="993.5" cy="1436.4" r="3.5"/>
<circle cx="997.1" cy="1440" r="3.5"/>
</g>
<g fill="#a7d0e4">
<circle cx="954.8" cy="1454.6" r="5"/>
<circle cx="956.5" cy="1457.6" r="5.3"/>
</g>
<g fill="#9ccae1">
<circle cx="958.1" cy="1460.6" r="5.5"/>
<circle cx="959.8" cy="1463.6" r="5.8"/>
<circle cx="961.4" cy="1466.7" r="6"/>
<circle cx="963" cy="1469.7" r="6.2"/>
</g>
<g fill="#92c5de">
<circle cx="964.5" cy="1472.8" r="6.3"/>
<circle cx="966" cy="1475.9" r="6.4"/>
<circle cx="967.5" cy="1479" r="6.5"/>
<circle cx="969" cy="1482.1" r="6.7"/>
<circle cx="970.4" cy="1485.2" r="6.8"/>
<circle cx="971.9" cy="1488.3" r="6.9"/>
<circle cx="973.3" cy="1491.5" r="7"/>
<circle cx="974.4" cy="1494.7" r="7"/>
<circle cx="975.6" cy="1498" r="7"/>
<circle cx="976.7" cy="1501.2" r="7"/>
<circle cx="977.9" cy="1504.4" r="7"/>
<circle cx="979.2" cy="1507.6" r="7"/>
<circle cx="980.5" cy="1510.8" r="7"/>
<circle cx="981.8" cy="1514" r="7"/>
<circle cx="983.2" cy="1517.1" r="7"/>
<circle cx="984.6" cy="1520.3" r="7"/>
<circle cx="986" cy="1523.4" r="7"/>
<circle cx="987.4" cy="1526.5" r="7"/>
<circle cx="988.8" cy="1529.7" r="7"/>
<circle cx="990.2" cy="1532.8" r="7"/>
<circle cx="991.6" cy="1536" r="7"/>
<circle cx="993.9" cy="1538.4" r="6.8"/>
</g>
<g fill="#9ccae1">
<circle cx="996.4" cy="1539.3" r="6.5"/>
</g>
<g fill="#a7d0e4">
<circle cx="997.7" cy="1536.2" r="6.2"/>
<circle cx="999.1" cy="1533" r="6"/>
</g>
<g fill="#d1e5f0">
<circle cx="788.1" cy="1572" r="4.5"/>
<circle cx="791.3" cy="1571.6" r="4.5"/>
<circle cx="794.6" cy="1571.2" r="4.5"/>
<circle cx="797.8" cy="1570.9" r="4.5"/>
<circle cx="801.1" cy="1570.6" r="4.5"/>
<circle cx="804.3" cy="1570.3" r="4.5"/>
<circle cx="807.6" cy="1570" r="4.5"/>
<circle cx="810.9" cy="1570.3" r="4.5"/>
<circle cx="814.1" cy="1570.6" r="4.5"/>
<circle cx="817.4" cy="1570.8" r="4.5"/>
<circle cx="820.6" cy="1571.2" r="4.5"/>
<circle cx="823.9" cy="1571.6" r="4.5"/>
<circle cx="827.1" cy="1572" r="4.5"/>
</g>
<g fill="#d1e5f0">
<circle cx="979.1" cy="1574" r="5"/>
<circle cx="982.5" cy="1573" r="5"/>
<circle cx="985.9" cy="1572.1" r="5"/>
<circle cx="989.2" cy="1570.7" r="5"/>
<circle cx="992.4" cy="1569.3" r="5"/>
<circle cx="995.7" cy="1568.1" r="5"/>
<circle cx="999.1" cy="1567" r="5"/>
</g>
<g fill="#fae9df">
<circle cx="766.1" cy="1787" r="3.5"/>
<circle cx="768.7" cy="1783.9" r="3.5"/>
<circle cx="771.3" cy="1780.8" r="3.5"/>
<circle cx="773.9" cy="1777.6" r="3.5"/>
<circle cx="776.6" cy="1774.6" r="3.5"/>
<circle cx="779.6" cy="1771.8" r="3.5"/>
<circle cx="782.5" cy="1769.1" r="3.5"/>
<circle cx="785.5" cy="1766.3" r="3.5"/>
<circle cx="788.6" cy="1763.7" r="3.5"/>
<circle cx="792.3" cy="1761.9" r="3.5"/>
<circle cx="795.9" cy="1760.1" r="3.5"/>
<circle cx="799.7" cy="1758.7" r="3.5"/>
<circle cx="803.6" cy="1757.9" r="3.5"/>
<circle cx="807.6" cy="1757" r="3.5"/>
<circle cx="811.6" cy="1757.8" r="3.5"/>
<circle cx="815.5" cy="1758.7" r="3.5"/>
<circle cx="819.3" cy="1760.1" r="3.5"/>
<circle cx="822.9" cy="1761.9" r="3.5"/>
<circle cx="826.6" cy="1763.7" r="3.5"/>
<circle cx="829.7" cy="1766.3" r="3.5"/>
<circle cx="832.7" cy="1769.1" r="3.5"/>
<circle cx="835.6" cy="1771.8" r="3.5"/>
<circle cx="838.6" cy="1774.6" r="3.5"/>
<circle cx="841.3" cy="1777.6" r="3.5"/>
<circle cx="843.9" cy="1780.8" r="3.5"/>
<circle cx="846.5" cy="1783.9" r="3.5"/>
<circle cx="849.1" cy="1787" r="3.5"/>
</g>
<g fill="#fbe4d7">
<circle cx="807.8" cy="1726" r="4.5"/>
<circle cx="809.4" cy="1728.7" r="4.5"/>
<circle cx="811" cy="1731.3" r="4.5"/>
<circle cx="812.6" cy="1734" r="4.5"/>
<circle cx="814.1" cy="1736.7" r="4.5"/>
<circle cx="815.7" cy="1739.4" r="4.5"/>
<circle cx="817.4" cy="1742" r="4.5"/>
<circle cx="819.1" cy="1744.6" r="4.5"/>
<circle cx="820.9" cy="1747.2" r="4.5"/>
<circle cx="822.6" cy="1749.7" r="4.5"/>
<circle cx="824.3" cy="1752.3" r="4.5"/>
<circle cx="825.9" cy="1755" r="4.5"/>
<circle cx="827.6" cy="1757.6" r="4.5"/>
<circle cx="829.2" cy="1760.3" r="4.5"/>
<circle cx="830.8" cy="1762.9" r="4.5"/>
<circle cx="832.5" cy="1765.6" r="4.5"/>
<circle cx="834.1" cy="1768.2" r="4.5"/>
<circle cx="835.7" cy="1770.9" r="4.5"/>
<circle cx="837.3" cy="1773.5" r="4.5"/>
<circle cx="839" cy="1776.2" r="4.5"/>
<circle cx="840.6" cy="1778.8" r="4.5"/>
<circle cx="842.1" cy="1781.6" r="4.5"/>
<circle cx="843.6" cy="1784.3" r="4.5"/>
<circle cx="845.1" cy="1787" r="4.5"/>
</g>
<g fill="#fbe4d7">
<circle cx="807.8" cy="1726" r="4.5"/>
<circle cx="806.2" cy="1728.7" r="4.5"/>
<circle cx="804.6" cy="1731.3" r="4.5"/>
<circle cx="803" cy="1734" r="4.5"/>
<circle cx="801.5" cy="1736.7" r="4.5"/>
<circle cx="799.9" cy="1739.4" r="4.5"/>
<circle cx="798.2" cy="1742" r="4.5"/>
<circle cx="796.5" cy="1744.6" r="4.5"/>
<circle cx="794.7" cy="1747.2" r="4.5"/>
<circle cx="793" cy="1749.7" r="4.5"/>
<circle cx="791.3" cy="1752.3" r="4.5"/>
<circle cx="789.7" cy="1755" r="4.5"/>
<circle cx="788" cy="1757.6" r="4.5"/>
<circle cx="786.4" cy="1760.3" r="4.5"/>
<circle cx="784.8" cy="1762.9" r="4.5"/>
<circle cx="783.1" cy="1765.6" r="4.5"/>
<circle cx="781.5" cy="1768.2" r="4.5"/>
<circle cx="779.9" cy="1770.9" r="4.5"/>
<circle cx="778.3" cy="1773.5" r="4.5"/>
<circle cx="776.6" cy="1776.2" r="4.5"/>
<circle cx="775" cy="1778.8" r="4.5"/>
<circle cx="773.5" cy="1781.6" r="4.5"/>
<circle cx="772" cy="1784.3" r="4.5"/>
<circle cx="770.5" cy="1787" r="4.5"/>
</g>
<g fill="#fddbc7">
<circle cx="757.1" cy="1578.5" r="5.5"/>
<circle cx="760.4" cy="1577.5" r="5.5"/>
<circle cx="763.6" cy="1576.4" r="5.5"/>
<circle cx="766.9" cy="1575.4" r="5.5"/>
<circle cx="770.1" cy="1574.3" r="5.5"/>
<circle cx="773.5" cy="1573.8" r="5.5"/>
<circle cx="776.9" cy="1573.4" r="5.5"/>
<circle cx="780.3" cy="1573.1" r="5.5"/>
<circle cx="783.7" cy="1572.7" r="5.5"/>
<circle cx="787.1" cy="1572.5" r="5.5"/>
<circle cx="790.5" cy="1572.5" r="5.5"/>
<circle cx="793.9" cy="1572.5" r="5.5"/>
<circle cx="797.3" cy="1572.5" r="5.5"/>
<circle cx="800.8" cy="1572.5" r="5.5"/>
<circle cx="804.2" cy="1572.5" r="5.5"/>
<circle cx="807.6" cy="1572.5" r="5.5"/>
<circle cx="811" cy="1572.5" r="5.5"/>
<circle cx="814.4" cy="1572.5" r="5.5"/>
<circle cx="817.9" cy="1572.5" r="5.5"/>
<circle cx="821.3" cy="1572.5" r="5.5"/>
<circle cx="824.7" cy="1572.5" r="5.5"/>
<circle cx="828.1" cy="1572.5" r="5.5"/>
<circle cx="831.5" cy="1572.7" r="5.5"/>
<circle cx="834.9" cy="1573.1" r="5.5"/>
<circle cx="838.3" cy="1573.4" r="5.5"/>
<circle cx="841.7" cy="1573.8" r="5.5"/>
<circle cx="845.1" cy="1574.3" r="5.5"/>
<circle cx="848.3" cy="1575.4" r="5.5"/>
<circle cx="851.6" cy="1576.4" r="5.5"/>
<circle cx="854.8" cy="1577.5" r="5.5"/>
<circle cx="858.1" cy="1578.5" r="5.5"/>
</g>
<g fill="#f6ae8e">
<circle cx="756.7" cy="1582" r="6.5"/>
<circle cx="757.5" cy="1585.4" r="6.6"/>
<circle cx="758.2" cy="1588.8" r="6.7"/>
</g>
<g fill="#f4a582">
<circle cx="759" cy="1592.1" r="6.8"/>
<circle cx="759.8" cy="1595.5" r="7"/>
<circle cx="760.6" cy="1598.9" r="7.1"/>
<circle cx="761.4" cy="1602.3" r="7.2"/>
<circle cx="762.3" cy="1605.6" r="7.3"/>
<circle cx="763.1" cy="1609" r="7.4"/>
<circle cx="763.9" cy="1612.4" r="7.5"/>
<circle cx="764.8" cy="1615.7" r="7.5"/>
<circle cx="765.6" cy="1619.1" r="7.5"/>
<circle cx="766.5" cy="1622.5" r="7.5"/>
<circle cx="767.3" cy="1625.8" r="7.5"/>
<circle cx="768.2" cy="1629.2" r="7.5"/>
<circle cx="769" cy="1632.5" r="7.4"/>
<circle cx="769.9" cy="1635.9" r="7.3"/>
<circle cx="770.8" cy="1639.2" r="7.2"/>
<circle cx="771.7" cy="1642.6" r="7"/>
<circle cx="772.7" cy="1645.9" r="7"/>
<circle cx="773.8" cy="1649.2" r="7"/>
</g>
<g fill="#f6ae8e">
<circle cx="774.9" cy="1652.5" r="7"/>
<circle cx="776" cy="1655.8" r="7"/>
<circle cx="777.5" cy="1658.9" r="6.8"/>
<circle cx="779.1" cy="1662" r="6.5"/>
</g>
<g fill="#f6ae8e">
<circle cx="858.9" cy="1582" r="6.5"/>
<circle cx="858.1" cy="1585.4" r="6.6"/>
<circle cx="857.4" cy="1588.8" r="6.7"/>
</g>
<g fill="#f4a582">
<circle cx="856.6" cy="1592.1" r="6.8"/>
<circle cx="855.8" cy="1595.5" r="7"/>
<circle cx="855" cy="1598.9" r="7.1"/>
<circle cx="854.2" cy="1602.3" r="7.2"/>
<circle cx="853.3" cy="1605.6" r="7.3"/>
<circle cx="852.5" cy="1609" r="7.4"/>
<circle cx="851.7" cy="1612.4" r="7.5"/>
<circle cx="850.8" cy="1615.7" r="7.5"/>
<circle cx="850" cy="1619.1" r="7.5"/>
<circle cx="849.1" cy="1622.5" r="7.5"/>
<circle cx="848.3" cy="1625.8" r="7.5"/>
<circle cx="847.4" cy="1629.2" r="7.5"/>
<circle cx="846.6" cy="1632.5" r="7.4"/>
<circle cx="845.7" cy="1635.9" r="7.3"/>
<circle cx="844.8" cy="1639.2" r="7.2"/>
<circle cx="843.9" cy="1642.6" r="7"/>
<circle cx="842.9" cy="1645.9" r="7"/>
<circle cx="841.8" cy="1649.2" r="7"/>
</g>
<g fill="#f6ae8e">
<circle cx="840.7" cy="1652.5" r="7"/>
<circle cx="839.6" cy="1655.8" r="7"/>
<circle cx="838.1" cy="1658.9" r="6.8"/>
<circle cx="836.5" cy="1662" r="6.5"/>
</g>
<g fill="#d6604d">
<circle cx="761.1" cy="1590" r="7"/>
</g>
<g fill="#be3036">
<circle cx="766.1" cy="1600" r="8"/>
</g>
<g fill="#8c0c25">
<circle cx="775.1" cy="1578.5" r="9"/>
</g>
<g fill="#b2182b">
<circle cx="780.6" cy="1606" r="8.5"/>
</g>
<g fill="#a61429">
<circle cx="776.9" cy="1595.2" r="9"/>
</g>
<g fill="#67001f">
<circle cx="772.3" cy="1610" r="11"/>
</g>
<g fill="#be3036">
<circle cx="780.6" cy="1619.3" r="8"/>
</g>
<g fill="#d05447">
<circle cx="782.5" cy="1637.8" r="8"/>
</g>
<g fill="#db6c56">
<circle cx="785.3" cy="1658.1" r="7.5"/>
</g>
<g fill="#e58268">
<circle cx="788" cy="1676.7" r="7"/>
</g>
<g fill="#ef9979">
<circle cx="790.8" cy="1695.2" r="7"/>
</g>
<g fill="#f6ae8e">
<circle cx="793.6" cy="1710" r="6.5"/>
</g>
<g fill="#f8c0a4">
<circle cx="796.4" cy="1723.9" r="6"/>
</g>
<g fill="#fcd2bc">
<circle cx="799.1" cy="1735.9" r="5.5"/>
</g>
<g fill="#d6604d">
<circle cx="854.5" cy="1590" r="7"/>
</g>
<g fill="#be3036">
<circle cx="849.5" cy="1600" r="8"/>
</g>
<g fill="#8c0c25">
<circle cx="840.5" cy="1578.5" r="9"/>
</g>
<g fill="#b2182b">
<circle cx="835" cy="1606" r="8.5"/>
</g>
<g fill="#a61429">
<circle cx="838.7" cy="1595.2" r="9"/>
</g>
<g fill="#67001f">
<circle cx="843.3" cy="1610" r="11"/>
</g>
<g fill="#be3036">
<circle cx="835" cy="1619.3" r="8"/>
</g>
<g fill="#d05447">
<circle cx="833.1" cy="1637.8" r="8"/>
</g>
<g fill="#db6c56">
<circle cx="830.3" cy="1658.1" r="7.5"/>
</g>
<g fill="#e58268">
<circle cx="827.6" cy="1676.7" r="7"/>
</g>
<g fill="#ef9979">
<circle cx="824.8" cy="1695.2" r="7"/>
</g>
<g fill="#f6ae8e">
<circle cx="822" cy="1710" r="6.5"/>
</g>
<g fill="#f8c0a4">
<circle cx="819.2" cy="1723.9" r="6"/>
</g>
<g fill="#fcd2bc">
<circle cx="816.5" cy="1735.9" r="5.5"/>
</g>
<g fill="#f7b799">
<circle cx="859.5" cy="1580" r="6"/>
</g>
<g fill="#f6ae8e">
<circle cx="860.6" cy="1583.3" r="6.4"/>
</g>
<g fill="#f4a582">
<circle cx="861.8" cy="1586.5" r="6.8"/>
<circle cx="863.1" cy="1589.7" r="7.1"/>
<circle cx="864.7" cy="1592.8" r="7.1"/>
<circle cx="866.2" cy="1595.8" r="7.2"/>
</g>
<g fill="#ef9979">
<circle cx="867.8" cy="1598.9" r="7.3"/>
<circle cx="869.3" cy="1602" r="7.4"/>
<circle cx="870.9" cy="1605.1" r="7.5"/>
<circle cx="872.6" cy="1608.1" r="7.5"/>
<circle cx="874.4" cy="1611" r="7.5"/>
<circle cx="876.2" cy="1613.9" r="7.5"/>
<circle cx="878.1" cy="1616.9" r="7.5"/>
<circle cx="879.9" cy="1619.8" r="7.5"/>
<circle cx="881.5" cy="1622.9" r="7.5"/>
<circle cx="882.9" cy="1626" r="7.5"/>
<circle cx="884.3" cy="1629.2" r="7.5"/>
</g>
<g fill="#f4a582">
<circle cx="885.7" cy="1632.3" r="7.5"/>
<circle cx="887.1" cy="1635.5" r="7.5"/>
<circle cx="888.4" cy="1638.6" r="7.5"/>
<circle cx="889.7" cy="1641.8" r="7.4"/>
<circle cx="891" cy="1645.1" r="7.3"/>
</g>
<g fill="#f6ae8e">
<circle cx="892.3" cy="1648.3" r="7.2"/>
<circle cx="893.6" cy="1651.5" r="7.1"/>
<circle cx="894.8" cy="1654.7" r="7"/>
<circle cx="896.1" cy="1657.9" r="7"/>
</g>
<g fill="#f7b799">
<circle cx="897.4" cy="1661.1" r="6.9"/>
<circle cx="898.7" cy="1664.3" r="6.8"/>
<circle cx="900" cy="1667.5" r="6.7"/>
</g>
<g fill="#f8c0a4">
<circle cx="901.3" cy="1670.7" r="6.6"/>
<circle cx="902.6" cy="1673.9" r="6.5"/>
<circle cx="903.8" cy="1677.1" r="6.4"/>
</g>
<g fill="#fac9b0">
<circle cx="905" cy="1680.3" r="6.3"/>
<circle cx="906.2" cy="1683.5" r="6.2"/>
</g>
<g fill="#fcd2bc">
<circle cx="907.5" cy="1686.8" r="6.1"/>
<circle cx="908.7" cy="1690" r="5.9"/>
</g>
<g fill="#fddbc7">
<circle cx="910.4" cy="1693" r="5.5"/>
</g>
<g fill="#fce0cf">
<circle cx="912.1" cy="1696" r="5"/>
</g>
<g fill="#f8c0a4">
<circle cx="859.5" cy="1618" r="6"/>
<circle cx="861.9" cy="1620.5" r="6.2"/>
</g>
<g fill="#f7b799">
<circle cx="864.2" cy="1623" r="6.4"/>
<circle cx="866.6" cy="1625.4" r="6.5"/>
<circle cx="869.3" cy="1627.6" r="6.6"/>
<circle cx="871.9" cy="1629.8" r="6.8"/>
<circle cx="874.6" cy="1632" r="6.9"/>
<circle cx="877.1" cy="1634.2" r="7"/>
<circle cx="878.8" cy="1637.2" r="7"/>
<circle cx="880.5" cy="1640.2" r="7"/>
<circle cx="882.2" cy="1643.2" r="7"/>
<circle cx="883.9" cy="1646.2" r="7"/>
<circle cx="885.4" cy="1649.3" r="6.9"/>
<circle cx="886.8" cy="1652.4" r="6.8"/>
</g>
<g fill="#f8c0a4">
<circle cx="888.2" cy="1655.5" r="6.7"/>
<circle cx="889.6" cy="1658.7" r="6.7"/>
<circle cx="891" cy="1661.8" r="6.6"/>
<circle cx="892.4" cy="1664.9" r="6.5"/>
<circle cx="893.9" cy="1668" r="6.4"/>
<circle cx="895.5" cy="1671.1" r="6.3"/>
</g>
<g fill="#fac9b0">
<circle cx="897" cy="1674.1" r="6.1"/>
<circle cx="898.5" cy="1677.2" r="6"/>
<circle cx="900.3" cy="1680.1" r="5.9"/>
<circle cx="902.2" cy="1683" r="5.8"/>
</g>
<g fill="#fcd2bc">
<circle cx="904.1" cy="1685.8" r="5.7"/>
<circle cx="906.1" cy="1688.7" r="5.5"/>
<circle cx="908.1" cy="1691.5" r="5.4"/>
</g>
<g fill="#fddbc7">
<circle cx="910.1" cy="1694.2" r="5.2"/>
<circle cx="912.1" cy="1697" r="5"/>
</g>
<g fill="#fac9b0">
<circle cx="951.1" cy="1571" r="5.5"/>
<circle cx="947.4" cy="1584" r="5.5"/>
<circle cx="941.8" cy="1598.9" r="5.5"/>
<circle cx="936.3" cy="1615.6" r="5.5"/>
<circle cx="933.5" cy="1630.4" r="5.5"/>
<circle cx="929.8" cy="1643.3" r="5.5"/>
<circle cx="927" cy="1658.1" r="5.5"/>
<circle cx="923.3" cy="1673" r="5.5"/>
<circle cx="919.6" cy="1685.9" r="5.5"/>
</g>
<g fill="#fbe4d7">
<circle cx="914.1" cy="1586" r="3.5"/>
<circle cx="917.1" cy="1600" r="3.5"/>
<circle cx="919.1" cy="1614" r="3.5"/>
<circle cx="922.1" cy="1628" r="3.5"/>
</g>
<g fill="#fce0cf">
<circle cx="914.1" cy="1628" r="4"/>
<circle cx="918.5" cy="1629.1" r="4"/>
<circle cx="923" cy="1630.2" r="4.1"/>
</g>
<g fill="#fddbc7">
<circle cx="927.4" cy="1631.3" r="4.3"/>
</g>
<g fill="#fcd2bc">
<circle cx="931.8" cy="1632.6" r="4.6"/>
</g>
<g fill="#fac9b0">
<circle cx="936.2" cy="1634" r="5"/>
<circle cx="939.4" cy="1637.1" r="5.2"/>
</g>
<g fill="#f8c0a4">
<circle cx="942.6" cy="1640.4" r="5.3"/>
<circle cx="945.8" cy="1643.7" r="5.5"/>
<circle cx="948.4" cy="1647.4" r="5.7"/>
</g>
<g fill="#f7b799">
<circle cx="951.1" cy="1651.1" r="5.8"/>
<circle cx="953.8" cy="1654.8" r="5.9"/>
<circle cx="956.1" cy="1658.8" r="6"/>
<circle cx="958.1" cy="1662.9" r="6"/>
<circle cx="960.2" cy="1666.9" r="6"/>
<circle cx="962.2" cy="1671" r="6.2"/>
</g>
<g fill="#f6ae8e">
<circle cx="964.2" cy="1675.1" r="6.3"/>
<circle cx="966.1" cy="1679.3" r="6.5"/>
<circle cx="967.2" cy="1683.7" r="6.7"/>
<circle cx="968.3" cy="1688.2" r="6.8"/>
<circle cx="969.4" cy="1692.6" r="7"/>
<circle cx="970.5" cy="1697" r="7"/>
</g>
<g fill="#f4a582">
<circle cx="971.6" cy="1701.5" r="7"/>
<circle cx="972.8" cy="1705.9" r="7"/>
<circle cx="973.9" cy="1710.3" r="7"/>
<circle cx="975.2" cy="1714.7" r="7"/>
<circle cx="976.4" cy="1719.1" r="7"/>
<circle cx="977.9" cy="1723.4" r="6.8"/>
</g>
<g fill="#f6ae8e">
<circle cx="979.5" cy="1727.7" r="6.4"/>
</g>
<g fill="#f7b799">
<circle cx="981.1" cy="1732" r="6"/>
</g>
<g fill="#fbe4d7">
<circle cx="912.1" cy="1694" r="4"/>
<circle cx="915.2" cy="1694.2" r="4"/>
<circle cx="918.2" cy="1694.4" r="4"/>
<circle cx="921.3" cy="1694.7" r="4"/>
<circle cx="924.4" cy="1694.9" r="4"/>
<circle cx="927.4" cy="1695.2" r="4"/>
<circle cx="930.5" cy="1695.6" r="4"/>
<circle cx="933.5" cy="1696" r="4"/>
<circle cx="936.6" cy="1696.4" r="4"/>
<circle cx="939.6" cy="1696.8" r="4"/>
<circle cx="942.6" cy="1697.3" r="4"/>
<circle cx="945.6" cy="1697.9" r="4"/>
<circle cx="948.7" cy="1698.5" r="4"/>
<circle cx="951.7" cy="1699.1" r="4"/>
<circle cx="954.7" cy="1699.7" r="4"/>
<circle cx="957.7" cy="1700.4" r="4"/>
<circle cx="960.6" cy="1701.2" r="4"/>
<circle cx="963.6" cy="1702" r="4"/>
<circle cx="966.6" cy="1702.8" r="4"/>
<circle cx="969.6" cy="1703.6" r="4"/>
<circle cx="972.5" cy="1704.4" r="4"/>
<circle cx="975.5" cy="1705.2" r="4"/>
<circle cx="978.5" cy="1706" r="4"/>
<circle cx="981.4" cy="1706.8" r="4"/>
<circle cx="984.4" cy="1707.5" r="4"/>
<circle cx="987.4" cy="1708.4" r="4"/>
<circle cx="990.3" cy="1709.3" r="4"/>
<circle cx="993.2" cy="1710.2" r="4"/>
<circle cx="996.2" cy="1711.1" r="4"/>
<circle cx="999.1" cy="1712" r="4"/>
</g>
<g fill="#fbe4d7">
<circle cx="952.1" cy="1580" r="3.5"/>
<circle cx="955" cy="1582.9" r="3.5"/>
<circle cx="957.8" cy="1585.7" r="3.5"/>
<circle cx="960.7" cy="1588.6" r="3.5"/>
<circle cx="963.5" cy="1591.4" r="3.5"/>
<circle cx="966.4" cy="1594.3" r="3.5"/>
<circle cx="969.2" cy="1597.1" r="3.5"/>
<circle cx="972.1" cy="1600" r="3.5"/>
<circle cx="974.7" cy="1603.1" r="3.5"/>
<circle cx="977.3" cy="1606.2" r="3.5"/>
<circle cx="979.9" cy="1609.3" r="3.5"/>
<circle cx="982.5" cy="1612.4" r="3.5"/>
<circle cx="985.3" cy="1615.2" r="3.5"/>
<circle cx="988.2" cy="1618.1" r="3.5"/>
<circle cx="991" cy="1620.9" r="3.5"/>
<circle cx="993.8" cy="1623.9" r="3.5"/>
<circle cx="996.4" cy="1627" r="3.5"/>
<circle cx="999.1" cy="1630" r="3.5"/>
</g>
<g fill="#fae9df">
<circle cx="871.1" cy="1787" r="3.5"/>
<circle cx="873.8" cy="1784" r="3.5"/>
<circle cx="876.4" cy="1781" r="3.5"/>
<circle cx="879.1" cy="1777.9" r="3.5"/>
<circle cx="881.8" cy="1774.9" r="3.5"/>
<circle cx="884.4" cy="1771.9" r="3.5"/>
<circle cx="887.4" cy="1769.2" r="3.5"/>
<circle cx="890.7" cy="1766.9" r="3.5"/>
<circle cx="894.1" cy="1764.7" r="3.5"/>
<circle cx="897.4" cy="1762.4" r="3.5"/>
<circle cx="900.8" cy="1760.2" r="3.5"/>
<circle cx="904.5" cy="1758.7" r="3.5"/>
<circle cx="908.3" cy="1757.4" r="3.5"/>
<circle cx="912.1" cy="1756" r="3.5"/>
<circle cx="916" cy="1754.9" r="3.5"/>
<circle cx="919.9" cy="1753.8" r="3.5"/>
<circle cx="923.8" cy="1752.7" r="3.5"/>
<circle cx="927.7" cy="1752" r="3.5"/>
<circle cx="931.7" cy="1752" r="3.5"/>
<circle cx="935.8" cy="1752" r="3.5"/>
<circle cx="939.8" cy="1752" r="3.5"/>
<circle cx="943.8" cy="1752" r="3.5"/>
<circle cx="947.7" cy="1752.7" r="3.5"/>
<circle cx="951.5" cy="1754.2" r="3.5"/>
<circle cx="955.2" cy="1755.6" r="3.5"/>
<circle cx="959" cy="1757.1" r="3.5"/>
<circle cx="962.7" cy="1758.6" r="3.5"/>
<circle cx="966.4" cy="1760.2" r="3.5"/>
<circle cx="970" cy="1762" r="3.5"/>
<circle cx="973.7" cy="1763.8" r="3.5"/>
<circle cx="977.3" cy="1765.6" r="3.5"/>
<circle cx="980.9" cy="1767.4" r="3.5"/>
<circle cx="984.5" cy="1769.2" r="3.5"/>
<circle cx="988.1" cy="1770.9" r="3.5"/>
<circle cx="991.8" cy="1772.6" r="3.5"/>
<circle cx="995.4" cy="1774.3" r="3.5"/>
<circle cx="999.1" cy="1776" r="3.5"/>
</g>
<g fill="#2c75b4">
<circle cx="775.1" cy="1454.6" r="9"/>
<circle cx="775.8" cy="1457.8" r="9.1"/>
</g>
<g fill="#327cb8">
<circle cx="776.4" cy="1461" r="9.1"/>
<circle cx="777.1" cy="1464.2" r="9.2"/>
<circle cx="777.8" cy="1467.4" r="9.2"/>
</g>
<g fill="#3884bb">
<circle cx="778.5" cy="1470.6" r="9.2"/>
<circle cx="779.3" cy="1473.8" r="9.2"/>
</g>
<g fill="#3d8cbf">
<circle cx="780" cy="1477" r="9.2"/>
<circle cx="780.7" cy="1480.1" r="9.2"/>
</g>
<g fill="#4393c3">
<circle cx="781.7" cy="1483.3" r="9.2"/>
<circle cx="782.7" cy="1486.4" r="9.2"/>
<circle cx="783.6" cy="1489.5" r="9.2"/>
</g>
<g fill="#509bc8">
<circle cx="784.6" cy="1492.6" r="9.2"/>
<circle cx="785.6" cy="1495.8" r="9.2"/>
</g>
<g fill="#5da4cc">
<circle cx="786.5" cy="1498.9" r="9.1"/>
<circle cx="787.5" cy="1502" r="9.1"/>
</g>
<g fill="#6aacd0">
<circle cx="788.4" cy="1505.1" r="9"/>
<circle cx="789.5" cy="1508.2" r="8.9"/>
</g>
<g fill="#78b4d5">
<circle cx="790.6" cy="1511.3" r="8.8"/>
</g>
<g fill="#85bdda">
<circle cx="791.7" cy="1514.4" r="8.7"/>
<circle cx="792.8" cy="1517.5" r="8.6"/>
</g>
<g fill="#92c5de">
<circle cx="793.9" cy="1520.5" r="8.5"/>
</g>
<g fill="#9ccae1">
<circle cx="795.1" cy="1523.6" r="8.4"/>
<circle cx="796.3" cy="1526.6" r="8.2"/>
<circle cx="797.4" cy="1529.7" r="8.1"/>
</g>
<g fill="#a7d0e4">
<circle cx="798.6" cy="1532.8" r="8"/>
<circle cx="799.9" cy="1535.7" r="7.9"/>
</g>
<g fill="#b2d5e7">
<circle cx="801.3" cy="1538.7" r="7.7"/>
<circle cx="802.6" cy="1541.7" r="7.6"/>
<circle cx="804.1" cy="1544.6" r="7.4"/>
</g>
<g fill="#bcdaea">
<circle cx="806" cy="1547.3" r="7.2"/>
<circle cx="807.8" cy="1550" r="7"/>
</g>
<g fill="#2c75b4">
<circle cx="840.5" cy="1454.6" r="9"/>
<circle cx="839.8" cy="1457.8" r="9.1"/>
</g>
<g fill="#327cb8">
<circle cx="839.2" cy="1461" r="9.1"/>
<circle cx="838.5" cy="1464.2" r="9.2"/>
<circle cx="837.8" cy="1467.4" r="9.2"/>
</g>
<g fill="#3884bb">
<circle cx="837.1" cy="1470.6" r="9.2"/>
<circle cx="836.3" cy="1473.8" r="9.2"/>
</g>
<g fill="#3d8cbf">
<circle cx="835.6" cy="1477" r="9.2"/>
<circle cx="834.9" cy="1480.1" r="9.2"/>
</g>
<g fill="#4393c3">
<circle cx="833.9" cy="1483.3" r="9.2"/>
<circle cx="832.9" cy="1486.4" r="9.2"/>
<circle cx="832" cy="1489.5" r="9.2"/>
</g>
<g fill="#509bc8">
<circle cx="831" cy="1492.6" r="9.2"/>
<circle cx="830" cy="1495.8" r="9.2"/>
</g>
<g fill="#5da4cc">
<circle cx="829.1" cy="1498.9" r="9.1"/>
<circle cx="828.1" cy="1502" r="9.1"/>
</g>
<g fill="#6aacd0">
<circle cx="827.2" cy="1505.1" r="9"/>
<circle cx="826.1" cy="1508.2" r="8.9"/>
</g>
<g fill="#78b4d5">
<circle cx="825" cy="1511.3" r="8.8"/>
</g>
<g fill="#85bdda">
<circle cx="823.9" cy="1514.4" r="8.7"/>
<circle cx="822.8" cy="1517.5" r="8.6"/>
</g>
<g fill="#92c5de">
<circle cx="821.7" cy="1520.5" r="8.5"/>
</g>
<g fill="#9ccae1">
<circle cx="820.5" cy="1523.6" r="8.4"/>
<circle cx="819.3" cy="1526.6" r="8.2"/>
<circle cx="818.2" cy="1529.7" r="8.1"/>
</g>
<g fill="#a7d0e4">
<circle cx="817" cy="1532.8" r="8"/>
<circle cx="815.7" cy="1535.7" r="7.9"/>
</g>
<g fill="#b2d5e7">
<circle cx="814.3" cy="1538.7" r="7.7"/>
<circle cx="813" cy="1541.7" r="7.6"/>
<circle cx="811.5" cy="1544.6" r="7.4"/>
</g>
<g fill="#bcdaea">
<circle cx="809.6" cy="1547.3" r="7.2"/>
<circle cx="807.8" cy="1550" r="7"/>
</g>
<g fill="#2c75b4">
<circle cx="775.1" cy="1454.6" r="9"/>
</g>
<g fill="#0e427a">
<circle cx="774.1" cy="1481.5" r="10"/>
</g>
<g fill="#2c75b4">
<circle cx="840.5" cy="1454.6" r="9"/>
</g>
<g fill="#0e427a">
<circle cx="841.5" cy="1481.5" r="10"/>
</g>
<g fill="#bcdaea">
<circle cx="759.3" cy="1437" r="6"/>
</g>
<g fill="#a7d0e4">
<circle cx="761.2" cy="1459.3" r="7"/>
</g>
<g fill="#92c5de">
<circle cx="762.1" cy="1481.5" r="7.5"/>
</g>
<g fill="#5da4cc">
<circle cx="765.8" cy="1503.7" r="8.5"/>
</g>
<g fill="#2c75b4">
<circle cx="768.6" cy="1525.9" r="9"/>
</g>
<g fill="#0a396e">
<circle cx="771.4" cy="1547.2" r="10"/>
</g>
<g fill="#053061">
<circle cx="774.1" cy="1568" r="10.2"/>
</g>
<g fill="#bcdaea">
<circle cx="856.3" cy="1437" r="6"/>
</g>
<g fill="#a7d0e4">
<circle cx="854.4" cy="1459.3" r="7"/>
</g>
<g fill="#92c5de">
<circle cx="853.5" cy="1481.5" r="7.5"/>
</g>
<g fill="#5da4cc">
<circle cx="849.8" cy="1503.7" r="8.5"/>
</g>
<g fill="#2c75b4">
<circle cx="847" cy="1525.9" r="9"/>
</g>
<g fill="#0a396e">
<circle cx="844.2" cy="1547.2" r="10"/>
</g>
<g fill="#053061">
<circle cx="841.5" cy="1568" r="10.2"/>
</g>
</g>
<g clip-path="url(#eclip3)">
<g fill="#d7e8f1">
<circle cx="1092.6" cy="1340" r="3.2"/>
<circle cx="1092.6" cy="1356" r="3.2"/>
<circle cx="1092.6" cy="1372" r="3.2"/>
<circle cx="1092.6" cy="1388" r="3.2"/>
<circle cx="1093.6" cy="1404" r="3.2"/>
<circle cx="1093.6" cy="1420" r="3.2"/>
<circle cx="1094.6" cy="1436" r="3.2"/>
<circle cx="1094.6" cy="1452" r="3.2"/>
<circle cx="1094.6" cy="1470" r="3.2"/>
<circle cx="1094.6" cy="1486" r="3.2"/>
<circle cx="1094.6" cy="1502" r="3.2"/>
<circle cx="1094.6" cy="1518" r="3.2"/>
<circle cx="1094.6" cy="1534" r="3.2"/>
<circle cx="1094.6" cy="1550" r="3.2"/>
</g>
<g fill="#d7e8f1">
<circle cx="1100.6" cy="1340" r="3.2"/>
<circle cx="1100.6" cy="1356" r="3.2"/>
<circle cx="1100.6" cy="1372" r="3.2"/>
<circle cx="1100.6" cy="1388" r="3.2"/>
<circle cx="1101.6" cy="1404" r="3.2"/>
<circle cx="1101.6" cy="1420" r="3.2"/>
<circle cx="1102.6" cy="1436" r="3.2"/>
<circle cx="1102.6" cy="1452" r="3.2"/>
<circle cx="1102.6" cy="1470" r="3.2"/>
<circle cx="1102.6" cy="1486" r="3.2"/>
<circle cx="1102.6" cy="1502" r="3.2"/>
<circle cx="1102.6" cy="1518" r="3.2"/>
<circle cx="1102.6" cy="1534" r="3.2"/>
<circle cx="1102.6" cy="1550" r="3.2"/>
</g>
<g fill="#d7e8f1">
<circle cx="1170.6" cy="1340" r="3.2"/>
<circle cx="1170.6" cy="1356" r="3.2"/>
<circle cx="1170.6" cy="1372" r="3.2"/>
<circle cx="1170.6" cy="1388" r="3.2"/>
<circle cx="1171.6" cy="1404" r="3.2"/>
<circle cx="1171.6" cy="1420" r="3.2"/>
<circle cx="1172.6" cy="1436" r="3.2"/>
<circle cx="1172.6" cy="1452" r="3.2"/>
<circle cx="1172.6" cy="1470" r="3.2"/>
<circle cx="1172.6" cy="1486" r="3.2"/>
<circle cx="1172.6" cy="1502" r="3.2"/>
<circle cx="1172.6" cy="1518" r="3.2"/>
<circle cx="1172.6" cy="1534" r="3.2"/>
<circle cx="1172.6" cy="1550" r="3.2"/>
</g>
<g fill="#d7e8f1">
<circle cx="1178.6" cy="1340" r="3.2"/>
<circle cx="1178.6" cy="1356" r="3.2"/>
<circle cx="1178.6" cy="1372" r="3.2"/>
<circle cx="1178.6" cy="1388" r="3.2"/>
<circle cx="1179.6" cy="1404" r="3.2"/>
<circle cx="1179.6" cy="1420" r="3.2"/>
<circle cx="1180.6" cy="1436" r="3.2"/>
<circle cx="1180.6" cy="1452" r="3.2"/>
<circle cx="1180.6" cy="1470" r="3.2"/>
<circle cx="1180.6" cy="1486" r="3.2"/>
<circle cx="1180.6" cy="1502" r="3.2"/>
<circle cx="1180.6" cy="1518" r="3.2"/>
<circle cx="1180.6" cy="1534" r="3.2"/>
<circle cx="1180.6" cy="1550" r="3.2"/>
</g>
<g fill="#d1e5f0">
<circle cx="1100.6" cy="1420" r="3.2"/>
<circle cx="1107.6" cy="1436" r="3.2"/>
<circle cx="1113.6" cy="1452" r="3.2"/>
<circle cx="1119.6" cy="1468" r="3.2"/>
<circle cx="1125.6" cy="1484" r="3.2"/>
<circle cx="1131.6" cy="1500" r="3.2"/>
<circle cx="1135.6" cy="1510" r="3.2"/>
<circle cx="1141.6" cy="1500" r="3.2"/>
<circle cx="1147.6" cy="1484" r="3.2"/>
<circle cx="1153.6" cy="1468" r="3.2"/>
<circle cx="1159.6" cy="1452" r="3.2"/>
<circle cx="1165.6" cy="1436" r="3.2"/>
<circle cx="1171.6" cy="1420" r="3.2"/>
</g>
<g fill="#9ccae1">
<circle cx="1188" cy="1408.3" r="7"/>
<circle cx="1188.9" cy="1405" r="7.1"/>
<circle cx="1189.8" cy="1401.7" r="7.2"/>
<circle cx="1190.6" cy="1398.4" r="7.4"/>
<circle cx="1191.5" cy="1395.1" r="7.5"/>
</g>
<g fill="#92c5de">
<circle cx="1192.4" cy="1391.8" r="7.6"/>
<circle cx="1193.3" cy="1388.6" r="7.7"/>
<circle cx="1194.2" cy="1385.3" r="7.8"/>
<circle cx="1195" cy="1382" r="8"/>
<circle cx="1196.2" cy="1378.8" r="8"/>
<circle cx="1197.5" cy="1375.6" r="8"/>
</g>
<g fill="#9ccae1">
<circle cx="1198.8" cy="1372.5" r="8"/>
<circle cx="1200.1" cy="1369.3" r="8"/>
<circle cx="1201.5" cy="1366.2" r="8"/>
<circle cx="1203.1" cy="1363.2" r="8"/>
<circle cx="1204.6" cy="1360.2" r="8"/>
<circle cx="1206.2" cy="1357.1" r="8"/>
<circle cx="1207.6" cy="1354" r="7.9"/>
<circle cx="1209" cy="1350.9" r="7.8"/>
</g>
<g fill="#a7d0e4">
<circle cx="1210.4" cy="1347.8" r="7.6"/>
<circle cx="1211.7" cy="1344.7" r="7.5"/>
<circle cx="1213.2" cy="1341.6" r="7.4"/>
<circle cx="1214.7" cy="1338.6" r="7.2"/>
<circle cx="1216.1" cy="1335.5" r="7.1"/>
<circle cx="1217.6" cy="1332.4" r="7"/>
</g>
<g fill="#bcdaea">
<circle cx="1189.9" cy="1413.9" r="5"/>
<circle cx="1192.3" cy="1416.3" r="5.3"/>
</g>
<g fill="#b2d5e7">
<circle cx="1194.8" cy="1418.8" r="5.7"/>
<circle cx="1197.2" cy="1421.2" r="6"/>
</g>
<g fill="#a7d0e4">
<circle cx="1199.7" cy="1423.7" r="6.3"/>
<circle cx="1202.3" cy="1425.9" r="6.6"/>
<circle cx="1205.1" cy="1427.9" r="6.8"/>
<circle cx="1207.9" cy="1430" r="7"/>
<circle cx="1210.7" cy="1432" r="7.2"/>
<circle cx="1213.5" cy="1434" r="7.5"/>
<circle cx="1216.5" cy="1435.6" r="7.5"/>
<circle cx="1219.6" cy="1437.2" r="7.5"/>
<circle cx="1222.7" cy="1438.7" r="7.5"/>
<circle cx="1225.8" cy="1440.2" r="7.5"/>
<circle cx="1228.9" cy="1441.7" r="7.5"/>
<circle cx="1232.3" cy="1442.3" r="7.2"/>
</g>
<g fill="#b2d5e7">
<circle cx="1235.7" cy="1442.9" r="6.8"/>
<circle cx="1239.1" cy="1443.5" r="6.5"/>
</g>
<g fill="#bcdaea">
<circle cx="1243.6" cy="1443.5" r="5.5"/>
<circle cx="1250.6" cy="1455" r="5.5"/>
<circle cx="1256.6" cy="1467" r="5.5"/>
<circle cx="1261.6" cy="1480" r="5.5"/>
<circle cx="1265.6" cy="1492" r="5.5"/>
<circle cx="1267.6" cy="1505" r="5.5"/>
<circle cx="1271.6" cy="1516" r="5.5"/>
</g>
<g fill="#d1e5f0">
<circle cx="1241.6" cy="1438" r="4.5"/>
<circle cx="1247.6" cy="1425" r="4.5"/>
<circle cx="1253.6" cy="1413" r="4.5"/>
<circle cx="1259.6" cy="1400" r="4.5"/>
<circle cx="1255.6" cy="1385" r="4.5"/>
<circle cx="1253.6" cy="1370" r="4.5"/>
<circle cx="1255.6" cy="1355" r="4.5"/>
<circle cx="1257.6" cy="1340" r="4.5"/>
</g>
<g fill="#c6e0ed">
<circle cx="1258.6" cy="1505" r="5"/>
<circle cx="1255.6" cy="1520" r="5"/>
<circle cx="1267.6" cy="1535" r="5"/>
<circle cx="1271.6" cy="1550" r="5"/>
<circle cx="1275.6" cy="1560" r="5"/>
<circle cx="1285.6" cy="1552" r="5"/>
<circle cx="1295.6" cy="1540" r="5"/>
</g>
<g fill="#5da4cc">
<circle cx="1280.6" cy="1391.7" r="8"/>
<circle cx="1282.1" cy="1388.8" r="8"/>
<circle cx="1283.6" cy="1385.9" r="8"/>
<circle cx="1285.1" cy="1383.1" r="8"/>
<circle cx="1287" cy="1380.5" r="8"/>
<circle cx="1289.1" cy="1378" r="8"/>
<circle cx="1291.2" cy="1375.6" r="8"/>
<circle cx="1293.6" cy="1373.4" r="8"/>
<circle cx="1296.3" cy="1371.7" r="8"/>
<circle cx="1299.1" cy="1370" r="8"/>
<circle cx="1302" cy="1368.7" r="7.9"/>
</g>
<g fill="#6aacd0">
<circle cx="1305.2" cy="1368.2" r="7.7"/>
<circle cx="1308.4" cy="1367.6" r="7.5"/>
</g>
<g fill="#6aacd0">
<circle cx="1280.6" cy="1404.6" r="7"/>
<circle cx="1276.9" cy="1421.3" r="7"/>
<circle cx="1273.2" cy="1441.7" r="7"/>
<circle cx="1269.5" cy="1467.6" r="7"/>
</g>
<g fill="#d1e5f0">
<circle cx="1315.6" cy="1366" r="5"/>
<circle cx="1322.6" cy="1366" r="5"/>
</g>
<g fill="#4393c3">
<circle cx="1191.7" cy="1439.8" r="8"/>
</g>
<g fill="#509bc8">
<circle cx="1195.4" cy="1454.6" r="7.5"/>
</g>
<g fill="#5da4cc">
<circle cx="1199.1" cy="1467.6" r="7.5"/>
</g>
<g fill="#6aacd0">
<circle cx="1201" cy="1480.6" r="7.2"/>
<circle cx="1202.8" cy="1493.5" r="7"/>
</g>
<g fill="#78b4d5">
<circle cx="1204.7" cy="1506.5" r="7"/>
</g>
<g fill="#85bdda">
<circle cx="1208.4" cy="1521.3" r="7"/>
</g>
<g fill="#92c5de">
<circle cx="1210.2" cy="1536.1" r="6.8"/>
<circle cx="1212.1" cy="1549.1" r="6.8"/>
</g>
<g fill="#9ccae1">
<circle cx="1214.9" cy="1563" r="6.5"/>
</g>
<g fill="#1c5da0">
<circle cx="1289.9" cy="1495.4" r="9"/>
</g>
<g fill="#276eb0">
<circle cx="1293.6" cy="1512" r="8.8"/>
</g>
<g fill="#327cb8">
<circle cx="1297.3" cy="1525" r="8.5"/>
</g>
<g fill="#3d8cbf">
<circle cx="1301.6" cy="1536" r="8.5"/>
</g>
<g fill="#4393c3">
<circle cx="1303.6" cy="1540" r="8.5"/>
<circle cx="1305.4" cy="1542.7" r="8.5"/>
<circle cx="1307.3" cy="1545.5" r="8.5"/>
<circle cx="1310.2" cy="1546.8" r="8.3"/>
</g>
<g fill="#509bc8">
<circle cx="1313.3" cy="1547.8" r="8"/>
</g>
<g fill="#5da4cc">
<circle cx="1316.1" cy="1546.5" r="7.8"/>
</g>
<g fill="#6aacd0">
<circle cx="1318.8" cy="1544.6" r="7.6"/>
</g>
<g fill="#78b4d5">
<circle cx="1320.6" cy="1541.9" r="7.4"/>
<circle cx="1322.1" cy="1539" r="7.2"/>
</g>
<g fill="#85bdda">
<circle cx="1323.6" cy="1536" r="7"/>
</g>
<g fill="#5da4cc">
<circle cx="1084.1" cy="1405" r="8.5"/>
<circle cx="1085.4" cy="1402.1" r="8.5"/>
<circle cx="1086.7" cy="1399.1" r="8.5"/>
<circle cx="1088" cy="1396.2" r="8.5"/>
<circle cx="1089.3" cy="1393.2" r="8.5"/>
<circle cx="1090.6" cy="1390.3" r="8.5"/>
<circle cx="1092" cy="1387.4" r="8.5"/>
<circle cx="1093.6" cy="1384.6" r="8.5"/>
<circle cx="1095.3" cy="1381.8" r="8.5"/>
<circle cx="1096.9" cy="1379.1" r="8.5"/>
<circle cx="1098.6" cy="1376.3" r="8.5"/>
<circle cx="1100.3" cy="1373.6" r="8.5"/>
<circle cx="1102.2" cy="1371" r="8.5"/>
<circle cx="1104.3" cy="1368.6" r="8.5"/>
<circle cx="1106.4" cy="1366.1" r="8.5"/>
<circle cx="1108.4" cy="1363.6" r="8.5"/>
<circle cx="1110.5" cy="1361.1" r="8.5"/>
<circle cx="1113" cy="1359.1" r="8.5"/>
<circle cx="1115.5" cy="1357.1" r="8.5"/>
<circle cx="1118" cy="1355.1" r="8.5"/>
<circle cx="1120.5" cy="1353.1" r="8.5"/>
<circle cx="1123.5" cy="1352" r="8.3"/>
<circle cx="1126.6" cy="1351" r="8"/>
</g>
<g fill="#5da4cc">
<circle cx="1187.5" cy="1405" r="8.5"/>
<circle cx="1186.2" cy="1402.1" r="8.5"/>
<circle cx="1184.9" cy="1399.1" r="8.5"/>
<circle cx="1183.6" cy="1396.2" r="8.5"/>
<circle cx="1182.3" cy="1393.2" r="8.5"/>
<circle cx="1181" cy="1390.3" r="8.5"/>
<circle cx="1179.6" cy="1387.4" r="8.5"/>
<circle cx="1178" cy="1384.6" r="8.5"/>
<circle cx="1176.3" cy="1381.8" r="8.5"/>
<circle cx="1174.7" cy="1379.1" r="8.5"/>
<circle cx="1173" cy="1376.3" r="8.5"/>
<circle cx="1171.3" cy="1373.6" r="8.5"/>
<circle cx="1169.4" cy="1371" r="8.5"/>
<circle cx="1167.3" cy="1368.6" r="8.5"/>
<circle cx="1165.2" cy="1366.1" r="8.5"/>
<circle cx="1163.2" cy="1363.6" r="8.5"/>
<circle cx="1161.1" cy="1361.1" r="8.5"/>
<circle cx="1158.6" cy="1359.1" r="8.5"/>
<circle cx="1156.1" cy="1357.1" r="8.5"/>
<circle cx="1153.6" cy="1355.1" r="8.5"/>
<circle cx="1151.1" cy="1353.1" r="8.5"/>
<circle cx="1148.1" cy="1352" r="8.3"/>
<circle cx="1145" cy="1351" r="8"/>
</g>
<g fill="#509bc8">
<circle cx="1183.6" cy="1405" r="8.5"/>
<circle cx="1187.6" cy="1413" r="8.5"/>
</g>
<g fill="#2c75b4">
<circle cx="1107.8" cy="1380" r="9"/>
<circle cx="1106.1" cy="1382.8" r="9"/>
<circle cx="1104.4" cy="1385.5" r="9"/>
<circle cx="1102.6" cy="1388.3" r="9"/>
<circle cx="1100.9" cy="1391.1" r="9"/>
<circle cx="1099.3" cy="1393.9" r="9"/>
<circle cx="1097.6" cy="1396.7" r="9"/>
<circle cx="1095.9" cy="1399.5" r="9"/>
<circle cx="1094.3" cy="1402.4" r="9"/>
<circle cx="1092.8" cy="1405.2" r="9"/>
<circle cx="1091.2" cy="1408.1" r="9"/>
<circle cx="1089.6" cy="1411" r="9"/>
<circle cx="1088.4" cy="1414" r="9"/>
<circle cx="1087.1" cy="1417" r="9"/>
<circle cx="1085.9" cy="1420" r="9"/>
<circle cx="1084.6" cy="1423" r="9"/>
</g>
<g fill="#2c75b4">
<circle cx="1163.8" cy="1380" r="9"/>
<circle cx="1165.5" cy="1382.8" r="9"/>
<circle cx="1167.2" cy="1385.5" r="9"/>
<circle cx="1169" cy="1388.3" r="9"/>
<circle cx="1170.7" cy="1391.1" r="9"/>
<circle cx="1172.3" cy="1393.9" r="9"/>
<circle cx="1174" cy="1396.7" r="9"/>
<circle cx="1175.7" cy="1399.5" r="9"/>
<circle cx="1177.3" cy="1402.4" r="9"/>
<circle cx="1178.8" cy="1405.2" r="9"/>
<circle cx="1180.4" cy="1408.1" r="9"/>
<circle cx="1182" cy="1411" r="9"/>
<circle cx="1183.2" cy="1414" r="9"/>
<circle cx="1184.5" cy="1417" r="9"/>
<circle cx="1185.7" cy="1420" r="9"/>
<circle cx="1187" cy="1423" r="9"/>
</g>
<g fill="#b2d5e7">
<circle cx="1091.6" cy="1432" r="5"/>
<circle cx="1093" cy="1435.1" r="5"/>
<circle cx="1094.4" cy="1438.2" r="5"/>
<circle cx="1095.8" cy="1441.3" r="5"/>
<circle cx="1097.2" cy="1444.4" r="5"/>
<circle cx="1098.6" cy="1447.6" r="5"/>
<circle cx="1100" cy="1450.7" r="5"/>
<circle cx="1101.4" cy="1453.8" r="5"/>
<circle cx="1102.7" cy="1456.9" r="5"/>
<circle cx="1104.1" cy="1460.1" r="5"/>
<circle cx="1105.5" cy="1463.2" r="5"/>
<circle cx="1106.8" cy="1466.3" r="5"/>
<circle cx="1108.2" cy="1469.4" r="5"/>
<circle cx="1109.5" cy="1472.6" r="5"/>
<circle cx="1110.9" cy="1475.7" r="5"/>
<circle cx="1112.2" cy="1478.9" r="5"/>
<circle cx="1113.4" cy="1482" r="5"/>
<circle cx="1114.7" cy="1485.2" r="5"/>
<circle cx="1116" cy="1488.4" r="5"/>
<circle cx="1117.2" cy="1491.6" r="5"/>
<circle cx="1118.5" cy="1494.7" r="5"/>
<circle cx="1119.8" cy="1497.9" r="5"/>
<circle cx="1121" cy="1501.1" r="5"/>
<circle cx="1122.3" cy="1504.2" r="5"/>
<circle cx="1123.6" cy="1507.4" r="5"/>
<circle cx="1124.8" cy="1510.6" r="5"/>
<circle cx="1126.1" cy="1513.7" r="5"/>
<circle cx="1127.4" cy="1516.9" r="5"/>
<circle cx="1128.6" cy="1520.1" r="5"/>
<circle cx="1130.6" cy="1522.9" r="5"/>
<circle cx="1132.5" cy="1525.7" r="5"/>
<circle cx="1134.4" cy="1528.5" r="5"/>
<circle cx="1136.4" cy="1528.7" r="5"/>
<circle cx="1138.3" cy="1525.9" r="5"/>
<circle cx="1140.3" cy="1523.1" r="5"/>
<circle cx="1142.3" cy="1520.4" r="5"/>
<circle cx="1143.7" cy="1517.3" r="5"/>
<circle cx="1145" cy="1514.1" r="5"/>
<circle cx="1146.2" cy="1510.9" r="5"/>
<circle cx="1147.5" cy="1507.7" r="5"/>
<circle cx="1148.8" cy="1504.6" r="5"/>
<circle cx="1150" cy="1501.4" r="5"/>
<circle cx="1151.3" cy="1498.2" r="5"/>
<circle cx="1152.6" cy="1495.1" r="5"/>
<circle cx="1153.8" cy="1491.9" r="5"/>
<circle cx="1155.1" cy="1488.7" r="5"/>
<circle cx="1156.4" cy="1485.6" r="5"/>
<circle cx="1157.6" cy="1482.4" r="5"/>
<circle cx="1158.9" cy="1479.2" r="5"/>
<circle cx="1160.2" cy="1476.1" r="5"/>
<circle cx="1161.4" cy="1472.9" r="5"/>
<circle cx="1162.7" cy="1469.7" r="5"/>
<circle cx="1163.9" cy="1466.5" r="5"/>
<circle cx="1165.2" cy="1463.4" r="5"/>
<circle cx="1166.4" cy="1460.2" r="5"/>
<circle cx="1167.6" cy="1457" r="5"/>
<circle cx="1168.9" cy="1453.8" r="5"/>
<circle cx="1170.2" cy="1450.7" r="5"/>
<circle cx="1171.6" cy="1447.6" r="5"/>
<circle cx="1173" cy="1444.4" r="5"/>
<circle cx="1174.4" cy="1441.3" r="5"/>
<circle cx="1175.8" cy="1438.2" r="5"/>
<circle cx="1177.2" cy="1435.1" r="5"/>
<circle cx="1178.6" cy="1432" r="5"/>
</g>
<g fill="#276eb0">
<circle cx="1084.6" cy="1425" r="9.5"/>
<circle cx="1085.7" cy="1428.1" r="9.5"/>
<circle cx="1086.8" cy="1431.2" r="9.5"/>
<circle cx="1087.8" cy="1434.2" r="9.5"/>
</g>
<g fill="#2166ac">
<circle cx="1088.9" cy="1437.3" r="9.5"/>
<circle cx="1090" cy="1440.4" r="9.5"/>
<circle cx="1091.1" cy="1443.5" r="9.5"/>
<circle cx="1092.1" cy="1446.6" r="9.5"/>
<circle cx="1093.2" cy="1449.7" r="9.5"/>
<circle cx="1094.2" cy="1452.8" r="9.5"/>
<circle cx="1095.3" cy="1455.9" r="9.5"/>
<circle cx="1096.4" cy="1458.9" r="9.5"/>
<circle cx="1097.4" cy="1462" r="9.5"/>
<circle cx="1098.5" cy="1465.1" r="9.5"/>
<circle cx="1099.5" cy="1468.2" r="9.5"/>
<circle cx="1100.6" cy="1471.3" r="9.5"/>
<circle cx="1101.8" cy="1474.4" r="9.5"/>
<circle cx="1102.9" cy="1477.4" r="9.5"/>
<circle cx="1104" cy="1480.5" r="9.5"/>
<circle cx="1105.1" cy="1483.6" r="9.5"/>
<circle cx="1106.3" cy="1486.6" r="9.5"/>
<circle cx="1107.6" cy="1489.6" r="9.5"/>
<circle cx="1108.9" cy="1492.6" r="9.5"/>
</g>
<g fill="#276eb0">
<circle cx="1110.2" cy="1495.6" r="9.5"/>
<circle cx="1111.5" cy="1498.6" r="9.5"/>
<circle cx="1112.8" cy="1501.6" r="9.5"/>
<circle cx="1114.1" cy="1504.6" r="9.5"/>
<circle cx="1115.4" cy="1507.6" r="9.5"/>
<circle cx="1116.6" cy="1510.6" r="9.5"/>
</g>
<g fill="#2c75b4">
<circle cx="1117.8" cy="1513.6" r="9.5"/>
<circle cx="1119.1" cy="1516.7" r="9.5"/>
<circle cx="1120.3" cy="1519.7" r="9.5"/>
<circle cx="1121.4" cy="1522.7" r="9.5"/>
</g>
<g fill="#327cb8">
<circle cx="1122.6" cy="1525.8" r="9.5"/>
<circle cx="1123.8" cy="1528.8" r="9.5"/>
<circle cx="1125" cy="1531.9" r="9.5"/>
<circle cx="1126.1" cy="1534.9" r="9.4"/>
<circle cx="1127.3" cy="1538" r="9.3"/>
</g>
<g fill="#3884bb">
<circle cx="1128.5" cy="1541" r="9.1"/>
<circle cx="1129.6" cy="1544.1" r="9"/>
<circle cx="1131.6" cy="1546.7" r="9"/>
</g>
<g fill="#3d8cbf">
<circle cx="1133.5" cy="1549.4" r="9"/>
<circle cx="1135.4" cy="1552" r="9"/>
</g>
<g fill="#276eb0">
<circle cx="1187" cy="1425" r="9.5"/>
<circle cx="1185.9" cy="1428.1" r="9.5"/>
<circle cx="1184.8" cy="1431.2" r="9.5"/>
<circle cx="1183.8" cy="1434.2" r="9.5"/>
</g>
<g fill="#2166ac">
<circle cx="1182.7" cy="1437.3" r="9.5"/>
<circle cx="1181.6" cy="1440.4" r="9.5"/>
<circle cx="1180.5" cy="1443.5" r="9.5"/>
<circle cx="1179.5" cy="1446.6" r="9.5"/>
<circle cx="1178.4" cy="1449.7" r="9.5"/>
<circle cx="1177.4" cy="1452.8" r="9.5"/>
<circle cx="1176.3" cy="1455.9" r="9.5"/>
<circle cx="1175.2" cy="1458.9" r="9.5"/>
<circle cx="1174.2" cy="1462" r="9.5"/>
<circle cx="1173.1" cy="1465.1" r="9.5"/>
<circle cx="1172.1" cy="1468.2" r="9.5"/>
<circle cx="1171" cy="1471.3" r="9.5"/>
<circle cx="1169.8" cy="1474.4" r="9.5"/>
<circle cx="1168.7" cy="1477.4" r="9.5"/>
<circle cx="1167.6" cy="1480.5" r="9.5"/>
<circle cx="1166.5" cy="1483.6" r="9.5"/>
<circle cx="1165.3" cy="1486.6" r="9.5"/>
<circle cx="1164" cy="1489.6" r="9.5"/>
<circle cx="1162.7" cy="1492.6" r="9.5"/>
</g>
<g fill="#276eb0">
<circle cx="1161.4" cy="1495.6" r="9.5"/>
<circle cx="1160.1" cy="1498.6" r="9.5"/>
<circle cx="1158.8" cy="1501.6" r="9.5"/>
<circle cx="1157.5" cy="1504.6" r="9.5"/>
<circle cx="1156.2" cy="1507.6" r="9.5"/>
<circle cx="1155" cy="1510.6" r="9.5"/>
</g>
<g fill="#2c75b4">
<circle cx="1153.8" cy="1513.6" r="9.5"/>
<circle cx="1152.5" cy="1516.7" r="9.5"/>
<circle cx="1151.3" cy="1519.7" r="9.5"/>
<circle cx="1150.2" cy="1522.7" r="9.5"/>
</g>
<g fill="#327cb8">
<circle cx="1149" cy="1525.8" r="9.5"/>
<circle cx="1147.8" cy="1528.8" r="9.5"/>
<circle cx="1146.6" cy="1531.9" r="9.5"/>
<circle cx="1145.5" cy="1534.9" r="9.4"/>
<circle cx="1144.3" cy="1538" r="9.3"/>
</g>
<g fill="#3884bb">
<circle cx="1143.1" cy="1541" r="9.1"/>
<circle cx="1142" cy="1544.1" r="9"/>
<circle cx="1140" cy="1546.7" r="9"/>
</g>
<g fill="#3d8cbf">
<circle cx="1138.1" cy="1549.4" r="9"/>
<circle cx="1136.2" cy="1552" r="9"/>
</g>
<g fill="#fae9df">
<circle cx="1091.6" cy="1787" r="4"/>
<circle cx="1093.6" cy="1783.5" r="4"/>
<circle cx="1095.7" cy="1780.1" r="4"/>
<circle cx="1097.7" cy="1776.6" r="4"/>
<circle cx="1099.7" cy="1773.2" r="4"/>
<circle cx="1101.8" cy="1769.7" r="4"/>
<circle cx="1104.3" cy="1766.6" r="4"/>
<circle cx="1106.7" cy="1763.4" r="4"/>
<circle cx="1109.1" cy="1760.2" r="4"/>
<circle cx="1111.6" cy="1757" r="4"/>
<circle cx="1115" cy="1755" r="4"/>
<circle cx="1118.5" cy="1753" r="4"/>
<circle cx="1122" cy="1750.9" r="4"/>
<circle cx="1125.7" cy="1749.6" r="4"/>
<circle cx="1129.7" cy="1749" r="4"/>
<circle cx="1133.6" cy="1748.3" r="4"/>
<circle cx="1137.6" cy="1748.4" r="4"/>
<circle cx="1141.5" cy="1749" r="4"/>
<circle cx="1145.5" cy="1749.7" r="4"/>
<circle cx="1149.2" cy="1750.9" r="4"/>
<circle cx="1152.7" cy="1753" r="4"/>
<circle cx="1156.2" cy="1755" r="4"/>
<circle cx="1159.6" cy="1757" r="4"/>
<circle cx="1162.1" cy="1760.2" r="4"/>
<circle cx="1164.5" cy="1763.4" r="4"/>
<circle cx="1166.9" cy="1766.6" r="4"/>
<circle cx="1169.4" cy="1769.7" r="4"/>
<circle cx="1171.5" cy="1773.2" r="4"/>
<circle cx="1173.5" cy="1776.6" r="4"/>
<circle cx="1175.5" cy="1780.1" r="4"/>
<circle cx="1177.6" cy="1783.5" r="4"/>
<circle cx="1179.6" cy="1787" r="4"/>
</g>
<g fill="#fae9df">
<circle cx="1117.6" cy="1787" r="4"/>
<circle cx="1120.5" cy="1783.9" r="4"/>
<circle cx="1123.3" cy="1780.7" r="4"/>
<circle cx="1126.2" cy="1777.6" r="4"/>
<circle cx="1129.6" cy="1775.2" r="4"/>
<circle cx="1133.6" cy="1773.7" r="4"/>
<circle cx="1137.6" cy="1773.8" r="4"/>
<circle cx="1141.6" cy="1775.3" r="4"/>
<circle cx="1145" cy="1777.6" r="4"/>
<circle cx="1147.9" cy="1780.7" r="4"/>
<circle cx="1150.7" cy="1783.9" r="4"/>
<circle cx="1153.6" cy="1787" r="4"/>
</g>
<g fill="#f8f2ef">
<circle cx="1092.6" cy="1780" r="1.5"/>
<circle cx="1098.6" cy="1768" r="1.5"/>
<circle cx="1105.6" cy="1755" r="1.5"/>
<circle cx="1112.6" cy="1743" r="1.5"/>
<circle cx="1117.6" cy="1735" r="1.5"/>
</g>
<g fill="#f8f2ef">
<circle cx="1153.6" cy="1735" r="1.5"/>
<circle cx="1158.6" cy="1743" r="1.5"/>
<circle cx="1165.6" cy="1755" r="1.5"/>
<circle cx="1171.6" cy="1768" r="1.5"/>
<circle cx="1177.6" cy="1780" r="1.5"/>
</g>
<g fill="#f4a582">
<circle cx="1084.6" cy="1611.9" r="7"/>
<circle cx="1086.1" cy="1615" r="7"/>
<circle cx="1087.5" cy="1618.2" r="7"/>
<circle cx="1089" cy="1621.3" r="7"/>
<circle cx="1090.4" cy="1624.5" r="7"/>
<circle cx="1091.9" cy="1627.6" r="7"/>
<circle cx="1093.3" cy="1630.8" r="7"/>
<circle cx="1094.7" cy="1633.9" r="7"/>
</g>
<g fill="#f6ae8e">
<circle cx="1096.1" cy="1637.1" r="7"/>
<circle cx="1097.5" cy="1640.2" r="7"/>
<circle cx="1098.9" cy="1643.4" r="7"/>
<circle cx="1100.3" cy="1646.5" r="7"/>
<circle cx="1101.8" cy="1649.7" r="7"/>
<circle cx="1103.3" cy="1652.8" r="7"/>
</g>
<g fill="#f7b799">
<circle cx="1104.7" cy="1655.9" r="7"/>
<circle cx="1106.2" cy="1659.1" r="7"/>
<circle cx="1107.7" cy="1662.2" r="7"/>
<circle cx="1109.1" cy="1665.4" r="6.9"/>
<circle cx="1110.5" cy="1668.5" r="6.8"/>
</g>
<g fill="#f8c0a4">
<circle cx="1111.9" cy="1671.7" r="6.7"/>
<circle cx="1113.3" cy="1674.8" r="6.6"/>
<circle cx="1114.7" cy="1678" r="6.6"/>
<circle cx="1116.1" cy="1681.1" r="6.5"/>
<circle cx="1117.6" cy="1684.3" r="6.5"/>
<circle cx="1119.1" cy="1687.4" r="6.5"/>
</g>
<g fill="#fac9b0">
<circle cx="1120.6" cy="1690.5" r="6.5"/>
<circle cx="1122" cy="1693.7" r="6.5"/>
<circle cx="1123.5" cy="1696.8" r="6.5"/>
<circle cx="1125.3" cy="1699.8" r="6.5"/>
</g>
<g fill="#fcd2bc">
<circle cx="1127" cy="1702.7" r="6.5"/>
<circle cx="1128.8" cy="1705.7" r="6.5"/>
<circle cx="1130.9" cy="1708.5" r="6.4"/>
</g>
<g fill="#fddbc7">
<circle cx="1133.1" cy="1711.1" r="6.2"/>
<circle cx="1135.4" cy="1713.7" r="6"/>
</g>
<g fill="#f4a582">
<circle cx="1187" cy="1611.9" r="7"/>
<circle cx="1185.5" cy="1615" r="7"/>
<circle cx="1184.1" cy="1618.2" r="7"/>
<circle cx="1182.6" cy="1621.3" r="7"/>
<circle cx="1181.2" cy="1624.5" r="7"/>
<circle cx="1179.7" cy="1627.6" r="7"/>
<circle cx="1178.3" cy="1630.8" r="7"/>
<circle cx="1176.9" cy="1633.9" r="7"/>
</g>
<g fill="#f6ae8e">
<circle cx="1175.5" cy="1637.1" r="7"/>
<circle cx="1174.1" cy="1640.2" r="7"/>
<circle cx="1172.7" cy="1643.4" r="7"/>
<circle cx="1171.3" cy="1646.5" r="7"/>
<circle cx="1169.8" cy="1649.7" r="7"/>
<circle cx="1168.3" cy="1652.8" r="7"/>
</g>
<g fill="#f7b799">
<circle cx="1166.9" cy="1655.9" r="7"/>
<circle cx="1165.4" cy="1659.1" r="7"/>
<circle cx="1163.9" cy="1662.2" r="7"/>
<circle cx="1162.5" cy="1665.4" r="6.9"/>
<circle cx="1161.1" cy="1668.5" r="6.8"/>
</g>
<g fill="#f8c0a4">
<circle cx="1159.7" cy="1671.7" r="6.7"/>
<circle cx="1158.3" cy="1674.8" r="6.6"/>
<circle cx="1156.9" cy="1678" r="6.6"/>
<circle cx="1155.5" cy="1681.1" r="6.5"/>
<circle cx="1154" cy="1684.3" r="6.5"/>
<circle cx="1152.5" cy="1687.4" r="6.5"/>
</g>
<g fill="#fac9b0">
<circle cx="1151" cy="1690.5" r="6.5"/>
<circle cx="1149.6" cy="1693.7" r="6.5"/>
<circle cx="1148.1" cy="1696.8" r="6.5"/>
<circle cx="1146.3" cy="1699.8" r="6.5"/>
</g>
<g fill="#fcd2bc">
<circle cx="1144.6" cy="1702.7" r="6.5"/>
<circle cx="1142.8" cy="1705.7" r="6.5"/>
<circle cx="1140.7" cy="1708.5" r="6.4"/>
</g>
<g fill="#fddbc7">
<circle cx="1138.5" cy="1711.1" r="6.2"/>
<circle cx="1136.2" cy="1713.7" r="6"/>
</g>
<g fill="#db6c56">
<circle cx="1104.1" cy="1752.6" r="9"/>
<circle cx="1105.6" cy="1749.7" r="9"/>
<circle cx="1107" cy="1746.9" r="9"/>
<circle cx="1108.5" cy="1744" r="9"/>
<circle cx="1110" cy="1741.2" r="9"/>
<circle cx="1111.8" cy="1738.6" r="9"/>
<circle cx="1114" cy="1736.2" r="9"/>
<circle cx="1116.1" cy="1733.8" r="9"/>
<circle cx="1118.2" cy="1731.4" r="9"/>
<circle cx="1121" cy="1729.9" r="9"/>
<circle cx="1124" cy="1728.7" r="9"/>
<circle cx="1126.9" cy="1727.5" r="9"/>
<circle cx="1130.1" cy="1727.2" r="9"/>
<circle cx="1133.3" cy="1726.9" r="9"/>
<circle cx="1136.5" cy="1726.8" r="9"/>
<circle cx="1139.7" cy="1727.1" r="9"/>
<circle cx="1142.9" cy="1727.4" r="9"/>
<circle cx="1145.9" cy="1728.5" r="9"/>
<circle cx="1148.8" cy="1729.8" r="9"/>
<circle cx="1151.7" cy="1731.1" r="9"/>
<circle cx="1153.8" cy="1733.5" r="9"/>
<circle cx="1156" cy="1735.9" r="9"/>
<circle cx="1158.1" cy="1738.3" r="9"/>
<circle cx="1160" cy="1740.9" r="9"/>
<circle cx="1161.3" cy="1743.8" r="9"/>
<circle cx="1162.6" cy="1746.7" r="9"/>
<circle cx="1163.9" cy="1749.7" r="9"/>
<circle cx="1165.2" cy="1752.6" r="9"/>
</g>
<g fill="#ca4842">
<circle cx="1084.6" cy="1580" r="8"/>
<circle cx="1087.4" cy="1578.5" r="8.1"/>
</g>
<g fill="#d05447">
<circle cx="1090.3" cy="1576.9" r="8.3"/>
<circle cx="1093.1" cy="1575.4" r="8.4"/>
<circle cx="1096" cy="1573.9" r="8.5"/>
</g>
<g fill="#d6604d">
<circle cx="1099" cy="1572.9" r="8.5"/>
<circle cx="1102.1" cy="1571.8" r="8.5"/>
</g>
<g fill="#db6c56">
<circle cx="1105.2" cy="1570.8" r="8.5"/>
<circle cx="1108.3" cy="1569.9" r="8.5"/>
<circle cx="1111.5" cy="1569.4" r="8.5"/>
</g>
<g fill="#e0775f">
<circle cx="1114.7" cy="1569" r="8.5"/>
<circle cx="1117.9" cy="1568.5" r="8.5"/>
<circle cx="1121.1" cy="1568.1" r="8.5"/>
<circle cx="1124.3" cy="1567.9" r="8.5"/>
<circle cx="1127.5" cy="1567.7" r="8.5"/>
<circle cx="1130.8" cy="1567.6" r="8.5"/>
<circle cx="1134" cy="1567.5" r="8.5"/>
<circle cx="1137.2" cy="1567.5" r="8.5"/>
<circle cx="1140.4" cy="1567.6" r="8.5"/>
<circle cx="1143.7" cy="1567.7" r="8.5"/>
<circle cx="1146.9" cy="1567.9" r="8.5"/>
<circle cx="1150.1" cy="1568.1" r="8.5"/>
<circle cx="1153.3" cy="1568.5" r="8.5"/>
<circle cx="1156.5" cy="1569" r="8.5"/>
</g>
<g fill="#db6c56">
<circle cx="1159.7" cy="1569.4" r="8.5"/>
<circle cx="1162.9" cy="1569.9" r="8.5"/>
<circle cx="1166" cy="1570.8" r="8.5"/>
</g>
<g fill="#d6604d">
<circle cx="1169.1" cy="1571.8" r="8.5"/>
<circle cx="1172.2" cy="1572.9" r="8.5"/>
</g>
<g fill="#d05447">
<circle cx="1175.2" cy="1573.9" r="8.5"/>
<circle cx="1178.1" cy="1575.4" r="8.4"/>
<circle cx="1180.9" cy="1576.9" r="8.3"/>
</g>
<g fill="#ca4842">
<circle cx="1183.8" cy="1578.5" r="8.1"/>
<circle cx="1186.6" cy="1580" r="8"/>
</g>
<g fill="#e58268">
<circle cx="1097.3" cy="1592" r="6"/>
<circle cx="1100" cy="1589.9" r="6"/>
</g>
<g fill="#ea8e70">
<circle cx="1102.8" cy="1587.8" r="6"/>
<circle cx="1105.5" cy="1585.6" r="6"/>
<circle cx="1108.4" cy="1583.8" r="6"/>
<circle cx="1111.7" cy="1582.8" r="6"/>
</g>
<g fill="#ef9979">
<circle cx="1115" cy="1581.9" r="6"/>
<circle cx="1118.3" cy="1580.9" r="6"/>
<circle cx="1121.7" cy="1580" r="6"/>
<circle cx="1125.1" cy="1579.7" r="6"/>
<circle cx="1128.6" cy="1579.5" r="6"/>
<circle cx="1132" cy="1579.2" r="6"/>
<circle cx="1135.5" cy="1579" r="6"/>
<circle cx="1138.9" cy="1579.2" r="6"/>
<circle cx="1142.4" cy="1579.5" r="6"/>
<circle cx="1145.8" cy="1579.7" r="6"/>
<circle cx="1149.3" cy="1580" r="6"/>
<circle cx="1152.6" cy="1580.9" r="6"/>
<circle cx="1156" cy="1581.8" r="6"/>
</g>
<g fill="#ea8e70">
<circle cx="1159.3" cy="1582.8" r="6"/>
<circle cx="1162.6" cy="1583.7" r="6"/>
<circle cx="1165.5" cy="1585.5" r="6"/>
<circle cx="1168.2" cy="1587.7" r="6"/>
</g>
<g fill="#e58268">
<circle cx="1170.9" cy="1589.8" r="6"/>
<circle cx="1173.6" cy="1592" r="6"/>
</g>
<g fill="#991027">
<circle cx="1084.6" cy="1585" r="9.5"/>
<circle cx="1086" cy="1588" r="9.5"/>
<circle cx="1087.4" cy="1591" r="9.5"/>
<circle cx="1088.8" cy="1594" r="9.5"/>
<circle cx="1090.2" cy="1597" r="9.5"/>
<circle cx="1091.6" cy="1600" r="9.5"/>
<circle cx="1093.1" cy="1602.9" r="9.5"/>
<circle cx="1094.7" cy="1605.8" r="9.5"/>
<circle cx="1096.2" cy="1608.7" r="9.5"/>
<circle cx="1097.8" cy="1611.6" r="9.5"/>
<circle cx="1099.4" cy="1614.5" r="9.5"/>
<circle cx="1100.9" cy="1617.4" r="9.5"/>
<circle cx="1102.5" cy="1620.4" r="9.5"/>
</g>
<g fill="#a61429">
<circle cx="1104" cy="1623.3" r="9.5"/>
<circle cx="1105.6" cy="1626.2" r="9.5"/>
<circle cx="1107.1" cy="1629.1" r="9.5"/>
<circle cx="1108.7" cy="1632" r="9.5"/>
<circle cx="1110.2" cy="1634.9" r="9.5"/>
</g>
<g fill="#b2182b">
<circle cx="1111.8" cy="1637.8" r="9.5"/>
<circle cx="1113.3" cy="1640.8" r="9.5"/>
<circle cx="1114.9" cy="1643.7" r="9.5"/>
<circle cx="1116.7" cy="1646.5" r="9.5"/>
<circle cx="1118.6" cy="1649.1" r="9.5"/>
</g>
<g fill="#b82431">
<circle cx="1120.5" cy="1651.8" r="9.5"/>
<circle cx="1122.5" cy="1654.5" r="9.5"/>
<circle cx="1124.6" cy="1657" r="9.5"/>
</g>
<g fill="#be3036">
<circle cx="1126.9" cy="1659.3" r="9.5"/>
<circle cx="1129.3" cy="1661.7" r="9.5"/>
<circle cx="1132.3" cy="1662.9" r="9.5"/>
<circle cx="1135.4" cy="1664" r="9.5"/>
</g>
<g fill="#991027">
<circle cx="1187" cy="1585" r="9.5"/>
<circle cx="1185.6" cy="1588" r="9.5"/>
<circle cx="1184.2" cy="1591" r="9.5"/>
<circle cx="1182.8" cy="1594" r="9.5"/>
<circle cx="1181.4" cy="1597" r="9.5"/>
<circle cx="1180" cy="1600" r="9.5"/>
<circle cx="1178.5" cy="1602.9" r="9.5"/>
<circle cx="1176.9" cy="1605.8" r="9.5"/>
<circle cx="1175.4" cy="1608.7" r="9.5"/>
<circle cx="1173.8" cy="1611.6" r="9.5"/>
<circle cx="1172.2" cy="1614.5" r="9.5"/>
<circle cx="1170.7" cy="1617.4" r="9.5"/>
<circle cx="1169.1" cy="1620.4" r="9.5"/>
</g>
<g fill="#a61429">
<circle cx="1167.6" cy="1623.3" r="9.5"/>
<circle cx="1166" cy="1626.2" r="9.5"/>
<circle cx="1164.5" cy="1629.1" r="9.5"/>
<circle cx="1162.9" cy="1632" r="9.5"/>
<circle cx="1161.4" cy="1634.9" r="9.5"/>
</g>
<g fill="#b2182b">
<circle cx="1159.8" cy="1637.8" r="9.5"/>
<circle cx="1158.3" cy="1640.8" r="9.5"/>
<circle cx="1156.7" cy="1643.7" r="9.5"/>
<circle cx="1154.9" cy="1646.5" r="9.5"/>
<circle cx="1153" cy="1649.1" r="9.5"/>
</g>
<g fill="#b82431">
<circle cx="1151.1" cy="1651.8" r="9.5"/>
<circle cx="1149.1" cy="1654.5" r="9.5"/>
<circle cx="1147" cy="1657" r="9.5"/>
</g>
<g fill="#be3036">
<circle cx="1144.7" cy="1659.3" r="9.5"/>
<circle cx="1142.3" cy="1661.7" r="9.5"/>
<circle cx="1139.3" cy="1662.9" r="9.5"/>
<circle cx="1136.2" cy="1664" r="9.5"/>
</g>
<g fill="#d6604d">
<circle cx="1096.7" cy="1587.8" r="7"/>
<circle cx="1099.3" cy="1585.9" r="7"/>
<circle cx="1101.9" cy="1584.1" r="7"/>
<circle cx="1104.6" cy="1582.2" r="7"/>
<circle cx="1107.2" cy="1580.3" r="7"/>
<circle cx="1110.2" cy="1579.3" r="7"/>
<circle cx="1113.3" cy="1578.4" r="7"/>
<circle cx="1116.4" cy="1577.5" r="7"/>
<circle cx="1119.5" cy="1576.6" r="7"/>
<circle cx="1122.6" cy="1575.9" r="7"/>
<circle cx="1125.8" cy="1575.7" r="7"/>
<circle cx="1129" cy="1575.5" r="7"/>
<circle cx="1132.2" cy="1575.2" r="7"/>
<circle cx="1135.4" cy="1575" r="7"/>
<circle cx="1138.6" cy="1575.2" r="7"/>
<circle cx="1141.9" cy="1575.5" r="7"/>
<circle cx="1145.1" cy="1575.7" r="7"/>
<circle cx="1148.3" cy="1575.9" r="7"/>
<circle cx="1151.4" cy="1576.5" r="7"/>
<circle cx="1154.5" cy="1577.4" r="7"/>
<circle cx="1157.6" cy="1578.3" r="7"/>
<circle cx="1160.7" cy="1579.2" r="7"/>
<circle cx="1163.8" cy="1580.1" r="7"/>
<circle cx="1166.3" cy="1582" r="7"/>
<circle cx="1168.9" cy="1584" r="7"/>
<circle cx="1171.5" cy="1585.9" r="7"/>
<circle cx="1174.1" cy="1587.8" r="7"/>
</g>
<g fill="#509bc8">
<circle cx="1107.8" cy="1570.2" r="8.3"/>
<circle cx="1111.1" cy="1570.1" r="8.3"/>
<circle cx="1114.3" cy="1570.1" r="8.3"/>
<circle cx="1117.6" cy="1570" r="8.3"/>
<circle cx="1120.9" cy="1570" r="8.3"/>
<circle cx="1124.1" cy="1570" r="8.3"/>
<circle cx="1127.4" cy="1570" r="8.3"/>
<circle cx="1130.7" cy="1570" r="8.3"/>
<circle cx="1133.9" cy="1570" r="8.3"/>
<circle cx="1137.2" cy="1570" r="8.3"/>
<circle cx="1140.4" cy="1570" r="8.3"/>
<circle cx="1143.7" cy="1570" r="8.3"/>
<circle cx="1147" cy="1570" r="8.3"/>
<circle cx="1150.2" cy="1570" r="8.3"/>
<circle cx="1153.5" cy="1570" r="8.3"/>
<circle cx="1156.8" cy="1570.1" r="8.3"/>
<circle cx="1160" cy="1570.1" r="8.3"/>
<circle cx="1163.3" cy="1570.2" r="8.3"/>
</g>
<g fill="#be3036">
<circle cx="1098.5" cy="1572" r="8"/>
<circle cx="1093.6" cy="1574" r="8"/>
</g>
<g fill="#be3036">
<circle cx="1173.1" cy="1572" r="8"/>
<circle cx="1178" cy="1574" r="8"/>
</g>
<g fill="#a61429">
<circle cx="1188" cy="1582.2" r="9"/>
<circle cx="1190.1" cy="1584.7" r="9"/>
</g>
<g fill="#b2182b">
<circle cx="1192.1" cy="1587.2" r="9"/>
<circle cx="1194.2" cy="1589.8" r="9"/>
</g>
<g fill="#b82431">
<circle cx="1196" cy="1592.5" r="9"/>
</g>
<g fill="#be3036">
<circle cx="1197.8" cy="1595.2" r="9"/>
<circle cx="1199.6" cy="1597.9" r="9"/>
</g>
<g fill="#c43c3c">
<circle cx="1201" cy="1600.9" r="9"/>
</g>
<g fill="#ca4842">
<circle cx="1202.5" cy="1603.8" r="9"/>
<circle cx="1203.9" cy="1606.7" r="9"/>
</g>
<g fill="#d05447">
<circle cx="1205.4" cy="1609.6" r="8.8"/>
<circle cx="1206.9" cy="1612.5" r="8.7"/>
</g>
<g fill="#d6604d">
<circle cx="1208.3" cy="1615.4" r="8.5"/>
<circle cx="1209.5" cy="1618.5" r="8.4"/>
<circle cx="1210.6" cy="1621.5" r="8.3"/>
</g>
<g fill="#db6c56">
<circle cx="1211.7" cy="1624.6" r="8.2"/>
<circle cx="1212.9" cy="1627.7" r="8.1"/>
<circle cx="1214" cy="1630.7" r="8"/>
<circle cx="1214.9" cy="1633.9" r="7.9"/>
</g>
<g fill="#e0775f">
<circle cx="1215.8" cy="1637" r="7.7"/>
<circle cx="1216.7" cy="1640.1" r="7.6"/>
<circle cx="1217.6" cy="1643.3" r="7.5"/>
<circle cx="1217.6" cy="1646.5" r="7.4"/>
<circle cx="1217.6" cy="1649.8" r="7.3"/>
</g>
<g fill="#e58268">
<circle cx="1217.6" cy="1653" r="7.1"/>
<circle cx="1217.6" cy="1656.3" r="7"/>
</g>
<g fill="#f6ae8e">
<circle cx="1188" cy="1619.3" r="6.5"/>
<circle cx="1190.3" cy="1621.9" r="6.6"/>
<circle cx="1192.5" cy="1624.4" r="6.7"/>
<circle cx="1194.8" cy="1627" r="6.8"/>
<circle cx="1197.1" cy="1629.5" r="6.8"/>
<circle cx="1199.3" cy="1632.1" r="6.9"/>
<circle cx="1201.5" cy="1634.7" r="7"/>
<circle cx="1203.5" cy="1637.5" r="7"/>
<circle cx="1205.4" cy="1640.3" r="7"/>
<circle cx="1207.3" cy="1643.2" r="7"/>
</g>
<g fill="#f7b799">
<circle cx="1209.3" cy="1646" r="7"/>
<circle cx="1211.2" cy="1648.8" r="7"/>
<circle cx="1213.2" cy="1651.6" r="7"/>
<circle cx="1214.9" cy="1654.5" r="7"/>
<circle cx="1216.4" cy="1657.6" r="6.9"/>
</g>
<g fill="#f8c0a4">
<circle cx="1217.9" cy="1660.7" r="6.8"/>
<circle cx="1219.5" cy="1663.7" r="6.7"/>
<circle cx="1221" cy="1666.8" r="6.7"/>
</g>
<g fill="#fac9b0">
<circle cx="1222.5" cy="1669.8" r="6.6"/>
<circle cx="1224" cy="1672.9" r="6.5"/>
<circle cx="1225.6" cy="1675.9" r="6.5"/>
<circle cx="1227.1" cy="1679" r="6.5"/>
<circle cx="1228.6" cy="1682.1" r="6.5"/>
</g>
<g fill="#fcd2bc">
<circle cx="1230.2" cy="1685.1" r="6.5"/>
<circle cx="1231.7" cy="1688.2" r="6.5"/>
<circle cx="1233.3" cy="1691.2" r="6.5"/>
<circle cx="1235.1" cy="1694.1" r="6.4"/>
</g>
<g fill="#fddbc7">
<circle cx="1237.5" cy="1696.5" r="6.2"/>
<circle cx="1239.9" cy="1698.9" r="6"/>
</g>
<g fill="#fac9b0">
<circle cx="1217.6" cy="1574.8" r="5"/>
<circle cx="1219.5" cy="1587.8" r="5"/>
<circle cx="1223.1" cy="1597" r="5"/>
<circle cx="1225" cy="1606.3" r="5"/>
<circle cx="1228.7" cy="1617.4" r="5"/>
<circle cx="1234.3" cy="1628.5" r="5"/>
<circle cx="1238.6" cy="1630" r="5"/>
</g>
<g fill="#fddbc7">
<circle cx="1252.6" cy="1575" r="4.5"/>
<circle cx="1249.6" cy="1596" r="4.5"/>
<circle cx="1246.6" cy="1614" r="4.5"/>
</g>
<g fill="#f6ae8e">
<circle cx="1252.8" cy="1643.3" r="6.5"/>
<circle cx="1254.6" cy="1658" r="6.5"/>
<circle cx="1250" cy="1673" r="6.5"/>
<circle cx="1246.3" cy="1686" r="6.5"/>
</g>
<g fill="#fddbc7">
<circle cx="1241.6" cy="1628" r="5"/>
<circle cx="1245.8" cy="1628.9" r="5"/>
<circle cx="1249.9" cy="1629.9" r="5"/>
<circle cx="1253.9" cy="1631.3" r="5"/>
<circle cx="1257.9" cy="1632.9" r="5"/>
<circle cx="1261.8" cy="1634.7" r="5"/>
<circle cx="1265.4" cy="1636.9" r="5"/>
<circle cx="1269.1" cy="1639.1" r="5"/>
<circle cx="1272" cy="1642.1" r="5"/>
<circle cx="1274.5" cy="1645.6" r="5"/>
<circle cx="1276.9" cy="1649.1" r="5"/>
<circle cx="1279.2" cy="1652.7" r="5"/>
<circle cx="1281.4" cy="1656.3" r="5"/>
<circle cx="1283.6" cy="1660" r="5"/>
</g>
<g fill="#fddbc7">
<circle cx="1239.9" cy="1693.3" r="6"/>
<circle cx="1242.9" cy="1692.7" r="6"/>
<circle cx="1245.9" cy="1692" r="6"/>
<circle cx="1248.9" cy="1691.4" r="6"/>
<circle cx="1251.9" cy="1690.8" r="6"/>
<circle cx="1254.9" cy="1690.1" r="6"/>
<circle cx="1257.9" cy="1689.7" r="6"/>
<circle cx="1261" cy="1689.3" r="6"/>
<circle cx="1264" cy="1688.9" r="6"/>
<circle cx="1267.1" cy="1688.5" r="6"/>
<circle cx="1270.1" cy="1688.1" r="6"/>
<circle cx="1273.1" cy="1688.3" r="6"/>
<circle cx="1276.2" cy="1688.7" r="6"/>
<circle cx="1279.2" cy="1689.1" r="6"/>
<circle cx="1282.3" cy="1689.6" r="6"/>
<circle cx="1285.3" cy="1690" r="6"/>
<circle cx="1287.9" cy="1691.6" r="6"/>
<circle cx="1290.4" cy="1693.3" r="6"/>
<circle cx="1292.9" cy="1695.1" r="6"/>
<circle cx="1295.4" cy="1696.9" r="6"/>
<circle cx="1297.6" cy="1699" r="6"/>
<circle cx="1299.8" cy="1701.2" r="6"/>
<circle cx="1301.9" cy="1703.3" r="6"/>
<circle cx="1304.1" cy="1705.5" r="6"/>
<circle cx="1306.3" cy="1707.7" r="6"/>
<circle cx="1308.4" cy="1709.8" r="6"/>
<circle cx="1310.6" cy="1712" r="6"/>
</g>
<g fill="#fce0cf">
<circle cx="1239.9" cy="1698" r="5"/>
<circle cx="1242.8" cy="1698.9" r="5"/>
<circle cx="1245.8" cy="1699.9" r="5"/>
<circle cx="1248.7" cy="1700.8" r="5"/>
<circle cx="1251.6" cy="1701.7" r="5"/>
<circle cx="1254.6" cy="1702.7" r="5"/>
<circle cx="1257.5" cy="1703.6" r="5"/>
<circle cx="1260.4" cy="1704.6" r="5"/>
<circle cx="1263.4" cy="1705.6" r="5"/>
<circle cx="1266.3" cy="1706.6" r="5"/>
<circle cx="1269.2" cy="1707.5" r="5"/>
<circle cx="1272.1" cy="1708.6" r="5"/>
<circle cx="1275" cy="1709.7" r="5"/>
<circle cx="1277.8" cy="1710.9" r="5"/>
<circle cx="1280.7" cy="1712" r="5"/>
<circle cx="1283.5" cy="1713.2" r="5"/>
<circle cx="1286.4" cy="1714.3" r="5"/>
<circle cx="1289.3" cy="1715.5" r="5"/>
<circle cx="1292.1" cy="1716.6" r="5"/>
<circle cx="1295" cy="1717.8" r="5"/>
<circle cx="1297.8" cy="1718.9" r="5"/>
<circle cx="1300.7" cy="1720" r="5"/>
<circle cx="1303.7" cy="1720.8" r="5"/>
<circle cx="1306.7" cy="1721.6" r="5"/>
<circle cx="1309.6" cy="1722.4" r="5"/>
<circle cx="1312.6" cy="1723.2" r="5"/>
<circle cx="1315.6" cy="1724" r="5"/>
</g>
<g fill="#e0775f">
<circle cx="1263.9" cy="1615.6" r="8.5"/>
<circle cx="1264.9" cy="1612.5" r="8.5"/>
</g>
<g fill="#db6c56">
<circle cx="1265.8" cy="1609.5" r="8.5"/>
<circle cx="1267" cy="1606.5" r="8.5"/>
<circle cx="1268.9" cy="1603.9" r="8.5"/>
<circle cx="1270.8" cy="1601.4" r="8.5"/>
<circle cx="1272.6" cy="1598.7" r="8.5"/>
</g>
<g fill="#d6604d">
<circle cx="1274.3" cy="1596" r="8.5"/>
<circle cx="1276.1" cy="1593.3" r="8.5"/>
<circle cx="1278.2" cy="1590.8" r="8.5"/>
<circle cx="1280.2" cy="1588.3" r="8.5"/>
<circle cx="1282.4" cy="1586" r="8.5"/>
</g>
<g fill="#d05447">
<circle cx="1284.7" cy="1583.8" r="8.5"/>
<circle cx="1287.2" cy="1581.8" r="8.5"/>
<circle cx="1289.8" cy="1579.9" r="8.5"/>
<circle cx="1292.5" cy="1578.1" r="8.5"/>
<circle cx="1295.3" cy="1576.6" r="8.5"/>
<circle cx="1298.3" cy="1575.4" r="8.5"/>
<circle cx="1301.3" cy="1574.4" r="8.5"/>
<circle cx="1304.4" cy="1573.6" r="8.5"/>
<circle cx="1307.6" cy="1573" r="8.5"/>
</g>
<g fill="#509bc8">
<circle cx="1312.1" cy="1572" r="10"/>
<circle cx="1317.6" cy="1572" r="9.5"/>
</g>
<g fill="#5da4cc">
<circle cx="1321.6" cy="1572" r="9"/>
</g>
<g fill="#991027">
<circle cx="1288.9" cy="1594.3" r="9"/>
</g>
<g fill="#a61429">
<circle cx="1292.6" cy="1615.6" r="9"/>
</g>
<g fill="#b2182b">
<circle cx="1296.3" cy="1635" r="8.8"/>
</g>
<g fill="#b82431">
<circle cx="1301" cy="1650.7" r="8.5"/>
</g>
<g fill="#be3036">
<circle cx="1302.4" cy="1653.7" r="8.5"/>
<circle cx="1303.9" cy="1656.6" r="8.5"/>
</g>
<g fill="#c43c3c">
<circle cx="1305.3" cy="1659.6" r="8.5"/>
<circle cx="1307.1" cy="1662.2" r="8.5"/>
</g>
<g fill="#ca4842">
<circle cx="1309.9" cy="1664" r="8.5"/>
<circle cx="1312.6" cy="1665.8" r="8.4"/>
</g>
<g fill="#d05447">
<circle cx="1315.1" cy="1667.9" r="8.2"/>
</g>
<g fill="#d6604d">
<circle cx="1317.6" cy="1670" r="8"/>
</g>
<g fill="#db6c56">
<circle cx="1318.8" cy="1673.1" r="7.8"/>
<circle cx="1319.9" cy="1676.2" r="7.7"/>
</g>
<g fill="#e0775f">
<circle cx="1321" cy="1679.3" r="7.5"/>
</g>
<g fill="#e58268">
<circle cx="1321.4" cy="1682.5" r="7.4"/>
<circle cx="1321.4" cy="1685.8" r="7.3"/>
</g>
<g fill="#ea8e70">
<circle cx="1321.5" cy="1689.1" r="7.1"/>
</g>
<g fill="#ef9979">
<circle cx="1321.6" cy="1692.4" r="7"/>
</g>
<g fill="#f4a582">
<circle cx="1321.3" cy="1695.7" r="6.8"/>
<circle cx="1321" cy="1698.9" r="6.7"/>
</g>
<g fill="#f6ae8e">
<circle cx="1320.7" cy="1702.2" r="6.5"/>
</g>
<g fill="#f7b799">
<circle cx="1320.3" cy="1705.5" r="6.4"/>
<circle cx="1319.9" cy="1708.7" r="6.2"/>
</g>
<g fill="#f8c0a4">
<circle cx="1319.5" cy="1712" r="6"/>
</g>
<g fill="#db6c56">
<circle cx="1306.6" cy="1726.7" r="9"/>
<circle cx="1312.1" cy="1726.7" r="9"/>
<circle cx="1317.6" cy="1726.7" r="9"/>
</g>
<g fill="#e0775f">
<circle cx="1322.6" cy="1727" r="8.5"/>
</g>
<g fill="#fae9df">
<circle cx="1255.6" cy="1787" r="4"/>
<circle cx="1258.6" cy="1784" r="4"/>
<circle cx="1261.5" cy="1781.1" r="4"/>
<circle cx="1264.5" cy="1778.1" r="4"/>
<circle cx="1267.4" cy="1775.2" r="4"/>
<circle cx="1270.7" cy="1772.6" r="4"/>
<circle cx="1274.1" cy="1770.1" r="4"/>
<circle cx="1277.4" cy="1767.6" r="4"/>
<circle cx="1281" cy="1765.5" r="4"/>
<circle cx="1284.9" cy="1764" r="4"/>
<circle cx="1288.8" cy="1762.6" r="4"/>
<circle cx="1292.7" cy="1761.1" r="4"/>
<circle cx="1296.7" cy="1759.8" r="4"/>
<circle cx="1300.8" cy="1759" r="4"/>
<circle cx="1304.9" cy="1758.1" r="4"/>
<circle cx="1309" cy="1757.3" r="4"/>
<circle cx="1313.1" cy="1757.2" r="4"/>
<circle cx="1317.3" cy="1757.4" r="4"/>
<circle cx="1321.4" cy="1757.7" r="4"/>
<circle cx="1325.6" cy="1758" r="4"/>
</g>
<g fill="#fae9df">
<circle cx="1275.6" cy="1787" r="3.5"/>
<circle cx="1278.8" cy="1784.1" r="3.5"/>
<circle cx="1282.1" cy="1781.2" r="3.5"/>
<circle cx="1285.3" cy="1778.3" r="3.5"/>
<circle cx="1288.7" cy="1775.6" r="3.5"/>
<circle cx="1292" cy="1772.8" r="3.5"/>
<circle cx="1295.4" cy="1770.1" r="3.5"/>
<circle cx="1298.8" cy="1767.4" r="3.5"/>
<circle cx="1302.2" cy="1764.7" r="3.5"/>
<circle cx="1305.6" cy="1762" r="3.5"/>
</g>
<g fill="#f7b799">
<circle cx="1322.6" cy="1770" r="7"/>
<circle cx="1322.6" cy="1787" r="7"/>
</g>
</g>
<line x1="91.0" y1="1787.6" x2="99.6" y2="1787.6" stroke="#000" stroke-width="1.6" />
<line x1="91.0" y1="1760.7" x2="99.6" y2="1760.7" stroke="#000" stroke-width="1.6" />
<line x1="91.0" y1="1733.8" x2="99.6" y2="1733.8" stroke="#000" stroke-width="1.6" />
<line x1="82.6" y1="1706.9" x2="99.6" y2="1706.9" stroke="#000" stroke-width="1.6" />
<line x1="91.0" y1="1680.0" x2="99.6" y2="1680.0" stroke="#000" stroke-width="1.6" />
<line x1="91.0" y1="1653.1" x2="99.6" y2="1653.1" stroke="#000" stroke-width="1.6" />
<line x1="91.0" y1="1626.2" x2="99.6" y2="1626.2" stroke="#000" stroke-width="1.6" />
<line x1="91.0" y1="1599.3" x2="99.6" y2="1599.3" stroke="#000" stroke-width="1.6" />
<line x1="82.6" y1="1572.4" x2="99.6" y2="1572.4" stroke="#000" stroke-width="1.6" />
<line x1="91.0" y1="1545.5" x2="99.6" y2="1545.5" stroke="#000" stroke-width="1.6" />
<line x1="91.0" y1="1518.6" x2="99.6" y2="1518.6" stroke="#000" stroke-width="1.6" />
<line x1="91.0" y1="1491.7" x2="99.6" y2="1491.7" stroke="#000" stroke-width="1.6" />
<line x1="91.0" y1="1464.8" x2="99.6" y2="1464.8" stroke="#000" stroke-width="1.6" />
<line x1="82.6" y1="1437.9" x2="99.6" y2="1437.9" stroke="#000" stroke-width="1.6" />
<line x1="91.0" y1="1411.0" x2="99.6" y2="1411.0" stroke="#000" stroke-width="1.6" />
<line x1="91.0" y1="1384.1" x2="99.6" y2="1384.1" stroke="#000" stroke-width="1.6" />
<line x1="91.0" y1="1357.2" x2="99.6" y2="1357.2" stroke="#000" stroke-width="1.6" />
<line x1="91.0" y1="1330.3" x2="99.6" y2="1330.3" stroke="#000" stroke-width="1.6" />
<line x1="99.6" y1="1787.6" x2="99.6" y2="1804.6" stroke="#333" stroke-width="1.4" />
<line x1="151.7" y1="1787.6" x2="151.7" y2="1804.6" stroke="#333" stroke-width="1.4" />
<line x1="203.4" y1="1787.6" x2="203.4" y2="1804.6" stroke="#333" stroke-width="1.4" />
<line x1="255.5" y1="1787.6" x2="255.5" y2="1804.6" stroke="#333" stroke-width="1.4" />
<line x1="329.0" y1="1787.6" x2="329.0" y2="1804.6" stroke="#333" stroke-width="1.4" />
<line x1="342.7" y1="1787.6" x2="342.7" y2="1804.6" stroke="#333" stroke-width="1.4" />
<line x1="151.7" y1="1329.6" x2="151.7" y2="1787.6" stroke="#000" stroke-width="2.4" stroke-dasharray="8.9,4.1"/>
<line x1="203.4" y1="1329.6" x2="203.4" y2="1787.6" stroke="#000" stroke-width="2.4" stroke-dasharray="8.9,4.1"/>
<line x1="255.5" y1="1329.6" x2="255.5" y2="1787.6" stroke="#000" stroke-width="2.4" stroke-dasharray="8.9,4.1"/>
<line x1="329.0" y1="1329.6" x2="329.0" y2="1787.6" stroke="#000" stroke-width="2.4" stroke-dasharray="8.9,4.1"/>
<line x1="99.6" y1="1572.4" x2="342.7" y2="1572.4" stroke="#000" stroke-width="2.4" stroke-dasharray="8.7,4"/>
<rect x="99.6" y="1329.6" width="243.1" height="458.0" fill="none" stroke="#000" stroke-width="2.2"/>
<text x="99.8" y="1851.0" font-size="39" text-anchor="middle" fill="#000" >Y</text>
<text x="152.5" y="1851.0" font-size="39" text-anchor="middle" fill="#000" >Γ</text>
<text x="203.8" y="1851.0" font-size="39" text-anchor="middle" fill="#000" >X</text>
<text x="255.7" y="1851.0" font-size="39" text-anchor="middle" fill="#000" >M</text>
<text x="329.6" y="1851.0" font-size="39" text-anchor="middle" fill="#000" >Γ</text>
<text x="342.9" y="1851.0" font-size="39" text-anchor="middle" fill="#000" >Z</text>
<line x1="419.5" y1="1787.6" x2="428.1" y2="1787.6" stroke="#000" stroke-width="1.6" />
<line x1="419.5" y1="1760.7" x2="428.1" y2="1760.7" stroke="#000" stroke-width="1.6" />
<line x1="419.5" y1="1733.8" x2="428.1" y2="1733.8" stroke="#000" stroke-width="1.6" />
<line x1="411.1" y1="1706.9" x2="428.1" y2="1706.9" stroke="#000" stroke-width="1.6" />
<line x1="419.5" y1="1680.0" x2="428.1" y2="1680.0" stroke="#000" stroke-width="1.6" />
<line x1="419.5" y1="1653.1" x2="428.1" y2="1653.1" stroke="#000" stroke-width="1.6" />
<line x1="419.5" y1="1626.2" x2="428.1" y2="1626.2" stroke="#000" stroke-width="1.6" />
<line x1="419.5" y1="1599.3" x2="428.1" y2="1599.3" stroke="#000" stroke-width="1.6" />
<line x1="411.1" y1="1572.4" x2="428.1" y2="1572.4" stroke="#000" stroke-width="1.6" />
<line x1="419.5" y1="1545.5" x2="428.1" y2="1545.5" stroke="#000" stroke-width="1.6" />
<line x1="419.5" y1="1518.6" x2="428.1" y2="1518.6" stroke="#000" stroke-width="1.6" />
<line x1="419.5" y1="1491.7" x2="428.1" y2="1491.7" stroke="#000" stroke-width="1.6" />
<line x1="419.5" y1="1464.8" x2="428.1" y2="1464.8" stroke="#000" stroke-width="1.6" />
<line x1="411.1" y1="1437.9" x2="428.1" y2="1437.9" stroke="#000" stroke-width="1.6" />
<line x1="419.5" y1="1411.0" x2="428.1" y2="1411.0" stroke="#000" stroke-width="1.6" />
<line x1="419.5" y1="1384.1" x2="428.1" y2="1384.1" stroke="#000" stroke-width="1.6" />
<line x1="419.5" y1="1357.2" x2="428.1" y2="1357.2" stroke="#000" stroke-width="1.6" />
<line x1="419.5" y1="1330.3" x2="428.1" y2="1330.3" stroke="#000" stroke-width="1.6" />
<line x1="428.1" y1="1787.6" x2="428.1" y2="1804.6" stroke="#333" stroke-width="1.4" />
<line x1="480.2" y1="1787.6" x2="480.2" y2="1804.6" stroke="#333" stroke-width="1.4" />
<line x1="531.9" y1="1787.6" x2="531.9" y2="1804.6" stroke="#333" stroke-width="1.4" />
<line x1="584.0" y1="1787.6" x2="584.0" y2="1804.6" stroke="#333" stroke-width="1.4" />
<line x1="657.5" y1="1787.6" x2="657.5" y2="1804.6" stroke="#333" stroke-width="1.4" />
<line x1="671.2" y1="1787.6" x2="671.2" y2="1804.6" stroke="#333" stroke-width="1.4" />
<line x1="480.2" y1="1329.6" x2="480.2" y2="1787.6" stroke="#000" stroke-width="2.4" stroke-dasharray="8.9,4.1"/>
<line x1="531.9" y1="1329.6" x2="531.9" y2="1787.6" stroke="#000" stroke-width="2.4" stroke-dasharray="8.9,4.1"/>
<line x1="584.0" y1="1329.6" x2="584.0" y2="1787.6" stroke="#000" stroke-width="2.4" stroke-dasharray="8.9,4.1"/>
<line x1="657.5" y1="1329.6" x2="657.5" y2="1787.6" stroke="#000" stroke-width="2.4" stroke-dasharray="8.9,4.1"/>
<line x1="428.1" y1="1572.4" x2="671.2" y2="1572.4" stroke="#000" stroke-width="2.4" stroke-dasharray="8.7,4"/>
<rect x="428.1" y="1329.6" width="243.1" height="458.0" fill="none" stroke="#000" stroke-width="2.2"/>
<text x="428.3" y="1851.0" font-size="39" text-anchor="middle" fill="#000" >Y</text>
<text x="481.0" y="1851.0" font-size="39" text-anchor="middle" fill="#000" >Γ</text>
<text x="532.3" y="1851.0" font-size="39" text-anchor="middle" fill="#000" >X</text>
<text x="584.2" y="1851.0" font-size="39" text-anchor="middle" fill="#000" >M</text>
<text x="658.1" y="1851.0" font-size="39" text-anchor="middle" fill="#000" >Γ</text>
<text x="671.4" y="1851.0" font-size="39" text-anchor="middle" fill="#000" >Z</text>
<line x1="747.1" y1="1787.6" x2="755.7" y2="1787.6" stroke="#000" stroke-width="1.6" />
<line x1="747.1" y1="1760.7" x2="755.7" y2="1760.7" stroke="#000" stroke-width="1.6" />
<line x1="747.1" y1="1733.8" x2="755.7" y2="1733.8" stroke="#000" stroke-width="1.6" />
<line x1="738.7" y1="1706.9" x2="755.7" y2="1706.9" stroke="#000" stroke-width="1.6" />
<line x1="747.1" y1="1680.0" x2="755.7" y2="1680.0" stroke="#000" stroke-width="1.6" />
<line x1="747.1" y1="1653.1" x2="755.7" y2="1653.1" stroke="#000" stroke-width="1.6" />
<line x1="747.1" y1="1626.2" x2="755.7" y2="1626.2" stroke="#000" stroke-width="1.6" />
<line x1="747.1" y1="1599.3" x2="755.7" y2="1599.3" stroke="#000" stroke-width="1.6" />
<line x1="738.7" y1="1572.4" x2="755.7" y2="1572.4" stroke="#000" stroke-width="1.6" />
<line x1="747.1" y1="1545.5" x2="755.7" y2="1545.5" stroke="#000" stroke-width="1.6" />
<line x1="747.1" y1="1518.6" x2="755.7" y2="1518.6" stroke="#000" stroke-width="1.6" />
<line x1="747.1" y1="1491.7" x2="755.7" y2="1491.7" stroke="#000" stroke-width="1.6" />
<line x1="747.1" y1="1464.8" x2="755.7" y2="1464.8" stroke="#000" stroke-width="1.6" />
<line x1="738.7" y1="1437.9" x2="755.7" y2="1437.9" stroke="#000" stroke-width="1.6" />
<line x1="747.1" y1="1411.0" x2="755.7" y2="1411.0" stroke="#000" stroke-width="1.6" />
<line x1="747.1" y1="1384.1" x2="755.7" y2="1384.1" stroke="#000" stroke-width="1.6" />
<line x1="747.1" y1="1357.2" x2="755.7" y2="1357.2" stroke="#000" stroke-width="1.6" />
<line x1="747.1" y1="1330.3" x2="755.7" y2="1330.3" stroke="#000" stroke-width="1.6" />
<line x1="755.7" y1="1787.6" x2="755.7" y2="1804.6" stroke="#333" stroke-width="1.4" />
<line x1="807.8" y1="1787.6" x2="807.8" y2="1804.6" stroke="#333" stroke-width="1.4" />
<line x1="859.5" y1="1787.6" x2="859.5" y2="1804.6" stroke="#333" stroke-width="1.4" />
<line x1="911.6" y1="1787.6" x2="911.6" y2="1804.6" stroke="#333" stroke-width="1.4" />
<line x1="985.1" y1="1787.6" x2="985.1" y2="1804.6" stroke="#333" stroke-width="1.4" />
<line x1="998.8" y1="1787.6" x2="998.8" y2="1804.6" stroke="#333" stroke-width="1.4" />
<line x1="807.8" y1="1329.6" x2="807.8" y2="1787.6" stroke="#000" stroke-width="2.4" stroke-dasharray="8.9,4.1"/>
<line x1="859.5" y1="1329.6" x2="859.5" y2="1787.6" stroke="#000" stroke-width="2.4" stroke-dasharray="8.9,4.1"/>
<line x1="911.6" y1="1329.6" x2="911.6" y2="1787.6" stroke="#000" stroke-width="2.4" stroke-dasharray="8.9,4.1"/>
<line x1="985.1" y1="1329.6" x2="985.1" y2="1787.6" stroke="#000" stroke-width="2.4" stroke-dasharray="8.9,4.1"/>
<line x1="755.7" y1="1572.4" x2="998.8" y2="1572.4" stroke="#000" stroke-width="2.4" stroke-dasharray="8.7,4"/>
<rect x="755.7" y="1329.6" width="243.1" height="458.0" fill="none" stroke="#000" stroke-width="2.2"/>
<text x="755.9" y="1851.0" font-size="39" text-anchor="middle" fill="#000" >Y</text>
<text x="808.6" y="1851.0" font-size="39" text-anchor="middle" fill="#000" >Γ</text>
<text x="859.9" y="1851.0" font-size="39" text-anchor="middle" fill="#000" >X</text>
<text x="911.8" y="1851.0" font-size="39" text-anchor="middle" fill="#000" >M</text>
<text x="985.7" y="1851.0" font-size="39" text-anchor="middle" fill="#000" >Γ</text>
<text x="999.0" y="1851.0" font-size="39" text-anchor="middle" fill="#000" >Z</text>
<line x1="1075.1" y1="1787.6" x2="1083.7" y2="1787.6" stroke="#000" stroke-width="1.6" />
<line x1="1075.1" y1="1760.7" x2="1083.7" y2="1760.7" stroke="#000" stroke-width="1.6" />
<line x1="1075.1" y1="1733.8" x2="1083.7" y2="1733.8" stroke="#000" stroke-width="1.6" />
<line x1="1066.7" y1="1706.9" x2="1083.7" y2="1706.9" stroke="#000" stroke-width="1.6" />
<line x1="1075.1" y1="1680.0" x2="1083.7" y2="1680.0" stroke="#000" stroke-width="1.6" />
<line x1="1075.1" y1="1653.1" x2="1083.7" y2="1653.1" stroke="#000" stroke-width="1.6" />
<line x1="1075.1" y1="1626.2" x2="1083.7" y2="1626.2" stroke="#000" stroke-width="1.6" />
<line x1="1075.1" y1="1599.3" x2="1083.7" y2="1599.3" stroke="#000" stroke-width="1.6" />
<line x1="1066.7" y1="1572.4" x2="1083.7" y2="1572.4" stroke="#000" stroke-width="1.6" />
<line x1="1075.1" y1="1545.5" x2="1083.7" y2="1545.5" stroke="#000" stroke-width="1.6" />
<line x1="1075.1" y1="1518.6" x2="1083.7" y2="1518.6" stroke="#000" stroke-width="1.6" />
<line x1="1075.1" y1="1491.7" x2="1083.7" y2="1491.7" stroke="#000" stroke-width="1.6" />
<line x1="1075.1" y1="1464.8" x2="1083.7" y2="1464.8" stroke="#000" stroke-width="1.6" />
<line x1="1066.7" y1="1437.9" x2="1083.7" y2="1437.9" stroke="#000" stroke-width="1.6" />
<line x1="1075.1" y1="1411.0" x2="1083.7" y2="1411.0" stroke="#000" stroke-width="1.6" />
<line x1="1075.1" y1="1384.1" x2="1083.7" y2="1384.1" stroke="#000" stroke-width="1.6" />
<line x1="1075.1" y1="1357.2" x2="1083.7" y2="1357.2" stroke="#000" stroke-width="1.6" />
<line x1="1075.1" y1="1330.3" x2="1083.7" y2="1330.3" stroke="#000" stroke-width="1.6" />
<line x1="1083.7" y1="1787.6" x2="1083.7" y2="1804.6" stroke="#333" stroke-width="1.4" />
<line x1="1135.8" y1="1787.6" x2="1135.8" y2="1804.6" stroke="#333" stroke-width="1.4" />
<line x1="1187.5" y1="1787.6" x2="1187.5" y2="1804.6" stroke="#333" stroke-width="1.4" />
<line x1="1239.6" y1="1787.6" x2="1239.6" y2="1804.6" stroke="#333" stroke-width="1.4" />
<line x1="1313.1" y1="1787.6" x2="1313.1" y2="1804.6" stroke="#333" stroke-width="1.4" />
<line x1="1326.8" y1="1787.6" x2="1326.8" y2="1804.6" stroke="#333" stroke-width="1.4" />
<line x1="1135.8" y1="1329.6" x2="1135.8" y2="1787.6" stroke="#000" stroke-width="2.4" stroke-dasharray="8.9,4.1"/>
<line x1="1187.5" y1="1329.6" x2="1187.5" y2="1787.6" stroke="#000" stroke-width="2.4" stroke-dasharray="8.9,4.1"/>
<line x1="1239.6" y1="1329.6" x2="1239.6" y2="1787.6" stroke="#000" stroke-width="2.4" stroke-dasharray="8.9,4.1"/>
<line x1="1313.1" y1="1329.6" x2="1313.1" y2="1787.6" stroke="#000" stroke-width="2.4" stroke-dasharray="8.9,4.1"/>
<line x1="1083.7" y1="1572.4" x2="1326.8" y2="1572.4" stroke="#000" stroke-width="2.4" stroke-dasharray="8.7,4"/>
<rect x="1083.7" y="1329.6" width="243.1" height="458.0" fill="none" stroke="#000" stroke-width="2.2"/>
<text x="1083.9" y="1851.0" font-size="39" text-anchor="middle" fill="#000" >Y</text>
<text x="1136.6" y="1851.0" font-size="39" text-anchor="middle" fill="#000" >Γ</text>
<text x="1187.9" y="1851.0" font-size="39" text-anchor="middle" fill="#000" >X</text>
<text x="1239.8" y="1851.0" font-size="39" text-anchor="middle" fill="#000" >M</text>
<text x="1313.7" y="1851.0" font-size="39" text-anchor="middle" fill="#000" >Γ</text>
<text x="1327.0" y="1851.0" font-size="39" text-anchor="middle" fill="#000" >Z</text>
<defs><linearGradient id="gTDM" x1="0" y1="0" x2="1" y2="0"><stop offset="0.0" stop-color="#67001f"/><stop offset="0.1" stop-color="#b2182b"/><stop offset="0.2" stop-color="#d6604d"/><stop offset="0.3" stop-color="#f4a582"/><stop offset="0.4" stop-color="#fddbc7"/><stop offset="0.5" stop-color="#f7f7f7"/><stop offset="0.6" stop-color="#d1e5f0"/><stop offset="0.7" stop-color="#92c5de"/><stop offset="0.8" stop-color="#4393c3"/><stop offset="0.9" stop-color="#2166ac"/><stop offset="1.0" stop-color="#053061"/></linearGradient></defs>
<rect x="104.8" y="1337.3" width="231.5" height="29.7" fill="url(#gTDM)" stroke="#000" stroke-width="1.6"/>
<line x1="144.4" y1="1337.3" x2="144.4" y2="1367.0" stroke="#333" stroke-width="1" />
<line x1="221.3" y1="1337.3" x2="221.3" y2="1367.0" stroke="#333" stroke-width="1" />
<line x1="298.6" y1="1337.3" x2="298.6" y2="1367.0" stroke="#333" stroke-width="1" />
<text x="214.0" y="1364.5" font-size="33" text-anchor="middle" fill="#000" >TDM</text>
<text x="142.0" y="1394.5" font-size="33" text-anchor="middle" fill="#000" >−20</text>
<text x="220.5" y="1394.5" font-size="33" text-anchor="middle" fill="#000" >0</text>
<text x="299.0" y="1394.5" font-size="33" text-anchor="middle" fill="#000" >20</text>
<text x="61.5" y="1452.7" font-size="40" text-anchor="end" fill="#000" >1</text>
<text x="65.5" y="1587.2" font-size="40" text-anchor="end" fill="#000" >0</text>
<text x="61.5" y="1721.7" font-size="40" text-anchor="end" fill="#000" >−1</text>
<text transform="translate(29,1655) rotate(-90)" font-size="34.5" textLength="170" lengthAdjust="spacingAndGlyphs">Energy (eV)</text>
<text x="-1.0" y="1331.1" font-size="34" text-anchor="start" fill="#000" >(e)</text>
<text x="160.5" y="1304.4" font-size="32.5" text-anchor="start" fill="#000" >In-plane</text>
<text x="313.5" y="1304.4" font-size="32.5" text-anchor="start" fill="#000" >30 GPa</text>
<text x="457.5" y="1304.4" font-size="32.5" text-anchor="start" fill="#000" >Out-of-plane</text>
<text x="815.5" y="1304.4" font-size="32.5" text-anchor="start" fill="#000" >In-plane</text>
<text x="967.0" y="1304.4" font-size="32.5" text-anchor="start" fill="#000" >50 GPa</text>
<text x="1111.5" y="1304.4" font-size="32.5" text-anchor="start" fill="#000" >Out-of-plane</text>
</svg></body></html>
